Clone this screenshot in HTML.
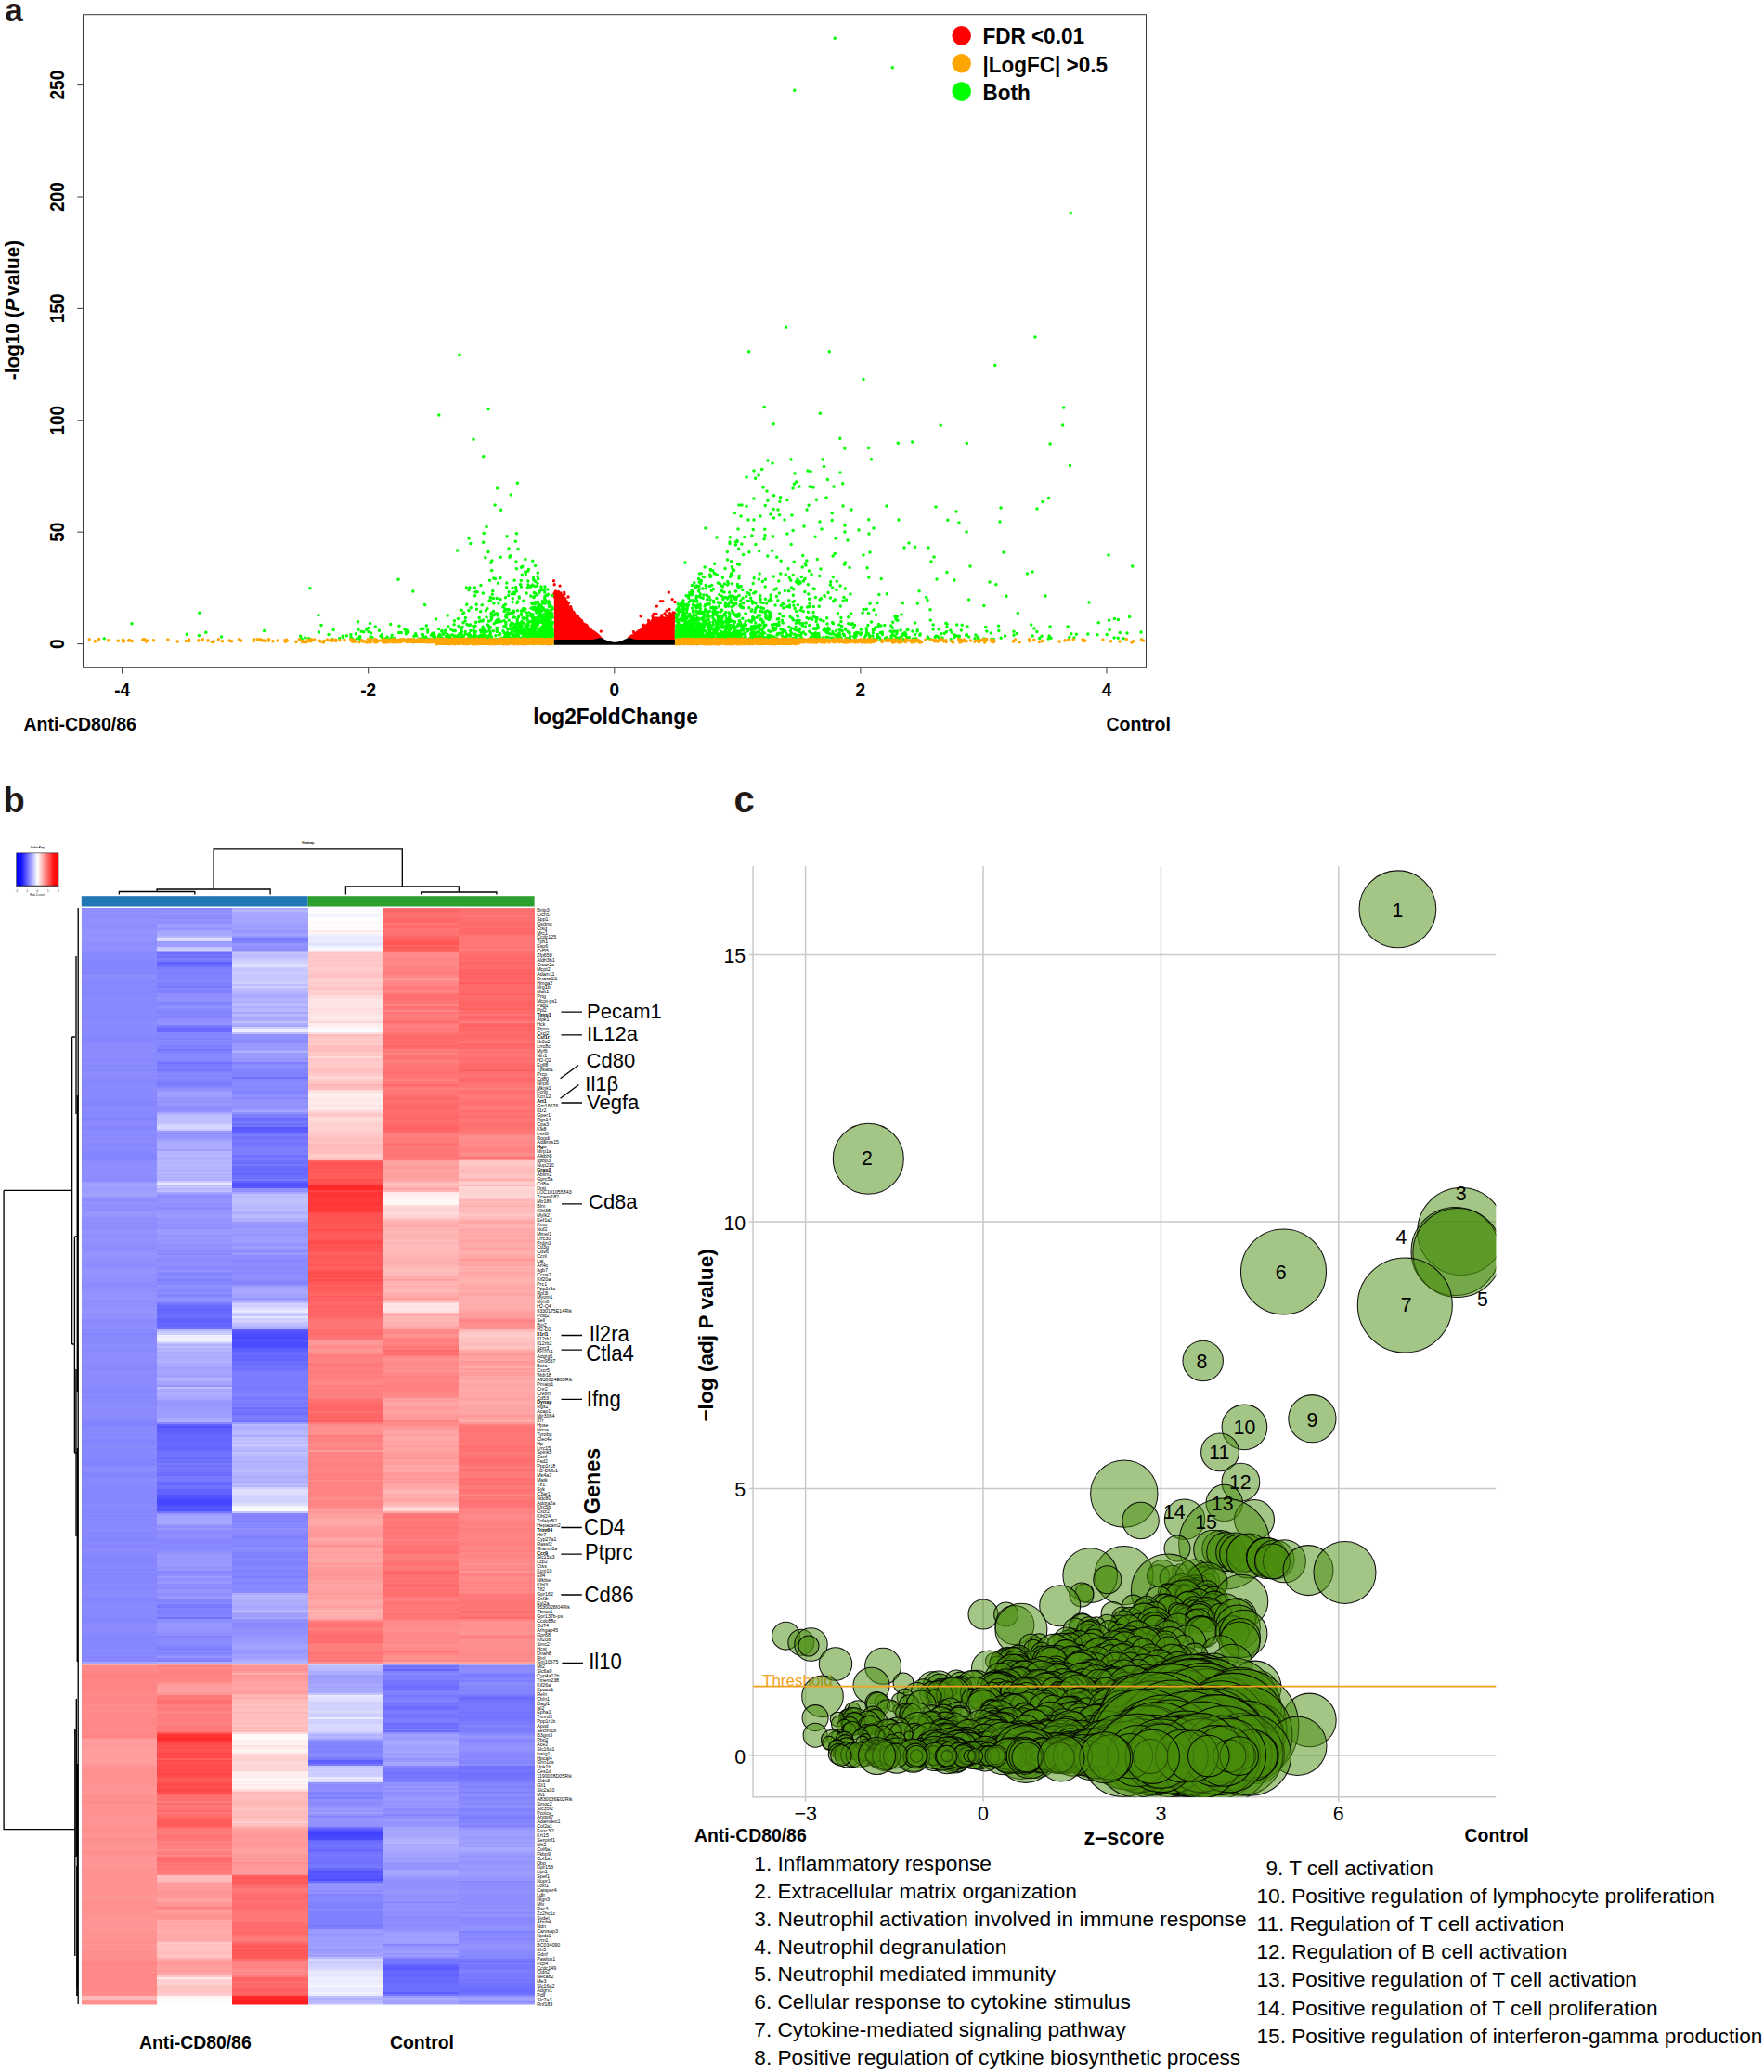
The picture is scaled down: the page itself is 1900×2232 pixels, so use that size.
<!DOCTYPE html>
<html lang="en"><head><meta charset="utf-8"><title>Figure</title>
<style>html,body{margin:0;padding:0;background:#fff}svg{display:block}text{font-family:"Liberation Sans",sans-serif;fill:#000}.b{font-weight:bold}</style></head><body>
<svg width="1900" height="2232" viewBox="0 0 1900 2232">
<rect width="1900" height="2232" fill="#fff"/>
<g id="panel-a">
<text class="b" x="5.2" y="23.2" font-size="35" style="fill:#231815">a</text>
<path d="M596.8 689 L596.8 639 L602 641 L607.2 644.5 L612.7 653.5 L619 662.5 L625.4 668.5 L634.4 678 L642.5 684.5 L646 687.6 L647.5 689 Z" fill="#f00"/>
<path d="M726.9 689 L726.9 661 L725 663 L714.2 666 L707 666.8 L701.5 669.5 L695.2 675.3 L688.8 679.6 L682.2 685 L678.8 687.6 L677.5 689 Z" fill="#f00"/>
<path d="M607.6 648.9h0M634.1 681.4h0M634.6 677.4h0M622.9 668.4h0M639.1 684.2h0M613.5 658.3h0M624.3 669.6h0M610.3 647.9h0M647.1 688h0M646.5 688h0M607.4 643.7h0M643.8 687.1h0M640.1 681.2h0M646.1 688h0M625.8 673.1h0M641.9 682.8h0M646 688h0M646 686.2h0M607.2 646.9h0M598.9 643h0M597.9 643.2h0M605 642.5h0M640 684.7h0M622 664h0M647.2 688h0M622.2 663.8h0M647.2 688h0M645.8 687.6h0M646.9 688h0M615.6 656.7h0M602.2 641.7h0M640.8 681.7h0M646.2 688h0M611 649.8h0M604.8 643.2h0M647.1 688h0M632.1 678.9h0M643.2 685.5h0M615.5 657.8h0M634.5 678.9h0M640.1 683.2h0M645.2 686.6h0M646.4 687.4h0M603.1 641.1h0M646.2 688h0M627 670.4h0M644.5 686.5h0M600.2 639.2h0M622.5 669.6h0M646.3 687.4h0M607.5 646h0M645.2 688h0M600.8 640.6h0M636.5 678.6h0M608.1 649.5h0M632 678.2h0M646.1 688h0M600.4 639.1h0M619 661.7h0M604.6 642h0M604.6 647h0M609.9 647.7h0M646.2 687.5h0M614.8 653.7h0M626.2 672.9h0M618.5 666h0M619.9 663.6h0M597.6 642.7h0M603.7 643.5h0M607.2 643.8h0M622.1 664.8h0M632.1 674h0M622.5 664.3h0M605.7 647.7h0M622.3 667.3h0M611.7 655.7h0M606.5 642.4h0M612.9 655.5h0M641.7 687.2h0M630.6 676.8h0M639.4 683.6h0M622.2 664.8h0M623.4 668.1h0M646 688h0M614.9 655.4h0M645.4 685.7h0M641.4 683.6h0M630.2 676h0M631.5 673.1h0M602.4 644.6h0M617.4 663h0M605.8 641.4h0M627.5 674.3h0M644.5 685.5h0M642.8 683.2h0M624.7 667h0M632.2 675.3h0M647.5 688h0M623.2 670h0M602.9 646.1h0M647.4 688h0M632.5 679.1h0M602.6 645.1h0M637 679.3h0M643.5 685.5h0M604.8 641.5h0M625.5 672.2h0M634.3 677.3h0M647.5 688h0M611.7 653.4h0M607.9 644.6h0M599.9 641.6h0M619.7 664h0M607 644.1h0M599.8 641.2h0M623.3 666.3h0M615.1 661.4h0M607.5 648.9h0M646.3 688h0M646.8 688h0M615.6 658.4h0M608.4 647.9h0M599.2 641.4h0M599.5 643.2h0M605.9 644.5h0M615.8 658.1h0M621.4 667.4h0M611.4 651.6h0M647.3 688h0M609.8 650.8h0M629.6 675.7h0M647.1 688h0M597.1 639.4h0M644.2 688h0M614.3 658.3h0M601.1 640.3h0M624.8 667.8h0M601.8 643.3h0M597.2 642.8h0M610.6 652.4h0M617.4 663.6h0M608.6 645.6h0M603.1 631.1h0M603.5 646.3h0M607.7 647.5h0M599.6 643.4h0M597 640.8h0M615.1 659.5h0M602.8 642.5h0M620 665.1h0M597.8 638.1h0M642.5 688h0M633.3 676h0M646.7 688h0M616.1 659.4h0M634.6 681.8h0M618.3 662.7h0M607.7 638.1h0M643.1 688h0M603.8 641.3h0M641.3 683.8h0M646.9 688h0M610.4 651.8h0M603.4 645.1h0M625 672.6h0M641.8 682.9h0M601.8 641.3h0M621.7 667.5h0M606.7 646.2h0M646.5 687.8h0M618.2 660.6h0M646.3 688h0M597.2 629.8h0M607.8 645.8h0M646.4 688h0M615.3 656.1h0M632.6 679.3h0M602.4 643h0M635.3 680.4h0M623.5 668.8h0M636.8 680.2h0M635.5 677.9h0M624.2 670.3h0M614.2 655.5h0M608.9 645h0M602.5 641.9h0M606.9 645.4h0M597.8 641.7h0M626.7 668.8h0M647 688h0M614.3 659.2h0M645.8 688h0M613.2 654.3h0M643.8 688h0M644.2 684.5h0M617.9 659.6h0M627.8 673.9h0M646.5 688h0M647.3 688h0M643.7 688h0M631.7 676.9h0M644.8 685.5h0M640.2 686.3h0M620.5 663.6h0M599.6 639.1h0M625.5 669.2h0M627.1 674.1h0M611.7 655h0M645.9 688h0M600.3 639.5h0M638.9 680.5h0M630.1 672.9h0M599.1 639.9h0M608 645.8h0M630.8 674.6h0M603.6 642.3h0M617.8 659.5h0M613.8 656.2h0M607.7 644.6h0M642.6 683.9h0M625.3 668.6h0M647.3 680.1h0M597.1 640.5h0M609.6 651.9h0M616.4 660.8h0M628.5 671.9h0M647.4 688h0M646.9 688h0M613.7 656.7h0M642.9 686.7h0M699.4 672.1h0M678.2 688h0M693 675.5h0M705.9 666.8h0M711.8 670.7h0M691 680.9h0M679.1 688h0M684.5 682.5h0M724.4 665.4h0M720.7 667.4h0M726.4 661.6h0M678.2 688h0M720.7 666h0M702.4 671.4h0M688 683.6h0M683.6 688h0M688.4 679.7h0M691.7 679.5h0M691.5 680.5h0M697.2 677.4h0M678 688h0M699 674h0M688.9 681h0M682.6 684.7h0M721.9 663.5h0M695 675.3h0M712.9 667.5h0M690.8 679.8h0M720.5 667h0M695.6 675.5h0M704.3 670.3h0M711 667.5h0M694.5 677h0M694.9 675.6h0M698.5 668.4h0M707.1 666h0M710.6 669.9h0M677.6 687.3h0M698.5 671.6h0M679.7 688h0M684.2 687.5h0M707.8 670.5h0M713.1 664.6h0M701.4 672.5h0M693.2 673.2h0M699.2 672h0M686.4 681.3h0M684.9 684.1h0M707.1 668h0M687.1 683.8h0M690.4 681.2h0M677.6 688h0M699.3 670h0M698.6 672.3h0M725.6 664.9h0M723.3 665.3h0M678.6 688h0M679.9 688h0M704.9 670.3h0M720.9 664.7h0M725.5 662.6h0M701.5 672.3h0M680.8 685.2h0M709 666.3h0M677.5 688h0M682.3 687.1h0M712.5 664.8h0M693.3 679.1h0M680.2 688h0M695.9 676.3h0M685.6 683h0M705 668.7h0M694.2 675.6h0M707.1 670h0M678.4 688h0M682.8 687.7h0M715.8 667.9h0M707.2 669.8h0M700.3 672.3h0M697.7 677.4h0M702.9 664h0M677.9 688h0M688.7 684h0M686.5 681.3h0M714.1 668.2h0M710.7 666.1h0M724.6 662.2h0M677.7 688h0M721 666.4h0M678.6 686.5h0M723.6 662.1h0M722 661.6h0M725.1 666.6h0M725.2 665.8h0M691.9 679.9h0M682.7 687.8h0M677.5 688h0M682.9 683.4h0M703.4 665.6h0M706.4 668.5h0M704.3 669.9h0M699 673h0M680.1 688h0M678.5 688h0M680.2 686.1h0M683.5 686.7h0M698.4 672.5h0M704.3 666.3h0M723.7 662.4h0M679.6 688h0M715.6 666h0M720.1 667.7h0M698.7 670.8h0M726.5 661h0M715.8 667.4h0M703.6 671.2h0M709.3 667.3h0M723.5 662.9h0M681 687.4h0M699.2 669.4h0M707 668h0M691.2 682h0M709.5 669.5h0M709.9 667.1h0M688.6 681.2h0M726.4 660.1h0M707.4 666.2h0M703.2 668.3h0M696.7 673.2h0M678.4 686.7h0M717.6 662.9h0M688 680.6h0M715 666.5h0M680 685.2h0M712.8 662.8h0M721.6 664.7h0M688.7 683.7h0M677.7 688h0M725.1 660h0M709.7 669.9h0M721.6 660.7h0M698.9 673.9h0M726.3 665.4h0M695.9 677.6h0M725.1 661.4h0M709.6 667h0M683.3 687.1h0M678.6 688h0M718.9 667.7h0M693.9 679.1h0M713.2 670.4h0M698.5 675.7h0M719.5 665.4h0M723.2 664.7h0M680.4 685.1h0M723.4 665.1h0M678.1 688h0M680.9 688h0M692.7 680.6h0M678.1 688h0M679.8 687.7h0M688.3 683.5h0M702.7 668.2h0M691.9 680.5h0M688.8 681h0M681.8 688h0M698.9 673.6h0M724.9 661.9h0M690.2 681.3h0M679.5 687h0M726.2 663.7h0M715.6 666.6h0M680.8 685.4h0M708.8 670.8h0M708.4 666.7h0M690.9 677.8h0M693.5 676.8h0M687.9 679.8h0M707 661.4h0M680.9 688h0M719.9 668.6h0M677.7 688h0M686.5 682.8h0M714.6 670.2h0M679.6 687.1h0M678.1 688h0M718.6 665.7h0M682.4 680.6h0M714.7 666.3h0M708.3 667.5h0M726.5 661.2h0M714.1 666.2h0M698.6 671.7h0M712.1 666.8h0M702.8 668.9h0M713.8 666.6h0M702.3 670h0M713.7 667.6h0M678.5 688h0M690.1 663.7h0M596.5 625.8h0M598.5 637h0M601.5 637.5h0M604 639h0M608 640h0M612 643h0M612.5 649.5h0M613 655h0M720.4 638.1h0M724.2 645.6h0M727 648.5h0M711.5 647.6h0M713.8 647.6h0M707.4 653.1h0M718 658h0M721 656.5h0M716 661h0M704 661.5h0" fill="none" stroke="#f00" stroke-width="3.4" stroke-linecap="round"/>
<path d="M760.2 630.4h0M734.3 681.6h0M733 688.4h0M774.8 683.1h0M773.5 685.9h0M748.8 631.9h0M798.8 585.9h0M732 683.6h0M740.9 672h0M867.2 607.2h0M811.8 665.7h0M733.4 679.4h0M821.8 677.4h0M800.5 679.1h0M858.1 679h0M798.3 631.8h0M738.4 664.6h0M741.6 688.3h0M818.7 663.1h0M899.3 646.1h0M802.2 671.9h0M878.7 665.8h0M817.7 593.8h0M813.7 637.7h0M755.6 666.3h0M730 686.2h0M739.5 666.5h0M896.6 633h0M793.6 643.2h0M892 638.6h0M764.6 618.9h0M741.5 676.7h0M749.9 671.6h0M753.1 660.6h0M765.9 620.5h0M824.5 659h0M820.7 505.5h0M852.5 633h0M769 686.5h0M810.7 683.7h0M747.3 668.4h0M732.5 682.3h0M736.9 688.6h0M898.5 683.2h0M752 680h0M779.6 686.8h0M736.9 683.8h0M873.1 686.8h0M975.9 683.3h0M792.5 637.1h0M1043.6 646h0M752.9 685.3h0M849.5 636.7h0M1072.8 629.8h0M838.7 626.1h0M764.2 687.4h0M755 626.2h0M985.7 589.2h0M982.9 680h0M749.2 677.5h0M808.5 635.8h0M781.7 648.9h0M735.4 649.2h0M853.4 666.2h0M744.2 681.6h0M860.7 670.8h0M770.2 659.2h0M743.4 681.2h0M921.4 683.3h0M872 650.3h0M763.5 685.9h0M729.3 673.4h0M789.5 674.1h0M896.9 680.5h0M751.9 674.8h0M800.6 649.7h0M739.6 681.4h0M778.4 631.7h0M772.9 672.6h0M790.4 688.5h0M775.7 688.8h0M860 628.9h0M834.2 676.2h0M788.1 649.2h0M737.3 684.2h0M754.7 674.5h0M795.9 623h0M776.2 672.1h0M787.1 673.5h0M790.7 614.2h0M826.8 599h0M752.8 631.4h0M878.7 676.8h0M776 671.8h0M734.3 664h0M748.5 679.2h0M783 644.1h0M742.5 675.9h0M762.1 667.3h0M833.3 620.9h0M775.8 663.9h0M808.4 687.1h0M754 660h0M927.3 678.2h0M741.4 673.9h0M827.1 684.2h0M823.8 686.7h0M887.5 502.5h0M777.8 669.4h0M942.8 676h0M789.6 681.1h0M742.5 678.4h0M758.8 658.8h0M756.2 685h0M763.1 672.6h0M729.3 677h0M745.3 638h0M737.3 679.4h0M784.2 676.4h0M786.1 585.4h0M762.6 662.2h0M811.1 676.5h0M732.7 686h0M839.1 673.6h0M735.3 655.2h0M819.3 667h0M756.6 685.5h0M1023.8 678.9h0M1005.2 673.1h0M728.2 679.7h0M785.5 642.4h0M728.5 685.4h0M770 687.7h0M757.9 640.9h0M790 660.9h0M831.5 673.1h0M760.5 685.5h0M833.9 687.6h0M876.3 653.4h0M836.9 684.1h0M789 642h0M862.3 657.3h0M911.6 646.3h0M749.5 681.8h0M795.3 662.4h0M821.9 688.9h0M859.4 663.9h0M791 687.2h0M837.8 682.4h0M753.4 684.4h0M838.7 666.4h0M767.7 662.9h0M847.8 653.6h0M734.7 676.5h0M839.8 661.1h0M729.1 676.9h0M819.7 654.6h0M756.3 676.1h0M746.3 637h0M729.5 663.3h0M1011.2 677.7h0M747.4 684.5h0M799.7 635.6h0M907.2 679.5h0M915.4 688.1h0M728.4 680.3h0M757.6 666h0M759.3 689h0M842.2 684.7h0M801.2 673.4h0M754.5 683.3h0M751.6 652h0M745.4 630.5h0M905.3 653h0M929.1 660.2h0M832.6 578.1h0M777.3 663.9h0M739.3 681.7h0M752.8 681.8h0M795 684.1h0M1192.2 683.6h0M745.6 668.6h0M735.9 676h0M797.4 651.2h0M771.8 671.7h0M766.9 687.6h0M754.8 686.3h0M785.6 638.2h0M748.1 674.8h0M770 618h0M883.3 688.2h0M730.8 654.2h0M780.8 689h0M768.9 649h0M887 678.7h0M737.6 656.2h0M822.2 649.5h0M813.7 670.9h0M794 582.6h0M749.8 668.7h0M757.8 673.2h0M811.2 685.5h0M734.1 674.8h0M768.4 634.5h0M728.9 679.9h0M828.3 688.3h0M784.8 675.2h0M752.5 637h0M749.2 668.2h0M772.9 683.8h0M859.1 663.8h0M747 681.9h0M869 665.5h0M784.3 672.4h0M772.4 619.3h0M741.1 684.8h0M1028.4 684h0M733.2 652.4h0M904.8 472.2h0M948.5 681.6h0M953.8 687.9h0M817.8 674.8h0M761.2 688.9h0M755 625.2h0M738.9 685h0M764.3 650.8h0M774.6 649.3h0M766.4 684.2h0M765.3 688.3h0M771.5 655.1h0M731.5 686.4h0M935.7 559.8h0M806.9 594.8h0M759.3 688.8h0M843.9 655h0M963.9 664h0M781.1 612.5h0M768.2 655.7h0M784 683.9h0M861.4 626.5h0M849.9 675.2h0M759.7 656.5h0M751.4 687.2h0M794.2 583.6h0M904.7 677.9h0M735.3 659.3h0M829.7 680.5h0M772.4 662.7h0M841.3 652.4h0M738.7 683h0M796.8 652.5h0M746.3 675.2h0M741.8 673.5h0M786.3 578.8h0M815.1 685.8h0M781 643.4h0M930.1 656.4h0M800 676.1h0M893.3 678.2h0M851.7 685.1h0M802.6 682.1h0M765.9 675.7h0M752.3 667.9h0M746.8 669.5h0M821.3 659.1h0M746.8 674h0M733.4 667.9h0M793.7 686.5h0M742.8 679.4h0M755.4 626h0M758.9 679.7h0M765.2 613.6h0M773.4 676.7h0M904.3 682.6h0M729.3 673.7h0M785.8 666.9h0M788.6 686h0M783.5 603h0M1033 687h0M871.1 544.3h0M748.7 652.8h0M873.3 665.9h0M770 677.9h0M915.1 611.4h0M731.3 687.1h0M803.3 661.2h0M758.1 670.6h0M773.7 675h0M775.5 628.9h0M783.3 594.5h0M852.5 682.1h0M780.8 680.2h0M774.4 652.9h0M786.7 621.3h0M735.1 664.2h0M786.9 642.1h0M767.1 685.7h0M888 641.5h0M783.7 626.4h0M742.9 640.5h0M733.6 666.2h0M742.3 683.2h0M867 623.5h0M935.5 660.4h0M786 688.1h0M821.6 683.3h0M854.3 619.6h0M811.2 628.4h0M794.6 631.3h0M737.2 672.1h0M769.3 682h0M1110.7 672.9h0M847 682.4h0M839.9 540.3h0M800.5 678.6h0M728.2 682.9h0M806.7 668.4h0M913.7 664.8h0M815.1 688.8h0M764.1 663.6h0M748.9 671.8h0M746.8 676.8h0M740 684.1h0M741.4 641.7h0M896.6 670.5h0M753.3 634.7h0M796 660.9h0M776.3 657.2h0M751.6 688.1h0M790.4 681.9h0M733 688.8h0M793.9 684.9h0M746.4 675.7h0M812.4 683.4h0M758.5 688h0M909 643.6h0M728.6 668.9h0M779.5 674.2h0M749.1 675.7h0M731.3 667.5h0M825.7 650h0M753.5 677.4h0M855.7 678.1h0M812.5 681.8h0M902.4 660.7h0M750.2 632.2h0M840.7 618h0M809.9 657.1h0M888.2 642.4h0M797.5 682.5h0M740.9 683.8h0M945.4 683.5h0M810.6 649.9h0M733.7 681.7h0M867.9 608.9h0M733.7 649.3h0M965.4 667.4h0M865.4 626.1h0M810.1 681h0M736.5 685.2h0M759.7 688.6h0M752.5 623.5h0M765.8 614.6h0M785.7 664.4h0M730.7 680.2h0M849.9 646.7h0M791.5 552.6h0M735.9 685.9h0M859 625.3h0M763.1 682.4h0M964.8 666.3h0M826.9 685.3h0M811.2 570.6h0M826.2 657.9h0M764.2 677.9h0M909.8 483.1h0M730.2 676.9h0M918.3 671.8h0M905.1 631h0M790.4 652.3h0M813.5 677.3h0M741.9 669.5h0M839.4 639h0M850.1 684.3h0M779 682.4h0M745.6 666.3h0M880.6 673.1h0M751.5 674.4h0M742.5 685.2h0M1031.7 685.1h0M997.7 643.5h0M858.3 668.6h0M746 686.9h0M747.1 688.4h0M769.9 661.8h0M785.1 673.2h0M740.6 679.8h0M839.1 670.3h0M798.2 674h0M749.4 647.7h0M850.3 622.5h0M821.6 670.4h0M758.9 686.8h0M772.8 659.6h0M809.7 647.3h0M778 676.2h0M820.5 682.8h0M815.4 674.3h0M783.4 688h0M792.5 583.7h0M960.1 685.2h0M798.3 654.3h0M787.1 643.5h0M788.7 612.1h0M747.5 679.5h0M764.2 670.6h0M770 656.5h0M772.9 678.8h0M753.4 617.9h0M959.2 680.1h0M861 680.4h0M739.5 660h0M810.7 664.8h0M749.1 680.6h0M811.8 639.1h0M780 638h0M739.1 681.4h0M884.3 644.7h0M752.1 684.9h0M728.3 684.2h0M751.2 676.1h0M774.1 663.5h0M765.1 646.1h0M732.9 651.3h0M854 525.9h0M810.5 688.1h0M977.2 678.6h0M736.9 677.3h0M851.1 683.2h0M920.7 682.4h0M910.3 634.1h0M818.8 641.8h0M878.1 578.2h0M790.3 673.9h0M904.2 677.9h0M750 654.4h0M733 686.5h0M783.6 669.4h0M891.4 516.5h0M779.9 662h0M879 669.4h0M730.5 671.4h0M782.6 688.2h0M832.2 675.7h0M890.7 665.8h0M789.3 682.8h0M775 669.7h0M872.1 523.9h0M770.6 681.7h0M786.1 661.8h0M857.1 675.4h0M757.3 668h0M854.1 571.4h0M906.2 687.2h0M757.4 677.6h0M937.1 650.3h0M856 655.4h0M806.9 654.8h0M802.6 682.3h0M818.4 645.3h0M736.9 687.4h0M850.5 651.9h0M765.9 654.4h0M795.9 663.7h0M773.1 675.7h0M812.4 687.4h0M797 680h0M864.7 598.4h0M776.7 658.3h0M801.7 578.4h0M781.1 686.3h0M813.1 676.3h0M738.7 687.4h0M895.5 687.3h0M832.5 577.8h0M830.8 647h0M735.3 668.6h0M778.8 681.8h0M1002 688.6h0M729.3 663.6h0M734.9 667.5h0M743 676.9h0M733.1 675.3h0M775.5 685.3h0M859.3 651.8h0M809.7 674.8h0M854.9 634.7h0M796.8 684.6h0M804.6 638.5h0M803.6 673.2h0M908.1 647.3h0M803.7 642.4h0M755.5 672.7h0M773.2 649.1h0M907.6 520.8h0M865.3 658.4h0M754.4 655.5h0M822.9 675.8h0M735.4 662.6h0M746.5 638.3h0M750 666.9h0M779.5 670.2h0M842.4 668.3h0M735.6 664.4h0M749.9 644.6h0M905.9 665.6h0M801.2 673.5h0M744.5 680.7h0M796.4 669.2h0M766.6 630.4h0M855.3 605.3h0M762.8 688.6h0M730.9 658h0M782.8 681.4h0M852.2 586.5h0M847.9 575.1h0M752.2 677.4h0M744.5 686.5h0M795.1 672.5h0M969.8 686.6h0M803 685.4h0M985.6 671h0M1122 685.3h0M752.4 642.4h0M921.1 687.3h0M854.9 652.2h0M1075.6 674.3h0M843.6 650.8h0M757.2 659.4h0M737.2 684h0M739 685.8h0M750.5 631.1h0M729.1 685.8h0M731.1 685.2h0M879.8 667.3h0M762.2 674.9h0M809.4 670.1h0M732.9 676.2h0M740.9 683.5h0M771.7 669.8h0M878.5 682.4h0M783.6 630.1h0M738 688h0M913.3 680.5h0M781.4 669.7h0M941 656.9h0M789.5 650.2h0M744.4 666h0M746.1 684.5h0M805.2 679.9h0M747 665.6h0M865.2 680.9h0M733.7 680.5h0M833.2 548.6h0M761.6 645.7h0M781.3 681.3h0M745 680.5h0M742.7 672.6h0M728.5 680.4h0M787.6 604.7h0M867.4 675h0M830.1 644.5h0M784.2 669.9h0M748.9 683.6h0M751.8 688.4h0M736.4 685.4h0M729.5 676.1h0M788.9 686.2h0M895.4 687.4h0M738.9 677h0M755 661.3h0M740.2 654.2h0M741.2 664.5h0M742.8 638.6h0M768.5 647.2h0M789.4 614.9h0M851.4 679.4h0M862.2 628.1h0M882.7 620.6h0M988.3 678.7h0M773.1 678.3h0M790.3 650.3h0M785.8 679h0M864.2 611h0M730.9 684.2h0M821.3 626.4h0M940.3 678.6h0M788.4 610.7h0M755.9 667.5h0M787.3 646.8h0M790.8 680h0M739.6 665.2h0M756 684.1h0M793 663.9h0M797.5 682.9h0M829.9 663.6h0M806 678.4h0M750.9 652.1h0M767.8 688.8h0M763.8 683h0M794.9 680h0M733.8 679.6h0M733.3 679.7h0M837.3 667.1h0M991.2 683h0M761.9 664.6h0M806.8 639.6h0M788 653.8h0M845.3 636.6h0M829.4 684.7h0M896.3 552.8h0M800.5 597.5h0M797.8 647.1h0M897.5 671.8h0M777.5 657.8h0M756.6 672.2h0M768 653.9h0M883.7 667.8h0M744.8 686.1h0M798.5 686.5h0M935.8 622.1h0M990.1 636.8h0M729 656.9h0M784.6 651.3h0M791.6 669.7h0M787.9 676.2h0M764.5 679.4h0M970.9 662.1h0M736.6 680.4h0M795.8 631.6h0M1002.3 668.1h0M808.6 676.8h0M790.1 684.1h0M759.5 651.8h0M824.3 544.5h0M908.1 682.9h0M756.2 674.5h0M745.2 640.8h0M804 545.3h0M811.2 648.5h0M855.4 647.4h0M728.4 662h0M800.6 682.9h0M784.7 681.2h0M813.6 515.3h0M798.3 685.5h0M742.1 687h0M736.7 656.6h0M870.4 629.7h0M760.1 679.7h0M743.3 684h0M920.5 673.5h0M777.2 687.7h0M909.9 573.1h0M775.7 682.1h0M731.8 658.8h0M759.1 653.1h0M757.8 621.4h0M784.3 682h0M768.7 683.3h0M758.5 675h0M857.4 671.3h0M756.3 686.5h0M790.8 675.4h0M763.6 676.9h0M755.5 687.1h0M817.8 683.9h0M828.6 663h0M876.2 634h0M876.8 682.8h0M763.8 678.6h0M785.8 648.9h0M739.6 683.7h0M917 672.5h0M751.3 684.3h0M897.3 621.5h0M792.4 586.9h0M768 669.9h0M758.7 687.1h0M744.1 681.9h0M817.4 624.1h0M764.9 681.2h0M733.7 684.9h0M739.2 683.2h0M770.5 654.5h0M904.2 683.9h0M754.7 628.5h0M817.6 672.9h0M816.5 680.4h0M882.2 653.2h0M836.9 687.7h0M731.4 680.1h0M757.7 688.2h0M758.7 684.8h0M878.4 643.5h0M752.2 666h0M851.2 685h0M886.3 687.3h0M747.5 662.6h0M735.5 680.7h0M841.2 678h0M735.8 679.8h0M946.9 640.6h0M809.4 687.4h0M826.5 666.4h0M827.8 679.4h0M793 661.9h0M792.6 684.8h0M764.5 684h0M758.6 621.5h0M819.3 667.1h0M787.6 618h0M740.7 681.8h0M866.9 637.4h0M743.3 672.3h0M778.9 645.4h0M738.1 669h0M747.1 672.7h0M746.1 677.8h0M737.9 678.2h0M765.1 684.7h0M729 668.4h0M796.2 641.6h0M774.9 640.4h0M728.8 673.7h0M809.3 658.3h0M751.9 681.3h0M730.4 661h0M757 633.9h0M881.7 682.4h0M854.3 641.2h0M759.8 671.9h0M766 682.9h0M731.5 673.6h0M868.9 603.9h0M966.3 664h0M742.2 648.2h0M734.9 686.1h0M776.2 686.8h0M731.4 685.7h0M833.6 533.7h0M887 669h0M755.4 674.1h0M773 675.4h0M818.2 617.9h0M742.8 661.3h0M796.2 683.1h0M735.4 678.8h0M1019.9 616.6h0M820.8 678.2h0M797.6 671.1h0M813.7 656.5h0M905.9 669.4h0M821.4 686.3h0M816.8 662.8h0M772.3 669.5h0M769.6 677.1h0M909.5 684.7h0M890.9 679.7h0M790.3 643.1h0M794.4 629.5h0M737.9 673.8h0M734.9 687.8h0M775.7 669.8h0M831.1 685.1h0M1112.1 685.1h0M873.8 682.2h0M851.1 664.5h0M766.4 636.3h0M747.8 627.8h0M773.7 666h0M897.1 598.9h0M896.2 560.5h0M762.4 664.1h0M871.6 645.2h0M837.9 646.7h0M731.7 687.4h0M793.5 685.8h0M941.3 678.4h0M745.7 654.9h0M799.6 687.5h0M737.7 685.5h0M794.5 607.7h0M791.6 645.3h0M972.3 649.7h0M741.5 652h0M860.5 670.1h0M868.2 671h0M769.2 667.4h0M734.6 685h0M912.5 687.4h0M743.4 677.5h0M798.8 677h0M728.6 683.1h0M754.2 652.3h0M753.1 673.9h0M986.6 687.8h0M795.7 633.3h0M850.4 654h0M897.5 647.7h0M757.9 660.8h0M786.5 677.9h0M793.8 687.4h0M782 682h0M750.1 686.2h0M728.7 680.1h0M776.5 680.3h0M743.3 672h0M758.4 672.1h0M734.9 651.8h0M894.7 626.8h0M916.6 661.1h0M730 676.7h0M828.2 646.9h0M746.4 651.3h0M813.9 586.6h0M999.3 686h0M864.3 674h0M740.2 653.7h0M899.3 596.5h0M747.7 662.5h0M814.1 655.2h0M761.9 658.8h0M731.9 682.6h0M784.1 681.5h0M796.3 687.5h0M806.3 677.6h0M736.1 682.3h0M847.9 538.4h0M773.3 668.1h0M794.6 664.2h0M761.1 682.6h0M830.2 641.1h0M777.7 642.2h0M960.6 688.2h0M781.1 652h0M765.1 683.3h0M844.2 686.5h0M739.9 657.2h0M765.5 677.7h0M838.1 683.2h0M730.5 684.8h0M1059.8 652.5h0M762.8 675.6h0M760.2 686.6h0M836.7 600.2h0M770.3 687.6h0M796.3 620.6h0M966.4 679.9h0M751.9 659.5h0M748.1 685.7h0M891.5 677.8h0M842.5 677.8h0M761.2 641.2h0M742.6 672.5h0M777.7 636.9h0M747.4 680.5h0M852.4 682h0M892 676.3h0M728.9 686.6h0M837.5 673.1h0M822.4 655.6h0M934.1 611.8h0M824.2 632h0M749.7 686.9h0M729.7 683.3h0M901.3 626.3h0M740.1 685.6h0M823.1 580.8h0M785.2 660.1h0M784.4 678.1h0M748 647.8h0M836.1 672.4h0M753.3 686.7h0M786.5 668.1h0M765.1 621.6h0M815.1 665.2h0M824.4 624.3h0M832 676.7h0M772.7 677.5h0M768.1 685.5h0M752.2 679.6h0M750.7 682.7h0M880.3 602.6h0M732.2 682.8h0M813.5 677.8h0M1020.8 560.2h0M750 662.4h0M767.2 677.7h0M789.5 659.4h0M760 672.3h0M748.8 683.1h0M781.3 679.1h0M943.5 662.2h0M789.7 681.9h0M743.6 677.7h0M812.2 622.8h0M894.4 643.9h0M874.7 684.3h0M741.8 684h0M764.3 672.7h0M777.6 657.2h0M1204.4 667.5h0M781.6 653.6h0M741.4 680.8h0M788.5 657.7h0M762.2 688.6h0M746.5 687.9h0M744.2 683.1h0M735.9 656.3h0M746.6 659.3h0M807.1 687.7h0M776.1 659h0M756.8 667.3h0M864.9 671.4h0M799.1 683.2h0M1020.1 672.2h0M818.1 686.8h0M844 663.7h0M784.5 653.1h0M730.2 679.6h0M779 675.9h0M780.8 674.6h0M783.6 645.1h0M819.3 673.4h0M731.5 676.4h0M848.6 684.7h0M796.4 608.2h0M830.1 687.2h0M824.6 661.6h0M867.6 683.3h0M761.5 688.9h0M1096.3 660.4h0M794.7 674.3h0M732.4 657.1h0M861.2 678.3h0M746.6 651.1h0M766.5 673.9h0M800.1 644.2h0M746.4 673.7h0M732.4 677h0M771.3 679.9h0M754.3 682h0M830 660.3h0M777.9 674.7h0M901 635.6h0M811.9 537h0M734.2 685.8h0M820.2 678.3h0M747.6 686h0M933.5 679h0M772.1 682h0M922.3 682.9h0M732.9 688.3h0M876.7 664.2h0M799.8 666.2h0M741.8 682h0M879.4 538.2h0M1050 687.8h0M767.4 683.3h0M792.9 645.7h0M835.1 651.9h0M738.1 686.8h0M756.3 660.2h0M784.5 686.5h0M782.6 666.2h0M792 678.6h0M754.1 651.1h0M749.3 688.4h0M803.1 677.1h0M965.5 687.2h0M761.4 682.9h0M839.5 554.8h0M757.2 644.5h0M736.3 663h0M802.5 688.1h0M787.3 619.2h0M739.7 681.4h0M766.7 685h0M743.4 681.7h0M879.9 665.4h0M738.3 675.8h0M738.4 685.9h0M791.1 677h0M746.2 684.7h0M785.3 688.6h0M824 576.6h0M741.8 687.6h0M769.1 681.1h0M909.8 607.9h0M750 659h0M830 665.5h0M803.2 687.8h0M807.2 640.5h0M762.5 675.5h0M771.7 686.9h0M751.2 666.5h0M741.6 686.3h0M746.2 669.3h0M784.6 628.4h0M842.5 681.5h0M808.7 644.2h0M736 681.8h0M742.6 668.8h0M840.6 535.7h0M955.4 639.7h0M861.2 668.4h0M871.4 615.1h0M757.3 673.2h0M855.4 521.2h0M749.8 657.9h0M750.3 642.2h0M823.1 673.6h0M854 648.6h0M961.7 670.2h0M735.6 658.9h0M762.2 649.6h0M857.5 626.7h0M772.7 674.6h0M761.7 664.4h0M881 676.5h0M776 649.4h0M738.6 688.3h0M870.4 659.3h0M988 679.9h0M909.4 608h0M769.3 617.4h0M786.2 683.6h0M874 618.7h0M777.9 682h0M763.8 642.9h0M891 672h0M945 649.4h0M734.6 679.4h0M988.3 649.9h0M810.2 667.4h0M820.8 667.8h0M765.2 687.7h0M876.1 659.6h0M776.9 635.4h0M835.3 687.9h0M910.5 605.9h0M798.7 653.4h0M841.1 678h0M846.2 619.1h0M772.9 664.4h0M862.4 671.7h0M999.1 646.6h0M754.8 643.5h0M871.7 673.6h0M740.5 651.9h0M742.6 685.6h0M758.8 669.6h0M767.8 614.7h0M745.1 635.4h0M746.1 678.2h0M737.5 666.8h0M768.1 682h0M746.8 677.7h0M877.2 634.6h0M759.1 610.9h0M780.3 661.6h0M842.9 649.5h0M933.1 676.7h0M809.8 577.1h0M731.5 676h0M763.9 682.2h0M751 648.1h0M843.2 671h0M863.6 654.6h0M813.1 659.2h0M824.9 673.3h0M959.8 673.9h0M769 679.2h0M745 674.9h0M788.6 628.7h0M739.9 687.8h0M771.9 644.4h0M818.6 673.3h0M798.1 556h0M855.7 683.2h0M819.6 667.8h0M915.9 639.9h0M814.1 684.8h0M828.2 658.9h0M754.5 639.9h0M871 666.5h0M748.9 632.2h0M1030.7 672.9h0M826.9 539.3h0M760.4 633.7h0M740.4 686.2h0M776.6 649.3h0M731.4 687.2h0M749 681h0M761.1 683.7h0M857.7 519.1h0M864 687.9h0M851.8 625.2h0M773.4 627.9h0M834 672.4h0M787 682.4h0M894.3 630.1h0M781.5 649.8h0M822.4 670.3h0M762.4 659.8h0M755.4 617.8h0M787.7 683.3h0M828 663.5h0M795.6 591.2h0M841.2 604.3h0M833.4 686.9h0M833.3 679.1h0M764.2 631.5h0M1119.6 687.4h0M743.9 646.8h0M862.2 685.1h0M780.4 628.9h0M858.2 627.2h0M739.4 651.4h0M786.4 669.6h0M729.8 670.3h0M966.9 668.3h0M836.4 634.1h0M879.4 687.8h0M747.9 679.9h0M728.8 666.2h0M790.9 662.2h0M808.6 669.8h0M811.9 667.7h0M922.2 685.1h0M801.6 672.8h0M778.2 664.3h0M829 686.8h0M834 635.2h0M770.1 660.1h0M750.6 665.8h0M803.2 669h0M1084 642.2h0M870.8 640.1h0M861.5 684.3h0M750.7 684.1h0M819.7 657.9h0M934.9 673.4h0M729.6 687.4h0M1025.4 681.5h0M863.3 621.6h0M737.3 651.5h0M869.6 654.1h0M802.3 686.8h0M732.7 683.6h0M769.6 607.2h0M730.1 663.6h0M778.4 622.3h0M747.1 686.8h0M1036.2 673.3h0M736.2 657.2h0M883.1 646h0M757.7 685.7h0M804.7 647.4h0M728.6 684.4h0M825 666h0M778.1 666h0M814 649.7h0M858.9 623.9h0M831.7 593.3h0M884 613h0M744.4 678.2h0M828.8 659.4h0M763.3 686.8h0M776.1 663.5h0M949.2 623.5h0M842.9 663.8h0M771.8 673.1h0M906.7 674.6h0M849 612.7h0M858.2 685.1h0M871.5 653.4h0M765.7 613.7h0M742.5 670h0M791.6 675.2h0M824.5 645.3h0M751.6 687.6h0M824.6 664.6h0M1002 656.7h0M815.8 653.4h0M757.8 685.2h0M729.3 686.7h0M823.7 570.3h0M744.2 671.7h0M771.3 675.3h0M762.5 688.3h0M873.1 507.7h0M861.5 677.3h0M742.2 673.1h0M817 676.8h0M736.5 680.9h0M814.9 681.5h0M739.5 681.1h0M833.5 558h0M751.9 674.3h0M755.7 659.2h0M748.9 676.6h0M767.9 665.7h0M780.5 687.7h0M817.6 680.9h0M729.3 681.4h0M733 680.9h0M777.5 687.7h0M733.1 680.4h0M735.7 685.6h0M751.2 687.4h0M730.9 683.1h0M753.3 652.5h0M760.3 688h0M738.1 671h0M761 662h0M858.6 663.2h0M732.7 650.9h0M757.7 685.4h0M735.5 662.5h0M737.6 687.9h0M740.3 654.9h0M752.6 671.6h0M731.2 681h0M743.3 686h0M771.3 683.1h0M754.2 686.4h0M728.5 675h0M756.8 688.7h0M753.3 671.2h0M758.7 685.5h0M755.6 676.7h0M770 686.9h0M792.8 650.5h0M781.7 663.2h0M746.3 658.2h0M736.1 685.6h0M764.3 658.3h0M731.5 685.8h0M729.5 681.4h0M734.1 686.2h0M783 677.4h0M839.6 682.2h0M773.3 688.9h0M845.9 685.5h0M753.9 679.5h0M845.9 680.1h0M919.3 676.2h0M737.8 665.2h0M752.3 685.6h0M857.3 683.9h0M748.9 683.5h0M772 688.7h0M746.7 686.7h0M798.1 689h0M765.3 685.1h0M752.1 678.1h0M777.5 687.1h0M739 687.3h0M856.3 686.9h0M733.9 679.2h0M762.7 660.2h0M730.4 685.5h0M735.4 677.4h0M752 682.1h0M815.3 674.7h0M806.3 647.4h0M740.5 651.3h0M748.9 688.3h0M826 687.6h0M728.8 684.5h0M741.6 643.9h0M809.3 681.8h0M758 664h0M793.5 675h0M756.7 687.4h0M739.2 674.8h0M763.2 667.6h0M819.2 645.6h0M736.6 688h0M818.7 677.8h0M736 673.4h0M739.8 685.5h0M746.2 679.2h0M773.1 688h0M781.8 676.1h0M753.4 674.3h0M792 688.9h0M753.7 674h0M777.2 675.2h0M736 646.9h0M789.3 685.5h0M750.5 647.1h0M737.3 682.1h0M857.7 658.5h0M738.6 671.4h0M745.8 674.6h0M786 687.2h0M738.1 685.8h0M740.4 688.5h0M733.9 682.1h0M749.8 688h0M762.8 651.2h0M762.3 683.2h0M776.5 681.4h0M735.7 680.3h0M728.8 674.1h0M735.1 682.9h0M858.6 669.7h0M799.9 675.4h0M768.1 672.9h0M862.9 686.1h0M785.9 684.3h0M739.8 666.2h0M764.6 663.9h0M810.8 677.3h0M736.9 688.8h0M758.5 671.9h0M740.7 688.1h0M728.3 686.5h0M775.4 689h0M738.5 684.9h0M777.5 631.3h0M728.9 687.4h0M836.5 642.6h0M734.5 683.6h0M757.5 683.9h0M749.6 680.4h0M740 688.3h0M731.6 686.7h0M731.9 676.1h0M775.5 685h0M790.5 671.7h0M744.7 680.1h0M736.4 654h0M760.8 688.3h0M734.7 673.4h0M747.4 672.3h0M738.4 667.9h0M792.5 687.7h0M763.2 686.2h0M777 667.4h0M790.4 685.5h0M732 674.6h0M761.2 687.1h0M736.6 677.5h0M732.6 675.7h0M739 685.1h0M750 678.9h0M779.3 688.6h0M779.3 685.7h0M741.7 675.5h0M774.8 676.4h0M820.4 686h0M742.9 674.6h0M740.1 686.8h0M738.3 669.5h0M797.8 672.3h0M854.8 668.1h0M742.8 684h0M778.9 688.3h0M765.4 687.8h0M730.1 679.5h0M734.6 653.5h0M811.5 680.8h0M736.8 687.3h0M756.2 679.3h0M746 672.3h0M758 669.2h0M732.5 688.1h0M747.5 680.3h0M739.7 674.4h0M738.1 684h0M753.8 672.5h0M786.6 682.9h0M751.6 654.3h0M836.1 676.3h0M732.5 681h0M768.3 684.7h0M823.7 687.2h0M753 676.2h0M742.3 688.1h0M783.3 669.5h0M750.9 687.8h0M748 687.7h0M859.7 688.3h0M741.6 669.7h0M733.8 687.5h0M731 686.7h0M758.3 665.3h0M735.4 686.5h0M785.7 681.7h0M744.5 687.3h0M739.1 641.8h0M733 685h0M781.7 659.6h0M821.4 680.5h0M852.6 676.8h0M741.6 680.7h0M778.1 671.5h0M733.6 686.2h0M854.4 687.5h0M794.8 683.5h0M739.4 685.1h0M753.3 627.3h0M734.5 663.5h0M743.5 686.5h0M782.4 683.5h0M736.3 681.8h0M796.6 662.7h0M762.1 688.9h0M785.4 676.7h0M819.4 648.8h0M743.8 664h0M796 684.9h0M746.2 682.8h0M745.4 682.7h0M732.7 685.6h0M823.6 682h0M768.2 660.1h0M784.1 685.3h0M828.3 667.4h0M913.8 671.8h0M784 666.8h0M739.7 674.9h0M747.1 664.8h0M733.8 678.8h0M744.4 666.3h0M744.9 664.4h0M803 661.1h0M734 652.1h0M782.3 674.1h0M770.1 688.4h0M809.3 678.5h0M752.3 683.5h0M788.8 668.8h0M809.2 685.8h0M744.6 685.2h0M732.3 683.8h0M729.1 667.9h0M738.3 688.1h0M730.9 671.1h0M736.9 680.8h0M748.5 667.5h0M850.6 684.1h0M767.9 659.2h0M753.4 658.6h0M780.7 684.1h0M810.4 677.7h0M732.5 677.3h0M798.4 679.3h0M754.4 681.9h0M812.5 674.5h0M737.3 683.1h0M746 646.8h0M775.4 687.3h0M825.8 688.6h0M763.6 681.5h0M778.3 681.6h0M731.9 679.2h0M796.4 668.4h0M745.6 685.7h0M782.4 667.6h0M737.9 660.6h0M922.3 681.5h0M747.1 672.6h0M833.7 686h0M742.4 683.7h0M780.5 686.3h0M759.6 679.8h0M772 687h0M852.9 554.9h0M760.8 668h0M736.1 657.1h0M760 670.2h0M808.7 683.1h0M830.5 685.9h0M729 679.8h0M819.1 658.5h0M851.4 679.6h0M835.3 678.2h0M734.2 675.8h0M792.8 681.7h0M764.7 685.1h0M740.9 681.8h0M756.7 680.7h0M731.9 688.9h0M744.6 672.3h0M782.9 685.4h0M739.8 679.4h0M735.7 676.8h0M821.3 686h0M763.1 672.1h0M783.1 672.5h0M777.4 684.8h0M800.5 654.7h0M730.2 650.8h0M751.3 687.8h0M730.9 667.9h0M773.1 687h0M752.6 675.5h0M785.9 685.3h0M736.9 686.7h0M749.1 676.3h0M742.4 686.7h0M737.9 687.8h0M736.6 684h0M756 686.3h0M754.1 681.3h0M871.7 680.2h0M843.3 680.6h0M736.8 677.2h0M734.3 686.6h0M731.1 673h0M863.7 682.2h0M745.5 681.7h0M745.3 673.5h0M747.9 686.8h0M807.5 677.8h0M728.3 663.9h0M779.9 683.2h0M767.6 655.5h0M748.5 681.5h0M742.2 678.3h0M771.3 671.4h0M846.7 686.9h0M746.2 663.8h0M790.3 677.2h0M773 683.5h0M843.3 678.5h0M748.6 686.4h0M590.6 659.6h0M594.4 677.8h0M568.3 633.2h0M578.4 631.2h0M555 677.4h0M576.1 654.3h0M583.5 679h0M577.6 671.9h0M582.7 653.6h0M588.6 688.6h0M587 632h0M589.2 687h0M583.3 663.1h0M499.6 660.1h0M572.9 630.9h0M517.7 685.5h0M513.5 656.2h0M445.9 685.3h0M590.3 648.2h0M556 680h0M587.6 667.6h0M572.9 682.2h0M546.9 678h0M589 663.9h0M593.1 669h0M594.2 662h0M561.4 632h0M559 675.2h0M589.4 672.8h0M548.9 600.3h0M534.2 688.8h0M531.9 649.9h0M562 675h0M580.4 682.4h0M502.4 633h0M527.1 647h0M580.3 682.6h0M558 591.6h0M568.8 626h0M592.1 663.8h0M589.1 673.1h0M501 668.9h0M572.3 682h0M543.4 685.7h0M568.4 683.1h0M553.3 675.5h0M573.4 650.5h0M539 622.7h0M575.1 674.4h0M590.5 686.2h0M564.6 685.4h0M555.2 680.8h0M528.4 646.8h0M591.9 649h0M594.1 678.1h0M545.1 675.8h0M488.2 679.5h0M528.5 675.7h0M568 684.6h0M557.8 648h0M555.9 634.3h0M530.4 640.2h0M585 654.6h0M465.5 682.7h0M549.7 673.4h0M588.2 667.3h0M568.5 677.7h0M563.4 665.7h0M588.5 680.4h0M467.7 683.6h0M560.8 675.9h0M564 688.3h0M586.4 677.3h0M556 605.1h0M549.5 598.8h0M555.6 632.5h0M551.5 661.5h0M581.3 683.1h0M452.1 688.4h0M563.5 655.7h0M590.5 668.8h0M550.4 689h0M580.6 688.8h0M574.2 668.5h0M526.4 674.3h0M587.7 687h0M580 677.9h0M548 591.1h0M589.2 668.7h0M556.7 684.1h0M544 674.9h0M503.9 683.5h0M588.7 658.9h0M531.4 644.4h0M561.6 674.8h0M564.3 686.2h0M573.7 630h0M584.5 683.5h0M591.7 680.2h0M579.3 683.6h0M551.4 671.1h0M567.7 665.9h0M587.6 686.1h0M579.5 648.5h0M573.6 672.4h0M485.8 678.1h0M581 638.3h0M546.8 683.4h0M554 637.9h0M593.1 681.9h0M591.2 666.2h0M567.1 639h0M572.9 686.8h0M502.9 672.6h0M575.3 685.3h0M549.3 676.7h0M583.2 683.9h0M575.2 676.2h0M588.8 662.5h0M409.9 685.2h0M567.8 683.6h0M551.5 640h0M581.8 653.9h0M570 660.1h0M590.1 667h0M561.2 687.8h0M545.6 685.3h0M580.1 655.4h0M544.5 651.3h0M577.4 681.8h0M443.5 688.9h0M591.7 653.1h0M555.3 583.3h0M545.4 661.9h0M551.3 686.7h0M580.3 656.2h0M554.4 665h0M586.8 676.2h0M579.2 673.6h0M560.3 673.2h0M567.7 675.5h0M552.1 648.8h0M582.7 664h0M535.1 679.2h0M575.1 650.1h0M569.3 683.2h0M571.6 680.3h0M577.8 659.9h0M586.3 635.1h0M553.3 659.6h0M548.5 687.1h0M565.9 602.6h0M530.6 662.6h0M591 664.7h0M568.9 681.3h0M569 633.5h0M520.4 668.1h0M573.8 604.3h0M587.5 677.6h0M494 674.5h0M519.6 668.9h0M587 680h0M590.5 678.4h0M575.4 682.3h0M594.7 680.9h0M595.1 664.7h0M579.4 667.9h0M587.2 650.1h0M558 682.8h0M518.6 679.4h0M560.5 678.5h0M594.1 671.2h0M558.9 685.4h0M586 678.5h0M577.6 686.3h0M584.4 679.5h0M594 660.2h0M583.1 675.7h0M556.5 637h0M563.9 647.2h0M591.1 663.7h0M572.4 686.8h0M570.9 688.9h0M591.6 674.1h0M573 681h0M588.2 676.1h0M577 683.8h0M512 674.3h0M557.6 679.7h0M592 680.8h0M590.7 675.2h0M579.7 649h0M579.1 621h0M577.7 685.1h0M552.3 671.6h0M574.8 624.8h0M571.2 677.8h0M542.9 674.7h0M570.1 680.7h0M554.3 680.4h0M554.4 639.8h0M588 681.9h0M563.7 658h0M557.4 670.5h0M550.4 660.3h0M535.3 680.4h0M572.3 669.3h0M539.9 669.4h0M453.3 677.8h0M521.2 574.6h0M572.5 661.5h0M565.3 683.2h0M504.5 688.1h0M579.2 686.1h0M556.6 680.2h0M581.8 636.3h0M572.5 681.3h0M591.7 674.6h0M557.8 684.7h0M547.7 641.6h0M582.4 652.2h0M584.2 678.9h0M577.3 673.6h0M594.5 665.6h0M512.5 680.5h0M578.6 665.6h0M574.8 685.2h0M586.8 680.6h0M529 668h0M555.4 675.5h0M561.2 661.2h0M595.4 684.1h0M524.9 655.8h0M556.4 612.7h0M581.8 656.8h0M550.4 671.8h0M551 682.8h0M591.3 676.1h0M576 680.8h0M561.3 657.9h0M564.8 671h0M586.7 638h0M562 682.5h0M535.1 644.4h0M585.2 668.3h0M577 687.5h0M554.5 684.2h0M563.7 686.2h0M522.9 687.2h0M584.2 678.5h0M591.9 683.9h0M581.3 679.3h0M533.8 684.8h0M585.5 674.8h0M591 661.5h0M377.9 686.6h0M539.3 600.2h0M575.7 687.3h0M537.3 667.2h0M587.7 646.6h0M574.7 670.2h0M570.9 682.3h0M563.1 686.8h0M595 672h0M521.9 684h0M581.3 661.7h0M586.4 668.2h0M552.9 658.3h0M579.9 680.2h0M590.1 682.8h0M533.3 661.5h0M529.9 604.1h0M592.7 688.6h0M544.3 682.7h0M575.5 676.9h0M590.3 682.5h0M457.6 651.5h0M575.7 681.6h0M590.9 669.5h0M513.2 651.3h0M538.3 683.5h0M566.4 618.4h0M505 635.5h0M574.1 664.6h0M497.2 657.2h0M590.9 666.1h0M594.7 686.7h0M570 681.9h0M585.5 685.6h0M586.9 686.2h0M527.1 678.5h0M584.6 688.1h0M574.7 643.4h0M591.3 650.5h0M560.3 680.2h0M568.2 663.4h0M582.4 681.7h0M582.7 687.2h0M531.3 679.8h0M590.7 676.2h0M545 672.3h0M506.8 585.4h0M583.7 669.8h0M586.5 668.7h0M529.6 686h0M516.4 669.5h0M557.4 657.8h0M545.8 628.1h0M591.1 670h0M549.3 677.5h0M548.2 656.9h0M575.1 672.5h0M535.8 667.6h0M522.9 600.8h0M545.6 632.8h0M511.4 633.1h0M569.9 677.9h0M531.7 623.1h0M551.5 680h0M562.1 669.4h0M591.2 647.9h0M585.5 681.1h0M520.4 677.8h0M575.6 665.7h0M576.5 609.4h0M585.2 688.5h0M591.4 673.3h0M567.6 673.8h0M594.7 660.7h0M548.2 637.7h0M588.9 683.2h0M575.3 638.6h0M561.7 662.6h0M559.2 643.1h0M562.3 619.3h0M577.1 672.8h0M546.8 656.8h0M552.3 644.8h0M572.1 655.3h0M580.3 652h0M529.7 614.5h0M506.8 679.5h0M568.5 615.3h0M588 685.4h0M592.4 688.7h0M569.5 613.6h0M574.3 654.2h0M560.4 671.3h0M568.6 663.4h0M567.5 665.7h0M591.6 671.2h0M523.4 657.7h0M595 683.9h0M557 649.5h0M576.8 677.5h0M591.2 659.9h0M559.3 643.9h0M514.1 637.7h0M593.7 670h0M582.7 653h0M505.9 633.1h0M576.6 657h0M557.4 667.1h0M543.9 657.9h0M569.7 670.4h0M547 688.6h0M580.2 687.7h0M533.4 623.4h0M531.5 658.4h0M585.3 674.1h0M558.5 664.6h0M566.7 678.3h0M530.8 636.5h0M536.4 688.4h0M583 632.5h0M588.4 679.5h0M564 687.3h0M579.6 683.5h0M581.1 670.8h0M590.4 676h0M589.4 657h0M585.8 656.3h0M526 594.5h0M536.5 628.3h0M429 624.2h0M580.6 664.6h0M520.4 677.4h0M584 686.1h0M517.5 679h0M548 685h0M535.6 676.5h0M591.4 662.4h0M570.5 684.8h0M591 650.5h0M588.5 641.5h0M591.7 687.5h0M584.3 647.4h0M574.6 688.3h0M579 628.4h0M545.7 665.3h0M547.7 662.1h0M581.7 661h0M585.9 682.5h0M516.2 665.4h0M576.5 626.3h0M571.8 641.9h0M583.7 686.8h0M567.8 684.8h0M573 673.7h0M576.4 639.1h0M576.8 648.4h0M541.9 654h0M580.9 681.9h0M572 631.4h0M501.5 665.5h0M554.9 673.7h0M527.5 625.3h0M586 676.6h0M574.5 622.4h0M585.6 678.4h0M561.4 611.3h0M555.6 685.8h0M592.7 673.6h0M572 676.4h0M578.3 684.9h0M584.1 675.3h0M572 669.4h0M586.3 682.9h0M578.7 641.1h0M584.8 677.4h0M564.9 687.9h0M592.8 668.4h0M576.5 650.6h0M581.2 658.5h0M553.3 686.7h0M569 630h0M556.5 672.4h0M585 681.8h0M528.3 643.6h0M578.5 669.3h0M553.3 665h0M587.1 667.5h0M565.3 686.3h0M579.3 617.1h0M595 654.5h0M534.8 676.6h0M585 682h0M544.5 643.7h0M576.6 688.8h0M512.1 637.8h0M576 680.5h0M586.2 673.4h0M539.5 687.8h0M536.9 650.1h0M595.5 670.6h0M538.1 669.4h0M543.1 681.6h0M565.1 655.5h0M586.8 680.9h0M591.5 665.5h0M561.3 625.5h0M590.6 686.1h0M591.5 676h0M583 631.9h0M582.3 664.4h0M562.8 610.2h0M586.7 644.7h0M594.6 682.7h0M595 683.6h0M586 672.9h0M590.5 679.5h0M561.2 679.3h0M565.8 656.2h0M578.8 655h0M562.7 678.5h0M589.8 671.7h0M591.4 649.6h0M594.2 684.3h0M565 677.9h0M568.1 683.7h0M556.4 574.8h0M587.3 688.2h0M582.8 683.1h0M565.6 616.2h0M591.5 653.5h0M590.1 641h0M570.3 679h0M575.3 679.5h0M460.7 681h0M564.1 685.8h0M520.4 639h0M591.2 665.8h0M580.3 677.8h0M576.2 674.7h0M529 660.6h0M594.5 687.6h0M517.6 669h0M547.1 660.2h0M594.9 679.2h0M559.6 680.2h0M594.3 683.6h0M542 679.8h0M504.9 657.4h0M589.9 634.9h0M595.4 688h0M522.4 687.5h0M548.3 668.3h0M589.3 658.8h0M589.9 679h0M583.2 666.4h0M554.1 625.2h0M585.9 674.9h0M580.6 668.4h0M594.1 677.6h0M511.6 641.8h0M539 645.6h0M586.3 671.4h0M536.1 663.1h0M590.5 685.3h0M544.4 655.9h0M535.4 660.7h0M568.4 668h0M590 678.9h0M573 678.5h0M575.8 678.5h0M453.5 687.9h0M544.7 670.2h0M559.9 681.6h0M594.9 641.4h0M582.1 680.9h0M593.1 657.2h0M584.6 665h0M532.2 671.7h0M584.9 649.3h0M517.9 630.5h0M593 687.8h0M529.7 665.9h0M507.2 654.4h0M591.3 679.2h0M584.1 662.6h0M590.4 675.2h0M561.7 673.6h0M528.8 606.2h0M579.6 623.8h0M579.8 686.5h0M574.5 665.7h0M578.8 683.8h0M562.8 671.7h0M557.2 668.8h0M583.8 682.5h0M534.9 670.2h0M572.6 684.8h0M587 680.7h0M579.5 658.3h0M575 677.5h0M536.3 670.1h0M565.9 676.8h0M577.8 675.4h0M565.8 680.1h0M579.2 672.1h0M595.4 679.4h0M592.7 684.8h0M526.7 674.7h0M584.2 682.4h0M578.6 655.2h0M547.9 656.5h0M590.7 683.1h0M583.7 654h0M560.5 681.5h0M489.4 668.8h0M584.5 688.3h0M489.2 684.8h0M545.6 687.2h0M567.5 682.7h0M537.3 683.9h0M592.7 685.8h0M552.1 633.5h0M568.2 672.5h0M586.7 684.4h0M594.3 675.3h0M584.1 686h0M580.3 650.4h0M588 686.4h0M569.2 673.6h0M576.6 686.2h0M540.6 687.3h0M590.5 685h0M576.4 679.7h0M574.1 670.3h0M536 679.9h0M594.4 663.4h0M595 683.5h0M591.4 675.7h0M555.2 687h0M586.3 661.5h0M564.6 687.4h0M564.8 666.2h0M581.6 686.6h0M567 683.5h0M591.7 686.4h0M581.9 687.1h0M582.6 677.4h0M574.2 681.6h0M552.8 687.7h0M584.9 649.9h0M542.6 652.4h0M557.1 677.9h0M554.5 676.7h0M592.2 684.8h0M592.8 659h0M585.2 681.5h0M575 687.5h0M563.1 666.1h0M553.4 658.3h0M585.4 686.8h0M557.5 672h0M583.2 682.9h0M591.1 663.3h0M579.2 664.9h0M584.5 683.4h0M576.4 669.2h0M538.7 682.7h0M564.2 681.6h0M543.1 668.4h0M574 682.5h0M587 657.8h0M552.7 683.8h0M593.2 685.9h0M507.2 688.4h0M551.5 678.1h0M574.1 677.8h0M581.5 677.3h0M593 652.6h0M592.6 686.9h0M565.9 674.2h0M552 672h0M524.8 688.3h0M595.2 685.1h0M555.5 686.6h0M575.4 667.8h0M591 678.2h0M534.3 669.1h0M582.1 679.6h0M586.9 642.3h0M555.1 672.5h0M585.9 670h0M577.8 665.9h0M583.5 658.2h0M564.9 680.4h0M573.6 665.4h0M575.6 642.4h0M595.3 656.1h0M562.3 679.3h0M545.3 686.7h0M584.6 670.9h0M549.6 682.3h0M459.3 673.9h0M594.3 687.1h0M593.4 676.8h0M585.2 684.7h0M579.8 687.8h0M532 662.7h0M573.8 680.5h0M585.7 675.7h0M584.2 635.4h0M512.6 670.3h0M549.2 687.9h0M592 682.9h0M591.9 681.1h0M482.2 663h0M511 685.4h0M588.9 688.7h0M587 688.2h0M575.6 683.9h0M565.8 677.1h0M571.4 683.9h0M560.3 672.1h0M562.3 679.8h0M579 684.2h0M594.4 680h0M570.1 686h0M543.4 658.5h0M544.6 664.6h0M577.8 686.2h0M587.1 669.7h0M484.9 687.3h0M595.4 682.7h0M584.1 675.9h0M592.4 662.2h0M584.6 654.5h0M584.9 683.8h0M590.4 640.3h0M571.9 663.8h0M593.8 677.7h0M560.5 629.4h0M522.4 687.4h0M575.2 643.6h0M587.8 688.7h0M518.1 684.6h0M573.7 682.6h0M572.7 649.8h0M517.7 658.7h0M587.7 664.2h0M595 681.2h0M519 684.8h0M583.4 676.4h0M588.4 671.2h0M567.5 687.6h0M528.5 688h0M563.9 682.8h0M591.4 687.9h0M579.2 666.2h0M502.7 651.3h0M575.4 684.4h0M576.1 631.5h0M560.8 673h0M546.5 681.4h0M573.8 661.7h0M589.6 660.7h0M594.9 677.9h0M572.8 686.7h0M527.9 680.7h0M590.1 681.4h0M571.8 680.9h0M595.4 687.6h0M562.4 687h0M587.7 665.2h0M543.1 658.2h0M590.4 688.9h0M558.3 675.8h0M583.5 688.8h0M580.6 685.1h0M572 632h0M589.3 687.9h0M564.1 687.4h0M588.8 680.7h0M482.2 683.4h0M585.5 679.7h0M590.8 681.6h0M563.6 683.4h0M553.3 686.1h0M592.7 674.8h0M579.5 652.9h0M592.6 669.2h0M566.1 682.3h0M591.9 675.4h0M557.9 679.8h0M578.6 672.3h0M570.6 681.1h0M590.1 680h0M574.4 656.3h0M456 677.3h0M585 685.4h0M569.1 669.6h0M588 672.1h0M521.5 680.7h0M567.5 659.9h0M589.5 682.9h0M485.7 688h0M585.8 679.7h0M559.3 674.6h0M525.1 673h0M595.5 688h0M594.5 680.9h0M594.8 678.2h0M456.3 687.6h0M387.9 685.7h0M497 683h0M472.3 687.1h0M418.9 689h0M508.3 686.6h0M373.4 684.7h0M526.5 686.8h0M460.7 678.7h0M520.8 679.6h0M493.1 684.4h0M489.4 685.4h0M346 673.4h0M432.2 681.5h0M518.1 688.8h0M399.7 682h0M456.6 686.7h0M506.6 673.1h0M473.9 688.9h0M498.9 686.3h0M524.1 665.1h0M359.2 678.5h0M528.9 685.6h0M520.6 680.9h0M408.4 679.3h0M414.9 688.2h0M528.3 688.4h0M394.6 678h0M476.3 687.4h0M387.5 688.2h0M500.6 689h0M490.2 679.8h0M411.4 683.6h0M420.7 672.6h0M523 680.3h0M510.5 686.6h0M498.8 661.1h0M524.7 685.5h0M519.3 651.7h0M479.3 681.4h0M475.7 679.9h0M499.3 685.7h0M429.8 681.4h0M369.8 686.7h0M391.8 680.7h0M467.2 685.7h0M468.2 688.5h0M521.8 686.7h0M519.7 688.7h0M437.3 680.8h0M459.5 687.6h0M435.9 678.1h0M458.9 687.4h0M468.6 685.9h0M506.4 688h0M383.4 682.8h0M332.6 687.8h0M506.9 684.6h0M524.8 686.8h0M472.6 684.9h0M354 683.6h0M455.3 683.5h0M417.1 686.2h0M529.2 664.4h0M414.6 688.2h0M520.6 687.5h0M451 688.1h0M527.8 684.8h0M528.8 687.1h0M494.1 687.6h0M529.1 687.1h0M508.9 686.6h0M490.2 686.2h0M500.7 688.9h0M396.9 680.6h0M479.7 689h0M509.9 674.6h0M484.7 687.6h0M404.3 675.1h0M519.7 684.7h0M469.2 688.2h0M501.2 683h0M447.6 682.8h0M458.7 686.1h0M524.1 688.9h0M396.8 676.5h0M357.6 688.5h0M422.3 687.8h0M498.3 687.6h0M385.9 678.3h0M398.9 686h0M328.8 687.1h0M467 682h0M509.8 686h0M521.6 679.1h0M514.4 688.1h0M505.5 682.6h0M455.3 684.4h0M389.2 680.3h0M512.1 684.2h0M515.7 687.3h0M517.7 688.5h0M497.8 675.4h0M451.4 688.5h0M511.2 683.4h0M474.2 688.9h0M522.1 683.8h0M462.2 688.5h0M421.2 687.3h0M464.4 684.3h0M499 670.7h0M492.5 685.6h0M472.6 677.6h0M422.2 684.2h0M437.3 682.7h0M425.2 687.5h0M468 685.4h0M510.1 679.5h0M511 681.3h0M480.3 685.5h0M439.8 680.9h0M411.9 687.1h0M448.6 684.7h0M323.6 685.3h0M497 688.9h0M482.9 684.3h0M502.4 688.3h0M481 688.6h0M515.5 685.4h0M498.1 684.7h0M474.2 685.9h0M518.8 688.9h0M469.5 667h0M505.2 686.3h0M501.2 680.5h0M479.7 679.1h0M528.9 688.1h0M512.4 686.1h0M492.1 686h0M487.1 683.7h0M454.4 683.4h0M400.8 686.5h0M526.6 669.2h0M473.5 683.6h0M524.2 680.5h0M495.1 682.6h0M504.9 673.4h0M495.7 687h0M365.7 687.4h0M506.2 684.8h0M520.3 687.5h0M413.4 688.5h0M490.2 679.5h0M438.3 679.2h0M520.2 675.2h0M497.1 678.5h0M482.7 675.1h0M481.9 687.2h0M517.3 684.7h0M525.5 687.9h0M377.9 683.7h0M384.3 688h0M481.5 685.1h0M520.9 687.1h0M343.4 681h0M477.4 683.1h0M385.5 669.8h0M463.4 688.7h0M379.5 687.9h0M509.2 688.1h0M476.9 683.6h0M484.3 685h0M518.2 681.1h0M473 686.7h0M398.5 671.5h0M342.9 662.8h0M524 685.9h0M485.7 687.2h0M430 674.3h0M518.4 684.6h0M369.2 685.3h0M521.2 685.2h0M476.1 679.4h0M514.2 687h0M528.4 683.1h0M522 680.3h0M489.1 672.8h0M510.8 675.9h0M510.4 688.7h0M522.7 688.5h0M493.4 666.6h0M497.3 681.1h0M526.7 684.5h0M472.7 688.4h0M466 685.3h0M910.7 678.3h0M983 688.3h0M884.3 688.7h0M902.2 682.9h0M1194.6 668.2h0M1059.3 688.2h0M1019.5 680.4h0M933.3 656.2h0M958.7 688.3h0M896.4 688.2h0M961.4 683.1h0M1054.8 689h0M874.8 667.3h0M902.1 687.2h0M1060.9 688.3h0M1020 675.4h0M950.5 683.4h0M874.4 683.4h0M962.1 680.2h0M941.4 688.3h0M897.2 682.7h0M881.6 688.3h0M900.7 679.4h0M947.2 686.4h0M1181.9 683.8h0M899.2 684h0M1053.3 686.3h0M926.8 683.8h0M968.3 687.8h0M954.8 686.7h0M933.4 681.5h0M875.8 684.8h0M908.9 683.5h0M1033.3 685.2h0M966.1 687h0M901.3 684.7h0M944.4 687.5h0M1008.3 684.9h0M914.6 687.3h0M1042.1 675h0M1132.1 687.3h0M880.7 683h0M876.2 677.3h0M979.3 686.6h0M927.9 682.1h0M890.1 686.3h0M1017.3 682.2h0M955.6 688.4h0M896.6 687.2h0M876.8 682.9h0M952.8 673.5h0M948.9 673.9h0M932.6 684.6h0M904.5 685.3h0M1130.1 685h0M874.1 686.4h0M894.3 683.1h0M939.9 685.1h0M1116.9 680.4h0M882.4 688.8h0M985.8 683.6h0M971.9 684.8h0M877.3 685.4h0M1041.3 683.5h0M878.1 688.2h0M1092 684.3h0M890.6 681.6h0M1113.9 677h0M970.1 679.1h0M882.4 685.3h0M1028.1 686.5h0M888.3 676.9h0M987 689h0M880 684.1h0M1159.4 683.2h0M1067.7 688.4h0M953.5 687.8h0M911.3 688.1h0M931.7 688.7h0M973.1 682.8h0M1092 680.2h0M881.2 676.8h0M946.5 672.5h0M936.7 688.5h0M986.9 687.9h0M945.8 675h0M936.8 686.6h0M974.6 681.6h0M931.1 687.1h0M924.5 681.5h0M897.9 688h0M935.3 682.6h0M880.3 687.1h0M1204.2 687.2h0M1011 686.8h0M882.2 685h0M1062.8 680h0M878.5 681.7h0M963.9 685.1h0M975.3 684.6h0M892.6 681.9h0M886.7 686.8h0M1050.9 684h0M940.3 681.6h0M936.8 686.1h0M948.4 688.9h0M914.1 688.8h0M1095.2 682.6h0M889.9 677.4h0M904.7 679.2h0M971.6 683.4h0M999.4 687.2h0M1040.6 684.3h0M1005.2 678h0M901.1 685.8h0M915.5 688.5h0M1067.3 682.1h0M936.3 684.3h0M1070.4 688.6h0M915 682h0M944.9 684.9h0M901.7 687.5h0M976.8 686.5h0M1131.1 675h0M1200.1 687.1h0M940.9 688.4h0M915.2 688.6h0M938.5 670.1h0M1007.2 686.3h0M903.9 672.9h0M878.9 677.8h0M1053.7 688.6h0M1153.8 682.8h0M919.6 685.7h0M960.9 684.5h0M1061.7 675.4h0M910.6 689h0M1013.8 682.7h0M972.6 688.6h0M881.2 675.2h0M915.9 685.2h0M1210.1 687.7h0M967.4 688.6h0M950.3 680.9h0M889.8 680.4h0M1195.1 678.5h0M1018.9 671.3h0M990.9 684.3h0M1035.3 679.1h0M965.9 682.4h0M892.1 686.5h0M910.4 677.2h0M1015 687h0M879.5 688.6h0M910.7 688.5h0M1151.8 686.4h0M1029 684.7h0M214.3 684.5h0M1171.8 682.9h0M1129.2 687.9h0M1075.9 679.6h0M1043.6 686.1h0M1200.5 666.5h0M1082.6 685.1h0M387.2 685.8h0M284.6 679.5h0M1183.2 670.8h0M963.5 680.1h0M1206.2 681.6h0M913.5 688.1h0M112.3 687.8h0M1078.2 687.3h0M201.3 683.2h0M1009.8 685.6h0M238.6 686h0M325.2 688.3h0M961.3 676.2h0M1150.2 674.9h0M977.9 678.4h0M1053.9 688.7h0M398.9 685.9h0M221.8 681.2h0M142 671.7h0M1024.1 688.7h0M1156.9 687h0M1229.4 689.1h0M899.2 41.2h0M961.3 72.8h0M855.7 97.3h0M1153.3 229.5h0M846.6 352.2h0M1114.9 362.9h0M806.6 378.7h0M893.3 378.7h0M1071.7 393.4h0M930 408.4h0M823.2 438.5h0M1145.7 438.9h0M883.4 445.2h0M833.1 456.7h0M1013.2 458.3h0M1144.6 457.9h0M967.3 477.2h0M982.7 476h0M1041.3 477.6h0M1131.1 478h0M935.6 482.4h0M938.4 494.7h0M1152.5 501.4h0M494.9 382.3h0M526.1 440.5h0M472.8 447h0M510 473.3h0M520.7 491.7h0M557.4 520.2h0M535.8 526.1h0M550.3 533.1h0M533.1 543.9h0M539.6 549.3h0M524 567.6h0M546 577.8h0M505 580h0M520.7 584.3h0M492.7 592.9h0M333.9 633.8h0M214.9 660.2h0M444.8 637h0M1129.5 536.5h0M1123 540.5h0M1117 548h0M1008 546h0M1030 551h0M1078 547h0M1077 562h0M1033 563h0M1041 573h0M1081 595h0M1194 598h0M1219.7 610h0M1173 649h0M1216.6 664.5h0M1126 642h0M1112 616h0M1106.5 618h0M1066 627h0M1045 610h0M1028 625h0M1229 681h0M1214 682h0M827 496h0M832 499h0M812 507h0M817 512h0M822 525h0M826 529h0M804 514h0M796 544h0M799 544h0M838 549h0M830 554h0M905 509h0M886 495h0M870 507h0M852 495h0M856 510h0M861 524h0M873 524h0M876 525h0M898 524h0M890 536h0M908 545h0M917 549h0M955 545h0M968 560h0M974 590h0M979 585h0M1000 590h0M1003 605h0M1006 600h0M1009 624h0M941 569h0M937 595h0M930 598h0M925 571h0M738 606h0M760 569h0M772 579h0M786 584h0M795 570h0M806 560h0M812 560h0M819 556h0M845 560h0M866 567h0M869 549h0M883 562h0M885 570h0M900 580h0M910 566h0M913 582h0M936 575h0" fill="none" stroke="#0f0" stroke-width="3.5" stroke-linecap="round"/>
<rect x="469.6" y="688.2" width="127.2" height="6.4" fill="#ffa500"/>
<rect x="726.9" y="688.2" width="133.7" height="6.4" fill="#ffa500"/>
<path d="M815.2 693.1h0M771 689.3h0M749.4 693.4h0M824.5 693.3h0M788.2 693.2h0M737.4 692.9h0M763.7 693.5h0M849.1 693.4h0M773.5 688.6h0M823.2 693.2h0M841.9 688.3h0M781.7 693.7h0M835 688.6h0M803.3 692.8h0M843.5 688.4h0M845.7 693.5h0M840.4 692.9h0M816.5 688.3h0M784.2 688.3h0M728.6 693.7h0M773.7 688.9h0M810.8 693.3h0M737 693.7h0M831 693h0M755.8 689.2h0M785.6 693.5h0M741.7 689.1h0M743 693.4h0M771.2 688.9h0M773.9 693.1h0M773.7 693.1h0M789.9 693.3h0M824.8 688.8h0M787.1 693.3h0M749.9 693.1h0M801.1 689.2h0M803.2 688.5h0M838.3 688.6h0M829.2 693.1h0M795 689.2h0M820.3 693.1h0M730.1 693.4h0M785.7 692.8h0M845.9 693.4h0M789.8 688.3h0M781.1 693.2h0M809.9 693.4h0M847 692.7h0M745 693.6h0M790.2 693h0M851.1 688.8h0M828.5 693.1h0M790.8 689.1h0M767.6 689.4h0M740.5 693.5h0M785.8 688.5h0M732.1 693h0M826.8 689.2h0M731.4 689.2h0M811.9 692.8h0M739 688.7h0M793.8 693.4h0M848 689.2h0M814.7 688.5h0M782.7 692.8h0M795.1 693.1h0M730.3 688.5h0M807.8 693.5h0M742.9 689.1h0M843.7 689.2h0M800.1 689.1h0M820.6 693.6h0M833.4 688.8h0M822.9 689.1h0M776 688.5h0M744.5 693h0M786.4 689.1h0M820.2 688.4h0M734.3 688.5h0M763.5 693.7h0M836.5 688.6h0M736.2 688.8h0M849.9 692.7h0M832 693.8h0M785.9 689h0M751.1 693.7h0M766.1 693.8h0M756.2 693.2h0M811.1 693.5h0M764.4 693.1h0M856.8 693.6h0M852.8 692.9h0M731.5 693.3h0M852.9 689.1h0M762.7 693h0M850.8 693.5h0M770 689.4h0M790.1 689h0M763.4 689.2h0M783.5 693.5h0M745.4 693.8h0M742.2 689h0M772.5 693.2h0M838.2 693.5h0M804 692.9h0M769.9 693.1h0M730 693.3h0M791.7 688.4h0M744.7 689.1h0M787.4 693.8h0M841.9 693.2h0M798.3 693.5h0M789.3 689.1h0M796.1 693.7h0M758.7 693.7h0M858.9 689.1h0M817.7 689.1h0M759.1 693h0M798.2 688.3h0M760.3 688.6h0M837.2 689.1h0M751.7 688.5h0M839.4 693.1h0M829.2 693.5h0M752.5 693.4h0M813.9 689.1h0M759.8 689.4h0M800.7 692.9h0M825.1 692.8h0M843.4 689.1h0M832.5 693.2h0M850.9 693.2h0M798.5 688.8h0M747.2 688.3h0M820.9 693.4h0M782.1 693h0M791.5 688.5h0M741.6 693.1h0M767.2 693.1h0M799.8 688.4h0M834.5 693.6h0M849.3 688.5h0M758 693.4h0M800.4 692.9h0M731.7 693.2h0M746.6 688.5h0M834.1 693.7h0M735.8 688.7h0M788.7 688.9h0M776.9 693.2h0M744 693.2h0M748.3 688.7h0M760.7 693.6h0M732.2 693.2h0M786 688.5h0M812.7 688.6h0M847.5 689.3h0M751.8 693h0M794.4 688.5h0M762.4 692.9h0M832.3 693.2h0M745.3 693.5h0M739.1 693h0M760.8 693.7h0M774.7 689.4h0M854.6 688.6h0M808.3 689.4h0M778.4 689.1h0M793.8 693.7h0M808.7 692.8h0M843.8 693.6h0M801 693.6h0M808 689.1h0M833.4 693.1h0M730.6 693.4h0M783 688.9h0M785.3 689.1h0M752.4 692.8h0M797.1 689.3h0M782.8 692.9h0M806.9 693.4h0M850.5 689.1h0M773.8 693.4h0M806.3 693h0M819.8 693h0M849 693.2h0M732.1 693.5h0M820 693.4h0M740.4 693.5h0M735.2 688.4h0M772.6 693.7h0M739.7 689h0M791 688.6h0M854.9 689.3h0M728.9 693.5h0M849.2 693h0M806.8 688.6h0M830.4 689.4h0M789 693.7h0M785.5 693h0M777.3 693h0M846.9 688.9h0M768.1 688.9h0M807.4 693.8h0M855.6 693.3h0M844.6 693.4h0M766.8 693h0M742.3 688.4h0M821.5 693h0M756.6 693.3h0M834.7 688.5h0M783.7 688.8h0M810.1 692.9h0M839.2 689.2h0M851.6 693.1h0M800.1 693.5h0M739.2 688.7h0M850.6 689.4h0M772.6 689.4h0M833.2 689.2h0M756.2 693.1h0M808.6 689.4h0M803 693.6h0M770.3 693.4h0M817.6 692.8h0M784 693h0M741.3 688.5h0M765.5 692.8h0M798.6 693.3h0M800.9 692.7h0M791.9 692.8h0M820.3 688.4h0M765.8 688.9h0M739.6 688.6h0M794.7 693.4h0M785.1 693.4h0M744.1 692.9h0M779.4 688.7h0M816.1 692.8h0M761.4 692.8h0M782.5 693h0M820.3 689.4h0M770.3 688.5h0M771.5 693.4h0M747.3 688.4h0M763.6 693.1h0M737.6 689.1h0M835.8 689.2h0M806.5 688.6h0M731.3 693.5h0M818 692.9h0M740.1 693.2h0M851.2 688.9h0M816.3 693.8h0M841.1 689.4h0M768.5 693.4h0M837 688.9h0M768.4 689h0M851 688.8h0M762 693.3h0M739.7 689.1h0M735.7 688.8h0M817.6 692.7h0M737.5 688.5h0M834.9 693.5h0M787.2 693.1h0M797.8 693.1h0M772.1 689.1h0M830.3 693h0M762.9 688.3h0M755.2 688.4h0M766 693.7h0M773.6 689.3h0M798.5 692.9h0M757.7 688.5h0M759.2 693.4h0M775 689.3h0M816.5 693h0M819.8 688.3h0M744.2 689.3h0M778.8 688.7h0M774.6 693.8h0M859.9 693.3h0M794.5 692.8h0M764.8 693.3h0M851.5 688.5h0M831 688.4h0M848.5 693.3h0M827 693.2h0M796 693h0M773.6 693.7h0M769.3 688.6h0M844 689.3h0M831.3 688.5h0M841.8 689.2h0M758.3 693.5h0M846.5 688.7h0M811.6 693h0M752.6 692.9h0M733.1 693.5h0M540.8 689.2h0M508.4 689.4h0M590.5 693.7h0M523.5 689.2h0M481.2 693.1h0M548.1 693.5h0M509.7 693h0M502.2 689.2h0M528.4 689.1h0M517.9 693.5h0M537.1 692.9h0M501.7 689.4h0M509.1 693.1h0M506.7 689.3h0M501.4 693.4h0M482.6 693.2h0M545.9 688.9h0M477.8 688.6h0M501.9 693.4h0M564.1 693.1h0M481.4 688.7h0M513.7 688.4h0M490.2 693.4h0M469.7 693.7h0M499.4 693.4h0M546 693.3h0M537 693.5h0M556.2 689h0M509.3 693.8h0M547 693.4h0M540.7 693.2h0M545.4 689h0M537.3 689h0M582.2 692.8h0M526.1 693h0M584.6 693.1h0M518.3 692.9h0M517.2 689h0M544.2 693.1h0M527.6 693.4h0M475.1 693.2h0M540.5 692.8h0M536.3 693.3h0M585.6 693.2h0M518 688.5h0M504.9 693.1h0M536.9 688.6h0M495.8 688.6h0M524.4 692.7h0M527.9 693.8h0M481 693.1h0M554.5 688.4h0M509 688.7h0M558.1 688.4h0M557.3 688.8h0M473.1 688.5h0M580.3 688.8h0M556.1 688.7h0M551.4 688.6h0M558.4 689.2h0M510.1 689.4h0M529.9 693.1h0M491 688.3h0M515.1 688.9h0M476.2 689.2h0M472.1 693.1h0M521.2 688.4h0M532.6 693.4h0M470.9 693.6h0M567.4 688.9h0M473.8 692.7h0M556.9 692.9h0M558.6 693.1h0M511.6 689h0M487.4 692.9h0M590.1 688.6h0M574.2 688.4h0M559.5 693.4h0M559.5 693.1h0M522.5 689.3h0M477.9 688.7h0M562.7 692.7h0M479.3 689.2h0M489.2 688.8h0M526.3 693.3h0M484.2 693.8h0M588.5 693.1h0M520.3 693.5h0M585.5 693h0M513.3 688.4h0M565.8 693.7h0M588.7 688.7h0M493.8 693.4h0M584.3 693.6h0M503 688.5h0M566.3 688.4h0M584.7 688.6h0M575 689h0M503.3 693.7h0M587.6 692.8h0M544.5 693.4h0M515.1 692.9h0M523.3 693.5h0M589 688.8h0M567.1 693.6h0M586.2 689.2h0M592.5 688.7h0M513.1 693h0M494.7 688.6h0M508.9 693h0M541.7 688.5h0M573.7 693.1h0M563.1 688.4h0M563.8 692.9h0M504.5 688.4h0M590.3 688.9h0M522.9 689.4h0M549.3 689.4h0M585.5 689.4h0M481.5 688.6h0M527.5 693.3h0M481.7 688.5h0M536.9 688.7h0M537.2 693.6h0M527.4 688.8h0M593.6 693.2h0M545.8 688.5h0M489.7 693.8h0M510.6 689.1h0M563.6 689.4h0M517.5 692.9h0M560.9 692.8h0M486.3 693.2h0M531.9 688.7h0M532.4 688.7h0M522.9 688.4h0M532.4 693.3h0M579.3 692.8h0M577.6 688.6h0M543.7 693h0M580.3 688.5h0M510.6 693h0M587.3 689.2h0M509.2 688.4h0M512 693.1h0M501.3 692.8h0M588.1 693.3h0M517.5 689h0M476 689.1h0M493.9 688.5h0M511.1 693.7h0M595.5 688.9h0M531.8 693.5h0M472 689h0M587.9 689.1h0M481.3 689.1h0M515.6 689.3h0M584.1 692.7h0M474.4 689.2h0M500.4 688.4h0M514.4 693.5h0M563.9 688.8h0M571.2 693.2h0M543.5 688.9h0M581 692.7h0M567.6 693.2h0M485.6 689.2h0M504.1 689h0M473 689.1h0M569.8 692.9h0M499.7 693.1h0M522.9 688.5h0M547.1 688.6h0M512 693.7h0M507.6 689.1h0M554.1 693.7h0M590.2 692.8h0M505.7 688.8h0M545.2 693.5h0M553.2 693h0M541.4 689h0M563.1 693.3h0M498.1 689.3h0M515.7 688.9h0M539.6 688.3h0M480.5 688.7h0M586.5 692.8h0M565.4 689.4h0M578.6 692.9h0M563.8 693.6h0M502.8 693.4h0M577.9 688.6h0M566.8 688.6h0M560.2 689.1h0M505 693h0M591.8 693.6h0M499.3 688.8h0M583 688.4h0M476.1 688.7h0M471.8 688.3h0M568.6 692.7h0M571.1 688.4h0M488.2 692.8h0M470.9 688.5h0M549.6 688.7h0M477.4 693.5h0M573.1 689.1h0M559.8 693.4h0M582.3 689.1h0M481 688.6h0M533 689.1h0M524.2 693.4h0M553.6 693.2h0M509.4 689h0M522.4 689.2h0M577.8 689.2h0M509.9 689h0M497.5 688.7h0M519.6 688.9h0M524 693.6h0M561.7 692.9h0M521.3 688.8h0M560.8 689h0M532.9 693.7h0M486.8 688.4h0M590.7 688.7h0M552.1 688.9h0M554.1 688.6h0M471 689.3h0M590.7 689h0M554.2 688.8h0M532.3 693.4h0M508 689.2h0M578.1 692.7h0M559.8 693h0M534.6 693.3h0M555.8 689.3h0M551 688.8h0M477.3 689.1h0M546.3 693.6h0M538.3 688.5h0M483.3 693.3h0M576.9 688.8h0M542.1 693.6h0M557.6 688.6h0M563.1 692.9h0M503.1 688.4h0M497.2 689.1h0M518.7 688.6h0M593.7 693.6h0M521.1 688.8h0M576.3 688.6h0M575 693.7h0M478.4 693.1h0M517.6 693.1h0M582.6 688.8h0M588.3 693h0M498.6 689.1h0M561.2 693.3h0M559.7 693.5h0M567.1 688.5h0M480.9 693.7h0M484.3 689.3h0M591.8 688.5h0M480.4 693.2h0M574.6 693.2h0M595.2 688.6h0M566 692.7h0M499.9 693.1h0M487.1 688.3h0M516.1 693.5h0M578.6 689.1h0M475.1 688.7h0M558 693.6h0M483.6 693h0M499.7 688.5h0M564.1 693h0M542.9 693.6h0M476.3 693.1h0M580.6 693.2h0M1016.7 690.9h0M1054.1 691.6h0M905.8 688.8h0M864.7 690.7h0M983.2 689.8h0M870 691.3h0M911.9 690.3h0M869.7 690.6h0M917.1 691.1h0M1014.7 689h0M978.5 689.8h0M896.2 689.9h0M969.8 690.2h0M865.5 690.3h0M871.3 688.8h0M864.1 690h0M900.3 688.7h0M870.4 691.8h0M912.6 692h0M912.4 691.9h0M938.5 690h0M864 689.2h0M964.8 691h0M884 689.3h0M928.3 691.9h0M879.5 692.1h0M911.2 689.4h0M874 691.1h0M1035 689.4h0M878.6 689.2h0M876.1 689.5h0M896.4 689.5h0M932.7 689.5h0M881.1 690.1h0M872.9 688.9h0M866.9 688.7h0M934.9 688.9h0M903.9 691.7h0M923.8 689.7h0M894.7 690.2h0M886.3 688.9h0M871.9 689.2h0M876.1 689.8h0M867.8 690.8h0M875.4 690.4h0M938.9 690.4h0M950.2 691.4h0M900 689.4h0M863.5 691.1h0M891 689.7h0M866.4 689.3h0M1007.9 690.3h0M985.1 691.6h0M879.5 689.5h0M1005 689.5h0M921.1 691.9h0M902.2 690.1h0M1069.9 691.6h0M1034.1 691.1h0M877.4 688.9h0M862.1 691.8h0M912.5 691.7h0M1070.1 689.5h0M1093.4 689.6h0M873.7 689.6h0M1219 691.9h0M889.4 690.3h0M975.7 691.4h0M1011.6 689.9h0M878.1 690.4h0M1040.8 690.8h0M996.9 689.4h0M907.5 691.8h0M916.7 691.4h0M969.9 690.2h0M938.1 691.1h0M899 690.5h0M970.7 691.7h0M1146.9 689.9h0M935.3 690.6h0M987.2 689.5h0M902.3 689.6h0M968.4 691.1h0M861 689.1h0M870.7 690.7h0M959.5 689.9h0M866.1 690.7h0M923.8 690.2h0M881.6 689.9h0M878.2 691.5h0M892.5 691.1h0M913.4 689.5h0M882.4 691h0M992.4 691.8h0M871.7 689.6h0M867.5 689.3h0M893 691.1h0M1024.8 690.7h0M871 690h0M870.9 689.7h0M917.3 690.4h0M873.1 689.6h0M1010.7 690.8h0M921.6 689.8h0M884.2 691.3h0M861.6 690.9h0M1068 690.9h0M863.9 688.8h0M962.5 689.3h0M897 690.9h0M935.1 689.7h0M936.6 691.8h0M902.5 690h0M937.3 691.7h0M937.6 691.9h0M961.4 692h0M879.7 691h0M876.2 689.1h0M888.3 691.9h0M883.7 689.8h0M1033.9 692h0M954.5 689.9h0M975.5 688.9h0M861.3 688.9h0M887.6 689.5h0M990.5 690.2h0M986.9 690.4h0M891.5 689.9h0M863.8 690.2h0M1060.7 692h0M1038.5 689h0M899.3 691.5h0M871.7 688.9h0M875.9 689h0M949.9 691.1h0M1156.2 688.9h0M941 691.4h0M873.7 689h0M1119.5 691.4h0M865.4 689.3h0M931.9 689.3h0M898.6 689.2h0M867 690.3h0M912.5 691.6h0M860.9 689.9h0M865.6 690.6h0M872.6 689.8h0M1091.4 690.9h0M933.8 690.8h0M875.5 691h0M1093.6 689h0M981.6 689.9h0M875.5 690.9h0M986.8 689.3h0M875.2 690.4h0M875.8 690.4h0M1166.2 688.8h0M897.6 689.4h0M872.7 690.7h0M1055.9 690.3h0M914.8 691.1h0M990.5 692h0M887.5 689.3h0M1025.2 690.8h0M1002.7 689.2h0M963.8 689.1h0M870 689.1h0M890.4 690.1h0M931.7 691.9h0M897.8 690.7h0M895.7 690h0M881 688.7h0M880.2 691.2h0M966.9 691h0M899.2 690.1h0M874.5 689.5h0M919.3 690.1h0M911.4 690.4h0M883.7 690.1h0M897.9 691.8h0M1007.5 689.7h0M900.9 689.5h0M1062.9 689.2h0M904.2 688.7h0M901.6 690.3h0M861.6 689.2h0M906.5 690.3h0M884.6 688.9h0M886.6 689.9h0M867.9 690.7h0M877.1 690.5h0M942.6 688.7h0M906.3 690.9h0M1009.4 691h0M981.1 691h0M877.5 691.5h0M954.1 690.4h0M1032.6 688.9h0M1018.7 689.9h0M912.4 691.4h0M872.7 690.4h0M861.6 688.8h0M1067.7 689.4h0M897.5 689.1h0M1038.9 690.4h0M988.7 689.6h0M901.9 689.5h0M919.7 691.1h0M917.1 690.7h0M885.2 691.9h0M861.9 689.3h0M933.6 692h0M985.2 689.5h0M1050.9 690.3h0M916.7 690.9h0M924.3 691.7h0M1012.4 689.8h0M1008.2 689.8h0M936.9 689.2h0M927.9 689.7h0M1206 691h0M893.1 692h0M868.8 691.2h0M929.9 688.8h0M901.4 689.1h0M867.6 690.9h0M912.6 689.1h0M1041.1 690.7h0M924.4 689.6h0M871.7 689.8h0M863 689.4h0M906 690h0M955.3 689.2h0M875.9 690.5h0M937.6 689.8h0M876 689.1h0M890.6 690h0M966.3 689.5h0M888.2 691.2h0M876 688.8h0M1098.2 691.8h0M885.8 689.7h0M901.5 689.4h0M963 691.7h0M943.2 690.1h0M982.1 691.9h0M874.1 691h0M873.2 692.1h0M965.9 690.1h0M950.2 689.7h0M865 690.4h0M865.8 690.3h0M987.7 690.7h0M881.1 689.4h0M914.8 690.4h0M1015.6 689.3h0M902.2 690.2h0M892 689.3h0M892.7 690.5h0M874.9 689.8h0M910.2 691.9h0M904.3 689.9h0M862.9 690.5h0M888.6 689.1h0M903.2 690.8h0M889.3 691.2h0M926.9 688.9h0M864 690.5h0M922.2 690.6h0M877.9 689.9h0M944.5 690h0M910.5 689.5h0M926.3 690.3h0M860.8 691.3h0M968.3 692.1h0M1049.7 691.1h0M902.3 689.6h0M941.2 690.1h0M886.5 689.1h0M922.3 691.1h0M957.8 689.2h0M875.8 690.9h0M869.8 691.7h0M1034.5 690.8h0M880.7 690.6h0M956.9 689.9h0M930.1 690.7h0M1019.3 691.3h0M933.9 690.6h0M1006.8 690.7h0M938.1 689.8h0M868.2 690.6h0M877.3 692h0M877.2 691.7h0M887.5 689.4h0M917.7 689.8h0M1196.6 690.8h0M867.7 689.8h0M868.5 690.4h0M910.4 689.8h0M934.7 690.2h0M974.2 691h0M880.5 691.5h0M862.6 689.5h0M862.5 691.9h0M911.4 691.6h0M1166.2 689h0M1013.2 688.8h0M940.6 691.4h0M892.8 691.7h0M957.1 690.4h0M882.5 689.2h0M865.9 690.5h0M909.9 689.3h0M910.7 689h0M884.4 691h0M871.5 690.5h0M870.1 691.7h0M876.4 691.9h0M1026.6 692h0M882.6 691h0M865.4 692h0M938.7 688.8h0M870.5 689.1h0M889 691.9h0M963.8 689.8h0M970.5 688.7h0M912.8 690h0M465.4 691.6h0M412.8 691.9h0M415.4 690.7h0M462.4 690.2h0M349.2 690.5h0M415.7 690.2h0M446.1 688.7h0M456.5 689.3h0M464.5 688.9h0M394.9 691.9h0M406.2 691.4h0M457.1 691.4h0M444.2 691.4h0M455.2 689.7h0M429.9 689.4h0M453.7 691h0M387 691.8h0M413.2 689.8h0M436 690.6h0M422 691.6h0M425.2 691.8h0M435.2 690.1h0M468 689.7h0M434.6 688.7h0M438.9 689.1h0M453.1 691.5h0M338.6 689.1h0M422.6 690.3h0M466.7 689.7h0M429.1 690.1h0M424.9 688.9h0M419.3 690.7h0M458.5 690.5h0M325.4 691.6h0M418.8 690.4h0M396.2 690.2h0M404.6 689.9h0M426.7 691h0M422.9 690.6h0M443.9 689.8h0M413.1 690.1h0M438.8 689.9h0M451.4 690.7h0M358.1 689.3h0M414 690.4h0M415.9 690.8h0M442.5 688.7h0M445.7 690.4h0M417 691.7h0M412.8 690.8h0M446.7 691.2h0M462.2 691.5h0M433.9 690.2h0M407.1 690.4h0M180.9 689.1h0M466.1 690.6h0M456 689.4h0M133.2 690.4h0M451.2 689.9h0M456.1 689.5h0M461.9 691.8h0M399.2 689.9h0M463.5 691.8h0M352.6 689h0M361.8 690.5h0M247.1 690.1h0M439.3 688.7h0M424.1 689.5h0M356.7 689.4h0M355.9 689.8h0M382.5 691h0M326 690.5h0M445.9 689.5h0M455.4 689h0M450.8 689.7h0M377.8 688.7h0M432.6 690.3h0M460.5 690.9h0M457.3 691.1h0M459.8 691.5h0M449.8 689h0M461 689.4h0M462.1 689.7h0M282.5 689.9h0M443.1 691.1h0M465.5 689h0M361.4 689.7h0M459.4 689.3h0M397.5 691.8h0M442.6 691h0M436.8 689.4h0M449.6 689.8h0M454.3 691.2h0M464.6 689.9h0M399.2 688.8h0M294 690.7h0M413.6 689.3h0M457.6 691.4h0M273.6 688.7h0M379.5 689.3h0M465.4 690.6h0M464.3 691.4h0M371 689.6h0M461.3 690.3h0M396.2 688.8h0M405 689.1h0M444.4 689.2h0M465.1 690.4h0M450.7 691.6h0M345.4 691h0M431.6 690.8h0M448.2 690.2h0M427.5 690h0M438.4 691.4h0M230.4 691.1h0M365.9 689.7h0M465.5 689.4h0M432.9 691.1h0M399.4 691.6h0M389.6 689.7h0M466.6 690.2h0M448.4 691.5h0M344.4 690.4h0M390.8 691h0M430.7 690.1h0M307.4 691.3h0M424.7 691.9h0M461.1 691.2h0M427.3 689.7h0M462.4 690.6h0M361.8 689.3h0M348.3 691.9h0M458.2 690.5h0M434.4 689.8h0M462.9 689.6h0M319 691.4h0M309.3 690.3h0M432.9 688.9h0M440.1 690.6h0M203.6 688.9h0M412.9 688.8h0M280.2 689.3h0M406.8 690.7h0M457.4 690.2h0M440.4 689.3h0M442.9 688.9h0M404.4 691.8h0M428.2 690h0M431.3 689.2h0M398.4 690.9h0M463.8 689.9h0M462.7 690.9h0M468.8 691.5h0M466.1 691.4h0M458.3 690.4h0M403.7 691.7h0M359.4 689.2h0M402.9 690.1h0M459.9 690.2h0M322.4 688.8h0M406 690.4h0M356.1 690.2h0M454.4 691.4h0M463.5 690.9h0M451.2 688.9h0M459.9 691.4h0M460.5 691.6h0M461.1 691.7h0M466.7 690.8h0M429.1 690.6h0M332.1 689.4h0M203.6 690.5h0M381.8 689.5h0M157.5 691h0M435.8 689.4h0M357.7 690.5h0M228.3 691.5h0M396.4 691h0M459.9 691.4h0M403.1 689h0M465.8 689h0M456.5 691.1h0M392.3 690.9h0M445.2 691.7h0M460.9 689.4h0M438.8 689.5h0M399 691.4h0M397.4 689.7h0M423.6 689.7h0M427.4 690.4h0M460.8 691.4h0M380.8 691.2h0M464.5 689.4h0M396.2 691.3h0M418.6 691.7h0M440.2 689.4h0M435.5 689.7h0M444.2 691.2h0M448.9 691h0M421.9 688.8h0M431.7 691.5h0M414.3 691.4h0M415.6 691.9h0M467.5 690.1h0M457.9 691.1h0M451.1 690.8h0M413.1 688.8h0M419.1 689.8h0M454.1 690.8h0M416.6 689.4h0M403.8 688.9h0M466.6 691.5h0M329.8 691.7h0M191.2 691.1h0M425 690.4h0M429 691.7h0M289.2 690.1h0M457.7 690.4h0M440.4 691.3h0M334.3 690.7h0M465.1 690.4h0M462.3 690.4h0M379.1 690.9h0M436.2 689.2h0M327.7 691.5h0M434.1 688.9h0M409.8 690h0M442.8 689.9h0M452.6 689.1h0M413.9 690.4h0M200.4 690.5h0M218.4 688.9h0M159.3 690h0M259.6 690.1h0M279.7 689.4h0M285 690h0M155.9 688.8h0M249.5 690.7h0M331.3 690.6h0M299.1 690h0M153.7 689.3h0M308.8 689.2h0M213.8 689.9h0M96.3 688.8h0M142.2 690.6h0M289.6 688.7h0M132.7 691.1h0M133.6 690.6h0M239.5 690.8h0M277.4 688.8h0M285.6 690.4h0M102.3 690.9h0M165.5 689.7h0M224 689.9h0M235.4 688.7h0M306.8 689.9h0M116.6 689.8h0M139.5 689.6h0M273 690.5h0M132.5 689.2h0M335.7 690.1h0M138.6 690.1h0M154.3 688.7h0M257.6 688.8h0M127.2 690.3h0M335.3 688.7h0M280.5 688.9h0M106.6 688.5h0M1036.9 690.5h0M1213.3 688.5h0M1062.8 688.6h0M1113.9 689.4h0M1071.1 690.8h0M1053.7 690.3h0M1061.5 690.3h0M1058.7 689.1h0M1229.6 689.2h0M1122.6 690.4h0M1231.6 690h0M1056.1 690.4h0M1168.8 690.1h0M1109.5 690.8h0M1045.5 690h0M1141.1 691.1h0M1187.9 689.2h0M1109.1 690.2h0M1108.5 688.7h0M1230.3 689.8h0M1060.8 688.9h0M1035.9 691.1h0M1060.7 690.1h0M1220.8 690.7h0M1150.5 689.3h0M1166.9 690.8h0" fill="none" stroke="#ffa500" stroke-width="3.6" stroke-linecap="round"/>
<path d="M596.8 694.8 L596.8 688.9 L638 688.9 C642 688.6 644.5 687.6 646.7 687.1 C651 688.2 655.5 691.8 661.7 691.8 C668 691.8 673 688.2 677.5 686.9 C680 687.5 682 688.7 686 688.9 L726.9 688.9 L726.9 694.8 Z" fill="#000"/>
<rect x="89.5" y="15.7" width="1145" height="703.6" fill="none" stroke="#3c3c3c" stroke-width="1"/>
<path d="M89.5 693.6h-6.2M89.5 573.2h-6.2M89.5 452.8h-6.2M89.5 332.4h-6.2M89.5 212h-6.2M89.5 91.6h-6.2M131.6 719.3v6.2M396.7 719.3v6.2M661.8 719.3v6.2M926.9 719.3v6.2M1192 719.3v6.2" stroke="#3c3c3c" stroke-width="1" fill="none"/>
<text class="b" font-size="21.2" text-anchor="middle" transform="translate(69.4 693.6) rotate(-90) scale(0.9 1)">0</text>
<text class="b" font-size="21.2" text-anchor="middle" transform="translate(69.4 573.2) rotate(-90) scale(0.9 1)">50</text>
<text class="b" font-size="21.2" text-anchor="middle" transform="translate(69.4 452.8) rotate(-90) scale(0.9 1)">100</text>
<text class="b" font-size="21.2" text-anchor="middle" transform="translate(69.4 332.4) rotate(-90) scale(0.9 1)">150</text>
<text class="b" font-size="21.2" text-anchor="middle" transform="translate(69.4 212) rotate(-90) scale(0.9 1)">200</text>
<text class="b" font-size="21.2" text-anchor="middle" transform="translate(69.4 91.6) rotate(-90) scale(0.9 1)">250</text>
<text class="b" font-size="20.2" text-anchor="middle" transform="translate(131.6 750) scale(.94 1)">-4</text>
<text class="b" font-size="20.2" text-anchor="middle" transform="translate(396.7 750) scale(.94 1)">-2</text>
<text class="b" font-size="20.2" text-anchor="middle" transform="translate(661.8 750) scale(.94 1)">0</text>
<text class="b" font-size="20.2" text-anchor="middle" transform="translate(926.9 750) scale(.94 1)">2</text>
<text class="b" font-size="20.2" text-anchor="middle" transform="translate(1192 750) scale(.94 1)">4</text>
<text class="b" font-size="22.2" text-anchor="middle" transform="translate(21.2 334) rotate(-90) scale(.935 1)">-log10 (<tspan font-style="italic">P</tspan><tspan dx="3">value)</tspan></text>
<text class="b" font-size="24.4" text-anchor="middle" transform="translate(663 780.4) scale(.93 1)">log2FoldChange</text>
<text class="b" font-size="19.5" x="25.5" y="786.6">Anti-CD80/86</text>
<text class="b" font-size="19.5" x="1191.5" y="787.2">Control</text>
<circle cx="1035.7" cy="38.4" r="10.3" fill="#f00"/>
<text class="b" font-size="24.6" transform="translate(1058.5 46.6) scale(.915 1)">FDR &lt;0.01</text>
<circle cx="1035.7" cy="68.2" r="10.3" fill="#ffa500"/>
<text class="b" font-size="24.6" transform="translate(1058.5 77.8) scale(.915 1)">|LogFC| &gt;0.5</text>
<circle cx="1035.7" cy="98.6" r="10.3" fill="#0f0"/>
<text class="b" font-size="24.6" transform="translate(1058.5 108.1) scale(.915 1)">Both</text>
</g>
<g id="panel-b">
<text class="b" x="3.6" y="874.5" font-size="38" style="fill:#231815">b</text>
<defs><linearGradient id="ck" x1="0" x2="1" y1="0" y2="0"><stop offset="0" stop-color="#00f"/><stop offset=".12" stop-color="#1414ff"/><stop offset=".5" stop-color="#fff"/><stop offset=".88" stop-color="#ff1414"/><stop offset="1" stop-color="#f00"/></linearGradient></defs>
<rect x="17.8" y="918.9" width="45.2" height="35.3" fill="url(#ck)" stroke="#000" stroke-width=".5"/>
<path d="M17.8 954.2h45.2M17.8 954.2v1.6M29.1 954.2v1.6M40.4 954.2v1.6M51.7 954.2v1.6M63 954.2v1.6" stroke="#000" stroke-width=".5" fill="none"/>
<text class="b" x="40.2" y="913.6" font-size="3.2" text-anchor="middle">Color Key</text>
<text x="17.8" y="960.6" font-size="2.8" text-anchor="middle" fill="#444">-2</text>
<text x="29.1" y="960.6" font-size="2.8" text-anchor="middle" fill="#444">-1</text>
<text x="40.4" y="960.6" font-size="2.8" text-anchor="middle" fill="#444">0</text>
<text x="51.7" y="960.6" font-size="2.8" text-anchor="middle" fill="#444">1</text>
<text x="63" y="960.6" font-size="2.8" text-anchor="middle" fill="#444">2</text>
<text x="40.2" y="965.4" font-size="2.8" text-anchor="middle" fill="#444">Row Z-score</text>
<text class="b" x="331.7" y="908.6" font-size="3" text-anchor="middle">Heatmap</text>
<path d="M128.4 963.6V960.5H209.8V963.6M169.1 960.5V958H291.1V963.6M453.6 963.6V961H534.9V963.6M372.4 963.6V955H494.3V961M230.1 958V914.9H433.3V955" fill="none" stroke="#000" stroke-width="1.3"/>
<rect x="87.8" y="965.2" width="243.9" height="11.3" fill="#1f77b4"/>
<rect x="331.7" y="965.2" width="243.9" height="11.3" fill="#2ca02c"/>
<g fill="none" stroke-width="2.2">
<path stroke="#8d8dff" d="M88 979h81"/><path stroke="#8f8fff" d="M88 981h81"/><path stroke="#9191ff" d="M88 983h81"/><path stroke="#8f8fff" d="M88 985h81"/><path stroke="#8d8dff" d="M88 987h81"/><path stroke="#8e8eff" d="M88 989h81"/><path stroke="#9090ff" d="M88 991h81"/><path stroke="#9292ff" d="M88 993h81"/><path stroke="#8e8eff" d="M88 995h81"/><path stroke="#8c8cff" d="M88 997h81"/><path stroke="#8f8fff" d="M88 999h81"/><path stroke="#9090ff" d="M88 1001h81"/><path stroke="#9393ff" d="M88 1003h81"/><path stroke="#9494ff" d="M88 1005h81"/><path stroke="#9191ff" d="M88 1007h81"/><path stroke="#9090ff" d="M88 1009h81"/><path stroke="#9595ff" d="M88 1011h81"/><path stroke="#9292ff" d="M88 1013h81"/><path stroke="#8f8fff" d="M88 1015h81"/><path stroke="#8d8dff" d="M88 1017h81"/><path stroke="#8e8eff" d="M88 1019h81"/><path stroke="#8f8fff" d="M88 1021h81"/><path stroke="#8f8fff" d="M88 1023h81"/><path stroke="#8b8bff" d="M88 1025h81"/><path stroke="#8787ff" d="M88 1027h81"/><path stroke="#8989ff" d="M88 1029h81"/><path stroke="#8a8aff" d="M88 1031h81"/><path stroke="#8989ff" d="M88 1033h81"/><path stroke="#8484ff" d="M88 1035h81"/><path stroke="#8787ff" d="M88 1037h81"/><path stroke="#8484ff" d="M88 1039h81"/><path stroke="#8585ff" d="M88 1041h81"/><path stroke="#8383ff" d="M88 1043h81"/><path stroke="#8585ff" d="M88 1045h81"/><path stroke="#8484ff" d="M88 1047h81"/><path stroke="#8686ff" d="M88 1049h81"/><path stroke="#8e8eff" d="M88 1051h81"/><path stroke="#8a8aff" d="M88 1053h81"/><path stroke="#8b8bff" d="M88 1055h81"/><path stroke="#8686ff" d="M88 1057h81"/><path stroke="#8686ff" d="M88 1059h81"/><path stroke="#8888ff" d="M88 1061h81"/><path stroke="#8787ff" d="M88 1063h81"/><path stroke="#8888ff" d="M88 1065h81"/><path stroke="#8888ff" d="M88 1067h81"/><path stroke="#8585ff" d="M88 1069h81"/><path stroke="#8787ff" d="M88 1071h81"/><path stroke="#8686ff" d="M88 1073h81"/><path stroke="#8a8aff" d="M88 1075h81"/><path stroke="#8888ff" d="M88 1077h81"/><path stroke="#8989ff" d="M88 1079h81"/><path stroke="#8888ff" d="M88 1081h81"/><path stroke="#8a8aff" d="M88 1083h81"/><path stroke="#8787ff" d="M88 1085h81"/><path stroke="#8989ff" d="M88 1087h81"/><path stroke="#8888ff" d="M88 1089h81"/><path stroke="#8a8aff" d="M88 1091h81"/><path stroke="#8a8aff" d="M88 1093h81"/><path stroke="#8989ff" d="M88 1095h81"/><path stroke="#8686ff" d="M88 1097h81"/><path stroke="#8888ff" d="M88 1099h81"/><path stroke="#8989ff" d="M88 1101h81"/><path stroke="#8c8cff" d="M88 1103h81"/><path stroke="#8989ff" d="M88 1105h81"/><path stroke="#8989ff" d="M88 1107h81"/><path stroke="#8989ff" d="M88 1109h81"/><path stroke="#8989ff" d="M88 1111h81"/><path stroke="#8888ff" d="M88 1113h81"/><path stroke="#8888ff" d="M88 1115h81"/><path stroke="#8686ff" d="M88 1117h81"/><path stroke="#8585ff" d="M88 1119h81"/><path stroke="#8585ff" d="M88 1121h81"/><path stroke="#8787ff" d="M88 1123h81"/><path stroke="#8b8bff" d="M88 1125h81"/><path stroke="#8b8bff" d="M88 1127h81"/><path stroke="#8b8bff" d="M88 1129h81"/><path stroke="#8b8bff" d="M88 1131h81"/><path stroke="#8b8bff" d="M88 1133h81"/><path stroke="#8989ff" d="M88 1135h81"/><path stroke="#8a8aff" d="M88 1137h81"/><path stroke="#8c8cff" d="M88 1139h81"/><path stroke="#8989ff" d="M88 1141h81"/><path stroke="#8787ff" d="M88 1143h81"/><path stroke="#8b8bff" d="M88 1145h81"/><path stroke="#8a8aff" d="M88 1147h81"/><path stroke="#8a8aff" d="M88 1149h81"/><path stroke="#8b8bff" d="M88 1151h81"/><path stroke="#8686ff" d="M88 1153h81"/><path stroke="#8c8cff" d="M88 1155h81"/><path stroke="#8d8dff" d="M88 1157h81"/><path stroke="#8b8bff" d="M88 1159h81"/><path stroke="#8b8bff" d="M88 1161h81"/><path stroke="#8989ff" d="M88 1163h81"/><path stroke="#8686ff" d="M88 1165h81"/><path stroke="#8686ff" d="M88 1167h81"/><path stroke="#8888ff" d="M88 1169h81"/><path stroke="#8a8aff" d="M88 1171h81"/><path stroke="#8a8aff" d="M88 1173h81"/><path stroke="#8989ff" d="M88 1175h81"/><path stroke="#8b8bff" d="M88 1177h81"/><path stroke="#8787ff" d="M88 1179h81"/><path stroke="#8989ff" d="M88 1181h81"/><path stroke="#8a8aff" d="M88 1183h81"/><path stroke="#8888ff" d="M88 1185h81"/><path stroke="#8484ff" d="M88 1187h81"/><path stroke="#8484ff" d="M88 1189h81"/><path stroke="#8686ff" d="M88 1191h81"/><path stroke="#8888ff" d="M88 1193h81"/><path stroke="#8b8bff" d="M88 1195h81"/><path stroke="#8787ff" d="M88 1197h81"/><path stroke="#8787ff" d="M88 1199h81"/><path stroke="#8888ff" d="M88 1201h81"/><path stroke="#8787ff" d="M88 1203h81"/><path stroke="#8282ff" d="M88 1205h81"/><path stroke="#8686ff" d="M88 1207h81"/><path stroke="#8c8cff" d="M88 1209h81"/><path stroke="#8c8cff" d="M88 1211h81"/><path stroke="#8787ff" d="M88 1213h81"/><path stroke="#8686ff" d="M88 1215h81"/><path stroke="#8787ff" d="M88 1217h81"/><path stroke="#8d8dff" d="M88 1219h81"/><path stroke="#8b8bff" d="M88 1221h81"/><path stroke="#8989ff" d="M88 1223h81"/><path stroke="#8c8cff" d="M88 1225h81"/><path stroke="#8989ff" d="M88 1227h81"/><path stroke="#8c8cff" d="M88 1229h81"/><path stroke="#8888ff" d="M88 1231h81"/><path stroke="#8787ff" d="M88 1233h81"/><path stroke="#8888ff" d="M88 1235h81"/><path stroke="#8b8bff" d="M88 1237h81"/><path stroke="#8a8aff" d="M88 1239h81"/><path stroke="#8989ff" d="M88 1241h81"/><path stroke="#8484ff" d="M88 1243h81"/><path stroke="#8484ff" d="M88 1245h81"/><path stroke="#8484ff" d="M88 1247h81"/><path stroke="#8585ff" d="M88 1249h81"/><path stroke="#8c8cff" d="M88 1251h81"/><path stroke="#8c8cff" d="M88 1253h81"/><path stroke="#8e8eff" d="M88 1255h81"/><path stroke="#8e8eff" d="M88 1257h81"/><path stroke="#8d8dff" d="M88 1259h81"/><path stroke="#8d8dff" d="M88 1261h81"/><path stroke="#8e8eff" d="M88 1263h81"/><path stroke="#8f8fff" d="M88 1265h81"/><path stroke="#8d8dff" d="M88 1267h81"/><path stroke="#8d8dff" d="M88 1269h81"/><path stroke="#8a8aff" d="M88 1271h81"/><path stroke="#9191ff" d="M88 1273h81"/><path stroke="#a1a1ff" d="M88 1275h81"/><path stroke="#a1a1ff" d="M88 1277h81"/><path stroke="#9f9fff" d="M88 1279h81"/><path stroke="#9c9cff" d="M88 1281h81"/><path stroke="#9e9eff" d="M88 1283h81"/><path stroke="#9f9fff" d="M88 1285h81"/><path stroke="#a4a4ff" d="M88 1287h81"/><path stroke="#9b9bff" d="M88 1289h81"/><path stroke="#9090ff" d="M88 1291h81"/><path stroke="#8b8bff" d="M88 1293h81"/><path stroke="#9191ff" d="M88 1295h81"/><path stroke="#9191ff" d="M88 1297h81"/><path stroke="#8e8eff" d="M88 1299h81"/><path stroke="#9090ff" d="M88 1301h81"/><path stroke="#8d8dff" d="M88 1303h81"/><path stroke="#9696ff" d="M88 1305h81"/><path stroke="#9696ff" d="M88 1307h81"/><path stroke="#9595ff" d="M88 1309h81"/><path stroke="#9292ff" d="M88 1311h81"/><path stroke="#8d8dff" d="M88 1313h81"/><path stroke="#8f8fff" d="M88 1315h81"/><path stroke="#8c8cff" d="M88 1317h81"/><path stroke="#9090ff" d="M88 1319h81"/><path stroke="#8c8cff" d="M88 1321h81"/><path stroke="#8c8cff" d="M88 1323h81"/><path stroke="#9191ff" d="M88 1325h81"/><path stroke="#9494ff" d="M88 1327h81"/><path stroke="#9090ff" d="M88 1329h81"/><path stroke="#8d8dff" d="M88 1331h81"/><path stroke="#9191ff" d="M88 1333h81"/><path stroke="#9393ff" d="M88 1335h81"/><path stroke="#9090ff" d="M88 1337h81"/><path stroke="#8f8fff" d="M88 1339h81"/><path stroke="#8e8eff" d="M88 1341h81"/><path stroke="#8d8dff" d="M88 1343h81"/><path stroke="#8d8dff" d="M88 1345h81"/><path stroke="#9292ff" d="M88 1347h81"/><path stroke="#9393ff" d="M88 1349h81"/><path stroke="#9696ff" d="M88 1351h81"/><path stroke="#9393ff" d="M88 1353h81"/><path stroke="#9292ff" d="M88 1355h81"/><path stroke="#8f8fff" d="M88 1357h81"/><path stroke="#9090ff" d="M88 1359h81"/><path stroke="#8d8dff" d="M88 1361h81"/><path stroke="#8b8bff" d="M88 1363h81"/><path stroke="#8f8fff" d="M88 1365h81"/><path stroke="#9393ff" d="M88 1367h81"/><path stroke="#9494ff" d="M88 1369h81"/><path stroke="#9595ff" d="M88 1371h81"/><path stroke="#9393ff" d="M88 1373h81"/><path stroke="#9191ff" d="M88 1375h81"/><path stroke="#9191ff" d="M88 1377h81"/><path stroke="#9090ff" d="M88 1379h81"/><path stroke="#8e8eff" d="M88 1381h81"/><path stroke="#8c8cff" d="M88 1383h81"/><path stroke="#8b8bff" d="M88 1385h81"/><path stroke="#8e8eff" d="M88 1387h81"/><path stroke="#9090ff" d="M88 1389h81"/><path stroke="#8f8fff" d="M88 1391h81"/><path stroke="#9393ff" d="M88 1393h81"/><path stroke="#9292ff" d="M88 1395h81"/><path stroke="#9393ff" d="M88 1397h81"/><path stroke="#9494ff" d="M88 1399h81"/><path stroke="#9191ff" d="M88 1401h81"/><path stroke="#8d8dff" d="M88 1403h81"/><path stroke="#9090ff" d="M88 1405h81"/><path stroke="#8f8fff" d="M88 1407h81"/><path stroke="#9393ff" d="M88 1409h81"/><path stroke="#9292ff" d="M88 1411h81"/><path stroke="#9494ff" d="M88 1413h81"/><path stroke="#9494ff" d="M88 1415h81"/><path stroke="#8e8eff" d="M88 1417h81"/><path stroke="#9191ff" d="M88 1419h81"/><path stroke="#8c8cff" d="M88 1421h81"/><path stroke="#8888ff" d="M88 1423h81"/><path stroke="#8989ff" d="M88 1425h81"/><path stroke="#8b8bff" d="M88 1427h81"/><path stroke="#8d8dff" d="M88 1429h81"/><path stroke="#8e8eff" d="M88 1431h81"/><path stroke="#8989ff" d="M88 1433h81"/><path stroke="#8989ff" d="M88 1435h81"/><path stroke="#8484ff" d="M88 1437h81"/><path stroke="#8787ff" d="M88 1439h81"/><path stroke="#8a8aff" d="M88 1441h81"/><path stroke="#8989ff" d="M88 1443h81"/><path stroke="#8a8aff" d="M88 1445h81"/><path stroke="#8b8bff" d="M88 1447h81"/><path stroke="#8d8dff" d="M88 1449h81"/><path stroke="#8a8aff" d="M88 1451h81"/><path stroke="#8989ff" d="M88 1453h81"/><path stroke="#8888ff" d="M88 1455h81"/><path stroke="#8d8dff" d="M88 1457h81"/><path stroke="#8e8eff" d="M88 1459h81"/><path stroke="#8c8cff" d="M88 1461h81"/><path stroke="#8c8cff" d="M88 1463h81"/><path stroke="#8c8cff" d="M88 1465h81"/><path stroke="#8c8cff" d="M88 1467h81"/><path stroke="#8b8bff" d="M88 1469h81"/><path stroke="#8a8aff" d="M88 1471h81"/><path stroke="#8888ff" d="M88 1473h81"/><path stroke="#8888ff" d="M88 1475h81"/><path stroke="#8d8dff" d="M88 1477h81"/><path stroke="#8d8dff" d="M88 1479h81"/><path stroke="#8c8cff" d="M88 1481h81"/><path stroke="#8b8bff" d="M88 1483h81"/><path stroke="#8b8bff" d="M88 1485h81"/><path stroke="#8c8cff" d="M88 1487h81"/><path stroke="#8a8aff" d="M88 1489h81"/><path stroke="#8b8bff" d="M88 1491h81"/><path stroke="#8b8bff" d="M88 1493h81"/><path stroke="#8989ff" d="M88 1495h81"/><path stroke="#8888ff" d="M88 1497h81"/><path stroke="#8787ff" d="M88 1499h81"/><path stroke="#8787ff" d="M88 1501h81"/><path stroke="#8b8bff" d="M88 1503h81"/><path stroke="#8686ff" d="M88 1505h81"/><path stroke="#8888ff" d="M88 1507h81"/><path stroke="#8888ff" d="M88 1509h81"/><path stroke="#8888ff" d="M88 1511h81"/><path stroke="#8a8aff" d="M88 1513h81"/><path stroke="#8d8dff" d="M88 1515h81"/><path stroke="#8c8cff" d="M88 1517h81"/><path stroke="#8b8bff" d="M88 1519h81"/><path stroke="#8a8aff" d="M88 1521h81"/><path stroke="#8a8aff" d="M88 1523h81"/><path stroke="#8c8cff" d="M88 1525h81"/><path stroke="#8b8bff" d="M88 1527h81"/><path stroke="#8888ff" d="M88 1529h81"/><path stroke="#8484ff" d="M88 1531h81"/><path stroke="#8383ff" d="M88 1533h81"/><path stroke="#8282ff" d="M88 1535h81"/><path stroke="#8787ff" d="M88 1537h81"/><path stroke="#8888ff" d="M88 1539h81"/><path stroke="#8787ff" d="M88 1541h81"/><path stroke="#8a8aff" d="M88 1543h81"/><path stroke="#8787ff" d="M88 1545h81"/><path stroke="#8989ff" d="M88 1547h81"/><path stroke="#8a8aff" d="M88 1549h81"/><path stroke="#8585ff" d="M88 1551h81"/><path stroke="#8383ff" d="M88 1553h81"/><path stroke="#8383ff" d="M88 1555h81"/><path stroke="#8787ff" d="M88 1557h81"/><path stroke="#8a8aff" d="M88 1559h81"/><path stroke="#8686ff" d="M88 1561h81"/><path stroke="#8989ff" d="M88 1563h81"/><path stroke="#8787ff" d="M88 1565h81"/><path stroke="#8686ff" d="M88 1567h81"/><path stroke="#8686ff" d="M88 1569h81"/><path stroke="#8686ff" d="M88 1571h81"/><path stroke="#8282ff" d="M88 1573h81"/><path stroke="#8383ff" d="M88 1575h81"/><path stroke="#8282ff" d="M88 1577h81"/><path stroke="#8686ff" d="M88 1579h81"/><path stroke="#8b8bff" d="M88 1581h81"/><path stroke="#8f8fff" d="M88 1583h81"/><path stroke="#8a8aff" d="M88 1585h81"/><path stroke="#8585ff" d="M88 1587h81"/><path stroke="#8585ff" d="M88 1589h81"/><path stroke="#8484ff" d="M88 1591h81"/><path stroke="#8a8aff" d="M88 1593h81"/><path stroke="#8a8aff" d="M88 1595h81"/><path stroke="#8787ff" d="M88 1597h81"/><path stroke="#8989ff" d="M88 1599h81"/><path stroke="#8989ff" d="M88 1601h81"/><path stroke="#8585ff" d="M88 1603h81"/><path stroke="#8585ff" d="M88 1605h81"/><path stroke="#8585ff" d="M88 1607h81"/><path stroke="#8686ff" d="M88 1609h81"/><path stroke="#8787ff" d="M88 1611h81"/><path stroke="#8686ff" d="M88 1613h81"/><path stroke="#8787ff" d="M88 1615h81"/><path stroke="#8686ff" d="M88 1617h81"/><path stroke="#8585ff" d="M88 1619h81"/><path stroke="#8989ff" d="M88 1621h81"/><path stroke="#8989ff" d="M88 1623h81"/><path stroke="#8989ff" d="M88 1625h81"/><path stroke="#8585ff" d="M88 1627h81"/><path stroke="#8686ff" d="M88 1629h81"/><path stroke="#8888ff" d="M88 1631h81"/><path stroke="#8585ff" d="M88 1633h81"/><path stroke="#8888ff" d="M88 1635h81"/><path stroke="#8787ff" d="M88 1637h81"/><path stroke="#8888ff" d="M88 1639h81"/><path stroke="#8787ff" d="M88 1641h81"/><path stroke="#8888ff" d="M88 1643h81"/><path stroke="#8a8aff" d="M88 1645h81"/><path stroke="#8888ff" d="M88 1647h81"/><path stroke="#8b8bff" d="M88 1649h81"/><path stroke="#8787ff" d="M88 1651h81"/><path stroke="#8585ff" d="M88 1653h81"/><path stroke="#8888ff" d="M88 1655h81"/><path stroke="#8585ff" d="M88 1657h81"/><path stroke="#8585ff" d="M88 1659h81"/><path stroke="#8888ff" d="M88 1661h81"/><path stroke="#8a8aff" d="M88 1663h81"/><path stroke="#8585ff" d="M88 1665h81"/><path stroke="#8787ff" d="M88 1667h81"/><path stroke="#8b8bff" d="M88 1669h81"/><path stroke="#8c8cff" d="M88 1671h81"/><path stroke="#8989ff" d="M88 1673h81"/><path stroke="#8787ff" d="M88 1675h81"/><path stroke="#8686ff" d="M88 1677h81"/><path stroke="#8484ff" d="M88 1679h81"/><path stroke="#8585ff" d="M88 1681h81"/><path stroke="#8686ff" d="M88 1683h81"/><path stroke="#8686ff" d="M88 1685h81"/><path stroke="#8989ff" d="M88 1687h81"/><path stroke="#8888ff" d="M88 1689h81"/><path stroke="#8484ff" d="M88 1691h81"/><path stroke="#8888ff" d="M88 1693h81"/><path stroke="#8585ff" d="M88 1695h81"/><path stroke="#8585ff" d="M88 1697h81"/><path stroke="#8686ff" d="M88 1699h81"/><path stroke="#8686ff" d="M88 1701h81"/><path stroke="#8484ff" d="M88 1703h81"/><path stroke="#8585ff" d="M88 1705h81"/><path stroke="#8b8bff" d="M88 1707h81"/><path stroke="#8888ff" d="M88 1709h81"/><path stroke="#8787ff" d="M88 1711h81"/><path stroke="#8a8aff" d="M88 1713h81"/><path stroke="#8a8aff" d="M88 1715h81"/><path stroke="#8a8aff" d="M88 1717h81"/><path stroke="#8b8bff" d="M88 1719h81"/><path stroke="#8585ff" d="M88 1721h81"/><path stroke="#8484ff" d="M88 1723h81"/><path stroke="#8686ff" d="M88 1725h81"/><path stroke="#8888ff" d="M88 1727h81"/><path stroke="#8a8aff" d="M88 1729h81"/><path stroke="#8a8aff" d="M88 1731h81"/><path stroke="#8888ff" d="M88 1733h81"/><path stroke="#8888ff" d="M88 1735h81"/><path stroke="#8787ff" d="M88 1737h81"/><path stroke="#8888ff" d="M88 1739h81"/><path stroke="#8989ff" d="M88 1741h81"/><path stroke="#8787ff" d="M88 1743h81"/><path stroke="#8585ff" d="M88 1745h81"/><path stroke="#8484ff" d="M88 1747h81"/><path stroke="#8888ff" d="M88 1749h81"/><path stroke="#8a8aff" d="M88 1751h81"/><path stroke="#8b8bff" d="M88 1753h81"/><path stroke="#8b8bff" d="M88 1755h81"/><path stroke="#8b8bff" d="M88 1757h81"/><path stroke="#8989ff" d="M88 1759h81"/><path stroke="#8989ff" d="M88 1761h81"/><path stroke="#8686ff" d="M88 1763h81"/><path stroke="#8686ff" d="M88 1765h81"/><path stroke="#8585ff" d="M88 1767h81"/><path stroke="#8888ff" d="M88 1769h81"/><path stroke="#8686ff" d="M88 1771h81"/><path stroke="#8686ff" d="M88 1773h81"/><path stroke="#8888ff" d="M88 1775h81"/><path stroke="#8a8aff" d="M88 1777h81"/><path stroke="#8787ff" d="M88 1779h81"/><path stroke="#8585ff" d="M88 1781h81"/><path stroke="#8888ff" d="M88 1783h81"/><path stroke="#8585ff" d="M88 1785h81"/><path stroke="#8787ff" d="M88 1787h81"/><path stroke="#8686ff" d="M88 1789h81"/><path stroke="#a4a4ff" d="M88 1791h81"/><path stroke="#ffa9a9" d="M88 1793h81"/><path stroke="#ff8888" d="M88 1795h81"/><path stroke="#ff8989" d="M88 1797h81"/><path stroke="#ff8a8a" d="M88 1799h81"/><path stroke="#ff8484" d="M88 1801h81"/><path stroke="#ff8484" d="M88 1803h81"/><path stroke="#ff7e7e" d="M88 1805h81"/><path stroke="#ff8282" d="M88 1807h81"/><path stroke="#ff8585" d="M88 1809h81"/><path stroke="#ff8686" d="M88 1811h81"/><path stroke="#ff8383" d="M88 1813h81"/><path stroke="#ff8585" d="M88 1815h81"/><path stroke="#ff8585" d="M88 1817h81"/><path stroke="#ff8585" d="M88 1819h81"/><path stroke="#ff8888" d="M88 1821h81"/><path stroke="#ff8787" d="M88 1823h81"/><path stroke="#ff8888" d="M88 1825h81"/><path stroke="#ff8a8a" d="M88 1827h81"/><path stroke="#ff8787" d="M88 1829h81"/><path stroke="#ff8686" d="M88 1831h81"/><path stroke="#ff8686" d="M88 1833h81"/><path stroke="#ff8989" d="M88 1835h81"/><path stroke="#ff8c8c" d="M88 1837h81"/><path stroke="#ff8989" d="M88 1839h81"/><path stroke="#ff8888" d="M88 1841h81"/><path stroke="#ff8b8b" d="M88 1843h81"/><path stroke="#ff8989" d="M88 1845h81"/><path stroke="#ff8c8c" d="M88 1847h81"/><path stroke="#ff8989" d="M88 1849h81"/><path stroke="#ff8888" d="M88 1851h81"/><path stroke="#ff8787" d="M88 1853h81"/><path stroke="#ff8787" d="M88 1855h81"/><path stroke="#ff8686" d="M88 1857h81"/><path stroke="#ff8989" d="M88 1859h81"/><path stroke="#ff8989" d="M88 1861h81"/><path stroke="#ff8989" d="M88 1863h81"/><path stroke="#ff8989" d="M88 1865h81"/><path stroke="#ff8787" d="M88 1867h81"/><path stroke="#ff8686" d="M88 1869h81"/><path stroke="#ff8383" d="M88 1871h81"/><path stroke="#ff9595" d="M88 1873h81"/><path stroke="#ff9e9e" d="M88 1875h81"/><path stroke="#ff9e9e" d="M88 1877h81"/><path stroke="#ff9898" d="M88 1879h81"/><path stroke="#ff9898" d="M88 1881h81"/><path stroke="#ff9e9e" d="M88 1883h81"/><path stroke="#ff9d9d" d="M88 1885h81"/><path stroke="#ff9e9e" d="M88 1887h81"/><path stroke="#ff9b9b" d="M88 1889h81"/><path stroke="#ff9e9e" d="M88 1891h81"/><path stroke="#ff9e9e" d="M88 1893h81"/><path stroke="#ff9d9d" d="M88 1895h81"/><path stroke="#ff9d9d" d="M88 1897h81"/><path stroke="#ff9d9d" d="M88 1899h81"/><path stroke="#ff9797" d="M88 1901h81"/><path stroke="#ff9292" d="M88 1903h81"/><path stroke="#ff8f8f" d="M88 1905h81"/><path stroke="#ff9090" d="M88 1907h81"/><path stroke="#ff9393" d="M88 1909h81"/><path stroke="#ff9191" d="M88 1911h81"/><path stroke="#ff9090" d="M88 1913h81"/><path stroke="#ff9191" d="M88 1915h81"/><path stroke="#ff9191" d="M88 1917h81"/><path stroke="#ff8e8e" d="M88 1919h81"/><path stroke="#ff9292" d="M88 1921h81"/><path stroke="#ff9292" d="M88 1923h81"/><path stroke="#ff9696" d="M88 1925h81"/><path stroke="#ff9595" d="M88 1927h81"/><path stroke="#ff9494" d="M88 1929h81"/><path stroke="#ff9595" d="M88 1931h81"/><path stroke="#ff9494" d="M88 1933h81"/><path stroke="#ff8f8f" d="M88 1935h81"/><path stroke="#ff9090" d="M88 1937h81"/><path stroke="#ff9191" d="M88 1939h81"/><path stroke="#ff8c8c" d="M88 1941h81"/><path stroke="#ff8e8e" d="M88 1943h81"/><path stroke="#ff9393" d="M88 1945h81"/><path stroke="#ff9191" d="M88 1947h81"/><path stroke="#ff9393" d="M88 1949h81"/><path stroke="#ff8e8e" d="M88 1951h81"/><path stroke="#ff9292" d="M88 1953h81"/><path stroke="#ff9393" d="M88 1955h81"/><path stroke="#ff9595" d="M88 1957h81"/><path stroke="#ff9393" d="M88 1959h81"/><path stroke="#ff9494" d="M88 1961h81"/><path stroke="#ff9292" d="M88 1963h81"/><path stroke="#ff9292" d="M88 1965h81"/><path stroke="#ff9393" d="M88 1967h81"/><path stroke="#ff9090" d="M88 1969h81"/><path stroke="#ff8e8e" d="M88 1971h81"/><path stroke="#ff8f8f" d="M88 1973h81"/><path stroke="#ff9292" d="M88 1975h81"/><path stroke="#ff9494" d="M88 1977h81"/><path stroke="#ff9292" d="M88 1979h81"/><path stroke="#ff8c8c" d="M88 1981h81"/><path stroke="#ff8f8f" d="M88 1983h81"/><path stroke="#ff9292" d="M88 1985h81"/><path stroke="#ff9393" d="M88 1987h81"/><path stroke="#ff9494" d="M88 1989h81"/><path stroke="#ff9595" d="M88 1991h81"/><path stroke="#ff9393" d="M88 1993h81"/><path stroke="#ff8f8f" d="M88 1995h81"/><path stroke="#ff9090" d="M88 1997h81"/><path stroke="#ff9393" d="M88 1999h81"/><path stroke="#ff9797" d="M88 2001h81"/><path stroke="#ff9595" d="M88 2003h81"/><path stroke="#ff9494" d="M88 2005h81"/><path stroke="#ff9696" d="M88 2007h81"/><path stroke="#ff9797" d="M88 2009h81"/><path stroke="#ff9595" d="M88 2011h81"/><path stroke="#ff9292" d="M88 2013h81"/><path stroke="#ff9191" d="M88 2015h81"/><path stroke="#ff9292" d="M88 2017h81"/><path stroke="#ff9393" d="M88 2019h81"/><path stroke="#ff9292" d="M88 2021h81"/><path stroke="#ff9393" d="M88 2023h81"/><path stroke="#ff8e8e" d="M88 2025h81"/><path stroke="#ff9393" d="M88 2027h81"/><path stroke="#ff9494" d="M88 2029h81"/><path stroke="#ff9191" d="M88 2031h81"/><path stroke="#ff9393" d="M88 2033h81"/><path stroke="#ff9090" d="M88 2035h81"/><path stroke="#ff9292" d="M88 2037h81"/><path stroke="#ff9292" d="M88 2039h81"/><path stroke="#ff9393" d="M88 2041h81"/><path stroke="#ff9696" d="M88 2043h81"/><path stroke="#ff9797" d="M88 2045h81"/><path stroke="#ff9090" d="M88 2047h81"/><path stroke="#ff9090" d="M88 2049h81"/><path stroke="#ff9090" d="M88 2051h81"/><path stroke="#ff9090" d="M88 2053h81"/><path stroke="#ff9090" d="M88 2055h81"/><path stroke="#ff8f8f" d="M88 2057h81"/><path stroke="#ff9292" d="M88 2059h81"/><path stroke="#ff9393" d="M88 2061h81"/><path stroke="#ff9191" d="M88 2063h81"/><path stroke="#ff9393" d="M88 2065h81"/><path stroke="#ff9696" d="M88 2067h81"/><path stroke="#ff9595" d="M88 2069h81"/><path stroke="#ff9595" d="M88 2071h81"/><path stroke="#ff9393" d="M88 2073h81"/><path stroke="#ff9595" d="M88 2075h81"/><path stroke="#ff9696" d="M88 2077h81"/><path stroke="#ff9595" d="M88 2079h81"/><path stroke="#ff9191" d="M88 2081h81"/><path stroke="#ff9292" d="M88 2083h81"/><path stroke="#ff9292" d="M88 2085h81"/><path stroke="#ff9393" d="M88 2087h81"/><path stroke="#ff9292" d="M88 2089h81"/><path stroke="#ff9191" d="M88 2091h81"/><path stroke="#ff8f8f" d="M88 2093h81"/><path stroke="#ff9595" d="M88 2095h81"/><path stroke="#ff9191" d="M88 2097h81"/><path stroke="#ff9292" d="M88 2099h81"/><path stroke="#ff9393" d="M88 2101h81"/><path stroke="#ff8e8e" d="M88 2103h81"/><path stroke="#ff9191" d="M88 2105h81"/><path stroke="#ff8e8e" d="M88 2107h81"/><path stroke="#ff8e8e" d="M88 2109h81"/><path stroke="#ff8d8d" d="M88 2111h81"/><path stroke="#ff8686" d="M88 2113h81"/><path stroke="#ff8585" d="M88 2115h81"/><path stroke="#ff8686" d="M88 2117h81"/><path stroke="#ff8c8c" d="M88 2119h81"/><path stroke="#ff8a8a" d="M88 2121h81"/><path stroke="#ff8989" d="M88 2123h81"/><path stroke="#ff8b8b" d="M88 2125h81"/><path stroke="#ff8585" d="M88 2127h81"/><path stroke="#ff8787" d="M88 2129h81"/><path stroke="#ff8888" d="M88 2131h81"/><path stroke="#ff8888" d="M88 2133h81"/><path stroke="#ff8989" d="M88 2135h81"/><path stroke="#ff8a8a" d="M88 2137h81"/><path stroke="#ff8888" d="M88 2139h81"/><path stroke="#ff8787" d="M88 2141h81"/><path stroke="#ff8888" d="M88 2143h81"/><path stroke="#ff8888" d="M88 2145h81"/><path stroke="#ff8b8b" d="M88 2147h81"/><path stroke="#ff8e8e" d="M88 2149h81"/><path stroke="#ffb8b8" d="M88 2151h81"/><path stroke="#ffb8b8" d="M88 2153h81"/><path stroke="#ff9595" d="M88 2155h81"/><path stroke="#ff8f8f" d="M88 2157h81"/><path stroke="#ff8e8e" d="M88 2158.5h81"/><path stroke="#8787ff" d="M169 979h81"/><path stroke="#9292ff" d="M169 981h81"/><path stroke="#8d8dff" d="M169 983h81"/><path stroke="#9494ff" d="M169 985h81"/><path stroke="#8b8bff" d="M169 987h81"/><path stroke="#8b8bff" d="M169 989h81"/><path stroke="#9494ff" d="M169 991h81"/><path stroke="#8d8dff" d="M169 993h81"/><path stroke="#9595ff" d="M169 995h81"/><path stroke="#a7a7ff" d="M169 997h81"/><path stroke="#9a9aff" d="M169 999h81"/><path stroke="#9393ff" d="M169 1001h81"/><path stroke="#a1a1ff" d="M169 1003h81"/><path stroke="#a6a6ff" d="M169 1005h81"/><path stroke="#a7a7ff" d="M169 1007h81"/><path stroke="#b4b4ff" d="M169 1009h81"/><path stroke="#e2e2ff" d="M169 1011h81"/><path stroke="#d8d8ff" d="M169 1013h81"/><path stroke="#9b9bff" d="M169 1015h81"/><path stroke="#9d9dff" d="M169 1017h81"/><path stroke="#9e9eff" d="M169 1019h81"/><path stroke="#c2c2ff" d="M169 1021h81"/><path stroke="#cdcdff" d="M169 1023h81"/><path stroke="#9d9dff" d="M169 1025h81"/><path stroke="#6e6eff" d="M169 1027h81"/><path stroke="#7676ff" d="M169 1029h81"/><path stroke="#6f6fff" d="M169 1031h81"/><path stroke="#7f7fff" d="M169 1033h81"/><path stroke="#7777ff" d="M169 1035h81"/><path stroke="#6161ff" d="M169 1037h81"/><path stroke="#6060ff" d="M169 1039h81"/><path stroke="#7070ff" d="M169 1041h81"/><path stroke="#7c7cff" d="M169 1043h81"/><path stroke="#8181ff" d="M169 1045h81"/><path stroke="#8282ff" d="M169 1047h81"/><path stroke="#8080ff" d="M169 1049h81"/><path stroke="#8282ff" d="M169 1051h81"/><path stroke="#7f7fff" d="M169 1053h81"/><path stroke="#8181ff" d="M169 1055h81"/><path stroke="#8a8aff" d="M169 1057h81"/><path stroke="#7f7fff" d="M169 1059h81"/><path stroke="#8080ff" d="M169 1061h81"/><path stroke="#7b7bff" d="M169 1063h81"/><path stroke="#8787ff" d="M169 1065h81"/><path stroke="#7f7fff" d="M169 1067h81"/><path stroke="#8181ff" d="M169 1069h81"/><path stroke="#8d8dff" d="M169 1071h81"/><path stroke="#8e8eff" d="M169 1073h81"/><path stroke="#9292ff" d="M169 1075h81"/><path stroke="#9292ff" d="M169 1077h81"/><path stroke="#8989ff" d="M169 1079h81"/><path stroke="#7f7fff" d="M169 1081h81"/><path stroke="#8989ff" d="M169 1083h81"/><path stroke="#9191ff" d="M169 1085h81"/><path stroke="#8c8cff" d="M169 1087h81"/><path stroke="#8383ff" d="M169 1089h81"/><path stroke="#8484ff" d="M169 1091h81"/><path stroke="#8787ff" d="M169 1093h81"/><path stroke="#7e7eff" d="M169 1095h81"/><path stroke="#8a8aff" d="M169 1097h81"/><path stroke="#9191ff" d="M169 1099h81"/><path stroke="#8f8fff" d="M169 1101h81"/><path stroke="#9595ff" d="M169 1103h81"/><path stroke="#7c7cff" d="M169 1105h81"/><path stroke="#6d6dff" d="M169 1107h81"/><path stroke="#6565ff" d="M169 1109h81"/><path stroke="#6b6bff" d="M169 1111h81"/><path stroke="#8585ff" d="M169 1113h81"/><path stroke="#8484ff" d="M169 1115h81"/><path stroke="#8a8aff" d="M169 1117h81"/><path stroke="#8080ff" d="M169 1119h81"/><path stroke="#8989ff" d="M169 1121h81"/><path stroke="#8585ff" d="M169 1123h81"/><path stroke="#8787ff" d="M169 1125h81"/><path stroke="#8181ff" d="M169 1127h81"/><path stroke="#8282ff" d="M169 1129h81"/><path stroke="#7474ff" d="M169 1131h81"/><path stroke="#7e7eff" d="M169 1133h81"/><path stroke="#8686ff" d="M169 1135h81"/><path stroke="#8a8aff" d="M169 1137h81"/><path stroke="#8989ff" d="M169 1139h81"/><path stroke="#8787ff" d="M169 1141h81"/><path stroke="#8383ff" d="M169 1143h81"/><path stroke="#7171ff" d="M169 1145h81"/><path stroke="#7a7aff" d="M169 1147h81"/><path stroke="#7a7aff" d="M169 1149h81"/><path stroke="#7c7cff" d="M169 1151h81"/><path stroke="#7676ff" d="M169 1153h81"/><path stroke="#8181ff" d="M169 1155h81"/><path stroke="#8a8aff" d="M169 1157h81"/><path stroke="#8484ff" d="M169 1159h81"/><path stroke="#8888ff" d="M169 1161h81"/><path stroke="#8282ff" d="M169 1163h81"/><path stroke="#7f7fff" d="M169 1165h81"/><path stroke="#7a7aff" d="M169 1167h81"/><path stroke="#7d7dff" d="M169 1169h81"/><path stroke="#8383ff" d="M169 1171h81"/><path stroke="#8e8eff" d="M169 1173h81"/><path stroke="#9494ff" d="M169 1175h81"/><path stroke="#9f9fff" d="M169 1177h81"/><path stroke="#9d9dff" d="M169 1179h81"/><path stroke="#9d9dff" d="M169 1181h81"/><path stroke="#9595ff" d="M169 1183h81"/><path stroke="#9898ff" d="M169 1185h81"/><path stroke="#9292ff" d="M169 1187h81"/><path stroke="#9a9aff" d="M169 1189h81"/><path stroke="#9292ff" d="M169 1191h81"/><path stroke="#8e8eff" d="M169 1193h81"/><path stroke="#8c8cff" d="M169 1195h81"/><path stroke="#9191ff" d="M169 1197h81"/><path stroke="#a7a7ff" d="M169 1199h81"/><path stroke="#bbbbff" d="M169 1201h81"/><path stroke="#bdbdff" d="M169 1203h81"/><path stroke="#c0c0ff" d="M169 1205h81"/><path stroke="#c2c2ff" d="M169 1207h81"/><path stroke="#bdbdff" d="M169 1209h81"/><path stroke="#cacaff" d="M169 1211h81"/><path stroke="#d5d5ff" d="M169 1213h81"/><path stroke="#d7d7ff" d="M169 1215h81"/><path stroke="#c9c9ff" d="M169 1217h81"/><path stroke="#9b9bff" d="M169 1219h81"/><path stroke="#9292ff" d="M169 1221h81"/><path stroke="#9595ff" d="M169 1223h81"/><path stroke="#9393ff" d="M169 1225h81"/><path stroke="#9a9aff" d="M169 1227h81"/><path stroke="#a4a4ff" d="M169 1229h81"/><path stroke="#ababff" d="M169 1231h81"/><path stroke="#ababff" d="M169 1233h81"/><path stroke="#aaaaff" d="M169 1235h81"/><path stroke="#ababff" d="M169 1237h81"/><path stroke="#a0a0ff" d="M169 1239h81"/><path stroke="#b2b2ff" d="M169 1241h81"/><path stroke="#b5b5ff" d="M169 1243h81"/><path stroke="#b8b8ff" d="M169 1245h81"/><path stroke="#afafff" d="M169 1247h81"/><path stroke="#b0b0ff" d="M169 1249h81"/><path stroke="#b7b7ff" d="M169 1251h81"/><path stroke="#b3b3ff" d="M169 1253h81"/><path stroke="#b8b8ff" d="M169 1255h81"/><path stroke="#b3b3ff" d="M169 1257h81"/><path stroke="#b4b4ff" d="M169 1259h81"/><path stroke="#b0b0ff" d="M169 1261h81"/><path stroke="#bdbdff" d="M169 1263h81"/><path stroke="#b3b3ff" d="M169 1265h81"/><path stroke="#b4b4ff" d="M169 1267h81"/><path stroke="#b1b1ff" d="M169 1269h81"/><path stroke="#b2b2ff" d="M169 1271h81"/><path stroke="#cbcbff" d="M169 1273h81"/><path stroke="#e8e8ff" d="M169 1275h81"/><path stroke="#b9b9ff" d="M169 1277h81"/><path stroke="#c6c6ff" d="M169 1279h81"/><path stroke="#b4b4ff" d="M169 1281h81"/><path stroke="#bdbdff" d="M169 1283h81"/><path stroke="#a4a4ff" d="M169 1285h81"/><path stroke="#9292ff" d="M169 1287h81"/><path stroke="#8d8dff" d="M169 1289h81"/><path stroke="#9292ff" d="M169 1291h81"/><path stroke="#9292ff" d="M169 1293h81"/><path stroke="#9595ff" d="M169 1295h81"/><path stroke="#9090ff" d="M169 1297h81"/><path stroke="#9090ff" d="M169 1299h81"/><path stroke="#8b8bff" d="M169 1301h81"/><path stroke="#8f8fff" d="M169 1303h81"/><path stroke="#9999ff" d="M169 1305h81"/><path stroke="#9696ff" d="M169 1307h81"/><path stroke="#9c9cff" d="M169 1309h81"/><path stroke="#9999ff" d="M169 1311h81"/><path stroke="#9191ff" d="M169 1313h81"/><path stroke="#9393ff" d="M169 1315h81"/><path stroke="#9696ff" d="M169 1317h81"/><path stroke="#9292ff" d="M169 1319h81"/><path stroke="#9292ff" d="M169 1321h81"/><path stroke="#8f8fff" d="M169 1323h81"/><path stroke="#9b9bff" d="M169 1325h81"/><path stroke="#9c9cff" d="M169 1327h81"/><path stroke="#9b9bff" d="M169 1329h81"/><path stroke="#9494ff" d="M169 1331h81"/><path stroke="#9b9bff" d="M169 1333h81"/><path stroke="#9797ff" d="M169 1335h81"/><path stroke="#9393ff" d="M169 1337h81"/><path stroke="#9696ff" d="M169 1339h81"/><path stroke="#8f8fff" d="M169 1341h81"/><path stroke="#9393ff" d="M169 1343h81"/><path stroke="#9090ff" d="M169 1345h81"/><path stroke="#8888ff" d="M169 1347h81"/><path stroke="#8e8eff" d="M169 1349h81"/><path stroke="#8686ff" d="M169 1351h81"/><path stroke="#9292ff" d="M169 1353h81"/><path stroke="#8d8dff" d="M169 1355h81"/><path stroke="#8989ff" d="M169 1357h81"/><path stroke="#8a8aff" d="M169 1359h81"/><path stroke="#9191ff" d="M169 1361h81"/><path stroke="#8f8fff" d="M169 1363h81"/><path stroke="#8686ff" d="M169 1365h81"/><path stroke="#8a8aff" d="M169 1367h81"/><path stroke="#9191ff" d="M169 1369h81"/><path stroke="#8686ff" d="M169 1371h81"/><path stroke="#8484ff" d="M169 1373h81"/><path stroke="#9090ff" d="M169 1375h81"/><path stroke="#8888ff" d="M169 1377h81"/><path stroke="#7f7fff" d="M169 1379h81"/><path stroke="#8787ff" d="M169 1381h81"/><path stroke="#8585ff" d="M169 1383h81"/><path stroke="#9191ff" d="M169 1385h81"/><path stroke="#8e8eff" d="M169 1387h81"/><path stroke="#8686ff" d="M169 1389h81"/><path stroke="#8989ff" d="M169 1391h81"/><path stroke="#8f8fff" d="M169 1393h81"/><path stroke="#8484ff" d="M169 1395h81"/><path stroke="#8686ff" d="M169 1397h81"/><path stroke="#9191ff" d="M169 1399h81"/><path stroke="#9595ff" d="M169 1401h81"/><path stroke="#8383ff" d="M169 1403h81"/><path stroke="#7474ff" d="M169 1405h81"/><path stroke="#6868ff" d="M169 1407h81"/><path stroke="#6969ff" d="M169 1409h81"/><path stroke="#6262ff" d="M169 1411h81"/><path stroke="#6767ff" d="M169 1413h81"/><path stroke="#6b6bff" d="M169 1415h81"/><path stroke="#6d6dff" d="M169 1417h81"/><path stroke="#6b6bff" d="M169 1419h81"/><path stroke="#6262ff" d="M169 1421h81"/><path stroke="#6060ff" d="M169 1423h81"/><path stroke="#6565ff" d="M169 1425h81"/><path stroke="#6464ff" d="M169 1427h81"/><path stroke="#6161ff" d="M169 1429h81"/><path stroke="#6e6eff" d="M169 1431h81"/><path stroke="#b4b4ff" d="M169 1433h81"/><path stroke="#c7c7ff" d="M169 1435h81"/><path stroke="#cfcfff" d="M169 1437h81"/><path stroke="#ededff" d="M169 1439h81"/><path stroke="#efefff" d="M169 1441h81"/><path stroke="#f5f5ff" d="M169 1443h81"/><path stroke="#eaeaff" d="M169 1445h81"/><path stroke="#c6c6ff" d="M169 1447h81"/><path stroke="#b1b1ff" d="M169 1449h81"/><path stroke="#bbbbff" d="M169 1451h81"/><path stroke="#b0b0ff" d="M169 1453h81"/><path stroke="#b6b6ff" d="M169 1455h81"/><path stroke="#a8a8ff" d="M169 1457h81"/><path stroke="#aeaeff" d="M169 1459h81"/><path stroke="#aeaeff" d="M169 1461h81"/><path stroke="#a7a7ff" d="M169 1463h81"/><path stroke="#afafff" d="M169 1465h81"/><path stroke="#b2b2ff" d="M169 1467h81"/><path stroke="#aaaaff" d="M169 1469h81"/><path stroke="#aaaaff" d="M169 1471h81"/><path stroke="#a3a3ff" d="M169 1473h81"/><path stroke="#a3a3ff" d="M169 1475h81"/><path stroke="#a7a7ff" d="M169 1477h81"/><path stroke="#a4a4ff" d="M169 1479h81"/><path stroke="#a2a2ff" d="M169 1481h81"/><path stroke="#9f9fff" d="M169 1483h81"/><path stroke="#b9b9ff" d="M169 1485h81"/><path stroke="#adadff" d="M169 1487h81"/><path stroke="#a6a6ff" d="M169 1489h81"/><path stroke="#a5a5ff" d="M169 1491h81"/><path stroke="#9595ff" d="M169 1493h81"/><path stroke="#c0c0ff" d="M169 1495h81"/><path stroke="#a9a9ff" d="M169 1497h81"/><path stroke="#a7a7ff" d="M169 1499h81"/><path stroke="#aeaeff" d="M169 1501h81"/><path stroke="#adadff" d="M169 1503h81"/><path stroke="#a8a8ff" d="M169 1505h81"/><path stroke="#a7a7ff" d="M169 1507h81"/><path stroke="#9c9cff" d="M169 1509h81"/><path stroke="#9696ff" d="M169 1511h81"/><path stroke="#9696ff" d="M169 1513h81"/><path stroke="#9999ff" d="M169 1515h81"/><path stroke="#9c9cff" d="M169 1517h81"/><path stroke="#9b9bff" d="M169 1519h81"/><path stroke="#9f9fff" d="M169 1521h81"/><path stroke="#9e9eff" d="M169 1523h81"/><path stroke="#9f9fff" d="M169 1525h81"/><path stroke="#a0a0ff" d="M169 1527h81"/><path stroke="#a8a8ff" d="M169 1529h81"/><path stroke="#adadff" d="M169 1531h81"/><path stroke="#8686ff" d="M169 1533h81"/><path stroke="#6363ff" d="M169 1535h81"/><path stroke="#5252ff" d="M169 1537h81"/><path stroke="#5d5dff" d="M169 1539h81"/><path stroke="#5b5bff" d="M169 1541h81"/><path stroke="#5f5fff" d="M169 1543h81"/><path stroke="#6464ff" d="M169 1545h81"/><path stroke="#6868ff" d="M169 1547h81"/><path stroke="#6565ff" d="M169 1549h81"/><path stroke="#6666ff" d="M169 1551h81"/><path stroke="#6969ff" d="M169 1553h81"/><path stroke="#6767ff" d="M169 1555h81"/><path stroke="#6a6aff" d="M169 1557h81"/><path stroke="#6464ff" d="M169 1559h81"/><path stroke="#6565ff" d="M169 1561h81"/><path stroke="#6d6dff" d="M169 1563h81"/><path stroke="#7474ff" d="M169 1565h81"/><path stroke="#7373ff" d="M169 1567h81"/><path stroke="#7474ff" d="M169 1569h81"/><path stroke="#6a6aff" d="M169 1571h81"/><path stroke="#7171ff" d="M169 1573h81"/><path stroke="#6f6fff" d="M169 1575h81"/><path stroke="#7c7cff" d="M169 1577h81"/><path stroke="#7070ff" d="M169 1579h81"/><path stroke="#7777ff" d="M169 1581h81"/><path stroke="#7272ff" d="M169 1583h81"/><path stroke="#7474ff" d="M169 1585h81"/><path stroke="#6d6dff" d="M169 1587h81"/><path stroke="#6a6aff" d="M169 1589h81"/><path stroke="#7878ff" d="M169 1591h81"/><path stroke="#7777ff" d="M169 1593h81"/><path stroke="#7979ff" d="M169 1595h81"/><path stroke="#6a6aff" d="M169 1597h81"/><path stroke="#6868ff" d="M169 1599h81"/><path stroke="#7070ff" d="M169 1601h81"/><path stroke="#7070ff" d="M169 1603h81"/><path stroke="#6161ff" d="M169 1605h81"/><path stroke="#6060ff" d="M169 1607h81"/><path stroke="#6161ff" d="M169 1609h81"/><path stroke="#5656ff" d="M169 1611h81"/><path stroke="#5353ff" d="M169 1613h81"/><path stroke="#4a4aff" d="M169 1615h81"/><path stroke="#4444ff" d="M169 1617h81"/><path stroke="#4545ff" d="M169 1619h81"/><path stroke="#4949ff" d="M169 1621h81"/><path stroke="#5656ff" d="M169 1623h81"/><path stroke="#5454ff" d="M169 1625h81"/><path stroke="#5353ff" d="M169 1627h81"/><path stroke="#7272ff" d="M169 1629h81"/><path stroke="#9797ff" d="M169 1631h81"/><path stroke="#a3a3ff" d="M169 1633h81"/><path stroke="#a4a4ff" d="M169 1635h81"/><path stroke="#a2a2ff" d="M169 1637h81"/><path stroke="#aaaaff" d="M169 1639h81"/><path stroke="#a8a8ff" d="M169 1641h81"/><path stroke="#9696ff" d="M169 1643h81"/><path stroke="#8d8dff" d="M169 1645h81"/><path stroke="#9797ff" d="M169 1647h81"/><path stroke="#8e8eff" d="M169 1649h81"/><path stroke="#8a8aff" d="M169 1651h81"/><path stroke="#8e8eff" d="M169 1653h81"/><path stroke="#9090ff" d="M169 1655h81"/><path stroke="#8c8cff" d="M169 1657h81"/><path stroke="#8787ff" d="M169 1659h81"/><path stroke="#8585ff" d="M169 1661h81"/><path stroke="#8b8bff" d="M169 1663h81"/><path stroke="#8787ff" d="M169 1665h81"/><path stroke="#8989ff" d="M169 1667h81"/><path stroke="#8989ff" d="M169 1669h81"/><path stroke="#8d8dff" d="M169 1671h81"/><path stroke="#9393ff" d="M169 1673h81"/><path stroke="#9898ff" d="M169 1675h81"/><path stroke="#9b9bff" d="M169 1677h81"/><path stroke="#9595ff" d="M169 1679h81"/><path stroke="#9a9aff" d="M169 1681h81"/><path stroke="#9898ff" d="M169 1683h81"/><path stroke="#9999ff" d="M169 1685h81"/><path stroke="#9999ff" d="M169 1687h81"/><path stroke="#9292ff" d="M169 1689h81"/><path stroke="#9999ff" d="M169 1691h81"/><path stroke="#8787ff" d="M169 1693h81"/><path stroke="#8b8bff" d="M169 1695h81"/><path stroke="#8e8eff" d="M169 1697h81"/><path stroke="#9999ff" d="M169 1699h81"/><path stroke="#8e8eff" d="M169 1701h81"/><path stroke="#9494ff" d="M169 1703h81"/><path stroke="#9898ff" d="M169 1705h81"/><path stroke="#8e8eff" d="M169 1707h81"/><path stroke="#9090ff" d="M169 1709h81"/><path stroke="#8b8bff" d="M169 1711h81"/><path stroke="#9494ff" d="M169 1713h81"/><path stroke="#9898ff" d="M169 1715h81"/><path stroke="#8c8cff" d="M169 1717h81"/><path stroke="#9292ff" d="M169 1719h81"/><path stroke="#9999ff" d="M169 1721h81"/><path stroke="#8282ff" d="M169 1723h81"/><path stroke="#8181ff" d="M169 1725h81"/><path stroke="#8989ff" d="M169 1727h81"/><path stroke="#7b7bff" d="M169 1729h81"/><path stroke="#7676ff" d="M169 1731h81"/><path stroke="#8484ff" d="M169 1733h81"/><path stroke="#7f7fff" d="M169 1735h81"/><path stroke="#7c7cff" d="M169 1737h81"/><path stroke="#8181ff" d="M169 1739h81"/><path stroke="#8585ff" d="M169 1741h81"/><path stroke="#7272ff" d="M169 1743h81"/><path stroke="#8f8fff" d="M169 1745h81"/><path stroke="#8e8eff" d="M169 1747h81"/><path stroke="#9595ff" d="M169 1749h81"/><path stroke="#9898ff" d="M169 1751h81"/><path stroke="#9696ff" d="M169 1753h81"/><path stroke="#9494ff" d="M169 1755h81"/><path stroke="#9494ff" d="M169 1757h81"/><path stroke="#9292ff" d="M169 1759h81"/><path stroke="#8f8fff" d="M169 1761h81"/><path stroke="#8383ff" d="M169 1763h81"/><path stroke="#8b8bff" d="M169 1765h81"/><path stroke="#8a8aff" d="M169 1767h81"/><path stroke="#8a8aff" d="M169 1769h81"/><path stroke="#8c8cff" d="M169 1771h81"/><path stroke="#8686ff" d="M169 1773h81"/><path stroke="#7e7eff" d="M169 1775h81"/><path stroke="#7e7eff" d="M169 1777h81"/><path stroke="#8888ff" d="M169 1779h81"/><path stroke="#8282ff" d="M169 1781h81"/><path stroke="#8b8bff" d="M169 1783h81"/><path stroke="#9494ff" d="M169 1785h81"/><path stroke="#8383ff" d="M169 1787h81"/><path stroke="#8181ff" d="M169 1789h81"/><path stroke="#ababff" d="M169 1791h81"/><path stroke="#ff9b9b" d="M169 1793h81"/><path stroke="#ff8080" d="M169 1795h81"/><path stroke="#ff8787" d="M169 1797h81"/><path stroke="#ff8383" d="M169 1799h81"/><path stroke="#ff8585" d="M169 1801h81"/><path stroke="#ff8282" d="M169 1803h81"/><path stroke="#ff8585" d="M169 1805h81"/><path stroke="#ff8282" d="M169 1807h81"/><path stroke="#ff8787" d="M169 1809h81"/><path stroke="#ff8686" d="M169 1811h81"/><path stroke="#ff9090" d="M169 1813h81"/><path stroke="#ff9999" d="M169 1815h81"/><path stroke="#ff9c9c" d="M169 1817h81"/><path stroke="#ff9d9d" d="M169 1819h81"/><path stroke="#ffa3a3" d="M169 1821h81"/><path stroke="#ff9d9d" d="M169 1823h81"/><path stroke="#ff9797" d="M169 1825h81"/><path stroke="#ff7a7a" d="M169 1827h81"/><path stroke="#ff7d7d" d="M169 1829h81"/><path stroke="#ff7676" d="M169 1831h81"/><path stroke="#ff6d6d" d="M169 1833h81"/><path stroke="#ff7373" d="M169 1835h81"/><path stroke="#ff7f7f" d="M169 1837h81"/><path stroke="#ff7e7e" d="M169 1839h81"/><path stroke="#ff7676" d="M169 1841h81"/><path stroke="#ff8080" d="M169 1843h81"/><path stroke="#ff8686" d="M169 1845h81"/><path stroke="#ff7c7c" d="M169 1847h81"/><path stroke="#ff7b7b" d="M169 1849h81"/><path stroke="#ff7f7f" d="M169 1851h81"/><path stroke="#ff7d7d" d="M169 1853h81"/><path stroke="#ff7e7e" d="M169 1855h81"/><path stroke="#ff8484" d="M169 1857h81"/><path stroke="#ff7b7b" d="M169 1859h81"/><path stroke="#ff7676" d="M169 1861h81"/><path stroke="#ff7b7b" d="M169 1863h81"/><path stroke="#ff7b7b" d="M169 1865h81"/><path stroke="#ff5252" d="M169 1867h81"/><path stroke="#ff3434" d="M169 1869h81"/><path stroke="#ff3333" d="M169 1871h81"/><path stroke="#ff2828" d="M169 1873h81"/><path stroke="#ff3535" d="M169 1875h81"/><path stroke="#ff4949" d="M169 1877h81"/><path stroke="#ff4a4a" d="M169 1879h81"/><path stroke="#ff5252" d="M169 1881h81"/><path stroke="#ff4a4a" d="M169 1883h81"/><path stroke="#ff5252" d="M169 1885h81"/><path stroke="#ff5151" d="M169 1887h81"/><path stroke="#ff4545" d="M169 1889h81"/><path stroke="#ff4c4c" d="M169 1891h81"/><path stroke="#ff4747" d="M169 1893h81"/><path stroke="#ff5e5e" d="M169 1895h81"/><path stroke="#ff4848" d="M169 1897h81"/><path stroke="#ff5151" d="M169 1899h81"/><path stroke="#ff4d4d" d="M169 1901h81"/><path stroke="#ff4d4d" d="M169 1903h81"/><path stroke="#ff4d4d" d="M169 1905h81"/><path stroke="#ff4848" d="M169 1907h81"/><path stroke="#ff4c4c" d="M169 1909h81"/><path stroke="#ff4646" d="M169 1911h81"/><path stroke="#ff4747" d="M169 1913h81"/><path stroke="#ff5555" d="M169 1915h81"/><path stroke="#ff5959" d="M169 1917h81"/><path stroke="#ff5656" d="M169 1919h81"/><path stroke="#ff4f4f" d="M169 1921h81"/><path stroke="#ff4a4a" d="M169 1923h81"/><path stroke="#ff4f4f" d="M169 1925h81"/><path stroke="#ff4848" d="M169 1927h81"/><path stroke="#ff4646" d="M169 1929h81"/><path stroke="#ff4f4f" d="M169 1931h81"/><path stroke="#ff6969" d="M169 1933h81"/><path stroke="#ff7070" d="M169 1935h81"/><path stroke="#ff7070" d="M169 1937h81"/><path stroke="#ff7171" d="M169 1939h81"/><path stroke="#ff7e7e" d="M169 1941h81"/><path stroke="#ff6b6b" d="M169 1943h81"/><path stroke="#ff7878" d="M169 1945h81"/><path stroke="#ff7575" d="M169 1947h81"/><path stroke="#ff7575" d="M169 1949h81"/><path stroke="#ff6969" d="M169 1951h81"/><path stroke="#ff7777" d="M169 1953h81"/><path stroke="#ff6c6c" d="M169 1955h81"/><path stroke="#ff6b6b" d="M169 1957h81"/><path stroke="#ff6262" d="M169 1959h81"/><path stroke="#ff5b5b" d="M169 1961h81"/><path stroke="#ff5d5d" d="M169 1963h81"/><path stroke="#ff5a5a" d="M169 1965h81"/><path stroke="#ff5c5c" d="M169 1967h81"/><path stroke="#ff6d6d" d="M169 1969h81"/><path stroke="#ff7c7c" d="M169 1971h81"/><path stroke="#ff7676" d="M169 1973h81"/><path stroke="#ff7d7d" d="M169 1975h81"/><path stroke="#ff7474" d="M169 1977h81"/><path stroke="#ff7070" d="M169 1979h81"/><path stroke="#ff7777" d="M169 1981h81"/><path stroke="#ff7c7c" d="M169 1983h81"/><path stroke="#ff8080" d="M169 1985h81"/><path stroke="#ff7474" d="M169 1987h81"/><path stroke="#ff8282" d="M169 1989h81"/><path stroke="#ff8181" d="M169 1991h81"/><path stroke="#ff8d8d" d="M169 1993h81"/><path stroke="#ff8080" d="M169 1995h81"/><path stroke="#ff7d7d" d="M169 1997h81"/><path stroke="#ff8787" d="M169 1999h81"/><path stroke="#ff7373" d="M169 2001h81"/><path stroke="#ff6969" d="M169 2003h81"/><path stroke="#ff6b6b" d="M169 2005h81"/><path stroke="#ff7676" d="M169 2007h81"/><path stroke="#ff7474" d="M169 2009h81"/><path stroke="#ff7a7a" d="M169 2011h81"/><path stroke="#ff7272" d="M169 2013h81"/><path stroke="#ff7a7a" d="M169 2015h81"/><path stroke="#ff7d7d" d="M169 2017h81"/><path stroke="#ff8181" d="M169 2019h81"/><path stroke="#ffbcbc" d="M169 2021h81"/><path stroke="#ffbdbd" d="M169 2023h81"/><path stroke="#ffbfbf" d="M169 2025h81"/><path stroke="#ffb2b2" d="M169 2027h81"/><path stroke="#ff9696" d="M169 2029h81"/><path stroke="#ff9e9e" d="M169 2031h81"/><path stroke="#ff9b9b" d="M169 2033h81"/><path stroke="#ff9d9d" d="M169 2035h81"/><path stroke="#ff9696" d="M169 2037h81"/><path stroke="#ff9797" d="M169 2039h81"/><path stroke="#ff9696" d="M169 2041h81"/><path stroke="#ff9595" d="M169 2043h81"/><path stroke="#ff9f9f" d="M169 2045h81"/><path stroke="#ffa3a3" d="M169 2047h81"/><path stroke="#ff9c9c" d="M169 2049h81"/><path stroke="#ff9494" d="M169 2051h81"/><path stroke="#ff9494" d="M169 2053h81"/><path stroke="#ff8080" d="M169 2055h81"/><path stroke="#ff8e8e" d="M169 2057h81"/><path stroke="#ff9d9d" d="M169 2059h81"/><path stroke="#ff9999" d="M169 2061h81"/><path stroke="#ff9191" d="M169 2063h81"/><path stroke="#ff9191" d="M169 2065h81"/><path stroke="#ff9494" d="M169 2067h81"/><path stroke="#ffa9a9" d="M169 2069h81"/><path stroke="#ffa2a2" d="M169 2071h81"/><path stroke="#ffaaaa" d="M169 2073h81"/><path stroke="#ffa4a4" d="M169 2075h81"/><path stroke="#ffa8a8" d="M169 2077h81"/><path stroke="#ffabab" d="M169 2079h81"/><path stroke="#ffaeae" d="M169 2081h81"/><path stroke="#ffa8a8" d="M169 2083h81"/><path stroke="#ffa7a7" d="M169 2085h81"/><path stroke="#ffaaaa" d="M169 2087h81"/><path stroke="#ffa5a5" d="M169 2089h81"/><path stroke="#ffabab" d="M169 2091h81"/><path stroke="#ffc7c7" d="M169 2093h81"/><path stroke="#ffc0c0" d="M169 2095h81"/><path stroke="#ffc3c3" d="M169 2097h81"/><path stroke="#ffc3c3" d="M169 2099h81"/><path stroke="#ffc1c1" d="M169 2101h81"/><path stroke="#ffbaba" d="M169 2103h81"/><path stroke="#ffbebe" d="M169 2105h81"/><path stroke="#ffc5c5" d="M169 2107h81"/><path stroke="#ffbaba" d="M169 2109h81"/><path stroke="#ffa4a4" d="M169 2111h81"/><path stroke="#ff9f9f" d="M169 2113h81"/><path stroke="#ff9797" d="M169 2115h81"/><path stroke="#ff9d9d" d="M169 2117h81"/><path stroke="#ff9f9f" d="M169 2119h81"/><path stroke="#ffa2a2" d="M169 2121h81"/><path stroke="#ff9d9d" d="M169 2123h81"/><path stroke="#ffa4a4" d="M169 2125h81"/><path stroke="#ffa5a5" d="M169 2127h81"/><path stroke="#ffc9c9" d="M169 2129h81"/><path stroke="#ffe9e9" d="M169 2131h81"/><path stroke="#ffd2d2" d="M169 2133h81"/><path stroke="#ffd0d0" d="M169 2135h81"/><path stroke="#ffd1d1" d="M169 2137h81"/><path stroke="#ffc4c4" d="M169 2139h81"/><path stroke="#ffc2c2" d="M169 2141h81"/><path stroke="#ffc2c2" d="M169 2143h81"/><path stroke="#ffc5c5" d="M169 2145h81"/><path stroke="#ffc7c7" d="M169 2147h81"/><path stroke="#ffcece" d="M169 2149h81"/><path stroke="#fff5f5" d="M169 2151h81"/><path stroke="#fffafa" d="M169 2153h81"/><path stroke="#fffafa" d="M169 2155h81"/><path stroke="#fffbfb" d="M169 2157h81"/><path stroke="#fefeff" d="M169 2158.5h81"/><path stroke="#a9a9ff" d="M250 979h82"/><path stroke="#b9b9ff" d="M250 981h82"/><path stroke="#a8a8ff" d="M250 983h82"/><path stroke="#a8a8ff" d="M250 985h82"/><path stroke="#a6a6ff" d="M250 987h82"/><path stroke="#a7a7ff" d="M250 989h82"/><path stroke="#a5a5ff" d="M250 991h82"/><path stroke="#a5a5ff" d="M250 993h82"/><path stroke="#9f9fff" d="M250 995h82"/><path stroke="#9e9eff" d="M250 997h82"/><path stroke="#9c9cff" d="M250 999h82"/><path stroke="#a0a0ff" d="M250 1001h82"/><path stroke="#9696ff" d="M250 1003h82"/><path stroke="#9a9aff" d="M250 1005h82"/><path stroke="#a1a1ff" d="M250 1007h82"/><path stroke="#9494ff" d="M250 1009h82"/><path stroke="#7b7bff" d="M250 1011h82"/><path stroke="#7d7dff" d="M250 1013h82"/><path stroke="#8484ff" d="M250 1015h82"/><path stroke="#9494ff" d="M250 1017h82"/><path stroke="#9393ff" d="M250 1019h82"/><path stroke="#8e8eff" d="M250 1021h82"/><path stroke="#8c8cff" d="M250 1023h82"/><path stroke="#ababff" d="M250 1025h82"/><path stroke="#c4c4ff" d="M250 1027h82"/><path stroke="#bbbbff" d="M250 1029h82"/><path stroke="#c0c0ff" d="M250 1031h82"/><path stroke="#c8c8ff" d="M250 1033h82"/><path stroke="#cfcfff" d="M250 1035h82"/><path stroke="#d2d2ff" d="M250 1037h82"/><path stroke="#dbdbff" d="M250 1039h82"/><path stroke="#dfdfff" d="M250 1041h82"/><path stroke="#cacaff" d="M250 1043h82"/><path stroke="#c3c3ff" d="M250 1045h82"/><path stroke="#cbcbff" d="M250 1047h82"/><path stroke="#cbcbff" d="M250 1049h82"/><path stroke="#c6c6ff" d="M250 1051h82"/><path stroke="#c7c7ff" d="M250 1053h82"/><path stroke="#c7c7ff" d="M250 1055h82"/><path stroke="#c9c9ff" d="M250 1057h82"/><path stroke="#d0d0ff" d="M250 1059h82"/><path stroke="#bcbcff" d="M250 1061h82"/><path stroke="#ceceff" d="M250 1063h82"/><path stroke="#bbbbff" d="M250 1065h82"/><path stroke="#bdbdff" d="M250 1067h82"/><path stroke="#b5b5ff" d="M250 1069h82"/><path stroke="#aeaeff" d="M250 1071h82"/><path stroke="#a8a8ff" d="M250 1073h82"/><path stroke="#b1b1ff" d="M250 1075h82"/><path stroke="#b4b4ff" d="M250 1077h82"/><path stroke="#afafff" d="M250 1079h82"/><path stroke="#babaff" d="M250 1081h82"/><path stroke="#bcbcff" d="M250 1083h82"/><path stroke="#adadff" d="M250 1085h82"/><path stroke="#b6b6ff" d="M250 1087h82"/><path stroke="#b9b9ff" d="M250 1089h82"/><path stroke="#a6a6ff" d="M250 1091h82"/><path stroke="#babaff" d="M250 1093h82"/><path stroke="#b6b6ff" d="M250 1095h82"/><path stroke="#a6a6ff" d="M250 1097h82"/><path stroke="#adadff" d="M250 1099h82"/><path stroke="#c1c1ff" d="M250 1101h82"/><path stroke="#aeaeff" d="M250 1103h82"/><path stroke="#a5a5ff" d="M250 1105h82"/><path stroke="#ceceff" d="M250 1107h82"/><path stroke="#ededff" d="M250 1109h82"/><path stroke="#ececff" d="M250 1111h82"/><path stroke="#c1c1ff" d="M250 1113h82"/><path stroke="#9191ff" d="M250 1115h82"/><path stroke="#9090ff" d="M250 1117h82"/><path stroke="#8f8fff" d="M250 1119h82"/><path stroke="#8b8bff" d="M250 1121h82"/><path stroke="#8b8bff" d="M250 1123h82"/><path stroke="#9a9aff" d="M250 1125h82"/><path stroke="#9898ff" d="M250 1127h82"/><path stroke="#9b9bff" d="M250 1129h82"/><path stroke="#9e9eff" d="M250 1131h82"/><path stroke="#b2b2ff" d="M250 1133h82"/><path stroke="#9c9cff" d="M250 1135h82"/><path stroke="#9f9fff" d="M250 1137h82"/><path stroke="#9b9bff" d="M250 1139h82"/><path stroke="#9191ff" d="M250 1141h82"/><path stroke="#9898ff" d="M250 1143h82"/><path stroke="#7f7fff" d="M250 1145h82"/><path stroke="#8a8aff" d="M250 1147h82"/><path stroke="#8f8fff" d="M250 1149h82"/><path stroke="#8383ff" d="M250 1151h82"/><path stroke="#8282ff" d="M250 1153h82"/><path stroke="#8383ff" d="M250 1155h82"/><path stroke="#8080ff" d="M250 1157h82"/><path stroke="#8181ff" d="M250 1159h82"/><path stroke="#7070ff" d="M250 1161h82"/><path stroke="#8484ff" d="M250 1163h82"/><path stroke="#8989ff" d="M250 1165h82"/><path stroke="#8b8bff" d="M250 1167h82"/><path stroke="#8a8aff" d="M250 1169h82"/><path stroke="#8787ff" d="M250 1171h82"/><path stroke="#8989ff" d="M250 1173h82"/><path stroke="#8585ff" d="M250 1175h82"/><path stroke="#8282ff" d="M250 1177h82"/><path stroke="#8d8dff" d="M250 1179h82"/><path stroke="#9393ff" d="M250 1181h82"/><path stroke="#8686ff" d="M250 1183h82"/><path stroke="#9191ff" d="M250 1185h82"/><path stroke="#9292ff" d="M250 1187h82"/><path stroke="#9696ff" d="M250 1189h82"/><path stroke="#9494ff" d="M250 1191h82"/><path stroke="#8f8fff" d="M250 1193h82"/><path stroke="#9999ff" d="M250 1195h82"/><path stroke="#a5a5ff" d="M250 1197h82"/><path stroke="#9191ff" d="M250 1199h82"/><path stroke="#7d7dff" d="M250 1201h82"/><path stroke="#7d7dff" d="M250 1203h82"/><path stroke="#6a6aff" d="M250 1205h82"/><path stroke="#7171ff" d="M250 1207h82"/><path stroke="#7a7aff" d="M250 1209h82"/><path stroke="#7171ff" d="M250 1211h82"/><path stroke="#7474ff" d="M250 1213h82"/><path stroke="#5757ff" d="M250 1215h82"/><path stroke="#5a5aff" d="M250 1217h82"/><path stroke="#5d5dff" d="M250 1219h82"/><path stroke="#7878ff" d="M250 1221h82"/><path stroke="#7b7bff" d="M250 1223h82"/><path stroke="#7272ff" d="M250 1225h82"/><path stroke="#7373ff" d="M250 1227h82"/><path stroke="#7b7bff" d="M250 1229h82"/><path stroke="#7474ff" d="M250 1231h82"/><path stroke="#7575ff" d="M250 1233h82"/><path stroke="#7878ff" d="M250 1235h82"/><path stroke="#8080ff" d="M250 1237h82"/><path stroke="#7e7eff" d="M250 1239h82"/><path stroke="#7a7aff" d="M250 1241h82"/><path stroke="#8181ff" d="M250 1243h82"/><path stroke="#7070ff" d="M250 1245h82"/><path stroke="#7676ff" d="M250 1247h82"/><path stroke="#7a7aff" d="M250 1249h82"/><path stroke="#7070ff" d="M250 1251h82"/><path stroke="#6d6dff" d="M250 1253h82"/><path stroke="#7979ff" d="M250 1255h82"/><path stroke="#6c6cff" d="M250 1257h82"/><path stroke="#6868ff" d="M250 1259h82"/><path stroke="#6a6aff" d="M250 1261h82"/><path stroke="#6a6aff" d="M250 1263h82"/><path stroke="#6666ff" d="M250 1265h82"/><path stroke="#6d6dff" d="M250 1267h82"/><path stroke="#7070ff" d="M250 1269h82"/><path stroke="#7b7bff" d="M250 1271h82"/><path stroke="#6565ff" d="M250 1273h82"/><path stroke="#5252ff" d="M250 1275h82"/><path stroke="#4d4dff" d="M250 1277h82"/><path stroke="#5959ff" d="M250 1279h82"/><path stroke="#9191ff" d="M250 1281h82"/><path stroke="#8f8fff" d="M250 1283h82"/><path stroke="#a7a7ff" d="M250 1285h82"/><path stroke="#bfbfff" d="M250 1287h82"/><path stroke="#bbbbff" d="M250 1289h82"/><path stroke="#bdbdff" d="M250 1291h82"/><path stroke="#c2c2ff" d="M250 1293h82"/><path stroke="#c0c0ff" d="M250 1295h82"/><path stroke="#bebeff" d="M250 1297h82"/><path stroke="#b8b8ff" d="M250 1299h82"/><path stroke="#b9b9ff" d="M250 1301h82"/><path stroke="#bdbdff" d="M250 1303h82"/><path stroke="#b3b3ff" d="M250 1305h82"/><path stroke="#acacff" d="M250 1307h82"/><path stroke="#bbbbff" d="M250 1309h82"/><path stroke="#babaff" d="M250 1311h82"/><path stroke="#aeaeff" d="M250 1313h82"/><path stroke="#adadff" d="M250 1315h82"/><path stroke="#9a9aff" d="M250 1317h82"/><path stroke="#9797ff" d="M250 1319h82"/><path stroke="#9393ff" d="M250 1321h82"/><path stroke="#9797ff" d="M250 1323h82"/><path stroke="#9b9bff" d="M250 1325h82"/><path stroke="#9b9bff" d="M250 1327h82"/><path stroke="#9696ff" d="M250 1329h82"/><path stroke="#9797ff" d="M250 1331h82"/><path stroke="#9e9eff" d="M250 1333h82"/><path stroke="#9d9dff" d="M250 1335h82"/><path stroke="#9e9eff" d="M250 1337h82"/><path stroke="#9b9bff" d="M250 1339h82"/><path stroke="#9292ff" d="M250 1341h82"/><path stroke="#9d9dff" d="M250 1343h82"/><path stroke="#9999ff" d="M250 1345h82"/><path stroke="#8383ff" d="M250 1347h82"/><path stroke="#9090ff" d="M250 1349h82"/><path stroke="#9c9cff" d="M250 1351h82"/><path stroke="#8c8cff" d="M250 1353h82"/><path stroke="#8f8fff" d="M250 1355h82"/><path stroke="#8585ff" d="M250 1357h82"/><path stroke="#8686ff" d="M250 1359h82"/><path stroke="#8d8dff" d="M250 1361h82"/><path stroke="#8b8bff" d="M250 1363h82"/><path stroke="#8a8aff" d="M250 1365h82"/><path stroke="#8989ff" d="M250 1367h82"/><path stroke="#8c8cff" d="M250 1369h82"/><path stroke="#8989ff" d="M250 1371h82"/><path stroke="#8b8bff" d="M250 1373h82"/><path stroke="#9292ff" d="M250 1375h82"/><path stroke="#8e8eff" d="M250 1377h82"/><path stroke="#8d8dff" d="M250 1379h82"/><path stroke="#8484ff" d="M250 1381h82"/><path stroke="#8484ff" d="M250 1383h82"/><path stroke="#9696ff" d="M250 1385h82"/><path stroke="#a5a5ff" d="M250 1387h82"/><path stroke="#a4a4ff" d="M250 1389h82"/><path stroke="#a9a9ff" d="M250 1391h82"/><path stroke="#a8a8ff" d="M250 1393h82"/><path stroke="#a1a1ff" d="M250 1395h82"/><path stroke="#a2a2ff" d="M250 1397h82"/><path stroke="#9797ff" d="M250 1399h82"/><path stroke="#9c9cff" d="M250 1401h82"/><path stroke="#b9b9ff" d="M250 1403h82"/><path stroke="#d1d1ff" d="M250 1405h82"/><path stroke="#cdcdff" d="M250 1407h82"/><path stroke="#dadaff" d="M250 1409h82"/><path stroke="#e4e4ff" d="M250 1411h82"/><path stroke="#ebebff" d="M250 1413h82"/><path stroke="#ceceff" d="M250 1415h82"/><path stroke="#c7c7ff" d="M250 1417h82"/><path stroke="#e6e6ff" d="M250 1419h82"/><path stroke="#cfcfff" d="M250 1421h82"/><path stroke="#d4d4ff" d="M250 1423h82"/><path stroke="#c7c7ff" d="M250 1425h82"/><path stroke="#bebeff" d="M250 1427h82"/><path stroke="#bbbbff" d="M250 1429h82"/><path stroke="#adadff" d="M250 1431h82"/><path stroke="#5b5bff" d="M250 1433h82"/><path stroke="#5151ff" d="M250 1435h82"/><path stroke="#4d4dff" d="M250 1437h82"/><path stroke="#4b4bff" d="M250 1439h82"/><path stroke="#4747ff" d="M250 1441h82"/><path stroke="#4d4dff" d="M250 1443h82"/><path stroke="#5252ff" d="M250 1445h82"/><path stroke="#4b4bff" d="M250 1447h82"/><path stroke="#4949ff" d="M250 1449h82"/><path stroke="#4b4bff" d="M250 1451h82"/><path stroke="#5d5dff" d="M250 1453h82"/><path stroke="#5f5fff" d="M250 1455h82"/><path stroke="#6565ff" d="M250 1457h82"/><path stroke="#6b6bff" d="M250 1459h82"/><path stroke="#6868ff" d="M250 1461h82"/><path stroke="#6767ff" d="M250 1463h82"/><path stroke="#6464ff" d="M250 1465h82"/><path stroke="#6c6cff" d="M250 1467h82"/><path stroke="#6b6bff" d="M250 1469h82"/><path stroke="#6e6eff" d="M250 1471h82"/><path stroke="#7171ff" d="M250 1473h82"/><path stroke="#7171ff" d="M250 1475h82"/><path stroke="#7878ff" d="M250 1477h82"/><path stroke="#7d7dff" d="M250 1479h82"/><path stroke="#7c7cff" d="M250 1481h82"/><path stroke="#7b7bff" d="M250 1483h82"/><path stroke="#7b7bff" d="M250 1485h82"/><path stroke="#7a7aff" d="M250 1487h82"/><path stroke="#7b7bff" d="M250 1489h82"/><path stroke="#7d7dff" d="M250 1491h82"/><path stroke="#7c7cff" d="M250 1493h82"/><path stroke="#7979ff" d="M250 1495h82"/><path stroke="#7a7aff" d="M250 1497h82"/><path stroke="#7c7cff" d="M250 1499h82"/><path stroke="#7e7eff" d="M250 1501h82"/><path stroke="#8282ff" d="M250 1503h82"/><path stroke="#7a7aff" d="M250 1505h82"/><path stroke="#7777ff" d="M250 1507h82"/><path stroke="#7f7fff" d="M250 1509h82"/><path stroke="#7b7bff" d="M250 1511h82"/><path stroke="#7676ff" d="M250 1513h82"/><path stroke="#7c7cff" d="M250 1515h82"/><path stroke="#6b6bff" d="M250 1517h82"/><path stroke="#7878ff" d="M250 1519h82"/><path stroke="#7474ff" d="M250 1521h82"/><path stroke="#6d6dff" d="M250 1523h82"/><path stroke="#7a7aff" d="M250 1525h82"/><path stroke="#7b7bff" d="M250 1527h82"/><path stroke="#7c7cff" d="M250 1529h82"/><path stroke="#7272ff" d="M250 1531h82"/><path stroke="#9b9bff" d="M250 1533h82"/><path stroke="#b9b9ff" d="M250 1535h82"/><path stroke="#b1b1ff" d="M250 1537h82"/><path stroke="#afafff" d="M250 1539h82"/><path stroke="#b5b5ff" d="M250 1541h82"/><path stroke="#babaff" d="M250 1543h82"/><path stroke="#b9b9ff" d="M250 1545h82"/><path stroke="#acacff" d="M250 1547h82"/><path stroke="#c0c0ff" d="M250 1549h82"/><path stroke="#bcbcff" d="M250 1551h82"/><path stroke="#c1c1ff" d="M250 1553h82"/><path stroke="#b7b7ff" d="M250 1555h82"/><path stroke="#c9c9ff" d="M250 1557h82"/><path stroke="#bcbcff" d="M250 1559h82"/><path stroke="#b8b8ff" d="M250 1561h82"/><path stroke="#b4b4ff" d="M250 1563h82"/><path stroke="#c2c2ff" d="M250 1565h82"/><path stroke="#bdbdff" d="M250 1567h82"/><path stroke="#b6b6ff" d="M250 1569h82"/><path stroke="#b5b5ff" d="M250 1571h82"/><path stroke="#b6b6ff" d="M250 1573h82"/><path stroke="#aeaeff" d="M250 1575h82"/><path stroke="#b4b4ff" d="M250 1577h82"/><path stroke="#b2b2ff" d="M250 1579h82"/><path stroke="#b3b3ff" d="M250 1581h82"/><path stroke="#b9b9ff" d="M250 1583h82"/><path stroke="#babaff" d="M250 1585h82"/><path stroke="#b5b5ff" d="M250 1587h82"/><path stroke="#b2b2ff" d="M250 1589h82"/><path stroke="#a8a8ff" d="M250 1591h82"/><path stroke="#b2b2ff" d="M250 1593h82"/><path stroke="#b1b1ff" d="M250 1595h82"/><path stroke="#acacff" d="M250 1597h82"/><path stroke="#bcbcff" d="M250 1599h82"/><path stroke="#b5b5ff" d="M250 1601h82"/><path stroke="#ceceff" d="M250 1603h82"/><path stroke="#dedeff" d="M250 1605h82"/><path stroke="#dfdfff" d="M250 1607h82"/><path stroke="#dedeff" d="M250 1609h82"/><path stroke="#dbdbff" d="M250 1611h82"/><path stroke="#d3d3ff" d="M250 1613h82"/><path stroke="#d2d2ff" d="M250 1615h82"/><path stroke="#d0d0ff" d="M250 1617h82"/><path stroke="#dadaff" d="M250 1619h82"/><path stroke="#dedeff" d="M250 1621h82"/><path stroke="#f0f0ff" d="M250 1623h82"/><path stroke="#fffdfd" d="M250 1625h82"/><path stroke="#fefeff" d="M250 1627h82"/><path stroke="#c3c3ff" d="M250 1629h82"/><path stroke="#8787ff" d="M250 1631h82"/><path stroke="#8282ff" d="M250 1633h82"/><path stroke="#8383ff" d="M250 1635h82"/><path stroke="#8484ff" d="M250 1637h82"/><path stroke="#7b7bff" d="M250 1639h82"/><path stroke="#8b8bff" d="M250 1641h82"/><path stroke="#8787ff" d="M250 1643h82"/><path stroke="#8585ff" d="M250 1645h82"/><path stroke="#9090ff" d="M250 1647h82"/><path stroke="#8b8bff" d="M250 1649h82"/><path stroke="#8888ff" d="M250 1651h82"/><path stroke="#8989ff" d="M250 1653h82"/><path stroke="#8181ff" d="M250 1655h82"/><path stroke="#8080ff" d="M250 1657h82"/><path stroke="#8686ff" d="M250 1659h82"/><path stroke="#8787ff" d="M250 1661h82"/><path stroke="#8585ff" d="M250 1663h82"/><path stroke="#8383ff" d="M250 1665h82"/><path stroke="#8f8fff" d="M250 1667h82"/><path stroke="#8d8dff" d="M250 1669h82"/><path stroke="#8989ff" d="M250 1671h82"/><path stroke="#8181ff" d="M250 1673h82"/><path stroke="#8282ff" d="M250 1675h82"/><path stroke="#7f7fff" d="M250 1677h82"/><path stroke="#8585ff" d="M250 1679h82"/><path stroke="#8585ff" d="M250 1681h82"/><path stroke="#8080ff" d="M250 1683h82"/><path stroke="#8080ff" d="M250 1685h82"/><path stroke="#8484ff" d="M250 1687h82"/><path stroke="#8a8aff" d="M250 1689h82"/><path stroke="#8282ff" d="M250 1691h82"/><path stroke="#8080ff" d="M250 1693h82"/><path stroke="#8686ff" d="M250 1695h82"/><path stroke="#8383ff" d="M250 1697h82"/><path stroke="#7e7eff" d="M250 1699h82"/><path stroke="#8989ff" d="M250 1701h82"/><path stroke="#8888ff" d="M250 1703h82"/><path stroke="#8282ff" d="M250 1705h82"/><path stroke="#8686ff" d="M250 1707h82"/><path stroke="#8e8eff" d="M250 1709h82"/><path stroke="#8989ff" d="M250 1711h82"/><path stroke="#8484ff" d="M250 1713h82"/><path stroke="#8a8aff" d="M250 1715h82"/><path stroke="#adadff" d="M250 1717h82"/><path stroke="#b7b7ff" d="M250 1719h82"/><path stroke="#b2b2ff" d="M250 1721h82"/><path stroke="#aeaeff" d="M250 1723h82"/><path stroke="#acacff" d="M250 1725h82"/><path stroke="#b0b0ff" d="M250 1727h82"/><path stroke="#acacff" d="M250 1729h82"/><path stroke="#a6a6ff" d="M250 1731h82"/><path stroke="#a9a9ff" d="M250 1733h82"/><path stroke="#b6b6ff" d="M250 1735h82"/><path stroke="#a8a8ff" d="M250 1737h82"/><path stroke="#9e9eff" d="M250 1739h82"/><path stroke="#9f9fff" d="M250 1741h82"/><path stroke="#a5a5ff" d="M250 1743h82"/><path stroke="#9292ff" d="M250 1745h82"/><path stroke="#9090ff" d="M250 1747h82"/><path stroke="#8a8aff" d="M250 1749h82"/><path stroke="#8b8bff" d="M250 1751h82"/><path stroke="#8c8cff" d="M250 1753h82"/><path stroke="#8f8fff" d="M250 1755h82"/><path stroke="#9292ff" d="M250 1757h82"/><path stroke="#8f8fff" d="M250 1759h82"/><path stroke="#9191ff" d="M250 1761h82"/><path stroke="#9999ff" d="M250 1763h82"/><path stroke="#9797ff" d="M250 1765h82"/><path stroke="#9999ff" d="M250 1767h82"/><path stroke="#9a9aff" d="M250 1769h82"/><path stroke="#9d9dff" d="M250 1771h82"/><path stroke="#a5a5ff" d="M250 1773h82"/><path stroke="#a3a3ff" d="M250 1775h82"/><path stroke="#9e9eff" d="M250 1777h82"/><path stroke="#9595ff" d="M250 1779h82"/><path stroke="#9c9cff" d="M250 1781h82"/><path stroke="#a0a0ff" d="M250 1783h82"/><path stroke="#9e9eff" d="M250 1785h82"/><path stroke="#a5a5ff" d="M250 1787h82"/><path stroke="#ababff" d="M250 1789h82"/><path stroke="#b4b4ff" d="M250 1791h82"/><path stroke="#ffafaf" d="M250 1793h82"/><path stroke="#ff9595" d="M250 1795h82"/><path stroke="#ff9393" d="M250 1797h82"/><path stroke="#ff8f8f" d="M250 1799h82"/><path stroke="#ff9b9b" d="M250 1801h82"/><path stroke="#ffacac" d="M250 1803h82"/><path stroke="#ff9797" d="M250 1805h82"/><path stroke="#ff9a9a" d="M250 1807h82"/><path stroke="#ff9d9d" d="M250 1809h82"/><path stroke="#ff9e9e" d="M250 1811h82"/><path stroke="#ffa4a4" d="M250 1813h82"/><path stroke="#ffa0a0" d="M250 1815h82"/><path stroke="#ffa5a5" d="M250 1817h82"/><path stroke="#ffa3a3" d="M250 1819h82"/><path stroke="#ffa2a2" d="M250 1821h82"/><path stroke="#ff9898" d="M250 1823h82"/><path stroke="#ffa8a8" d="M250 1825h82"/><path stroke="#ffb6b6" d="M250 1827h82"/><path stroke="#ffabab" d="M250 1829h82"/><path stroke="#ffb9b9" d="M250 1831h82"/><path stroke="#ffb8b8" d="M250 1833h82"/><path stroke="#ffbcbc" d="M250 1835h82"/><path stroke="#ffc0c0" d="M250 1837h82"/><path stroke="#ffb8b8" d="M250 1839h82"/><path stroke="#ffc1c1" d="M250 1841h82"/><path stroke="#ffbfbf" d="M250 1843h82"/><path stroke="#ffb5b5" d="M250 1845h82"/><path stroke="#ffbfbf" d="M250 1847h82"/><path stroke="#ffbcbc" d="M250 1849h82"/><path stroke="#ffbaba" d="M250 1851h82"/><path stroke="#ffbfbf" d="M250 1853h82"/><path stroke="#ffbfbf" d="M250 1855h82"/><path stroke="#ffbfbf" d="M250 1857h82"/><path stroke="#ffc6c6" d="M250 1859h82"/><path stroke="#ffb9b9" d="M250 1861h82"/><path stroke="#ffc3c3" d="M250 1863h82"/><path stroke="#ffb7b7" d="M250 1865h82"/><path stroke="#ffdada" d="M250 1867h82"/><path stroke="#fff7f7" d="M250 1869h82"/><path stroke="#fffafa" d="M250 1871h82"/><path stroke="#fffafa" d="M250 1873h82"/><path stroke="#ffeeee" d="M250 1875h82"/><path stroke="#ffefef" d="M250 1877h82"/><path stroke="#fff3f3" d="M250 1879h82"/><path stroke="#ffe2e2" d="M250 1881h82"/><path stroke="#ffe9e9" d="M250 1883h82"/><path stroke="#fff2f2" d="M250 1885h82"/><path stroke="#fff3f3" d="M250 1887h82"/><path stroke="#ffdfdf" d="M250 1889h82"/><path stroke="#ffd1d1" d="M250 1891h82"/><path stroke="#ffcfcf" d="M250 1893h82"/><path stroke="#ffcccc" d="M250 1895h82"/><path stroke="#ffd3d3" d="M250 1897h82"/><path stroke="#ffdcdc" d="M250 1899h82"/><path stroke="#ffd5d5" d="M250 1901h82"/><path stroke="#ffd6d6" d="M250 1903h82"/><path stroke="#ffd3d3" d="M250 1905h82"/><path stroke="#ffd4d4" d="M250 1907h82"/><path stroke="#ffebeb" d="M250 1909h82"/><path stroke="#ffefef" d="M250 1911h82"/><path stroke="#ffeded" d="M250 1913h82"/><path stroke="#fff1f1" d="M250 1915h82"/><path stroke="#fff9f9" d="M250 1917h82"/><path stroke="#fff0f0" d="M250 1919h82"/><path stroke="#fff5f5" d="M250 1921h82"/><path stroke="#ffecec" d="M250 1923h82"/><path stroke="#fff3f3" d="M250 1925h82"/><path stroke="#ffeaea" d="M250 1927h82"/><path stroke="#ffd3d3" d="M250 1929h82"/><path stroke="#ffb6b6" d="M250 1931h82"/><path stroke="#ffbfbf" d="M250 1933h82"/><path stroke="#ffbaba" d="M250 1935h82"/><path stroke="#ffbdbd" d="M250 1937h82"/><path stroke="#ffbaba" d="M250 1939h82"/><path stroke="#ffb9b9" d="M250 1941h82"/><path stroke="#ffb4b4" d="M250 1943h82"/><path stroke="#ffbcbc" d="M250 1945h82"/><path stroke="#ffc1c1" d="M250 1947h82"/><path stroke="#ffc5c5" d="M250 1949h82"/><path stroke="#ffbcbc" d="M250 1951h82"/><path stroke="#ffbcbc" d="M250 1953h82"/><path stroke="#ffbdbd" d="M250 1955h82"/><path stroke="#ffbaba" d="M250 1957h82"/><path stroke="#ffc0c0" d="M250 1959h82"/><path stroke="#ffc1c1" d="M250 1961h82"/><path stroke="#ffcece" d="M250 1963h82"/><path stroke="#ffc1c1" d="M250 1965h82"/><path stroke="#ffb9b9" d="M250 1967h82"/><path stroke="#ffaaaa" d="M250 1969h82"/><path stroke="#ffa0a0" d="M250 1971h82"/><path stroke="#ff9d9d" d="M250 1973h82"/><path stroke="#ff9c9c" d="M250 1975h82"/><path stroke="#ff9999" d="M250 1977h82"/><path stroke="#ff9999" d="M250 1979h82"/><path stroke="#ff9a9a" d="M250 1981h82"/><path stroke="#ff9c9c" d="M250 1983h82"/><path stroke="#ff9696" d="M250 1985h82"/><path stroke="#ff9898" d="M250 1987h82"/><path stroke="#ff9898" d="M250 1989h82"/><path stroke="#ff9f9f" d="M250 1991h82"/><path stroke="#ffa1a1" d="M250 1993h82"/><path stroke="#ffa2a2" d="M250 1995h82"/><path stroke="#ff9f9f" d="M250 1997h82"/><path stroke="#ff9696" d="M250 1999h82"/><path stroke="#ff9f9f" d="M250 2001h82"/><path stroke="#ff9494" d="M250 2003h82"/><path stroke="#ff9d9d" d="M250 2005h82"/><path stroke="#ff8f8f" d="M250 2007h82"/><path stroke="#ff9595" d="M250 2009h82"/><path stroke="#ff9999" d="M250 2011h82"/><path stroke="#ff9b9b" d="M250 2013h82"/><path stroke="#ff9898" d="M250 2015h82"/><path stroke="#ff9a9a" d="M250 2017h82"/><path stroke="#ff9292" d="M250 2019h82"/><path stroke="#ff5d5d" d="M250 2021h82"/><path stroke="#ff5757" d="M250 2023h82"/><path stroke="#ff5e5e" d="M250 2025h82"/><path stroke="#ff5d5d" d="M250 2027h82"/><path stroke="#ff5757" d="M250 2029h82"/><path stroke="#ff6a6a" d="M250 2031h82"/><path stroke="#ff6e6e" d="M250 2033h82"/><path stroke="#ff7878" d="M250 2035h82"/><path stroke="#ff7878" d="M250 2037h82"/><path stroke="#ff7373" d="M250 2039h82"/><path stroke="#ff6b6b" d="M250 2041h82"/><path stroke="#ff6e6e" d="M250 2043h82"/><path stroke="#ff6969" d="M250 2045h82"/><path stroke="#ff6f6f" d="M250 2047h82"/><path stroke="#ff7373" d="M250 2049h82"/><path stroke="#ff6d6d" d="M250 2051h82"/><path stroke="#ff6f6f" d="M250 2053h82"/><path stroke="#ff6e6e" d="M250 2055h82"/><path stroke="#ff7070" d="M250 2057h82"/><path stroke="#ff7474" d="M250 2059h82"/><path stroke="#ff7676" d="M250 2061h82"/><path stroke="#ff7979" d="M250 2063h82"/><path stroke="#ff7979" d="M250 2065h82"/><path stroke="#ff7979" d="M250 2067h82"/><path stroke="#ff7979" d="M250 2069h82"/><path stroke="#ff6f6f" d="M250 2071h82"/><path stroke="#ff6e6e" d="M250 2073h82"/><path stroke="#ff6c6c" d="M250 2075h82"/><path stroke="#ff6969" d="M250 2077h82"/><path stroke="#ff6d6d" d="M250 2079h82"/><path stroke="#ff6767" d="M250 2081h82"/><path stroke="#ff6a6a" d="M250 2083h82"/><path stroke="#ff7373" d="M250 2085h82"/><path stroke="#ff7878" d="M250 2087h82"/><path stroke="#ff7e7e" d="M250 2089h82"/><path stroke="#ff7777" d="M250 2091h82"/><path stroke="#ff6969" d="M250 2093h82"/><path stroke="#ff5f5f" d="M250 2095h82"/><path stroke="#ff5757" d="M250 2097h82"/><path stroke="#ff6262" d="M250 2099h82"/><path stroke="#ff5757" d="M250 2101h82"/><path stroke="#ff5a5a" d="M250 2103h82"/><path stroke="#ff5858" d="M250 2105h82"/><path stroke="#ff5959" d="M250 2107h82"/><path stroke="#ff5c5c" d="M250 2109h82"/><path stroke="#ff6c6c" d="M250 2111h82"/><path stroke="#ff8080" d="M250 2113h82"/><path stroke="#ff8585" d="M250 2115h82"/><path stroke="#ff8484" d="M250 2117h82"/><path stroke="#ff8181" d="M250 2119h82"/><path stroke="#ff8787" d="M250 2121h82"/><path stroke="#ff8d8d" d="M250 2123h82"/><path stroke="#ff8787" d="M250 2125h82"/><path stroke="#ff8b8b" d="M250 2127h82"/><path stroke="#ff7878" d="M250 2129h82"/><path stroke="#ff6868" d="M250 2131h82"/><path stroke="#ff6464" d="M250 2133h82"/><path stroke="#ff6f6f" d="M250 2135h82"/><path stroke="#ff6868" d="M250 2137h82"/><path stroke="#ff6a6a" d="M250 2139h82"/><path stroke="#ff6868" d="M250 2141h82"/><path stroke="#ff5e5e" d="M250 2143h82"/><path stroke="#ff6262" d="M250 2145h82"/><path stroke="#ff6666" d="M250 2147h82"/><path stroke="#ff5b5b" d="M250 2149h82"/><path stroke="#ff2828" d="M250 2151h82"/><path stroke="#ff2727" d="M250 2153h82"/><path stroke="#ff2121" d="M250 2155h82"/><path stroke="#ff1f1f" d="M250 2157h82"/><path stroke="#ff1e1e" d="M250 2158.5h82"/><path stroke="#fbfbff" d="M332 979h81"/><path stroke="#fcfcff" d="M332 981h81"/><path stroke="#ffffff" d="M332 983h81"/><path stroke="#f6f6ff" d="M332 985h81"/><path stroke="#f4f4ff" d="M332 987h81"/><path stroke="#fffefe" d="M332 989h81"/><path stroke="#fffdfd" d="M332 991h81"/><path stroke="#fff9f9" d="M332 993h81"/><path stroke="#fffafa" d="M332 995h81"/><path stroke="#ffffff" d="M332 997h81"/><path stroke="#fdfdff" d="M332 999h81"/><path stroke="#fffcfc" d="M332 1001h81"/><path stroke="#ffebeb" d="M332 1003h81"/><path stroke="#fff5f5" d="M332 1005h81"/><path stroke="#f1f1ff" d="M332 1007h81"/><path stroke="#eaeaff" d="M332 1009h81"/><path stroke="#e7e7ff" d="M332 1011h81"/><path stroke="#ececff" d="M332 1013h81"/><path stroke="#eaeaff" d="M332 1015h81"/><path stroke="#e0e0ff" d="M332 1017h81"/><path stroke="#e9e9ff" d="M332 1019h81"/><path stroke="#f8f8ff" d="M332 1021h81"/><path stroke="#f7f7ff" d="M332 1023h81"/><path stroke="#ffdede" d="M332 1025h81"/><path stroke="#ffc6c6" d="M332 1027h81"/><path stroke="#ffc9c9" d="M332 1029h81"/><path stroke="#ffc6c6" d="M332 1031h81"/><path stroke="#ffcaca" d="M332 1033h81"/><path stroke="#ffc5c5" d="M332 1035h81"/><path stroke="#ffcaca" d="M332 1037h81"/><path stroke="#ffc9c9" d="M332 1039h81"/><path stroke="#ffc6c6" d="M332 1041h81"/><path stroke="#ffcdcd" d="M332 1043h81"/><path stroke="#ffcdcd" d="M332 1045h81"/><path stroke="#ffc9c9" d="M332 1047h81"/><path stroke="#ffc4c4" d="M332 1049h81"/><path stroke="#ffc1c1" d="M332 1051h81"/><path stroke="#ffc4c4" d="M332 1053h81"/><path stroke="#ffcdcd" d="M332 1055h81"/><path stroke="#ffd1d1" d="M332 1057h81"/><path stroke="#ffc9c9" d="M332 1059h81"/><path stroke="#ffcece" d="M332 1061h81"/><path stroke="#ffc6c6" d="M332 1063h81"/><path stroke="#ffc2c2" d="M332 1065h81"/><path stroke="#ffcdcd" d="M332 1067h81"/><path stroke="#ffd1d1" d="M332 1069h81"/><path stroke="#ffcccc" d="M332 1071h81"/><path stroke="#ffdcdc" d="M332 1073h81"/><path stroke="#ffdede" d="M332 1075h81"/><path stroke="#ffe4e4" d="M332 1077h81"/><path stroke="#ffe4e4" d="M332 1079h81"/><path stroke="#ffe4e4" d="M332 1081h81"/><path stroke="#ffe7e7" d="M332 1083h81"/><path stroke="#ffe5e5" d="M332 1085h81"/><path stroke="#ffdcdc" d="M332 1087h81"/><path stroke="#ffe0e0" d="M332 1089h81"/><path stroke="#ffe0e0" d="M332 1091h81"/><path stroke="#ffe4e4" d="M332 1093h81"/><path stroke="#ffe7e7" d="M332 1095h81"/><path stroke="#ffe8e8" d="M332 1097h81"/><path stroke="#ffe5e5" d="M332 1099h81"/><path stroke="#ffd7d7" d="M332 1101h81"/><path stroke="#ffecec" d="M332 1103h81"/><path stroke="#ffecec" d="M332 1105h81"/><path stroke="#fff6f6" d="M332 1107h81"/><path stroke="#f9f9ff" d="M332 1109h81"/><path stroke="#fbfbff" d="M332 1111h81"/><path stroke="#ffe0e0" d="M332 1113h81"/><path stroke="#ffbcbc" d="M332 1115h81"/><path stroke="#ffc3c3" d="M332 1117h81"/><path stroke="#ffc8c8" d="M332 1119h81"/><path stroke="#ffc7c7" d="M332 1121h81"/><path stroke="#ffc1c1" d="M332 1123h81"/><path stroke="#ffcece" d="M332 1125h81"/><path stroke="#ffbdbd" d="M332 1127h81"/><path stroke="#ffbdbd" d="M332 1129h81"/><path stroke="#ffbbbb" d="M332 1131h81"/><path stroke="#ffc1c1" d="M332 1133h81"/><path stroke="#ffc9c9" d="M332 1135h81"/><path stroke="#ffc5c5" d="M332 1137h81"/><path stroke="#ffd9d9" d="M332 1139h81"/><path stroke="#ffc4c4" d="M332 1141h81"/><path stroke="#ffc6c6" d="M332 1143h81"/><path stroke="#ffcbcb" d="M332 1145h81"/><path stroke="#ffcaca" d="M332 1147h81"/><path stroke="#ffc9c9" d="M332 1149h81"/><path stroke="#ffc2c2" d="M332 1151h81"/><path stroke="#ffbfbf" d="M332 1153h81"/><path stroke="#ffc3c3" d="M332 1155h81"/><path stroke="#ffc7c7" d="M332 1157h81"/><path stroke="#ffcdcd" d="M332 1159h81"/><path stroke="#ffdada" d="M332 1161h81"/><path stroke="#ffcbcb" d="M332 1163h81"/><path stroke="#ffc5c5" d="M332 1165h81"/><path stroke="#ffc2c2" d="M332 1167h81"/><path stroke="#ffb3b3" d="M332 1169h81"/><path stroke="#ffbbbb" d="M332 1171h81"/><path stroke="#ffbfbf" d="M332 1173h81"/><path stroke="#ffdbdb" d="M332 1175h81"/><path stroke="#ffe6e6" d="M332 1177h81"/><path stroke="#fff3f3" d="M332 1179h81"/><path stroke="#ffeeee" d="M332 1181h81"/><path stroke="#ffebeb" d="M332 1183h81"/><path stroke="#ffe7e7" d="M332 1185h81"/><path stroke="#ffeded" d="M332 1187h81"/><path stroke="#ffeded" d="M332 1189h81"/><path stroke="#ffe6e6" d="M332 1191h81"/><path stroke="#ffeeee" d="M332 1193h81"/><path stroke="#ffe8e8" d="M332 1195h81"/><path stroke="#ffd9d9" d="M332 1197h81"/><path stroke="#ffd0d0" d="M332 1199h81"/><path stroke="#ffc4c4" d="M332 1201h81"/><path stroke="#ffd2d2" d="M332 1203h81"/><path stroke="#ffdbdb" d="M332 1205h81"/><path stroke="#ffd8d8" d="M332 1207h81"/><path stroke="#ffd5d5" d="M332 1209h81"/><path stroke="#ffd0d0" d="M332 1211h81"/><path stroke="#ffcfcf" d="M332 1213h81"/><path stroke="#ffd1d1" d="M332 1215h81"/><path stroke="#ffd2d2" d="M332 1217h81"/><path stroke="#ffcece" d="M332 1219h81"/><path stroke="#ffc8c8" d="M332 1221h81"/><path stroke="#ffc6c6" d="M332 1223h81"/><path stroke="#ffc3c3" d="M332 1225h81"/><path stroke="#ffbebe" d="M332 1227h81"/><path stroke="#ffc0c0" d="M332 1229h81"/><path stroke="#ffc3c3" d="M332 1231h81"/><path stroke="#ffb8b8" d="M332 1233h81"/><path stroke="#ffb6b6" d="M332 1235h81"/><path stroke="#ffbebe" d="M332 1237h81"/><path stroke="#ffbcbc" d="M332 1239h81"/><path stroke="#ffbdbd" d="M332 1241h81"/><path stroke="#ffc4c4" d="M332 1243h81"/><path stroke="#ffcece" d="M332 1245h81"/><path stroke="#ffc6c6" d="M332 1247h81"/><path stroke="#ffb8b8" d="M332 1249h81"/><path stroke="#ff6464" d="M332 1251h81"/><path stroke="#ff5353" d="M332 1253h81"/><path stroke="#ff5454" d="M332 1255h81"/><path stroke="#ff5757" d="M332 1257h81"/><path stroke="#ff5656" d="M332 1259h81"/><path stroke="#ff5b5b" d="M332 1261h81"/><path stroke="#ff5656" d="M332 1263h81"/><path stroke="#ff5f5f" d="M332 1265h81"/><path stroke="#ff5b5b" d="M332 1267h81"/><path stroke="#ff5c5c" d="M332 1269h81"/><path stroke="#ff4f4f" d="M332 1271h81"/><path stroke="#ff5454" d="M332 1273h81"/><path stroke="#ff5151" d="M332 1275h81"/><path stroke="#ff2626" d="M332 1277h81"/><path stroke="#ff2a2a" d="M332 1279h81"/><path stroke="#ff2b2b" d="M332 1281h81"/><path stroke="#ff4141" d="M332 1283h81"/><path stroke="#ff3434" d="M332 1285h81"/><path stroke="#ff3232" d="M332 1287h81"/><path stroke="#ff3737" d="M332 1289h81"/><path stroke="#ff3636" d="M332 1291h81"/><path stroke="#ff3c3c" d="M332 1293h81"/><path stroke="#ff3737" d="M332 1295h81"/><path stroke="#ff3535" d="M332 1297h81"/><path stroke="#ff3a3a" d="M332 1299h81"/><path stroke="#ff3b3b" d="M332 1301h81"/><path stroke="#ff3939" d="M332 1303h81"/><path stroke="#ff3f3f" d="M332 1305h81"/><path stroke="#ff5050" d="M332 1307h81"/><path stroke="#ff5151" d="M332 1309h81"/><path stroke="#ff5454" d="M332 1311h81"/><path stroke="#ff5151" d="M332 1313h81"/><path stroke="#ff5454" d="M332 1315h81"/><path stroke="#ff5454" d="M332 1317h81"/><path stroke="#ff5a5a" d="M332 1319h81"/><path stroke="#ff5757" d="M332 1321h81"/><path stroke="#ff5656" d="M332 1323h81"/><path stroke="#ff4f4f" d="M332 1325h81"/><path stroke="#ff5858" d="M332 1327h81"/><path stroke="#ff5959" d="M332 1329h81"/><path stroke="#ff5f5f" d="M332 1331h81"/><path stroke="#ff5b5b" d="M332 1333h81"/><path stroke="#ff5858" d="M332 1335h81"/><path stroke="#ff4e4e" d="M332 1337h81"/><path stroke="#ff4b4b" d="M332 1339h81"/><path stroke="#ff5454" d="M332 1341h81"/><path stroke="#ff5353" d="M332 1343h81"/><path stroke="#ff5656" d="M332 1345h81"/><path stroke="#ff5151" d="M332 1347h81"/><path stroke="#ff5d5d" d="M332 1349h81"/><path stroke="#ff6060" d="M332 1351h81"/><path stroke="#ff5858" d="M332 1353h81"/><path stroke="#ff5a5a" d="M332 1355h81"/><path stroke="#ff5c5c" d="M332 1357h81"/><path stroke="#ff5e5e" d="M332 1359h81"/><path stroke="#ff5a5a" d="M332 1361h81"/><path stroke="#ff5656" d="M332 1363h81"/><path stroke="#ff5f5f" d="M332 1365h81"/><path stroke="#ff5f5f" d="M332 1367h81"/><path stroke="#ff5151" d="M332 1369h81"/><path stroke="#ff4e4e" d="M332 1371h81"/><path stroke="#ff5353" d="M332 1373h81"/><path stroke="#ff4949" d="M332 1375h81"/><path stroke="#ff5656" d="M332 1377h81"/><path stroke="#ff4c4c" d="M332 1379h81"/><path stroke="#ff5757" d="M332 1381h81"/><path stroke="#ff5b5b" d="M332 1383h81"/><path stroke="#ff5f5f" d="M332 1385h81"/><path stroke="#ff5959" d="M332 1387h81"/><path stroke="#ff5d5d" d="M332 1389h81"/><path stroke="#ff5f5f" d="M332 1391h81"/><path stroke="#ff6464" d="M332 1393h81"/><path stroke="#ff6767" d="M332 1395h81"/><path stroke="#ff5e5e" d="M332 1397h81"/><path stroke="#ff6464" d="M332 1399h81"/><path stroke="#ff5a5a" d="M332 1401h81"/><path stroke="#ff6868" d="M332 1403h81"/><path stroke="#ff6868" d="M332 1405h81"/><path stroke="#ff6161" d="M332 1407h81"/><path stroke="#ff6262" d="M332 1409h81"/><path stroke="#ff6767" d="M332 1411h81"/><path stroke="#ff6363" d="M332 1413h81"/><path stroke="#ff6464" d="M332 1415h81"/><path stroke="#ff6464" d="M332 1417h81"/><path stroke="#ff6868" d="M332 1419h81"/><path stroke="#ff7070" d="M332 1421h81"/><path stroke="#ff7474" d="M332 1423h81"/><path stroke="#ff7575" d="M332 1425h81"/><path stroke="#ff7575" d="M332 1427h81"/><path stroke="#ff7474" d="M332 1429h81"/><path stroke="#ff7676" d="M332 1431h81"/><path stroke="#ff6d6d" d="M332 1433h81"/><path stroke="#ff6c6c" d="M332 1435h81"/><path stroke="#ff6b6b" d="M332 1437h81"/><path stroke="#ff7373" d="M332 1439h81"/><path stroke="#ff7474" d="M332 1441h81"/><path stroke="#ff7777" d="M332 1443h81"/><path stroke="#ff9a9a" d="M332 1445h81"/><path stroke="#ff9898" d="M332 1447h81"/><path stroke="#ff9292" d="M332 1449h81"/><path stroke="#ff8b8b" d="M332 1451h81"/><path stroke="#ff9393" d="M332 1453h81"/><path stroke="#ff9898" d="M332 1455h81"/><path stroke="#ff9494" d="M332 1457h81"/><path stroke="#ff8383" d="M332 1459h81"/><path stroke="#ff7b7b" d="M332 1461h81"/><path stroke="#ff8282" d="M332 1463h81"/><path stroke="#ff8080" d="M332 1465h81"/><path stroke="#ff8282" d="M332 1467h81"/><path stroke="#ff7878" d="M332 1469h81"/><path stroke="#ff7878" d="M332 1471h81"/><path stroke="#ff7d7d" d="M332 1473h81"/><path stroke="#ff8181" d="M332 1475h81"/><path stroke="#ff7a7a" d="M332 1477h81"/><path stroke="#ff7c7c" d="M332 1479h81"/><path stroke="#ff8080" d="M332 1481h81"/><path stroke="#ff7c7c" d="M332 1483h81"/><path stroke="#ff8080" d="M332 1485h81"/><path stroke="#ff8585" d="M332 1487h81"/><path stroke="#ff8585" d="M332 1489h81"/><path stroke="#ff8787" d="M332 1491h81"/><path stroke="#ff7c7c" d="M332 1493h81"/><path stroke="#ff8181" d="M332 1495h81"/><path stroke="#ff7e7e" d="M332 1497h81"/><path stroke="#ff7c7c" d="M332 1499h81"/><path stroke="#ff7f7f" d="M332 1501h81"/><path stroke="#ff7e7e" d="M332 1503h81"/><path stroke="#ff8383" d="M332 1505h81"/><path stroke="#ff7575" d="M332 1507h81"/><path stroke="#ff7272" d="M332 1509h81"/><path stroke="#ff6d6d" d="M332 1511h81"/><path stroke="#ff6666" d="M332 1513h81"/><path stroke="#ff6666" d="M332 1515h81"/><path stroke="#ff6565" d="M332 1517h81"/><path stroke="#ff6767" d="M332 1519h81"/><path stroke="#ff7171" d="M332 1521h81"/><path stroke="#ff6969" d="M332 1523h81"/><path stroke="#ff6767" d="M332 1525h81"/><path stroke="#ff6060" d="M332 1527h81"/><path stroke="#ff6868" d="M332 1529h81"/><path stroke="#ff5e5e" d="M332 1531h81"/><path stroke="#ff7a7a" d="M332 1533h81"/><path stroke="#ff8a8a" d="M332 1535h81"/><path stroke="#ff9191" d="M332 1537h81"/><path stroke="#ff9191" d="M332 1539h81"/><path stroke="#ff8b8b" d="M332 1541h81"/><path stroke="#ff9191" d="M332 1543h81"/><path stroke="#ff9090" d="M332 1545h81"/><path stroke="#ff7b7b" d="M332 1547h81"/><path stroke="#ff8383" d="M332 1549h81"/><path stroke="#ff8080" d="M332 1551h81"/><path stroke="#ff8282" d="M332 1553h81"/><path stroke="#ff8b8b" d="M332 1555h81"/><path stroke="#ff8a8a" d="M332 1557h81"/><path stroke="#ff8484" d="M332 1559h81"/><path stroke="#ff8585" d="M332 1561h81"/><path stroke="#ff9b9b" d="M332 1563h81"/><path stroke="#ff8282" d="M332 1565h81"/><path stroke="#ff8686" d="M332 1567h81"/><path stroke="#ff8080" d="M332 1569h81"/><path stroke="#ff8181" d="M332 1571h81"/><path stroke="#ff8585" d="M332 1573h81"/><path stroke="#ff8383" d="M332 1575h81"/><path stroke="#ff7f7f" d="M332 1577h81"/><path stroke="#ff8282" d="M332 1579h81"/><path stroke="#ff8080" d="M332 1581h81"/><path stroke="#ff8585" d="M332 1583h81"/><path stroke="#ff8585" d="M332 1585h81"/><path stroke="#ff8585" d="M332 1587h81"/><path stroke="#ff7f7f" d="M332 1589h81"/><path stroke="#ff8181" d="M332 1591h81"/><path stroke="#ff8080" d="M332 1593h81"/><path stroke="#ff8b8b" d="M332 1595h81"/><path stroke="#ff7e7e" d="M332 1597h81"/><path stroke="#ff8585" d="M332 1599h81"/><path stroke="#ff8181" d="M332 1601h81"/><path stroke="#ff8383" d="M332 1603h81"/><path stroke="#ff8585" d="M332 1605h81"/><path stroke="#ff8585" d="M332 1607h81"/><path stroke="#ff8282" d="M332 1609h81"/><path stroke="#ff8282" d="M332 1611h81"/><path stroke="#ff8a8a" d="M332 1613h81"/><path stroke="#ff8e8e" d="M332 1615h81"/><path stroke="#ff8585" d="M332 1617h81"/><path stroke="#ff8484" d="M332 1619h81"/><path stroke="#ff8484" d="M332 1621h81"/><path stroke="#ff8989" d="M332 1623h81"/><path stroke="#ff8e8e" d="M332 1625h81"/><path stroke="#ff9c9c" d="M332 1627h81"/><path stroke="#ff9696" d="M332 1629h81"/><path stroke="#ff9d9d" d="M332 1631h81"/><path stroke="#ffa2a2" d="M332 1633h81"/><path stroke="#ffa0a0" d="M332 1635h81"/><path stroke="#ffa9a9" d="M332 1637h81"/><path stroke="#ffa5a5" d="M332 1639h81"/><path stroke="#ffaaaa" d="M332 1641h81"/><path stroke="#ffa3a3" d="M332 1643h81"/><path stroke="#ff9c9c" d="M332 1645h81"/><path stroke="#ff9b9b" d="M332 1647h81"/><path stroke="#ff9d9d" d="M332 1649h81"/><path stroke="#ff9898" d="M332 1651h81"/><path stroke="#ff9999" d="M332 1653h81"/><path stroke="#ff9898" d="M332 1655h81"/><path stroke="#ffa6a6" d="M332 1657h81"/><path stroke="#ffa7a7" d="M332 1659h81"/><path stroke="#ffa0a0" d="M332 1661h81"/><path stroke="#ff9c9c" d="M332 1663h81"/><path stroke="#ff9494" d="M332 1665h81"/><path stroke="#ff9898" d="M332 1667h81"/><path stroke="#ffa6a6" d="M332 1669h81"/><path stroke="#ffa2a2" d="M332 1671h81"/><path stroke="#ff9f9f" d="M332 1673h81"/><path stroke="#ffa3a3" d="M332 1675h81"/><path stroke="#ffa0a0" d="M332 1677h81"/><path stroke="#ffa5a5" d="M332 1679h81"/><path stroke="#ffabab" d="M332 1681h81"/><path stroke="#ffa1a1" d="M332 1683h81"/><path stroke="#ff9898" d="M332 1685h81"/><path stroke="#ffa3a3" d="M332 1687h81"/><path stroke="#ff9a9a" d="M332 1689h81"/><path stroke="#ff9a9a" d="M332 1691h81"/><path stroke="#ff9898" d="M332 1693h81"/><path stroke="#ff9797" d="M332 1695h81"/><path stroke="#ff9696" d="M332 1697h81"/><path stroke="#ff9898" d="M332 1699h81"/><path stroke="#ff9898" d="M332 1701h81"/><path stroke="#ffa0a0" d="M332 1703h81"/><path stroke="#ff9e9e" d="M332 1705h81"/><path stroke="#ffa5a5" d="M332 1707h81"/><path stroke="#ffa4a4" d="M332 1709h81"/><path stroke="#ffa1a1" d="M332 1711h81"/><path stroke="#ffa2a2" d="M332 1713h81"/><path stroke="#ffa0a0" d="M332 1715h81"/><path stroke="#ff9b9b" d="M332 1717h81"/><path stroke="#ffa2a2" d="M332 1719h81"/><path stroke="#ff9d9d" d="M332 1721h81"/><path stroke="#ffaaaa" d="M332 1723h81"/><path stroke="#ffaaaa" d="M332 1725h81"/><path stroke="#ffaaaa" d="M332 1727h81"/><path stroke="#ffa4a4" d="M332 1729h81"/><path stroke="#ff9e9e" d="M332 1731h81"/><path stroke="#ffa7a7" d="M332 1733h81"/><path stroke="#ffb3b3" d="M332 1735h81"/><path stroke="#ffa9a9" d="M332 1737h81"/><path stroke="#ffaeae" d="M332 1739h81"/><path stroke="#ffaeae" d="M332 1741h81"/><path stroke="#ffaaaa" d="M332 1743h81"/><path stroke="#ff9898" d="M332 1745h81"/><path stroke="#ff7a7a" d="M332 1747h81"/><path stroke="#ff7575" d="M332 1749h81"/><path stroke="#ff6d6d" d="M332 1751h81"/><path stroke="#ff7474" d="M332 1753h81"/><path stroke="#ff8181" d="M332 1755h81"/><path stroke="#ff7474" d="M332 1757h81"/><path stroke="#ff7474" d="M332 1759h81"/><path stroke="#ff6d6d" d="M332 1761h81"/><path stroke="#ff6c6c" d="M332 1763h81"/><path stroke="#ff7171" d="M332 1765h81"/><path stroke="#ff6f6f" d="M332 1767h81"/><path stroke="#ff6b6b" d="M332 1769h81"/><path stroke="#ff7c7c" d="M332 1771h81"/><path stroke="#ff7d7d" d="M332 1773h81"/><path stroke="#ff7e7e" d="M332 1775h81"/><path stroke="#ff7d7d" d="M332 1777h81"/><path stroke="#ff7b7b" d="M332 1779h81"/><path stroke="#ff7070" d="M332 1781h81"/><path stroke="#ff7a7a" d="M332 1783h81"/><path stroke="#ff7676" d="M332 1785h81"/><path stroke="#ff7a7a" d="M332 1787h81"/><path stroke="#ff7474" d="M332 1789h81"/><path stroke="#ff8e8e" d="M332 1791h81"/><path stroke="#d0d0ff" d="M332 1793h81"/><path stroke="#bdbdff" d="M332 1795h81"/><path stroke="#bbbbff" d="M332 1797h81"/><path stroke="#b9b9ff" d="M332 1799h81"/><path stroke="#ababff" d="M332 1801h81"/><path stroke="#aeaeff" d="M332 1803h81"/><path stroke="#9c9cff" d="M332 1805h81"/><path stroke="#a0a0ff" d="M332 1807h81"/><path stroke="#9f9fff" d="M332 1809h81"/><path stroke="#a1a1ff" d="M332 1811h81"/><path stroke="#a3a3ff" d="M332 1813h81"/><path stroke="#a8a8ff" d="M332 1815h81"/><path stroke="#a5a5ff" d="M332 1817h81"/><path stroke="#a8a8ff" d="M332 1819h81"/><path stroke="#a8a8ff" d="M332 1821h81"/><path stroke="#adadff" d="M332 1823h81"/><path stroke="#c4c4ff" d="M332 1825h81"/><path stroke="#e8e8ff" d="M332 1827h81"/><path stroke="#e0e0ff" d="M332 1829h81"/><path stroke="#dfdfff" d="M332 1831h81"/><path stroke="#d9d9ff" d="M332 1833h81"/><path stroke="#ceceff" d="M332 1835h81"/><path stroke="#d1d1ff" d="M332 1837h81"/><path stroke="#d3d3ff" d="M332 1839h81"/><path stroke="#d2d2ff" d="M332 1841h81"/><path stroke="#d9d9ff" d="M332 1843h81"/><path stroke="#d8d8ff" d="M332 1845h81"/><path stroke="#cdcdff" d="M332 1847h81"/><path stroke="#cdcdff" d="M332 1849h81"/><path stroke="#ebebff" d="M332 1851h81"/><path stroke="#d0d0ff" d="M332 1853h81"/><path stroke="#d0d0ff" d="M332 1855h81"/><path stroke="#d5d5ff" d="M332 1857h81"/><path stroke="#dbdbff" d="M332 1859h81"/><path stroke="#d8d8ff" d="M332 1861h81"/><path stroke="#d9d9ff" d="M332 1863h81"/><path stroke="#d4d4ff" d="M332 1865h81"/><path stroke="#c5c5ff" d="M332 1867h81"/><path stroke="#b1b1ff" d="M332 1869h81"/><path stroke="#b7b7ff" d="M332 1871h81"/><path stroke="#adadff" d="M332 1873h81"/><path stroke="#9090ff" d="M332 1875h81"/><path stroke="#8383ff" d="M332 1877h81"/><path stroke="#8484ff" d="M332 1879h81"/><path stroke="#8282ff" d="M332 1881h81"/><path stroke="#8282ff" d="M332 1883h81"/><path stroke="#8484ff" d="M332 1885h81"/><path stroke="#7f7fff" d="M332 1887h81"/><path stroke="#8989ff" d="M332 1889h81"/><path stroke="#8b8bff" d="M332 1891h81"/><path stroke="#8383ff" d="M332 1893h81"/><path stroke="#7777ff" d="M332 1895h81"/><path stroke="#5d5dff" d="M332 1897h81"/><path stroke="#6363ff" d="M332 1899h81"/><path stroke="#7878ff" d="M332 1901h81"/><path stroke="#c3c3ff" d="M332 1903h81"/><path stroke="#cfcfff" d="M332 1905h81"/><path stroke="#cacaff" d="M332 1907h81"/><path stroke="#cfcfff" d="M332 1909h81"/><path stroke="#ccccff" d="M332 1911h81"/><path stroke="#ccccff" d="M332 1913h81"/><path stroke="#eaeaff" d="M332 1915h81"/><path stroke="#e2e2ff" d="M332 1917h81"/><path stroke="#d7d7ff" d="M332 1919h81"/><path stroke="#9595ff" d="M332 1921h81"/><path stroke="#8b8bff" d="M332 1923h81"/><path stroke="#8c8cff" d="M332 1925h81"/><path stroke="#8e8eff" d="M332 1927h81"/><path stroke="#8e8eff" d="M332 1929h81"/><path stroke="#8181ff" d="M332 1931h81"/><path stroke="#8484ff" d="M332 1933h81"/><path stroke="#8a8aff" d="M332 1935h81"/><path stroke="#7f7fff" d="M332 1937h81"/><path stroke="#8f8fff" d="M332 1939h81"/><path stroke="#8d8dff" d="M332 1941h81"/><path stroke="#8888ff" d="M332 1943h81"/><path stroke="#8f8fff" d="M332 1945h81"/><path stroke="#9595ff" d="M332 1947h81"/><path stroke="#9898ff" d="M332 1949h81"/><path stroke="#9595ff" d="M332 1951h81"/><path stroke="#9f9fff" d="M332 1953h81"/><path stroke="#9090ff" d="M332 1955h81"/><path stroke="#8686ff" d="M332 1957h81"/><path stroke="#9898ff" d="M332 1959h81"/><path stroke="#9494ff" d="M332 1961h81"/><path stroke="#9292ff" d="M332 1963h81"/><path stroke="#9292ff" d="M332 1965h81"/><path stroke="#9090ff" d="M332 1967h81"/><path stroke="#7070ff" d="M332 1969h81"/><path stroke="#5a5aff" d="M332 1971h81"/><path stroke="#4f4fff" d="M332 1973h81"/><path stroke="#4141ff" d="M332 1975h81"/><path stroke="#4242ff" d="M332 1977h81"/><path stroke="#4848ff" d="M332 1979h81"/><path stroke="#4c4cff" d="M332 1981h81"/><path stroke="#6767ff" d="M332 1983h81"/><path stroke="#6f6fff" d="M332 1985h81"/><path stroke="#6f6fff" d="M332 1987h81"/><path stroke="#7474ff" d="M332 1989h81"/><path stroke="#7070ff" d="M332 1991h81"/><path stroke="#6767ff" d="M332 1993h81"/><path stroke="#6e6eff" d="M332 1995h81"/><path stroke="#7474ff" d="M332 1997h81"/><path stroke="#7777ff" d="M332 1999h81"/><path stroke="#7070ff" d="M332 2001h81"/><path stroke="#7575ff" d="M332 2003h81"/><path stroke="#7272ff" d="M332 2005h81"/><path stroke="#7070ff" d="M332 2007h81"/><path stroke="#7575ff" d="M332 2009h81"/><path stroke="#7878ff" d="M332 2011h81"/><path stroke="#6868ff" d="M332 2013h81"/><path stroke="#6060ff" d="M332 2015h81"/><path stroke="#5454ff" d="M332 2017h81"/><path stroke="#5a5aff" d="M332 2019h81"/><path stroke="#5555ff" d="M332 2021h81"/><path stroke="#5656ff" d="M332 2023h81"/><path stroke="#4e4eff" d="M332 2025h81"/><path stroke="#6c6cff" d="M332 2027h81"/><path stroke="#8888ff" d="M332 2029h81"/><path stroke="#9696ff" d="M332 2031h81"/><path stroke="#9191ff" d="M332 2033h81"/><path stroke="#9595ff" d="M332 2035h81"/><path stroke="#8b8bff" d="M332 2037h81"/><path stroke="#9292ff" d="M332 2039h81"/><path stroke="#8383ff" d="M332 2041h81"/><path stroke="#8585ff" d="M332 2043h81"/><path stroke="#8787ff" d="M332 2045h81"/><path stroke="#8989ff" d="M332 2047h81"/><path stroke="#8383ff" d="M332 2049h81"/><path stroke="#8282ff" d="M332 2051h81"/><path stroke="#8181ff" d="M332 2053h81"/><path stroke="#8080ff" d="M332 2055h81"/><path stroke="#8e8eff" d="M332 2057h81"/><path stroke="#8181ff" d="M332 2059h81"/><path stroke="#8282ff" d="M332 2061h81"/><path stroke="#7e7eff" d="M332 2063h81"/><path stroke="#8181ff" d="M332 2065h81"/><path stroke="#8181ff" d="M332 2067h81"/><path stroke="#8080ff" d="M332 2069h81"/><path stroke="#8080ff" d="M332 2071h81"/><path stroke="#8080ff" d="M332 2073h81"/><path stroke="#7a7aff" d="M332 2075h81"/><path stroke="#7e7eff" d="M332 2077h81"/><path stroke="#9898ff" d="M332 2079h81"/><path stroke="#9e9eff" d="M332 2081h81"/><path stroke="#9595ff" d="M332 2083h81"/><path stroke="#9595ff" d="M332 2085h81"/><path stroke="#9c9cff" d="M332 2087h81"/><path stroke="#a0a0ff" d="M332 2089h81"/><path stroke="#9b9bff" d="M332 2091h81"/><path stroke="#9d9dff" d="M332 2093h81"/><path stroke="#9e9eff" d="M332 2095h81"/><path stroke="#a1a1ff" d="M332 2097h81"/><path stroke="#9f9fff" d="M332 2099h81"/><path stroke="#9898ff" d="M332 2101h81"/><path stroke="#9c9cff" d="M332 2103h81"/><path stroke="#a4a4ff" d="M332 2105h81"/><path stroke="#9f9fff" d="M332 2107h81"/><path stroke="#babaff" d="M332 2109h81"/><path stroke="#d6d6ff" d="M332 2111h81"/><path stroke="#c9c9ff" d="M332 2113h81"/><path stroke="#ccccff" d="M332 2115h81"/><path stroke="#d0d0ff" d="M332 2117h81"/><path stroke="#d3d3ff" d="M332 2119h81"/><path stroke="#d9d9ff" d="M332 2121h81"/><path stroke="#e6e6ff" d="M332 2123h81"/><path stroke="#e9e9ff" d="M332 2125h81"/><path stroke="#e4e4ff" d="M332 2127h81"/><path stroke="#e7e7ff" d="M332 2129h81"/><path stroke="#f0f0ff" d="M332 2131h81"/><path stroke="#eeeeff" d="M332 2133h81"/><path stroke="#ececff" d="M332 2135h81"/><path stroke="#efefff" d="M332 2137h81"/><path stroke="#f6f6ff" d="M332 2139h81"/><path stroke="#eeeeff" d="M332 2141h81"/><path stroke="#ececff" d="M332 2143h81"/><path stroke="#e9e9ff" d="M332 2145h81"/><path stroke="#f0f0ff" d="M332 2147h81"/><path stroke="#e9e9ff" d="M332 2149h81"/><path stroke="#c0c0ff" d="M332 2151h81"/><path stroke="#afafff" d="M332 2153h81"/><path stroke="#b9b9ff" d="M332 2155h81"/><path stroke="#b6b6ff" d="M332 2157h81"/><path stroke="#c1c1ff" d="M332 2158.5h81"/><path stroke="#ff6f6f" d="M413 979h81"/><path stroke="#ff6363" d="M413 981h81"/><path stroke="#ff6969" d="M413 983h81"/><path stroke="#ff6f6f" d="M413 985h81"/><path stroke="#ff7272" d="M413 987h81"/><path stroke="#ff6c6c" d="M413 989h81"/><path stroke="#ff6666" d="M413 991h81"/><path stroke="#ff6666" d="M413 993h81"/><path stroke="#ff7777" d="M413 995h81"/><path stroke="#ff6d6d" d="M413 997h81"/><path stroke="#ff6868" d="M413 999h81"/><path stroke="#ff7575" d="M413 1001h81"/><path stroke="#ff7474" d="M413 1003h81"/><path stroke="#ff7272" d="M413 1005h81"/><path stroke="#ff7171" d="M413 1007h81"/><path stroke="#ff6868" d="M413 1009h81"/><path stroke="#ff6363" d="M413 1011h81"/><path stroke="#ff5d5d" d="M413 1013h81"/><path stroke="#ff5959" d="M413 1015h81"/><path stroke="#ff5555" d="M413 1017h81"/><path stroke="#ff6464" d="M413 1019h81"/><path stroke="#ff5a5a" d="M413 1021h81"/><path stroke="#ff6060" d="M413 1023h81"/><path stroke="#ff6868" d="M413 1025h81"/><path stroke="#ff8989" d="M413 1027h81"/><path stroke="#ff8a8a" d="M413 1029h81"/><path stroke="#ff8c8c" d="M413 1031h81"/><path stroke="#ff8383" d="M413 1033h81"/><path stroke="#ff8686" d="M413 1035h81"/><path stroke="#ff8989" d="M413 1037h81"/><path stroke="#ff8989" d="M413 1039h81"/><path stroke="#ff8585" d="M413 1041h81"/><path stroke="#ff8080" d="M413 1043h81"/><path stroke="#ff8383" d="M413 1045h81"/><path stroke="#ff7e7e" d="M413 1047h81"/><path stroke="#ff7e7e" d="M413 1049h81"/><path stroke="#ff8787" d="M413 1051h81"/><path stroke="#ff8787" d="M413 1053h81"/><path stroke="#ff9898" d="M413 1055h81"/><path stroke="#ff8a8a" d="M413 1057h81"/><path stroke="#ff8484" d="M413 1059h81"/><path stroke="#ff8282" d="M413 1061h81"/><path stroke="#ff7a7a" d="M413 1063h81"/><path stroke="#ff7b7b" d="M413 1065h81"/><path stroke="#ff8989" d="M413 1067h81"/><path stroke="#ff8181" d="M413 1069h81"/><path stroke="#ff7373" d="M413 1071h81"/><path stroke="#ff6e6e" d="M413 1073h81"/><path stroke="#ff6d6d" d="M413 1075h81"/><path stroke="#ff7070" d="M413 1077h81"/><path stroke="#ff7777" d="M413 1079h81"/><path stroke="#ff7575" d="M413 1081h81"/><path stroke="#ff8686" d="M413 1083h81"/><path stroke="#ff7171" d="M413 1085h81"/><path stroke="#ff7272" d="M413 1087h81"/><path stroke="#ff8686" d="M413 1089h81"/><path stroke="#ff7575" d="M413 1091h81"/><path stroke="#ff7c7c" d="M413 1093h81"/><path stroke="#ff8080" d="M413 1095h81"/><path stroke="#ff7878" d="M413 1097h81"/><path stroke="#ff7676" d="M413 1099h81"/><path stroke="#ff6c6c" d="M413 1101h81"/><path stroke="#ff7a7a" d="M413 1103h81"/><path stroke="#ff8181" d="M413 1105h81"/><path stroke="#ff7e7e" d="M413 1107h81"/><path stroke="#ff7474" d="M413 1109h81"/><path stroke="#ff7b7b" d="M413 1111h81"/><path stroke="#ff7272" d="M413 1113h81"/><path stroke="#ff6e6e" d="M413 1115h81"/><path stroke="#ff6868" d="M413 1117h81"/><path stroke="#ff6969" d="M413 1119h81"/><path stroke="#ff6c6c" d="M413 1121h81"/><path stroke="#ff6868" d="M413 1123h81"/><path stroke="#ff6c6c" d="M413 1125h81"/><path stroke="#ff6666" d="M413 1127h81"/><path stroke="#ff6a6a" d="M413 1129h81"/><path stroke="#ff7c7c" d="M413 1131h81"/><path stroke="#ff7979" d="M413 1133h81"/><path stroke="#ff8080" d="M413 1135h81"/><path stroke="#ff7373" d="M413 1137h81"/><path stroke="#ff7272" d="M413 1139h81"/><path stroke="#ff7676" d="M413 1141h81"/><path stroke="#ff8080" d="M413 1143h81"/><path stroke="#ff7a7a" d="M413 1145h81"/><path stroke="#ff7474" d="M413 1147h81"/><path stroke="#ff7474" d="M413 1149h81"/><path stroke="#ff7272" d="M413 1151h81"/><path stroke="#ff7575" d="M413 1153h81"/><path stroke="#ff6d6d" d="M413 1155h81"/><path stroke="#ff7373" d="M413 1157h81"/><path stroke="#ff7575" d="M413 1159h81"/><path stroke="#ff7373" d="M413 1161h81"/><path stroke="#ff8181" d="M413 1163h81"/><path stroke="#ff7070" d="M413 1165h81"/><path stroke="#ff7878" d="M413 1167h81"/><path stroke="#ff6868" d="M413 1169h81"/><path stroke="#ff7676" d="M413 1171h81"/><path stroke="#ff7d7d" d="M413 1173h81"/><path stroke="#ff7676" d="M413 1175h81"/><path stroke="#ff7878" d="M413 1177h81"/><path stroke="#ff7676" d="M413 1179h81"/><path stroke="#ff6e6e" d="M413 1181h81"/><path stroke="#ff6767" d="M413 1183h81"/><path stroke="#ff6f6f" d="M413 1185h81"/><path stroke="#ff6f6f" d="M413 1187h81"/><path stroke="#ff6b6b" d="M413 1189h81"/><path stroke="#ff6a6a" d="M413 1191h81"/><path stroke="#ff6767" d="M413 1193h81"/><path stroke="#ff6868" d="M413 1195h81"/><path stroke="#ff6f6f" d="M413 1197h81"/><path stroke="#ff6d6d" d="M413 1199h81"/><path stroke="#ff6b6b" d="M413 1201h81"/><path stroke="#ff6666" d="M413 1203h81"/><path stroke="#ff6868" d="M413 1205h81"/><path stroke="#ff6e6e" d="M413 1207h81"/><path stroke="#ff6969" d="M413 1209h81"/><path stroke="#ff6b6b" d="M413 1211h81"/><path stroke="#ff6565" d="M413 1213h81"/><path stroke="#ff6161" d="M413 1215h81"/><path stroke="#ff6767" d="M413 1217h81"/><path stroke="#ff6b6b" d="M413 1219h81"/><path stroke="#ff8080" d="M413 1221h81"/><path stroke="#ff7e7e" d="M413 1223h81"/><path stroke="#ff7f7f" d="M413 1225h81"/><path stroke="#ff7676" d="M413 1227h81"/><path stroke="#ff7c7c" d="M413 1229h81"/><path stroke="#ff7878" d="M413 1231h81"/><path stroke="#ff6e6e" d="M413 1233h81"/><path stroke="#ff7d7d" d="M413 1235h81"/><path stroke="#ff7b7b" d="M413 1237h81"/><path stroke="#ff7474" d="M413 1239h81"/><path stroke="#ff7777" d="M413 1241h81"/><path stroke="#ff7373" d="M413 1243h81"/><path stroke="#ff7474" d="M413 1245h81"/><path stroke="#ff7777" d="M413 1247h81"/><path stroke="#ff7b7b" d="M413 1249h81"/><path stroke="#ff9f9f" d="M413 1251h81"/><path stroke="#ffa5a5" d="M413 1253h81"/><path stroke="#ffa2a2" d="M413 1255h81"/><path stroke="#ff9898" d="M413 1257h81"/><path stroke="#ff9d9d" d="M413 1259h81"/><path stroke="#ffa7a7" d="M413 1261h81"/><path stroke="#ff9a9a" d="M413 1263h81"/><path stroke="#ff9d9d" d="M413 1265h81"/><path stroke="#ffa0a0" d="M413 1267h81"/><path stroke="#ffa1a1" d="M413 1269h81"/><path stroke="#ffa3a3" d="M413 1271h81"/><path stroke="#ffb1b1" d="M413 1273h81"/><path stroke="#ffbfbf" d="M413 1275h81"/><path stroke="#ffbcbc" d="M413 1277h81"/><path stroke="#ffb2b2" d="M413 1279h81"/><path stroke="#ffa2a2" d="M413 1281h81"/><path stroke="#ffb8b8" d="M413 1283h81"/><path stroke="#ffe9e9" d="M413 1285h81"/><path stroke="#ffeded" d="M413 1287h81"/><path stroke="#fff0f0" d="M413 1289h81"/><path stroke="#fff4f4" d="M413 1291h81"/><path stroke="#fff7f7" d="M413 1293h81"/><path stroke="#fff8f8" d="M413 1295h81"/><path stroke="#fff6f6" d="M413 1297h81"/><path stroke="#ffdcdc" d="M413 1299h81"/><path stroke="#ffd6d6" d="M413 1301h81"/><path stroke="#ffd1d1" d="M413 1303h81"/><path stroke="#ffd8d8" d="M413 1305h81"/><path stroke="#ffdddd" d="M413 1307h81"/><path stroke="#ffd4d4" d="M413 1309h81"/><path stroke="#ffd3d3" d="M413 1311h81"/><path stroke="#ffc4c4" d="M413 1313h81"/><path stroke="#ffb5b5" d="M413 1315h81"/><path stroke="#ffb0b0" d="M413 1317h81"/><path stroke="#ffb2b2" d="M413 1319h81"/><path stroke="#ffaaaa" d="M413 1321h81"/><path stroke="#ffb4b4" d="M413 1323h81"/><path stroke="#ffb3b3" d="M413 1325h81"/><path stroke="#ffb8b8" d="M413 1327h81"/><path stroke="#ffb2b2" d="M413 1329h81"/><path stroke="#ffb4b4" d="M413 1331h81"/><path stroke="#ffb1b1" d="M413 1333h81"/><path stroke="#ffb8b8" d="M413 1335h81"/><path stroke="#ffbaba" d="M413 1337h81"/><path stroke="#ffb5b5" d="M413 1339h81"/><path stroke="#ffbbbb" d="M413 1341h81"/><path stroke="#ffbbbb" d="M413 1343h81"/><path stroke="#ffbaba" d="M413 1345h81"/><path stroke="#ffbaba" d="M413 1347h81"/><path stroke="#ffb8b8" d="M413 1349h81"/><path stroke="#ffb6b6" d="M413 1351h81"/><path stroke="#ffb4b4" d="M413 1353h81"/><path stroke="#ffb3b3" d="M413 1355h81"/><path stroke="#ffb2b2" d="M413 1357h81"/><path stroke="#ffadad" d="M413 1359h81"/><path stroke="#ffb1b1" d="M413 1361h81"/><path stroke="#ffb2b2" d="M413 1363h81"/><path stroke="#ffb7b7" d="M413 1365h81"/><path stroke="#ffbcbc" d="M413 1367h81"/><path stroke="#ffbebe" d="M413 1369h81"/><path stroke="#ffbbbb" d="M413 1371h81"/><path stroke="#ffb7b7" d="M413 1373h81"/><path stroke="#ffaeae" d="M413 1375h81"/><path stroke="#ffadad" d="M413 1377h81"/><path stroke="#ff9f9f" d="M413 1379h81"/><path stroke="#ffb3b3" d="M413 1381h81"/><path stroke="#ffb4b4" d="M413 1383h81"/><path stroke="#ffaeae" d="M413 1385h81"/><path stroke="#ffb0b0" d="M413 1387h81"/><path stroke="#ffb3b3" d="M413 1389h81"/><path stroke="#ffbaba" d="M413 1391h81"/><path stroke="#ffafaf" d="M413 1393h81"/><path stroke="#ffacac" d="M413 1395h81"/><path stroke="#ffa9a9" d="M413 1397h81"/><path stroke="#ffa1a1" d="M413 1399h81"/><path stroke="#ffabab" d="M413 1401h81"/><path stroke="#ffcccc" d="M413 1403h81"/><path stroke="#ffe6e6" d="M413 1405h81"/><path stroke="#ffe1e1" d="M413 1407h81"/><path stroke="#ffe6e6" d="M413 1409h81"/><path stroke="#ffe4e4" d="M413 1411h81"/><path stroke="#ffdfdf" d="M413 1413h81"/><path stroke="#ffb7b7" d="M413 1415h81"/><path stroke="#ffabab" d="M413 1417h81"/><path stroke="#ffb6b6" d="M413 1419h81"/><path stroke="#ffb3b3" d="M413 1421h81"/><path stroke="#ffb7b7" d="M413 1423h81"/><path stroke="#ffb1b1" d="M413 1425h81"/><path stroke="#ffb2b2" d="M413 1427h81"/><path stroke="#ffabab" d="M413 1429h81"/><path stroke="#ffa5a5" d="M413 1431h81"/><path stroke="#ff8888" d="M413 1433h81"/><path stroke="#ff8686" d="M413 1435h81"/><path stroke="#ff8e8e" d="M413 1437h81"/><path stroke="#ff9494" d="M413 1439h81"/><path stroke="#ff8888" d="M413 1441h81"/><path stroke="#ff8080" d="M413 1443h81"/><path stroke="#ff7f7f" d="M413 1445h81"/><path stroke="#ff8383" d="M413 1447h81"/><path stroke="#ff7f7f" d="M413 1449h81"/><path stroke="#ff7575" d="M413 1451h81"/><path stroke="#ff7a7a" d="M413 1453h81"/><path stroke="#ff6b6b" d="M413 1455h81"/><path stroke="#ff7474" d="M413 1457h81"/><path stroke="#ff6d6d" d="M413 1459h81"/><path stroke="#ff7f7f" d="M413 1461h81"/><path stroke="#ff8d8d" d="M413 1463h81"/><path stroke="#ff9090" d="M413 1465h81"/><path stroke="#ff8c8c" d="M413 1467h81"/><path stroke="#ff8787" d="M413 1469h81"/><path stroke="#ff8b8b" d="M413 1471h81"/><path stroke="#ff8b8b" d="M413 1473h81"/><path stroke="#ff8d8d" d="M413 1475h81"/><path stroke="#ff9292" d="M413 1477h81"/><path stroke="#ff8888" d="M413 1479h81"/><path stroke="#ff8888" d="M413 1481h81"/><path stroke="#ff7e7e" d="M413 1483h81"/><path stroke="#ff8181" d="M413 1485h81"/><path stroke="#ff8787" d="M413 1487h81"/><path stroke="#ff8282" d="M413 1489h81"/><path stroke="#ff7e7e" d="M413 1491h81"/><path stroke="#ff7f7f" d="M413 1493h81"/><path stroke="#ff8181" d="M413 1495h81"/><path stroke="#ff7f7f" d="M413 1497h81"/><path stroke="#ff8484" d="M413 1499h81"/><path stroke="#ff8787" d="M413 1501h81"/><path stroke="#ff8787" d="M413 1503h81"/><path stroke="#ff8c8c" d="M413 1505h81"/><path stroke="#ff9f9f" d="M413 1507h81"/><path stroke="#ff9d9d" d="M413 1509h81"/><path stroke="#ffa4a4" d="M413 1511h81"/><path stroke="#ffaaaa" d="M413 1513h81"/><path stroke="#ff9f9f" d="M413 1515h81"/><path stroke="#ff9999" d="M413 1517h81"/><path stroke="#ffa0a0" d="M413 1519h81"/><path stroke="#ffa3a3" d="M413 1521h81"/><path stroke="#ff9c9c" d="M413 1523h81"/><path stroke="#ff9898" d="M413 1525h81"/><path stroke="#ff9999" d="M413 1527h81"/><path stroke="#ff9999" d="M413 1529h81"/><path stroke="#ff8484" d="M413 1531h81"/><path stroke="#ff8b8b" d="M413 1533h81"/><path stroke="#ff8b8b" d="M413 1535h81"/><path stroke="#ff9696" d="M413 1537h81"/><path stroke="#ff9c9c" d="M413 1539h81"/><path stroke="#ff9e9e" d="M413 1541h81"/><path stroke="#ffa8a8" d="M413 1543h81"/><path stroke="#ffa0a0" d="M413 1545h81"/><path stroke="#ffa3a3" d="M413 1547h81"/><path stroke="#ffabab" d="M413 1549h81"/><path stroke="#ffa9a9" d="M413 1551h81"/><path stroke="#ff9f9f" d="M413 1553h81"/><path stroke="#ffa6a6" d="M413 1555h81"/><path stroke="#ffa1a1" d="M413 1557h81"/><path stroke="#ffa1a1" d="M413 1559h81"/><path stroke="#ffa2a2" d="M413 1561h81"/><path stroke="#ffa2a2" d="M413 1563h81"/><path stroke="#ff9c9c" d="M413 1565h81"/><path stroke="#ff9a9a" d="M413 1567h81"/><path stroke="#ff9c9c" d="M413 1569h81"/><path stroke="#ff9999" d="M413 1571h81"/><path stroke="#ffa3a3" d="M413 1573h81"/><path stroke="#ff9f9f" d="M413 1575h81"/><path stroke="#ff9b9b" d="M413 1577h81"/><path stroke="#ffabab" d="M413 1579h81"/><path stroke="#ffa4a4" d="M413 1581h81"/><path stroke="#ffa4a4" d="M413 1583h81"/><path stroke="#ffaaaa" d="M413 1585h81"/><path stroke="#ff9898" d="M413 1587h81"/><path stroke="#ff9999" d="M413 1589h81"/><path stroke="#ff9f9f" d="M413 1591h81"/><path stroke="#ff9898" d="M413 1593h81"/><path stroke="#ff9f9f" d="M413 1595h81"/><path stroke="#ff9797" d="M413 1597h81"/><path stroke="#ffa3a3" d="M413 1599h81"/><path stroke="#ffa5a5" d="M413 1601h81"/><path stroke="#ffa8a8" d="M413 1603h81"/><path stroke="#ffaeae" d="M413 1605h81"/><path stroke="#ffb9b9" d="M413 1607h81"/><path stroke="#ffb1b1" d="M413 1609h81"/><path stroke="#ffa9a9" d="M413 1611h81"/><path stroke="#ffafaf" d="M413 1613h81"/><path stroke="#ffa4a4" d="M413 1615h81"/><path stroke="#ffa9a9" d="M413 1617h81"/><path stroke="#ffb3b3" d="M413 1619h81"/><path stroke="#ffb3b3" d="M413 1621h81"/><path stroke="#ffc5c5" d="M413 1623h81"/><path stroke="#ffdfdf" d="M413 1625h81"/><path stroke="#ffd1d1" d="M413 1627h81"/><path stroke="#ffa7a7" d="M413 1629h81"/><path stroke="#ff7d7d" d="M413 1631h81"/><path stroke="#ff7575" d="M413 1633h81"/><path stroke="#ff7474" d="M413 1635h81"/><path stroke="#ff7f7f" d="M413 1637h81"/><path stroke="#ff7373" d="M413 1639h81"/><path stroke="#ff7676" d="M413 1641h81"/><path stroke="#ff7a7a" d="M413 1643h81"/><path stroke="#ff7070" d="M413 1645h81"/><path stroke="#ff7575" d="M413 1647h81"/><path stroke="#ff7b7b" d="M413 1649h81"/><path stroke="#ff7373" d="M413 1651h81"/><path stroke="#ff7474" d="M413 1653h81"/><path stroke="#ff7c7c" d="M413 1655h81"/><path stroke="#ff7878" d="M413 1657h81"/><path stroke="#ff8282" d="M413 1659h81"/><path stroke="#ff7777" d="M413 1661h81"/><path stroke="#ff7a7a" d="M413 1663h81"/><path stroke="#ff7474" d="M413 1665h81"/><path stroke="#ff7272" d="M413 1667h81"/><path stroke="#ff7474" d="M413 1669h81"/><path stroke="#ff7171" d="M413 1671h81"/><path stroke="#ff7171" d="M413 1673h81"/><path stroke="#ff7e7e" d="M413 1675h81"/><path stroke="#ff7f7f" d="M413 1677h81"/><path stroke="#ff7f7f" d="M413 1679h81"/><path stroke="#ff7878" d="M413 1681h81"/><path stroke="#ff7272" d="M413 1683h81"/><path stroke="#ff7070" d="M413 1685h81"/><path stroke="#ff7878" d="M413 1687h81"/><path stroke="#ff7c7c" d="M413 1689h81"/><path stroke="#ff7676" d="M413 1691h81"/><path stroke="#ff6969" d="M413 1693h81"/><path stroke="#ff6767" d="M413 1695h81"/><path stroke="#ff7070" d="M413 1697h81"/><path stroke="#ff7070" d="M413 1699h81"/><path stroke="#ff7474" d="M413 1701h81"/><path stroke="#ff7171" d="M413 1703h81"/><path stroke="#ff7272" d="M413 1705h81"/><path stroke="#ff6c6c" d="M413 1707h81"/><path stroke="#ff6969" d="M413 1709h81"/><path stroke="#ff7474" d="M413 1711h81"/><path stroke="#ff6d6d" d="M413 1713h81"/><path stroke="#ff7171" d="M413 1715h81"/><path stroke="#ff6d6d" d="M413 1717h81"/><path stroke="#ff6e6e" d="M413 1719h81"/><path stroke="#ff7b7b" d="M413 1721h81"/><path stroke="#ff8282" d="M413 1723h81"/><path stroke="#ff7c7c" d="M413 1725h81"/><path stroke="#ff7272" d="M413 1727h81"/><path stroke="#ff7878" d="M413 1729h81"/><path stroke="#ff7a7a" d="M413 1731h81"/><path stroke="#ff7878" d="M413 1733h81"/><path stroke="#ff7777" d="M413 1735h81"/><path stroke="#ff7d7d" d="M413 1737h81"/><path stroke="#ff7171" d="M413 1739h81"/><path stroke="#ff7878" d="M413 1741h81"/><path stroke="#ff7474" d="M413 1743h81"/><path stroke="#ff7e7e" d="M413 1745h81"/><path stroke="#ff8b8b" d="M413 1747h81"/><path stroke="#ff8888" d="M413 1749h81"/><path stroke="#ff8a8a" d="M413 1751h81"/><path stroke="#ff8f8f" d="M413 1753h81"/><path stroke="#ff8f8f" d="M413 1755h81"/><path stroke="#ff8e8e" d="M413 1757h81"/><path stroke="#ff8989" d="M413 1759h81"/><path stroke="#ff8888" d="M413 1761h81"/><path stroke="#ff8a8a" d="M413 1763h81"/><path stroke="#ff8686" d="M413 1765h81"/><path stroke="#ff8989" d="M413 1767h81"/><path stroke="#ff8989" d="M413 1769h81"/><path stroke="#ff8c8c" d="M413 1771h81"/><path stroke="#ff9090" d="M413 1773h81"/><path stroke="#ff8989" d="M413 1775h81"/><path stroke="#ff8b8b" d="M413 1777h81"/><path stroke="#ff6f6f" d="M413 1779h81"/><path stroke="#ff8383" d="M413 1781h81"/><path stroke="#ff8787" d="M413 1783h81"/><path stroke="#ff9090" d="M413 1785h81"/><path stroke="#ff8e8e" d="M413 1787h81"/><path stroke="#ff8888" d="M413 1789h81"/><path stroke="#ffa4a4" d="M413 1791h81"/><path stroke="#9d9dff" d="M413 1793h81"/><path stroke="#7171ff" d="M413 1795h81"/><path stroke="#7979ff" d="M413 1797h81"/><path stroke="#6565ff" d="M413 1799h81"/><path stroke="#8080ff" d="M413 1801h81"/><path stroke="#8686ff" d="M413 1803h81"/><path stroke="#8181ff" d="M413 1805h81"/><path stroke="#7f7fff" d="M413 1807h81"/><path stroke="#7d7dff" d="M413 1809h81"/><path stroke="#7575ff" d="M413 1811h81"/><path stroke="#7575ff" d="M413 1813h81"/><path stroke="#7171ff" d="M413 1815h81"/><path stroke="#6b6bff" d="M413 1817h81"/><path stroke="#7070ff" d="M413 1819h81"/><path stroke="#7d7dff" d="M413 1821h81"/><path stroke="#8484ff" d="M413 1823h81"/><path stroke="#7e7eff" d="M413 1825h81"/><path stroke="#7777ff" d="M413 1827h81"/><path stroke="#7c7cff" d="M413 1829h81"/><path stroke="#8181ff" d="M413 1831h81"/><path stroke="#7f7fff" d="M413 1833h81"/><path stroke="#7171ff" d="M413 1835h81"/><path stroke="#7878ff" d="M413 1837h81"/><path stroke="#6a6aff" d="M413 1839h81"/><path stroke="#6f6fff" d="M413 1841h81"/><path stroke="#7a7aff" d="M413 1843h81"/><path stroke="#7b7bff" d="M413 1845h81"/><path stroke="#7676ff" d="M413 1847h81"/><path stroke="#7171ff" d="M413 1849h81"/><path stroke="#7979ff" d="M413 1851h81"/><path stroke="#7d7dff" d="M413 1853h81"/><path stroke="#7b7bff" d="M413 1855h81"/><path stroke="#6c6cff" d="M413 1857h81"/><path stroke="#7373ff" d="M413 1859h81"/><path stroke="#6e6eff" d="M413 1861h81"/><path stroke="#7a7aff" d="M413 1863h81"/><path stroke="#6a6aff" d="M413 1865h81"/><path stroke="#9191ff" d="M413 1867h81"/><path stroke="#9f9fff" d="M413 1869h81"/><path stroke="#9e9eff" d="M413 1871h81"/><path stroke="#9c9cff" d="M413 1873h81"/><path stroke="#a2a2ff" d="M413 1875h81"/><path stroke="#adadff" d="M413 1877h81"/><path stroke="#a7a7ff" d="M413 1879h81"/><path stroke="#a0a0ff" d="M413 1881h81"/><path stroke="#9f9fff" d="M413 1883h81"/><path stroke="#a4a4ff" d="M413 1885h81"/><path stroke="#a6a6ff" d="M413 1887h81"/><path stroke="#9a9aff" d="M413 1889h81"/><path stroke="#a1a1ff" d="M413 1891h81"/><path stroke="#a0a0ff" d="M413 1893h81"/><path stroke="#9292ff" d="M413 1895h81"/><path stroke="#9898ff" d="M413 1897h81"/><path stroke="#a7a7ff" d="M413 1899h81"/><path stroke="#a2a2ff" d="M413 1901h81"/><path stroke="#8484ff" d="M413 1903h81"/><path stroke="#7a7aff" d="M413 1905h81"/><path stroke="#7b7bff" d="M413 1907h81"/><path stroke="#7474ff" d="M413 1909h81"/><path stroke="#7373ff" d="M413 1911h81"/><path stroke="#7979ff" d="M413 1913h81"/><path stroke="#7575ff" d="M413 1915h81"/><path stroke="#7c7cff" d="M413 1917h81"/><path stroke="#7f7fff" d="M413 1919h81"/><path stroke="#9393ff" d="M413 1921h81"/><path stroke="#8d8dff" d="M413 1923h81"/><path stroke="#9797ff" d="M413 1925h81"/><path stroke="#8f8fff" d="M413 1927h81"/><path stroke="#9797ff" d="M413 1929h81"/><path stroke="#8e8eff" d="M413 1931h81"/><path stroke="#9191ff" d="M413 1933h81"/><path stroke="#9595ff" d="M413 1935h81"/><path stroke="#9a9aff" d="M413 1937h81"/><path stroke="#9797ff" d="M413 1939h81"/><path stroke="#9292ff" d="M413 1941h81"/><path stroke="#9898ff" d="M413 1943h81"/><path stroke="#9494ff" d="M413 1945h81"/><path stroke="#9696ff" d="M413 1947h81"/><path stroke="#8b8bff" d="M413 1949h81"/><path stroke="#8d8dff" d="M413 1951h81"/><path stroke="#9292ff" d="M413 1953h81"/><path stroke="#8585ff" d="M413 1955h81"/><path stroke="#8e8eff" d="M413 1957h81"/><path stroke="#9494ff" d="M413 1959h81"/><path stroke="#9a9aff" d="M413 1961h81"/><path stroke="#9292ff" d="M413 1963h81"/><path stroke="#9393ff" d="M413 1965h81"/><path stroke="#9898ff" d="M413 1967h81"/><path stroke="#a4a4ff" d="M413 1969h81"/><path stroke="#a5a5ff" d="M413 1971h81"/><path stroke="#aaaaff" d="M413 1973h81"/><path stroke="#a6a6ff" d="M413 1975h81"/><path stroke="#a5a5ff" d="M413 1977h81"/><path stroke="#a9a9ff" d="M413 1979h81"/><path stroke="#afafff" d="M413 1981h81"/><path stroke="#b1b1ff" d="M413 1983h81"/><path stroke="#b6b6ff" d="M413 1985h81"/><path stroke="#a8a8ff" d="M413 1987h81"/><path stroke="#a9a9ff" d="M413 1989h81"/><path stroke="#aaaaff" d="M413 1991h81"/><path stroke="#aaaaff" d="M413 1993h81"/><path stroke="#a6a6ff" d="M413 1995h81"/><path stroke="#a1a1ff" d="M413 1997h81"/><path stroke="#a4a4ff" d="M413 1999h81"/><path stroke="#9d9dff" d="M413 2001h81"/><path stroke="#9d9dff" d="M413 2003h81"/><path stroke="#a1a1ff" d="M413 2005h81"/><path stroke="#9393ff" d="M413 2007h81"/><path stroke="#9494ff" d="M413 2009h81"/><path stroke="#9595ff" d="M413 2011h81"/><path stroke="#9797ff" d="M413 2013h81"/><path stroke="#a0a0ff" d="M413 2015h81"/><path stroke="#a9a9ff" d="M413 2017h81"/><path stroke="#a4a4ff" d="M413 2019h81"/><path stroke="#9c9cff" d="M413 2021h81"/><path stroke="#9696ff" d="M413 2023h81"/><path stroke="#9292ff" d="M413 2025h81"/><path stroke="#8d8dff" d="M413 2027h81"/><path stroke="#9292ff" d="M413 2029h81"/><path stroke="#8f8fff" d="M413 2031h81"/><path stroke="#9191ff" d="M413 2033h81"/><path stroke="#9191ff" d="M413 2035h81"/><path stroke="#9696ff" d="M413 2037h81"/><path stroke="#9999ff" d="M413 2039h81"/><path stroke="#9191ff" d="M413 2041h81"/><path stroke="#8e8eff" d="M413 2043h81"/><path stroke="#9494ff" d="M413 2045h81"/><path stroke="#9494ff" d="M413 2047h81"/><path stroke="#8888ff" d="M413 2049h81"/><path stroke="#9191ff" d="M413 2051h81"/><path stroke="#9090ff" d="M413 2053h81"/><path stroke="#9090ff" d="M413 2055h81"/><path stroke="#9494ff" d="M413 2057h81"/><path stroke="#8e8eff" d="M413 2059h81"/><path stroke="#8f8fff" d="M413 2061h81"/><path stroke="#9090ff" d="M413 2063h81"/><path stroke="#8a8aff" d="M413 2065h81"/><path stroke="#8d8dff" d="M413 2067h81"/><path stroke="#8e8eff" d="M413 2069h81"/><path stroke="#8f8fff" d="M413 2071h81"/><path stroke="#8e8eff" d="M413 2073h81"/><path stroke="#8b8bff" d="M413 2075h81"/><path stroke="#8f8fff" d="M413 2077h81"/><path stroke="#9191ff" d="M413 2079h81"/><path stroke="#9999ff" d="M413 2081h81"/><path stroke="#9e9eff" d="M413 2083h81"/><path stroke="#a1a1ff" d="M413 2085h81"/><path stroke="#9a9aff" d="M413 2087h81"/><path stroke="#a3a3ff" d="M413 2089h81"/><path stroke="#a0a0ff" d="M413 2091h81"/><path stroke="#9c9cff" d="M413 2093h81"/><path stroke="#8282ff" d="M413 2095h81"/><path stroke="#9595ff" d="M413 2097h81"/><path stroke="#9595ff" d="M413 2099h81"/><path stroke="#9999ff" d="M413 2101h81"/><path stroke="#a0a0ff" d="M413 2103h81"/><path stroke="#9393ff" d="M413 2105h81"/><path stroke="#9b9bff" d="M413 2107h81"/><path stroke="#8a8aff" d="M413 2109h81"/><path stroke="#7575ff" d="M413 2111h81"/><path stroke="#7373ff" d="M413 2113h81"/><path stroke="#7474ff" d="M413 2115h81"/><path stroke="#6565ff" d="M413 2117h81"/><path stroke="#5b5bff" d="M413 2119h81"/><path stroke="#5b5bff" d="M413 2121h81"/><path stroke="#6565ff" d="M413 2123h81"/><path stroke="#6969ff" d="M413 2125h81"/><path stroke="#5e5eff" d="M413 2127h81"/><path stroke="#6565ff" d="M413 2129h81"/><path stroke="#6b6bff" d="M413 2131h81"/><path stroke="#6b6bff" d="M413 2133h81"/><path stroke="#6868ff" d="M413 2135h81"/><path stroke="#6d6dff" d="M413 2137h81"/><path stroke="#6c6cff" d="M413 2139h81"/><path stroke="#6c6cff" d="M413 2141h81"/><path stroke="#6c6cff" d="M413 2143h81"/><path stroke="#6d6dff" d="M413 2145h81"/><path stroke="#5d5dff" d="M413 2147h81"/><path stroke="#7373ff" d="M413 2149h81"/><path stroke="#9999ff" d="M413 2151h81"/><path stroke="#ababff" d="M413 2153h81"/><path stroke="#a3a3ff" d="M413 2155h81"/><path stroke="#a2a2ff" d="M413 2157h81"/><path stroke="#a0a0ff" d="M413 2158.5h81"/><path stroke="#ff7474" d="M494 979h82"/><path stroke="#ff6e6e" d="M494 981h82"/><path stroke="#ff7171" d="M494 983h82"/><path stroke="#ff7070" d="M494 985h82"/><path stroke="#ff7474" d="M494 987h82"/><path stroke="#ff6c6c" d="M494 989h82"/><path stroke="#ff7070" d="M494 991h82"/><path stroke="#ff6c6c" d="M494 993h82"/><path stroke="#ff6969" d="M494 995h82"/><path stroke="#ff6e6e" d="M494 997h82"/><path stroke="#ff6f6f" d="M494 999h82"/><path stroke="#ff6969" d="M494 1001h82"/><path stroke="#ff6969" d="M494 1003h82"/><path stroke="#ff6767" d="M494 1005h82"/><path stroke="#ff7171" d="M494 1007h82"/><path stroke="#ff7777" d="M494 1009h82"/><path stroke="#ff7676" d="M494 1011h82"/><path stroke="#ff7575" d="M494 1013h82"/><path stroke="#ff7777" d="M494 1015h82"/><path stroke="#ff7676" d="M494 1017h82"/><path stroke="#ff7676" d="M494 1019h82"/><path stroke="#ff7474" d="M494 1021h82"/><path stroke="#ff7d7d" d="M494 1023h82"/><path stroke="#ff6d6d" d="M494 1025h82"/><path stroke="#ff7070" d="M494 1027h82"/><path stroke="#ff6a6a" d="M494 1029h82"/><path stroke="#ff6b6b" d="M494 1031h82"/><path stroke="#ff6868" d="M494 1033h82"/><path stroke="#ff6e6e" d="M494 1035h82"/><path stroke="#ff6464" d="M494 1037h82"/><path stroke="#ff6868" d="M494 1039h82"/><path stroke="#ff6a6a" d="M494 1041h82"/><path stroke="#ff6d6d" d="M494 1043h82"/><path stroke="#ff6363" d="M494 1045h82"/><path stroke="#ff6363" d="M494 1047h82"/><path stroke="#ff6161" d="M494 1049h82"/><path stroke="#ff6565" d="M494 1051h82"/><path stroke="#ff6161" d="M494 1053h82"/><path stroke="#ff6565" d="M494 1055h82"/><path stroke="#ff6868" d="M494 1057h82"/><path stroke="#ff5c5c" d="M494 1059h82"/><path stroke="#ff6868" d="M494 1061h82"/><path stroke="#ff6a6a" d="M494 1063h82"/><path stroke="#ff6b6b" d="M494 1065h82"/><path stroke="#ff6363" d="M494 1067h82"/><path stroke="#ff6b6b" d="M494 1069h82"/><path stroke="#ff6060" d="M494 1071h82"/><path stroke="#ff6c6c" d="M494 1073h82"/><path stroke="#ff6a6a" d="M494 1075h82"/><path stroke="#ff6a6a" d="M494 1077h82"/><path stroke="#ff6363" d="M494 1079h82"/><path stroke="#ff6767" d="M494 1081h82"/><path stroke="#ff6262" d="M494 1083h82"/><path stroke="#ff6666" d="M494 1085h82"/><path stroke="#ff6161" d="M494 1087h82"/><path stroke="#ff6f6f" d="M494 1089h82"/><path stroke="#ff6b6b" d="M494 1091h82"/><path stroke="#ff7575" d="M494 1093h82"/><path stroke="#ff6868" d="M494 1095h82"/><path stroke="#ff6767" d="M494 1097h82"/><path stroke="#ff6f6f" d="M494 1099h82"/><path stroke="#ff7e7e" d="M494 1101h82"/><path stroke="#ff6666" d="M494 1103h82"/><path stroke="#ff5f5f" d="M494 1105h82"/><path stroke="#ff6666" d="M494 1107h82"/><path stroke="#ff6565" d="M494 1109h82"/><path stroke="#ff6969" d="M494 1111h82"/><path stroke="#ff6c6c" d="M494 1113h82"/><path stroke="#ff6b6b" d="M494 1115h82"/><path stroke="#ff6767" d="M494 1117h82"/><path stroke="#ff6a6a" d="M494 1119h82"/><path stroke="#ff6d6d" d="M494 1121h82"/><path stroke="#ff7e7e" d="M494 1123h82"/><path stroke="#ff6363" d="M494 1125h82"/><path stroke="#ff6969" d="M494 1127h82"/><path stroke="#ff6b6b" d="M494 1129h82"/><path stroke="#ff7474" d="M494 1131h82"/><path stroke="#ff7272" d="M494 1133h82"/><path stroke="#ff7373" d="M494 1135h82"/><path stroke="#ff7474" d="M494 1137h82"/><path stroke="#ff7070" d="M494 1139h82"/><path stroke="#ff6e6e" d="M494 1141h82"/><path stroke="#ff7373" d="M494 1143h82"/><path stroke="#ff6f6f" d="M494 1145h82"/><path stroke="#ff6969" d="M494 1147h82"/><path stroke="#ff6868" d="M494 1149h82"/><path stroke="#ff6e6e" d="M494 1151h82"/><path stroke="#ff6161" d="M494 1153h82"/><path stroke="#ff6c6c" d="M494 1155h82"/><path stroke="#ff7171" d="M494 1157h82"/><path stroke="#ff7575" d="M494 1159h82"/><path stroke="#ff6c6c" d="M494 1161h82"/><path stroke="#ff6666" d="M494 1163h82"/><path stroke="#ff6b6b" d="M494 1165h82"/><path stroke="#ff7272" d="M494 1167h82"/><path stroke="#ff7474" d="M494 1169h82"/><path stroke="#ff7676" d="M494 1171h82"/><path stroke="#ff8080" d="M494 1173h82"/><path stroke="#ff7070" d="M494 1175h82"/><path stroke="#ff6f6f" d="M494 1177h82"/><path stroke="#ff7474" d="M494 1179h82"/><path stroke="#ff7c7c" d="M494 1181h82"/><path stroke="#ff7676" d="M494 1183h82"/><path stroke="#ff7373" d="M494 1185h82"/><path stroke="#ff7070" d="M494 1187h82"/><path stroke="#ff6f6f" d="M494 1189h82"/><path stroke="#ff7676" d="M494 1191h82"/><path stroke="#ff7b7b" d="M494 1193h82"/><path stroke="#ff7777" d="M494 1195h82"/><path stroke="#ff6e6e" d="M494 1197h82"/><path stroke="#ff7373" d="M494 1199h82"/><path stroke="#ff7575" d="M494 1201h82"/><path stroke="#ff6d6d" d="M494 1203h82"/><path stroke="#ff7676" d="M494 1205h82"/><path stroke="#ff7676" d="M494 1207h82"/><path stroke="#ff7373" d="M494 1209h82"/><path stroke="#ff6f6f" d="M494 1211h82"/><path stroke="#ff6e6e" d="M494 1213h82"/><path stroke="#ff7272" d="M494 1215h82"/><path stroke="#ff7373" d="M494 1217h82"/><path stroke="#ff7777" d="M494 1219h82"/><path stroke="#ff7575" d="M494 1221h82"/><path stroke="#ff8989" d="M494 1223h82"/><path stroke="#ff9191" d="M494 1225h82"/><path stroke="#ff8d8d" d="M494 1227h82"/><path stroke="#ff8a8a" d="M494 1229h82"/><path stroke="#ff8989" d="M494 1231h82"/><path stroke="#ff8d8d" d="M494 1233h82"/><path stroke="#ff8484" d="M494 1235h82"/><path stroke="#ff8383" d="M494 1237h82"/><path stroke="#ff8181" d="M494 1239h82"/><path stroke="#ff8585" d="M494 1241h82"/><path stroke="#ff8e8e" d="M494 1243h82"/><path stroke="#ff8989" d="M494 1245h82"/><path stroke="#ff7373" d="M494 1247h82"/><path stroke="#ff9696" d="M494 1249h82"/><path stroke="#ffc5c5" d="M494 1251h82"/><path stroke="#ffc9c9" d="M494 1253h82"/><path stroke="#ffc9c9" d="M494 1255h82"/><path stroke="#ffbebe" d="M494 1257h82"/><path stroke="#ffbdbd" d="M494 1259h82"/><path stroke="#ffb8b8" d="M494 1261h82"/><path stroke="#ffb9b9" d="M494 1263h82"/><path stroke="#ffc1c1" d="M494 1265h82"/><path stroke="#ffc4c4" d="M494 1267h82"/><path stroke="#ffbdbd" d="M494 1269h82"/><path stroke="#ffadad" d="M494 1271h82"/><path stroke="#ffc6c6" d="M494 1273h82"/><path stroke="#ffcdcd" d="M494 1275h82"/><path stroke="#ffb8b8" d="M494 1277h82"/><path stroke="#ffd5d5" d="M494 1279h82"/><path stroke="#ffd4d4" d="M494 1281h82"/><path stroke="#ffd0d0" d="M494 1283h82"/><path stroke="#ffd2d2" d="M494 1285h82"/><path stroke="#ffd4d4" d="M494 1287h82"/><path stroke="#ffd6d6" d="M494 1289h82"/><path stroke="#ffc3c3" d="M494 1291h82"/><path stroke="#ffb6b6" d="M494 1293h82"/><path stroke="#ffbcbc" d="M494 1295h82"/><path stroke="#ffb7b7" d="M494 1297h82"/><path stroke="#ffb0b0" d="M494 1299h82"/><path stroke="#ffbcbc" d="M494 1301h82"/><path stroke="#ffbaba" d="M494 1303h82"/><path stroke="#ffb9b9" d="M494 1305h82"/><path stroke="#ffc1c1" d="M494 1307h82"/><path stroke="#ffc8c8" d="M494 1309h82"/><path stroke="#ffbdbd" d="M494 1311h82"/><path stroke="#ffb7b7" d="M494 1313h82"/><path stroke="#ffa8a8" d="M494 1315h82"/><path stroke="#ffa4a4" d="M494 1317h82"/><path stroke="#ffb0b0" d="M494 1319h82"/><path stroke="#ffb3b3" d="M494 1321h82"/><path stroke="#ffb0b0" d="M494 1323h82"/><path stroke="#ffa5a5" d="M494 1325h82"/><path stroke="#ffa9a9" d="M494 1327h82"/><path stroke="#ffacac" d="M494 1329h82"/><path stroke="#ffa7a7" d="M494 1331h82"/><path stroke="#ffadad" d="M494 1333h82"/><path stroke="#ffa8a8" d="M494 1335h82"/><path stroke="#ffa3a3" d="M494 1337h82"/><path stroke="#ffa9a9" d="M494 1339h82"/><path stroke="#ffaeae" d="M494 1341h82"/><path stroke="#ffa8a8" d="M494 1343h82"/><path stroke="#ffa3a3" d="M494 1345h82"/><path stroke="#ffaaaa" d="M494 1347h82"/><path stroke="#ffb1b1" d="M494 1349h82"/><path stroke="#ffafaf" d="M494 1351h82"/><path stroke="#ffa8a8" d="M494 1353h82"/><path stroke="#ffa7a7" d="M494 1355h82"/><path stroke="#ff9797" d="M494 1357h82"/><path stroke="#ffa3a3" d="M494 1359h82"/><path stroke="#ffa6a6" d="M494 1361h82"/><path stroke="#ffa2a2" d="M494 1363h82"/><path stroke="#ffb1b1" d="M494 1365h82"/><path stroke="#ffaaaa" d="M494 1367h82"/><path stroke="#ffadad" d="M494 1369h82"/><path stroke="#ffa5a5" d="M494 1371h82"/><path stroke="#ffa8a8" d="M494 1373h82"/><path stroke="#ffa8a8" d="M494 1375h82"/><path stroke="#ffb0b0" d="M494 1377h82"/><path stroke="#ffb2b2" d="M494 1379h82"/><path stroke="#ffb3b3" d="M494 1381h82"/><path stroke="#ffabab" d="M494 1383h82"/><path stroke="#ffa6a6" d="M494 1385h82"/><path stroke="#ffa6a6" d="M494 1387h82"/><path stroke="#ffabab" d="M494 1389h82"/><path stroke="#ffadad" d="M494 1391h82"/><path stroke="#ffa8a8" d="M494 1393h82"/><path stroke="#ffa4a4" d="M494 1395h82"/><path stroke="#ffaeae" d="M494 1397h82"/><path stroke="#ffacac" d="M494 1399h82"/><path stroke="#ffaeae" d="M494 1401h82"/><path stroke="#ffafaf" d="M494 1403h82"/><path stroke="#ffaeae" d="M494 1405h82"/><path stroke="#ffacac" d="M494 1407h82"/><path stroke="#ffaeae" d="M494 1409h82"/><path stroke="#ffa9a9" d="M494 1411h82"/><path stroke="#ffa2a2" d="M494 1413h82"/><path stroke="#ff9e9e" d="M494 1415h82"/><path stroke="#ff9d9d" d="M494 1417h82"/><path stroke="#ffa0a0" d="M494 1419h82"/><path stroke="#ff8d8d" d="M494 1421h82"/><path stroke="#ff8484" d="M494 1423h82"/><path stroke="#ff8d8d" d="M494 1425h82"/><path stroke="#ff9090" d="M494 1427h82"/><path stroke="#ff8d8d" d="M494 1429h82"/><path stroke="#ff9393" d="M494 1431h82"/><path stroke="#ffb6b6" d="M494 1433h82"/><path stroke="#ffc3c3" d="M494 1435h82"/><path stroke="#ffcbcb" d="M494 1437h82"/><path stroke="#ffcdcd" d="M494 1439h82"/><path stroke="#ffc8c8" d="M494 1441h82"/><path stroke="#ffc0c0" d="M494 1443h82"/><path stroke="#ffc2c2" d="M494 1445h82"/><path stroke="#ffbcbc" d="M494 1447h82"/><path stroke="#ffbebe" d="M494 1449h82"/><path stroke="#ffc3c3" d="M494 1451h82"/><path stroke="#ffbfbf" d="M494 1453h82"/><path stroke="#ffa9a9" d="M494 1455h82"/><path stroke="#ffa6a6" d="M494 1457h82"/><path stroke="#ff9696" d="M494 1459h82"/><path stroke="#ffa1a1" d="M494 1461h82"/><path stroke="#ffa1a1" d="M494 1463h82"/><path stroke="#ffa3a3" d="M494 1465h82"/><path stroke="#ff9797" d="M494 1467h82"/><path stroke="#ff9b9b" d="M494 1469h82"/><path stroke="#ff9f9f" d="M494 1471h82"/><path stroke="#ffa9a9" d="M494 1473h82"/><path stroke="#ff9a9a" d="M494 1475h82"/><path stroke="#ffa5a5" d="M494 1477h82"/><path stroke="#ff9a9a" d="M494 1479h82"/><path stroke="#ff9d9d" d="M494 1481h82"/><path stroke="#ffa6a6" d="M494 1483h82"/><path stroke="#ffa2a2" d="M494 1485h82"/><path stroke="#ffa8a8" d="M494 1487h82"/><path stroke="#ffadad" d="M494 1489h82"/><path stroke="#ffa5a5" d="M494 1491h82"/><path stroke="#ffa6a6" d="M494 1493h82"/><path stroke="#ffa7a7" d="M494 1495h82"/><path stroke="#ffa9a9" d="M494 1497h82"/><path stroke="#ffacac" d="M494 1499h82"/><path stroke="#ffa3a3" d="M494 1501h82"/><path stroke="#ffa7a7" d="M494 1503h82"/><path stroke="#ffa4a4" d="M494 1505h82"/><path stroke="#ffa1a1" d="M494 1507h82"/><path stroke="#ffa8a8" d="M494 1509h82"/><path stroke="#ffacac" d="M494 1511h82"/><path stroke="#ffa9a9" d="M494 1513h82"/><path stroke="#ffa4a4" d="M494 1515h82"/><path stroke="#ffa4a4" d="M494 1517h82"/><path stroke="#ffa5a5" d="M494 1519h82"/><path stroke="#ffa6a6" d="M494 1521h82"/><path stroke="#ffa4a4" d="M494 1523h82"/><path stroke="#ff9797" d="M494 1525h82"/><path stroke="#ff9f9f" d="M494 1527h82"/><path stroke="#ffa5a5" d="M494 1529h82"/><path stroke="#ffacac" d="M494 1531h82"/><path stroke="#ff9595" d="M494 1533h82"/><path stroke="#ff8080" d="M494 1535h82"/><path stroke="#ff7676" d="M494 1537h82"/><path stroke="#ff7777" d="M494 1539h82"/><path stroke="#ff7070" d="M494 1541h82"/><path stroke="#ff7676" d="M494 1543h82"/><path stroke="#ff7878" d="M494 1545h82"/><path stroke="#ff7777" d="M494 1547h82"/><path stroke="#ff7575" d="M494 1549h82"/><path stroke="#ff7474" d="M494 1551h82"/><path stroke="#ff7373" d="M494 1553h82"/><path stroke="#ff7d7d" d="M494 1555h82"/><path stroke="#ff7373" d="M494 1557h82"/><path stroke="#ff6d6d" d="M494 1559h82"/><path stroke="#ff7373" d="M494 1561h82"/><path stroke="#ff7272" d="M494 1563h82"/><path stroke="#ff7a7a" d="M494 1565h82"/><path stroke="#ff7777" d="M494 1567h82"/><path stroke="#ff7676" d="M494 1569h82"/><path stroke="#ff7171" d="M494 1571h82"/><path stroke="#ff6d6d" d="M494 1573h82"/><path stroke="#ff6e6e" d="M494 1575h82"/><path stroke="#ff7373" d="M494 1577h82"/><path stroke="#ff7676" d="M494 1579h82"/><path stroke="#ff7c7c" d="M494 1581h82"/><path stroke="#ff6e6e" d="M494 1583h82"/><path stroke="#ff7575" d="M494 1585h82"/><path stroke="#ff7b7b" d="M494 1587h82"/><path stroke="#ff7a7a" d="M494 1589h82"/><path stroke="#ff7d7d" d="M494 1591h82"/><path stroke="#ff6f6f" d="M494 1593h82"/><path stroke="#ff7272" d="M494 1595h82"/><path stroke="#ff7777" d="M494 1597h82"/><path stroke="#ff6e6e" d="M494 1599h82"/><path stroke="#ff7a7a" d="M494 1601h82"/><path stroke="#ff7b7b" d="M494 1603h82"/><path stroke="#ff7272" d="M494 1605h82"/><path stroke="#ff7575" d="M494 1607h82"/><path stroke="#ff7979" d="M494 1609h82"/><path stroke="#ff8787" d="M494 1611h82"/><path stroke="#ff7878" d="M494 1613h82"/><path stroke="#ff7777" d="M494 1615h82"/><path stroke="#ff7171" d="M494 1617h82"/><path stroke="#ff7272" d="M494 1619h82"/><path stroke="#ff7575" d="M494 1621h82"/><path stroke="#ff7575" d="M494 1623h82"/><path stroke="#ff8080" d="M494 1625h82"/><path stroke="#ff8484" d="M494 1627h82"/><path stroke="#ff8383" d="M494 1629h82"/><path stroke="#ff8585" d="M494 1631h82"/><path stroke="#ff8c8c" d="M494 1633h82"/><path stroke="#ff8888" d="M494 1635h82"/><path stroke="#ff8686" d="M494 1637h82"/><path stroke="#ff7e7e" d="M494 1639h82"/><path stroke="#ff8080" d="M494 1641h82"/><path stroke="#ff8282" d="M494 1643h82"/><path stroke="#ff8484" d="M494 1645h82"/><path stroke="#ff7e7e" d="M494 1647h82"/><path stroke="#ff8080" d="M494 1649h82"/><path stroke="#ff8181" d="M494 1651h82"/><path stroke="#ff8989" d="M494 1653h82"/><path stroke="#ff8282" d="M494 1655h82"/><path stroke="#ff8585" d="M494 1657h82"/><path stroke="#ff8181" d="M494 1659h82"/><path stroke="#ff8181" d="M494 1661h82"/><path stroke="#ff7c7c" d="M494 1663h82"/><path stroke="#ff8282" d="M494 1665h82"/><path stroke="#ff8787" d="M494 1667h82"/><path stroke="#ff8585" d="M494 1669h82"/><path stroke="#ff7f7f" d="M494 1671h82"/><path stroke="#ff8888" d="M494 1673h82"/><path stroke="#ff8787" d="M494 1675h82"/><path stroke="#ff8383" d="M494 1677h82"/><path stroke="#ff8888" d="M494 1679h82"/><path stroke="#ff8787" d="M494 1681h82"/><path stroke="#ff8a8a" d="M494 1683h82"/><path stroke="#ff8e8e" d="M494 1685h82"/><path stroke="#ff8787" d="M494 1687h82"/><path stroke="#ff8b8b" d="M494 1689h82"/><path stroke="#ff8686" d="M494 1691h82"/><path stroke="#ff9696" d="M494 1693h82"/><path stroke="#ff8181" d="M494 1695h82"/><path stroke="#ff8383" d="M494 1697h82"/><path stroke="#ff8a8a" d="M494 1699h82"/><path stroke="#ff8989" d="M494 1701h82"/><path stroke="#ff8888" d="M494 1703h82"/><path stroke="#ff8181" d="M494 1705h82"/><path stroke="#ff8787" d="M494 1707h82"/><path stroke="#ff8585" d="M494 1709h82"/><path stroke="#ff8888" d="M494 1711h82"/><path stroke="#ff8484" d="M494 1713h82"/><path stroke="#ff8d8d" d="M494 1715h82"/><path stroke="#ff7d7d" d="M494 1717h82"/><path stroke="#ff7878" d="M494 1719h82"/><path stroke="#ff7979" d="M494 1721h82"/><path stroke="#ff7878" d="M494 1723h82"/><path stroke="#ff7575" d="M494 1725h82"/><path stroke="#ff7373" d="M494 1727h82"/><path stroke="#ff7777" d="M494 1729h82"/><path stroke="#ff7474" d="M494 1731h82"/><path stroke="#ff7676" d="M494 1733h82"/><path stroke="#ff7373" d="M494 1735h82"/><path stroke="#ff6969" d="M494 1737h82"/><path stroke="#ff7a7a" d="M494 1739h82"/><path stroke="#ff7474" d="M494 1741h82"/><path stroke="#ff6b6b" d="M494 1743h82"/><path stroke="#ff8383" d="M494 1745h82"/><path stroke="#ff9090" d="M494 1747h82"/><path stroke="#ff9393" d="M494 1749h82"/><path stroke="#ff8a8a" d="M494 1751h82"/><path stroke="#ff9191" d="M494 1753h82"/><path stroke="#ff8f8f" d="M494 1755h82"/><path stroke="#ff9292" d="M494 1757h82"/><path stroke="#ff9696" d="M494 1759h82"/><path stroke="#ff8e8e" d="M494 1761h82"/><path stroke="#ff7f7f" d="M494 1763h82"/><path stroke="#ff8787" d="M494 1765h82"/><path stroke="#ff9090" d="M494 1767h82"/><path stroke="#ff9090" d="M494 1769h82"/><path stroke="#ff8d8d" d="M494 1771h82"/><path stroke="#ff8b8b" d="M494 1773h82"/><path stroke="#ff9090" d="M494 1775h82"/><path stroke="#ff8c8c" d="M494 1777h82"/><path stroke="#ff8a8a" d="M494 1779h82"/><path stroke="#ff8a8a" d="M494 1781h82"/><path stroke="#ff8a8a" d="M494 1783h82"/><path stroke="#ff8c8c" d="M494 1785h82"/><path stroke="#ff8f8f" d="M494 1787h82"/><path stroke="#ff8888" d="M494 1789h82"/><path stroke="#ffa2a2" d="M494 1791h82"/><path stroke="#ababff" d="M494 1793h82"/><path stroke="#8888ff" d="M494 1795h82"/><path stroke="#8c8cff" d="M494 1797h82"/><path stroke="#8d8dff" d="M494 1799h82"/><path stroke="#8c8cff" d="M494 1801h82"/><path stroke="#7f7fff" d="M494 1803h82"/><path stroke="#7979ff" d="M494 1805h82"/><path stroke="#8383ff" d="M494 1807h82"/><path stroke="#8484ff" d="M494 1809h82"/><path stroke="#7d7dff" d="M494 1811h82"/><path stroke="#8b8bff" d="M494 1813h82"/><path stroke="#8a8aff" d="M494 1815h82"/><path stroke="#8484ff" d="M494 1817h82"/><path stroke="#8686ff" d="M494 1819h82"/><path stroke="#8181ff" d="M494 1821h82"/><path stroke="#8787ff" d="M494 1823h82"/><path stroke="#8282ff" d="M494 1825h82"/><path stroke="#7575ff" d="M494 1827h82"/><path stroke="#6a6aff" d="M494 1829h82"/><path stroke="#6d6dff" d="M494 1831h82"/><path stroke="#7474ff" d="M494 1833h82"/><path stroke="#7777ff" d="M494 1835h82"/><path stroke="#7979ff" d="M494 1837h82"/><path stroke="#7979ff" d="M494 1839h82"/><path stroke="#7575ff" d="M494 1841h82"/><path stroke="#7878ff" d="M494 1843h82"/><path stroke="#7272ff" d="M494 1845h82"/><path stroke="#7777ff" d="M494 1847h82"/><path stroke="#7272ff" d="M494 1849h82"/><path stroke="#7171ff" d="M494 1851h82"/><path stroke="#7777ff" d="M494 1853h82"/><path stroke="#7a7aff" d="M494 1855h82"/><path stroke="#7c7cff" d="M494 1857h82"/><path stroke="#8383ff" d="M494 1859h82"/><path stroke="#7e7eff" d="M494 1861h82"/><path stroke="#7b7bff" d="M494 1863h82"/><path stroke="#7c7cff" d="M494 1865h82"/><path stroke="#8585ff" d="M494 1867h82"/><path stroke="#8d8dff" d="M494 1869h82"/><path stroke="#9595ff" d="M494 1871h82"/><path stroke="#8e8eff" d="M494 1873h82"/><path stroke="#8585ff" d="M494 1875h82"/><path stroke="#8e8eff" d="M494 1877h82"/><path stroke="#8e8eff" d="M494 1879h82"/><path stroke="#9090ff" d="M494 1881h82"/><path stroke="#9393ff" d="M494 1883h82"/><path stroke="#9393ff" d="M494 1885h82"/><path stroke="#8c8cff" d="M494 1887h82"/><path stroke="#8b8bff" d="M494 1889h82"/><path stroke="#8888ff" d="M494 1891h82"/><path stroke="#8686ff" d="M494 1893h82"/><path stroke="#8b8bff" d="M494 1895h82"/><path stroke="#8484ff" d="M494 1897h82"/><path stroke="#8484ff" d="M494 1899h82"/><path stroke="#8d8dff" d="M494 1901h82"/><path stroke="#7171ff" d="M494 1903h82"/><path stroke="#6f6fff" d="M494 1905h82"/><path stroke="#7777ff" d="M494 1907h82"/><path stroke="#7373ff" d="M494 1909h82"/><path stroke="#6e6eff" d="M494 1911h82"/><path stroke="#7171ff" d="M494 1913h82"/><path stroke="#7474ff" d="M494 1915h82"/><path stroke="#7676ff" d="M494 1917h82"/><path stroke="#7d7dff" d="M494 1919h82"/><path stroke="#8484ff" d="M494 1921h82"/><path stroke="#8686ff" d="M494 1923h82"/><path stroke="#8080ff" d="M494 1925h82"/><path stroke="#8989ff" d="M494 1927h82"/><path stroke="#8989ff" d="M494 1929h82"/><path stroke="#8080ff" d="M494 1931h82"/><path stroke="#9797ff" d="M494 1933h82"/><path stroke="#8989ff" d="M494 1935h82"/><path stroke="#8484ff" d="M494 1937h82"/><path stroke="#8888ff" d="M494 1939h82"/><path stroke="#8a8aff" d="M494 1941h82"/><path stroke="#8686ff" d="M494 1943h82"/><path stroke="#8e8eff" d="M494 1945h82"/><path stroke="#8c8cff" d="M494 1947h82"/><path stroke="#8282ff" d="M494 1949h82"/><path stroke="#8282ff" d="M494 1951h82"/><path stroke="#8b8bff" d="M494 1953h82"/><path stroke="#8484ff" d="M494 1955h82"/><path stroke="#8181ff" d="M494 1957h82"/><path stroke="#7a7aff" d="M494 1959h82"/><path stroke="#8484ff" d="M494 1961h82"/><path stroke="#8484ff" d="M494 1963h82"/><path stroke="#8a8aff" d="M494 1965h82"/><path stroke="#8181ff" d="M494 1967h82"/><path stroke="#9090ff" d="M494 1969h82"/><path stroke="#9999ff" d="M494 1971h82"/><path stroke="#9e9eff" d="M494 1973h82"/><path stroke="#9e9eff" d="M494 1975h82"/><path stroke="#9f9fff" d="M494 1977h82"/><path stroke="#9999ff" d="M494 1979h82"/><path stroke="#9d9dff" d="M494 1981h82"/><path stroke="#a0a0ff" d="M494 1983h82"/><path stroke="#9b9bff" d="M494 1985h82"/><path stroke="#a2a2ff" d="M494 1987h82"/><path stroke="#9e9eff" d="M494 1989h82"/><path stroke="#a9a9ff" d="M494 1991h82"/><path stroke="#a8a8ff" d="M494 1993h82"/><path stroke="#a1a1ff" d="M494 1995h82"/><path stroke="#9c9cff" d="M494 1997h82"/><path stroke="#9696ff" d="M494 1999h82"/><path stroke="#9595ff" d="M494 2001h82"/><path stroke="#9a9aff" d="M494 2003h82"/><path stroke="#9595ff" d="M494 2005h82"/><path stroke="#9595ff" d="M494 2007h82"/><path stroke="#9898ff" d="M494 2009h82"/><path stroke="#9c9cff" d="M494 2011h82"/><path stroke="#9595ff" d="M494 2013h82"/><path stroke="#9595ff" d="M494 2015h82"/><path stroke="#9e9eff" d="M494 2017h82"/><path stroke="#9c9cff" d="M494 2019h82"/><path stroke="#9898ff" d="M494 2021h82"/><path stroke="#9393ff" d="M494 2023h82"/><path stroke="#9797ff" d="M494 2025h82"/><path stroke="#8787ff" d="M494 2027h82"/><path stroke="#8f8fff" d="M494 2029h82"/><path stroke="#8d8dff" d="M494 2031h82"/><path stroke="#9090ff" d="M494 2033h82"/><path stroke="#8e8eff" d="M494 2035h82"/><path stroke="#9191ff" d="M494 2037h82"/><path stroke="#9090ff" d="M494 2039h82"/><path stroke="#8e8eff" d="M494 2041h82"/><path stroke="#8e8eff" d="M494 2043h82"/><path stroke="#8d8dff" d="M494 2045h82"/><path stroke="#8f8fff" d="M494 2047h82"/><path stroke="#8d8dff" d="M494 2049h82"/><path stroke="#8d8dff" d="M494 2051h82"/><path stroke="#9090ff" d="M494 2053h82"/><path stroke="#8d8dff" d="M494 2055h82"/><path stroke="#9292ff" d="M494 2057h82"/><path stroke="#9292ff" d="M494 2059h82"/><path stroke="#8a8aff" d="M494 2061h82"/><path stroke="#9595ff" d="M494 2063h82"/><path stroke="#8d8dff" d="M494 2065h82"/><path stroke="#8787ff" d="M494 2067h82"/><path stroke="#8a8aff" d="M494 2069h82"/><path stroke="#8787ff" d="M494 2071h82"/><path stroke="#8b8bff" d="M494 2073h82"/><path stroke="#8f8fff" d="M494 2075h82"/><path stroke="#9191ff" d="M494 2077h82"/><path stroke="#9292ff" d="M494 2079h82"/><path stroke="#7f7fff" d="M494 2081h82"/><path stroke="#8888ff" d="M494 2083h82"/><path stroke="#8686ff" d="M494 2085h82"/><path stroke="#8b8bff" d="M494 2087h82"/><path stroke="#8585ff" d="M494 2089h82"/><path stroke="#8b8bff" d="M494 2091h82"/><path stroke="#8d8dff" d="M494 2093h82"/><path stroke="#9191ff" d="M494 2095h82"/><path stroke="#9393ff" d="M494 2097h82"/><path stroke="#9090ff" d="M494 2099h82"/><path stroke="#8d8dff" d="M494 2101h82"/><path stroke="#8989ff" d="M494 2103h82"/><path stroke="#8b8bff" d="M494 2105h82"/><path stroke="#8585ff" d="M494 2107h82"/><path stroke="#8686ff" d="M494 2109h82"/><path stroke="#7979ff" d="M494 2111h82"/><path stroke="#6c6cff" d="M494 2113h82"/><path stroke="#7b7bff" d="M494 2115h82"/><path stroke="#7979ff" d="M494 2117h82"/><path stroke="#7575ff" d="M494 2119h82"/><path stroke="#7878ff" d="M494 2121h82"/><path stroke="#8181ff" d="M494 2123h82"/><path stroke="#7d7dff" d="M494 2125h82"/><path stroke="#7878ff" d="M494 2127h82"/><path stroke="#7979ff" d="M494 2129h82"/><path stroke="#7b7bff" d="M494 2131h82"/><path stroke="#7474ff" d="M494 2133h82"/><path stroke="#7878ff" d="M494 2135h82"/><path stroke="#7373ff" d="M494 2137h82"/><path stroke="#7171ff" d="M494 2139h82"/><path stroke="#6d6dff" d="M494 2141h82"/><path stroke="#6c6cff" d="M494 2143h82"/><path stroke="#6b6bff" d="M494 2145h82"/><path stroke="#6c6cff" d="M494 2147h82"/><path stroke="#7b7bff" d="M494 2149h82"/><path stroke="#9696ff" d="M494 2151h82"/><path stroke="#a1a1ff" d="M494 2153h82"/><path stroke="#9c9cff" d="M494 2155h82"/><path stroke="#8f8fff" d="M494 2157h82"/><path stroke="#9b9bff" d="M494 2158.5h82"/>
</g>
<path d="M84.2 978V2159M4.1 1282.4H77.6M4.1 1282.4V1970.6H80.4M77.6 1117V1448M77.6 1117H81M77.6 1448H81M80.4 1332V1565M80.4 1332H83M80.4 1565H83M82 1475V1655M82 1030V1200M80.8 1863V2107M82.3 1830V2000M82.8 2010V2150" fill="none" stroke="#000" stroke-width="1.35"/>
<path d="M83.4 1180V1500M83.4 1560V1790M83.4 1900V2140" fill="none" stroke="#000" stroke-width="1.6"/>
<g font-size="5.3">
<text x="578.2" y="981.9">Bnip3</text>
<text x="578.2" y="986.8">Clcn5</text>
<text x="578.2" y="991.7">Spp1</text>
<text x="578.2" y="996.6">Gsdmc</text>
<text x="578.2" y="1001.5">Ctsg</text>
<text x="578.2" y="1006.5">Mrc1</text>
<text x="578.2" y="1011.4">Ccdc125</text>
<text x="578.2" y="1016.3">Tph1</text>
<text x="578.2" y="1021.2">Esp6</text>
<text x="578.2" y="1026.1">Cd55</text>
<text x="578.2" y="1031">Zfp658</text>
<text x="578.2" y="1035.9">Aldh3b1</text>
<text x="578.2" y="1040.8">Cracr2a</text>
<text x="578.2" y="1045.8">Mcpt2</text>
<text x="578.2" y="1050.7">Adam11</text>
<text x="578.2" y="1055.6">Dnase1l1</text>
<text x="578.2" y="1060.5">Hmga2</text>
<text x="578.2" y="1065.4">Nrg1b</text>
<text x="578.2" y="1070.3">Malt1</text>
<text x="578.2" y="1075.2">Prtg</text>
<text x="578.2" y="1080.1">Mcpt-ps1</text>
<text x="578.2" y="1085.1">Pag1</text>
<text x="578.2" y="1090">Ppl2</text>
<text class="b" x="578.2" y="1094.9">Timp1</text>
<text x="578.2" y="1099.8">Alpk1</text>
<text x="578.2" y="1104.7">Hck</text>
<text x="578.2" y="1109.6">Ptpro</text>
<text x="578.2" y="1114.5">Cxcl2</text>
<text class="b" x="578.2" y="1119.4">Csf1r</text>
<text x="578.2" y="1124.3">Nr2c2</text>
<text x="578.2" y="1129.3">Lrrc8c</text>
<text x="578.2" y="1134.2">Myf6</text>
<text x="578.2" y="1139.1">Nln1</text>
<text x="578.2" y="1144">H2-Q2</text>
<text x="578.2" y="1148.9">Egfl8</text>
<text x="578.2" y="1153.8">Tpsab1</text>
<text x="578.2" y="1158.7">Prcp</text>
<text x="578.2" y="1163.6">Cd80</text>
<text x="578.2" y="1168.6">Nlrp6</text>
<text x="578.2" y="1173.5">Mknk1</text>
<text x="578.2" y="1178.4">Fcrlb</text>
<text x="578.2" y="1183.3">Kcn12</text>
<text class="b" x="578.2" y="1188.2">Art1</text>
<text x="578.2" y="1193.1">Gm16576</text>
<text x="578.2" y="1198">Il1r2</text>
<text x="578.2" y="1202.9">Gper1</text>
<text x="578.2" y="1207.9">Rgs14</text>
<text x="578.2" y="1212.8">Cpa3</text>
<text x="578.2" y="1217.7">Klk8</text>
<text x="578.2" y="1222.6">Ints6l</text>
<text x="578.2" y="1227.5">Rogdi</text>
<text x="578.2" y="1232.4">Adamts15</text>
<text class="b" x="578.2" y="1237.3">Hgn</text>
<text x="578.2" y="1242.2">Nlrp1a</text>
<text x="578.2" y="1247.1">Alkbh8</text>
<text x="578.2" y="1252.1">Igfbp3</text>
<text x="578.2" y="1257">Nup210</text>
<text class="b" x="578.2" y="1261.9">Grap2</text>
<text x="578.2" y="1266.8">Ablim2</text>
<text x="578.2" y="1271.7">Gprc5a</text>
<text x="578.2" y="1276.6">Cd8a</text>
<text x="578.2" y="1281.5">Dntt</text>
<text x="578.2" y="1286.4">LOC101055843</text>
<text x="578.2" y="1291.4">Tmem182</text>
<text x="578.2" y="1296.3">Mir186</text>
<text x="578.2" y="1301.2">Blm</text>
<text x="578.2" y="1306.1">Klhl38</text>
<text x="578.2" y="1311">Mylk2</text>
<text x="578.2" y="1315.9">Eef1a2</text>
<text x="578.2" y="1320.8">Kmo</text>
<text x="578.2" y="1325.7">Nuf2</text>
<text x="578.2" y="1330.7">Mmel1</text>
<text x="578.2" y="1335.6">Lrrc30</text>
<text x="578.2" y="1340.5">Prdm1</text>
<text x="578.2" y="1345.4">Cd3g</text>
<text x="578.2" y="1350.3">Cd96</text>
<text x="578.2" y="1355.2">Ccnl</text>
<text x="578.2" y="1360.1">Lat</text>
<text x="578.2" y="1365">Arl4c</text>
<text x="578.2" y="1369.9">Itgb7</text>
<text x="578.2" y="1374.9">Ccna2</text>
<text x="578.2" y="1379.8">Kif20a</text>
<text x="578.2" y="1384.7">Prc1</text>
<text x="578.2" y="1389.6">Ppp1r3a</text>
<text x="578.2" y="1394.5">Rpl3l</text>
<text x="578.2" y="1399.4">Myom1</text>
<text x="578.2" y="1404.3">Myh8</text>
<text x="578.2" y="1409.2">H2-Q4</text>
<text x="578.2" y="1414.2">9330175E14Rik</text>
<text x="578.2" y="1419.1">Polq2</text>
<text x="578.2" y="1424">Sell</text>
<text x="578.2" y="1428.9">Bin2</text>
<text x="578.2" y="1433.8">H2-D1</text>
<text class="b" x="578.2" y="1438.7">Il1rl1</text>
<text x="578.2" y="1443.6">Il12rb1</text>
<text x="578.2" y="1448.5">Il12rb2</text>
<text x="578.2" y="1453.5">Sprr3</text>
<text x="578.2" y="1458.4">Bcl2l14</text>
<text x="578.2" y="1463.3">Adgrg5</text>
<text x="578.2" y="1468.2">Gm9537</text>
<text x="578.2" y="1473.1">Bora</text>
<text x="578.2" y="1478">Cxcr5</text>
<text x="578.2" y="1482.9">Wdr18</text>
<text x="578.2" y="1487.8">A930024E05Rik</text>
<text x="578.2" y="1492.7">Pmaip1</text>
<text x="578.2" y="1497.7">Cnr2</text>
<text x="578.2" y="1502.6">Crebrf</text>
<text x="578.2" y="1507.5">Cd53</text>
<text class="b" x="578.2" y="1512.4">Dynap</text>
<text x="578.2" y="1517.3">Rgs2</text>
<text x="578.2" y="1522.2">Acap1</text>
<text x="578.2" y="1527.1">Mir3064</text>
<text x="578.2" y="1532">Il7r</text>
<text x="578.2" y="1537">Hpse</text>
<text x="578.2" y="1541.9">Nrros</text>
<text x="578.2" y="1546.8">Tyrobp</text>
<text x="578.2" y="1551.7">Clec4e</text>
<text x="578.2" y="1556.6">Hp</text>
<text x="578.2" y="1561.5">Lrrc15</text>
<text x="578.2" y="1566.4">Spink5</text>
<text x="578.2" y="1571.3">Ccnf</text>
<text x="578.2" y="1576.3">Fsd2</text>
<text x="578.2" y="1581.2">Ppp1r18</text>
<text x="578.2" y="1586.1">H2-DMb1</text>
<text x="578.2" y="1591">Ms4a7</text>
<text x="578.2" y="1595.9">Matk</text>
<text x="578.2" y="1600.8">Tlr1</text>
<text x="578.2" y="1605.7">Syk</text>
<text x="578.2" y="1610.6">C3ar1</text>
<text x="578.2" y="1615.5">Ndc80</text>
<text x="578.2" y="1620.5">Adora2a</text>
<text x="578.2" y="1625.4">Klrc5b</text>
<text x="578.2" y="1630.3">Cxcr2</text>
<text x="578.2" y="1635.2">Klhl24</text>
<text x="578.2" y="1640.1">Tnfaip8l2</text>
<text x="578.2" y="1645">Hepacam2</text>
<text class="b" x="578.2" y="1649.9">Trim64</text>
<text x="578.2" y="1654.8">Htr7</text>
<text x="578.2" y="1659.8">Cyp27a1</text>
<text x="578.2" y="1664.7">Rassf2</text>
<text x="578.2" y="1669.6">Gramd1a</text>
<text class="b" x="578.2" y="1674.5">Ccr9</text>
<text x="578.2" y="1679.4">Slc15a3</text>
<text x="578.2" y="1684.3">Lcp2</text>
<text x="578.2" y="1689.2">Ctss</text>
<text x="578.2" y="1694.1">Kcnj10</text>
<text x="578.2" y="1699.1">Elf4</text>
<text x="578.2" y="1704">Nfkbie</text>
<text x="578.2" y="1708.9">Klhl3</text>
<text x="578.2" y="1713.8">Tlf2</text>
<text x="578.2" y="1718.7">Gpr162</text>
<text x="578.2" y="1723.6">Csf3r</text>
<text x="578.2" y="1728.5">Evi2a</text>
<text x="578.2" y="1733.4">9530028I04Rik</text>
<text x="578.2" y="1738.3">Tbxas1</text>
<text x="578.2" y="1743.3">Gpr137b-ps</text>
<text x="578.2" y="1748.2">Ccdc88c</text>
<text x="578.2" y="1753.1">Cd74</text>
<text x="578.2" y="1758">Arhgap45</text>
<text x="578.2" y="1762.9">Gpr68</text>
<text x="578.2" y="1767.8">Kif20b</text>
<text x="578.2" y="1772.7">Smc2</text>
<text x="578.2" y="1777.6">Hcst</text>
<text x="578.2" y="1782.6">Dnah8</text>
<text x="578.2" y="1787.5">Rinl</text>
<text x="578.2" y="1792.4">Gm10575</text>
<text x="578.2" y="1797.3">Mt2</text>
<text x="578.2" y="1802.2">Slc6a9</text>
<text x="578.2" y="1807.1">Cyp4a12b</text>
<text x="578.2" y="1812">Tmem238</text>
<text x="578.2" y="1816.9">Kif26a</text>
<text x="578.2" y="1821.9">Spaca1</text>
<text x="578.2" y="1826.8">Reln</text>
<text x="578.2" y="1831.7">Cbln1</text>
<text x="578.2" y="1836.6">Dagl1</text>
<text x="578.2" y="1841.5">Isl2</text>
<text x="578.2" y="1846.4">Epha1</text>
<text x="578.2" y="1851.3">Txnrd3</text>
<text x="578.2" y="1856.2">Ppp1r1b</text>
<text x="578.2" y="1861.1">Apod</text>
<text x="578.2" y="1866.1">Sectm1b</text>
<text x="578.2" y="1871">B3gnt3</text>
<text x="578.2" y="1875.9">Pbp2</text>
<text x="578.2" y="1880.8">Ace2</text>
<text x="578.2" y="1885.7">Slc16a1</text>
<text x="578.2" y="1890.6">Insig1</text>
<text x="578.2" y="1895.5">Hpcal4</text>
<text x="578.2" y="1900.4">Grin1os</text>
<text x="578.2" y="1905.4">Upk1b</text>
<text x="578.2" y="1910.3">Ces1d</text>
<text x="578.2" y="1915.2">1190028D05Rik</text>
<text x="578.2" y="1920.1">Cldn3</text>
<text x="578.2" y="1925">Gli1</text>
<text x="578.2" y="1929.9">Slc2a10</text>
<text x="578.2" y="1934.8">Mt1</text>
<text x="578.2" y="1939.7">A830036E02Rik</text>
<text x="578.2" y="1944.7">Smoc2</text>
<text x="578.2" y="1949.6">Slc35f2</text>
<text x="578.2" y="1954.5">Pcolce</text>
<text x="578.2" y="1959.4">Angptl7</text>
<text x="578.2" y="1964.3">Adamdec1</text>
<text x="578.2" y="1969.2">Col2a1</text>
<text x="578.2" y="1974.1">Exoc3l2</text>
<text x="578.2" y="1979">Krt15</text>
<text x="578.2" y="1983.9">Serpinf1</text>
<text x="578.2" y="1988.9">Itih2</text>
<text x="578.2" y="1993.8">Col6a1</text>
<text x="578.2" y="1998.7">Fkbp9</text>
<text x="578.2" y="2003.6">Col1a1</text>
<text x="578.2" y="2008.5">Dbp</text>
<text x="578.2" y="2013.4">Gpr153</text>
<text x="578.2" y="2018.3">Lipt1</text>
<text x="578.2" y="2023.2">Spef1</text>
<text x="578.2" y="2028.2">Nupr1</text>
<text x="578.2" y="2033.1">Loxl1</text>
<text x="578.2" y="2038">Catsper4</text>
<text x="578.2" y="2042.9">Ldlr</text>
<text x="578.2" y="2047.8">Nlgn3</text>
<text x="578.2" y="2052.7">Mlx</text>
<text x="578.2" y="2057.6">Rac3</text>
<text x="578.2" y="2062.5">Zc2hc1c</text>
<text x="578.2" y="2067.5">Sydet</text>
<text x="578.2" y="2072.4">Armh4</text>
<text x="578.2" y="2077.3">Ndn</text>
<text x="578.2" y="2082.2">Camsap3</text>
<text x="578.2" y="2087.1">Npdc1</text>
<text x="578.2" y="2092">Lrrn1</text>
<text x="578.2" y="2096.9">BC034090</text>
<text x="578.2" y="2101.8">Itih5</text>
<text x="578.2" y="2106.7">Gdnf</text>
<text x="578.2" y="2111.7">Pawlos1</text>
<text x="578.2" y="2116.6">Pcp4</text>
<text x="578.2" y="2121.5">Ccdc149</text>
<text x="578.2" y="2126.4">Cldn2</text>
<text x="578.2" y="2131.3">Necab2</text>
<text x="578.2" y="2136.2">Me3</text>
<text x="578.2" y="2141.1">Slc16a2</text>
<text x="578.2" y="2146">Adgrv1</text>
<text x="578.2" y="2151">Pdlf</text>
<text x="578.2" y="2155.9">Slc7a3</text>
<text x="578.2" y="2160.8">Rnf183</text>
</g>
<text x="632" y="1096.5" font-size="22">Pecam1</text>
<text x="632" y="1121" font-size="22">IL12a</text>
<text x="631.6" y="1150.3" font-size="22">Cd80</text>
<text x="630.3" y="1175" font-size="22">Il1β</text>
<text x="632" y="1195" font-size="22">Vegfa</text>
<text x="634" y="1302.3" font-size="22">Cd8a</text>
<text font-size="24.6" transform="translate(634.8 1444.6) scale(.9 1)">Il2ra</text>
<text font-size="24.6" transform="translate(631.2 1466.3) scale(.9 1)">Ctla4</text>
<text font-size="24.6" transform="translate(631.8 1515) scale(.9 1)">Ifng</text>
<text font-size="24.6" transform="translate(628.9 1652.9) scale(.9 1)">CD4</text>
<text font-size="24.6" transform="translate(630 1680.3) scale(.9 1)">Ptprc</text>
<text font-size="24.6" transform="translate(629.6 1725.5) scale(.9 1)">Cd86</text>
<text font-size="24.6" transform="translate(634.2 1798.1) scale(.9 1)">Il10</text>
<path d="M604.5 1090.2L627 1090.2M604.5 1114.8L627 1114.8M603.6 1161.8L623 1147.5M603.6 1183.3L623.4 1168.6M604.5 1188L627 1188M605 1296.8L627 1296.8M604.5 1438.5L627 1438.5M604.5 1454.2L627 1454.2M604.5 1507.4L627 1507.4M604.3 1645.5L626.8 1645.5M604.3 1674.2L626.8 1674.2M604.3 1718L626.8 1718M605.4 1791.4L627.9 1791.4" stroke="#000" stroke-width="1.3" fill="none"/>
<text class="b" font-size="23.4" text-anchor="middle" transform="translate(646.3 1595.5) rotate(-90)">Genes</text>
<text class="b" font-size="19.4" x="150" y="2206.8">Anti-CD80/86</text>
<text class="b" font-size="19.4" x="420" y="2206.8">Control</text>
</g>
<g id="panel-c">
<text class="b" x="790.5" y="874.8" font-size="40" style="fill:#231815">c</text>
<path d="M867.6 933V1935.8M1059 933V1935.8M1250.4 933V1935.8M1441.8 933V1935.8M811.1 1891H1611.3M811.1 1603.5H1611.3M811.1 1316H1611.3M811.1 1028.5H1611.3M811.1 933V1935.8H1611.3M867.6 1935.8v5M1059 1935.8v5M1250.4 1935.8v5M1441.8 1935.8v5M811.1 1891h-4.5M811.1 1603.5h-4.5M811.1 1316h-4.5M811.1 1028.5h-4.5" fill="none" stroke="#c9c9c9" stroke-width="1.5"/>
<text x="821" y="1816" font-size="17" style="fill:#f3a01e">Threshold</text>
<defs><clipPath id="cpc"><rect x="811.1" y="928" width="800.2" height="1007.8"/></clipPath></defs>
<g clip-path="url(#cpc)" fill="#478b0b" fill-opacity=".5" stroke="#000" stroke-opacity=".92" stroke-width="1.05"><circle cx="1505.4" cy="979.3" r="41.4"/><circle cx="935.3" cy="1248.2" r="38"/><circle cx="1573.8" cy="1326.5" r="47"/><circle cx="1567.5" cy="1348" r="47.5"/><circle cx="1569.9" cy="1349.5" r="48"/><circle cx="1382.5" cy="1369.9" r="46"/><circle cx="1513.3" cy="1406" r="51"/><circle cx="1295.7" cy="1466" r="21.7"/><circle cx="1413.4" cy="1528.2" r="25.6"/><circle cx="1340.4" cy="1537.4" r="24.3"/><circle cx="1314" cy="1564.4" r="20.4"/><circle cx="1336.4" cy="1596.6" r="20.4"/><circle cx="1210.8" cy="1609.1" r="36.2"/><circle cx="1318.7" cy="1619" r="19.7"/><circle cx="1276" cy="1636.7" r="21.7"/><circle cx="1351" cy="1637" r="21.5"/><circle cx="1228.6" cy="1638" r="19.7"/><circle cx="1318.7" cy="1663" r="49"/><circle cx="1268" cy="1668" r="14"/><circle cx="1314.8" cy="1668.6" r="20"/><circle cx="1306.7" cy="1669.3" r="21"/><circle cx="1320.7" cy="1671.6" r="21"/><circle cx="1330.7" cy="1672" r="21"/><circle cx="1342" cy="1673" r="20"/><circle cx="1334.6" cy="1673.9" r="21"/><circle cx="1345" cy="1676" r="24"/><circle cx="1363.6" cy="1677.6" r="21"/><circle cx="1363.6" cy="1677.6" r="21"/><circle cx="1364.8" cy="1678.5" r="22"/><circle cx="1373" cy="1680" r="21"/><circle cx="1383.4" cy="1681.8" r="23"/><circle cx="1370.4" cy="1682" r="19"/><circle cx="1409" cy="1691.6" r="27"/><circle cx="1448.5" cy="1693.9" r="33.5"/><circle cx="1300" cy="1694" r="8.4"/><circle cx="1271.3" cy="1694" r="9.2"/><circle cx="1251.7" cy="1695.4" r="14.9"/><circle cx="1291.6" cy="1697" r="10.4"/><circle cx="1210.5" cy="1697.1" r="31.6"/><circle cx="1174.2" cy="1697.1" r="29.3"/><circle cx="1290.3" cy="1697.6" r="11.3"/><circle cx="1247.5" cy="1697.7" r="12"/><circle cx="1262.6" cy="1700" r="13.5"/><circle cx="1286" cy="1700" r="20"/><circle cx="1192.8" cy="1701.8" r="15"/><circle cx="1297.8" cy="1703.2" r="15.5"/><circle cx="1301.7" cy="1703.6" r="8.2"/><circle cx="1306.7" cy="1704.4" r="15.3"/><circle cx="1291.5" cy="1705" r="8.9"/><circle cx="1300" cy="1705" r="22"/><circle cx="1286.8" cy="1706.8" r="10"/><circle cx="1269.2" cy="1707.3" r="10.6"/><circle cx="1288.1" cy="1707.6" r="8.3"/><circle cx="1275.6" cy="1709" r="8.5"/><circle cx="1280.8" cy="1710" r="7.8"/><circle cx="1284.7" cy="1710.2" r="10.2"/><circle cx="1272.7" cy="1711.3" r="15.8"/><circle cx="1278.4" cy="1711.4" r="13.2"/><circle cx="1286.1" cy="1712.2" r="10.5"/><circle cx="1268.5" cy="1712.9" r="10.1"/><circle cx="1276.4" cy="1713.3" r="8.3"/><circle cx="1279.4" cy="1713.4" r="12.3"/><circle cx="1257.9" cy="1713.4" r="39.5"/><circle cx="1257.8" cy="1714.5" r="8.2"/><circle cx="1274.8" cy="1714.8" r="8"/><circle cx="1256.6" cy="1714.9" r="9.2"/><circle cx="1168" cy="1716" r="10"/><circle cx="1301.6" cy="1716.2" r="10.1"/><circle cx="1299.9" cy="1716.9" r="14.1"/><circle cx="1299.1" cy="1717.1" r="9.1"/><circle cx="1164.9" cy="1718" r="13"/><circle cx="1261.3" cy="1718.8" r="12.7"/><circle cx="1299.3" cy="1718.9" r="11.2"/><circle cx="1278.2" cy="1720" r="12.3"/><circle cx="1296.3" cy="1720" r="11.7"/><circle cx="1275" cy="1722" r="20"/><circle cx="1248.1" cy="1722.4" r="13.7"/><circle cx="1307.8" cy="1724.3" r="15"/><circle cx="1290.5" cy="1725" r="13.4"/><circle cx="1337" cy="1725" r="28.8"/><circle cx="1306.1" cy="1726.1" r="9.6"/><circle cx="1278.4" cy="1728.3" r="13.4"/><circle cx="1251" cy="1728.7" r="11.7"/><circle cx="1307.8" cy="1728.8" r="14.7"/><circle cx="1141.7" cy="1729.7" r="22"/><circle cx="1280.6" cy="1729.8" r="15.7"/><circle cx="1220.5" cy="1730" r="11.9"/><circle cx="1254.9" cy="1730.4" r="13.3"/><circle cx="1299.6" cy="1730.9" r="9.3"/><circle cx="1234.7" cy="1732.1" r="7.4"/><circle cx="1281.2" cy="1732.2" r="9"/><circle cx="1306.6" cy="1732.4" r="9.8"/><circle cx="1234.8" cy="1732.7" r="13.2"/><circle cx="1286" cy="1732.8" r="13"/><circle cx="1320.6" cy="1732.9" r="16"/><circle cx="1286.5" cy="1733.4" r="9.7"/><circle cx="1260.5" cy="1733.7" r="14.8"/><circle cx="1232.8" cy="1734.4" r="12.5"/><circle cx="1266.9" cy="1734.9" r="8.4"/><circle cx="1298.9" cy="1735.8" r="11.4"/><circle cx="1198.8" cy="1738.1" r="12.7"/><circle cx="1244.1" cy="1738.5" r="12.8"/><circle cx="1304.2" cy="1739" r="15.3"/><circle cx="1299.8" cy="1739" r="18.6"/><circle cx="1059" cy="1739" r="16"/><circle cx="1083.6" cy="1739" r="13"/><circle cx="1274.8" cy="1739.1" r="10"/><circle cx="1292.4" cy="1740.8" r="15.3"/><circle cx="1276.4" cy="1741" r="9.2"/><circle cx="1296.3" cy="1741.3" r="9"/><circle cx="1333.3" cy="1741.5" r="20"/><circle cx="1314.2" cy="1741.5" r="14"/><circle cx="1272.2" cy="1741.7" r="14.1"/><circle cx="1209.1" cy="1742.4" r="11.4"/><circle cx="1291.6" cy="1742.6" r="15"/><circle cx="1286.7" cy="1743.9" r="10.4"/><circle cx="1330.2" cy="1744.4" r="22"/><circle cx="1217.3" cy="1745.3" r="13.9"/><circle cx="1290.3" cy="1746.4" r="13.5"/><circle cx="1232" cy="1747" r="19.9"/><circle cx="1210" cy="1747.4" r="12.4"/><circle cx="1092.9" cy="1750.6" r="21"/><circle cx="1226.9" cy="1750.6" r="12.5"/><circle cx="1243.7" cy="1751" r="19.7"/><circle cx="1205.9" cy="1751.1" r="11.1"/><circle cx="1165.2" cy="1751.2" r="13.3"/><circle cx="1192.3" cy="1751.3" r="12"/><circle cx="1180.9" cy="1751.4" r="9.6"/><circle cx="1246.1" cy="1751.4" r="15.1"/><circle cx="1242.7" cy="1752.1" r="15.4"/><circle cx="1165.8" cy="1752.7" r="13.9"/><circle cx="1333.3" cy="1753" r="24"/><circle cx="1200.7" cy="1753.8" r="7.4"/><circle cx="1254.4" cy="1753.8" r="10.2"/><circle cx="1244.1" cy="1754.1" r="14"/><circle cx="1268.9" cy="1754.1" r="16.2"/><circle cx="1173" cy="1754.7" r="13"/><circle cx="1099.9" cy="1755.3" r="28"/><circle cx="1215.7" cy="1755.5" r="15.8"/><circle cx="1157.8" cy="1755.6" r="12.6"/><circle cx="1175" cy="1756" r="11.2"/><circle cx="1194.3" cy="1756.4" r="11"/><circle cx="1293" cy="1757.6" r="17.2"/><circle cx="1297.3" cy="1758.1" r="16.5"/><circle cx="1293.4" cy="1758.1" r="16.9"/><circle cx="1327" cy="1758.8" r="18"/><circle cx="1174.2" cy="1759.6" r="10.3"/><circle cx="1172.4" cy="1759.7" r="13.6"/><circle cx="1339.3" cy="1759.9" r="25.6"/><circle cx="1206.3" cy="1761.5" r="12"/><circle cx="846.5" cy="1762.2" r="14.9"/><circle cx="1224.8" cy="1762.6" r="16.7"/><circle cx="1258.8" cy="1763.1" r="17.3"/><circle cx="1182.2" cy="1763.5" r="13.3"/><circle cx="1154.3" cy="1764.5" r="10.2"/><circle cx="1336.5" cy="1764.5" r="21"/><circle cx="1243.4" cy="1764.9" r="10.3"/><circle cx="1149.5" cy="1765.5" r="9.4"/><circle cx="1241.3" cy="1766.2" r="15.4"/><circle cx="1148.8" cy="1767" r="14"/><circle cx="1217" cy="1767.2" r="15.4"/><circle cx="1246.3" cy="1767.7" r="12.9"/><circle cx="1215.4" cy="1768.7" r="12.9"/><circle cx="1178.1" cy="1768.8" r="13.7"/><circle cx="1151.5" cy="1768.9" r="9.9"/><circle cx="1335" cy="1769" r="22"/><circle cx="1163" cy="1769" r="12.4"/><circle cx="862.8" cy="1769.2" r="14"/><circle cx="1138.1" cy="1769.2" r="9.3"/><circle cx="1201.6" cy="1769.5" r="12.2"/><circle cx="1239.2" cy="1769.9" r="8.8"/><circle cx="1245" cy="1770" r="8.4"/><circle cx="1119.2" cy="1770.1" r="10.3"/><circle cx="1236.2" cy="1770.7" r="11.2"/><circle cx="1209.1" cy="1770.7" r="12.9"/><circle cx="1279.1" cy="1770.8" r="20"/><circle cx="1222.9" cy="1770.8" r="15.7"/><circle cx="1209.2" cy="1771.1" r="17"/><circle cx="1260.6" cy="1771.1" r="18.5"/><circle cx="873.5" cy="1771.5" r="17.7"/><circle cx="1153" cy="1771.5" r="12.6"/><circle cx="1255.5" cy="1771.7" r="11.7"/><circle cx="1235.5" cy="1771.9" r="19.1"/><circle cx="1255.2" cy="1772.1" r="15.1"/><circle cx="1110" cy="1772.2" r="11.9"/><circle cx="1231.9" cy="1772.5" r="19.1"/><circle cx="1115.7" cy="1772.6" r="8.6"/><circle cx="1275.1" cy="1772.8" r="11.5"/><circle cx="1199.8" cy="1772.9" r="16.1"/><circle cx="871" cy="1773" r="11"/><circle cx="1211.4" cy="1773.9" r="16.1"/><circle cx="1185.9" cy="1774.3" r="11.4"/><circle cx="1224.2" cy="1775.6" r="13.3"/><circle cx="1113" cy="1776.4" r="10.2"/><circle cx="1143.5" cy="1776.7" r="17.2"/><circle cx="1212.7" cy="1777.1" r="8.9"/><circle cx="1258.5" cy="1777.5" r="14.5"/><circle cx="1194.2" cy="1777.9" r="14.6"/><circle cx="1231.7" cy="1777.9" r="13"/><circle cx="1172.5" cy="1777.9" r="9.9"/><circle cx="1173.6" cy="1778.6" r="19.4"/><circle cx="1135.2" cy="1780.1" r="19.8"/><circle cx="1121.8" cy="1780.7" r="11.4"/><circle cx="1162.6" cy="1780.9" r="9.6"/><circle cx="1147.6" cy="1781.6" r="14.8"/><circle cx="1314.2" cy="1781.8" r="20"/><circle cx="1081.6" cy="1782" r="7.1"/><circle cx="1164.6" cy="1782.1" r="9.8"/><circle cx="1188.2" cy="1782.1" r="11.7"/><circle cx="1244.9" cy="1782.3" r="8.3"/><circle cx="1085.6" cy="1783.5" r="9.2"/><circle cx="1148.3" cy="1783.6" r="17.2"/><circle cx="1184" cy="1783.7" r="19.1"/><circle cx="1189.6" cy="1783.8" r="13.5"/><circle cx="1121.3" cy="1784.2" r="8.4"/><circle cx="1280.6" cy="1784.2" r="9.6"/><circle cx="1132.4" cy="1784.3" r="11.7"/><circle cx="1122.1" cy="1784.3" r="11.2"/><circle cx="1286.8" cy="1784.6" r="14.5"/><circle cx="1097.3" cy="1784.6" r="10.5"/><circle cx="1097.1" cy="1785.2" r="13.1"/><circle cx="1198.9" cy="1785.3" r="19"/><circle cx="1196.2" cy="1785.3" r="13.5"/><circle cx="1270.2" cy="1785.3" r="13.4"/><circle cx="1237.5" cy="1785.6" r="11.4"/><circle cx="1239.5" cy="1785.9" r="15"/><circle cx="1250.8" cy="1786" r="9.5"/><circle cx="1244.1" cy="1786.3" r="8"/><circle cx="1208.8" cy="1786.9" r="16.3"/><circle cx="1156.3" cy="1787" r="13.3"/><circle cx="1138.5" cy="1787.1" r="12.4"/><circle cx="1197.9" cy="1787.9" r="10.1"/><circle cx="1079.4" cy="1787.9" r="9.4"/><circle cx="1262.6" cy="1789" r="17.7"/><circle cx="1112.6" cy="1789.3" r="10"/><circle cx="1070.3" cy="1789.4" r="8.9"/><circle cx="1137" cy="1789.8" r="17.6"/><circle cx="1152.2" cy="1790.1" r="11.7"/><circle cx="1104.9" cy="1790.5" r="9.2"/><circle cx="1154.2" cy="1790.8" r="17.7"/><circle cx="1110.9" cy="1790.8" r="12.3"/><circle cx="1080.1" cy="1790.8" r="13.8"/><circle cx="1130.1" cy="1791.3" r="18.6"/><circle cx="1091.6" cy="1791.4" r="16.8"/><circle cx="1255.8" cy="1792.2" r="12.1"/><circle cx="1073.8" cy="1792.3" r="8.3"/><circle cx="1175.2" cy="1792.4" r="13.3"/><circle cx="900" cy="1792.5" r="17.7"/><circle cx="1181" cy="1792.7" r="18.9"/><circle cx="1181.7" cy="1792.8" r="12.1"/><circle cx="1223.3" cy="1792.9" r="19.5"/><circle cx="1244.9" cy="1793.3" r="9.8"/><circle cx="1327" cy="1793.3" r="22"/><circle cx="1132.3" cy="1793.4" r="19"/><circle cx="1247.9" cy="1793.6" r="16.9"/><circle cx="1217.4" cy="1794" r="14"/><circle cx="1093.5" cy="1794.1" r="15.7"/><circle cx="1277.1" cy="1794.4" r="12.1"/><circle cx="1296.1" cy="1794.6" r="9.4"/><circle cx="1166" cy="1794.6" r="17.6"/><circle cx="951.1" cy="1794.8" r="19.5"/><circle cx="1214.1" cy="1795.1" r="9.4"/><circle cx="1098.7" cy="1795.5" r="11.8"/><circle cx="1295.5" cy="1796.4" r="15.9"/><circle cx="1089.4" cy="1796.4" r="10.8"/><circle cx="1097.4" cy="1796.8" r="10.4"/><circle cx="1065.7" cy="1797.1" r="19.2"/><circle cx="1264.3" cy="1797.5" r="12.7"/><circle cx="1161.9" cy="1798" r="18.3"/><circle cx="1201.2" cy="1798" r="10"/><circle cx="1173.4" cy="1798.1" r="11"/><circle cx="1268.9" cy="1798.3" r="18.9"/><circle cx="1200.2" cy="1798.9" r="10.5"/><circle cx="1307.8" cy="1799" r="18"/><circle cx="1232" cy="1799.2" r="17.1"/><circle cx="1290.2" cy="1799.3" r="10.8"/><circle cx="1202.8" cy="1799.6" r="19.7"/><circle cx="1137.5" cy="1799.7" r="15.7"/><circle cx="1251.7" cy="1800.1" r="10.7"/><circle cx="1163.5" cy="1800.2" r="20"/><circle cx="1096" cy="1800.6" r="18.4"/><circle cx="1177.3" cy="1801.3" r="13"/><circle cx="1129" cy="1801.6" r="11.6"/><circle cx="1124.9" cy="1801.8" r="9.7"/><circle cx="1135.1" cy="1801.9" r="15.7"/><circle cx="1090.8" cy="1802" r="19.9"/><circle cx="1193.3" cy="1802.4" r="9.9"/><circle cx="1260.5" cy="1802.4" r="14.5"/><circle cx="1185.1" cy="1803" r="10.4"/><circle cx="1148.7" cy="1803.1" r="9.1"/><circle cx="1243.1" cy="1803.2" r="20"/><circle cx="1178.7" cy="1803.2" r="15.9"/><circle cx="1092.2" cy="1803.5" r="13.9"/><circle cx="1225.5" cy="1803.5" r="16"/><circle cx="1122.9" cy="1803.5" r="19"/><circle cx="1096.8" cy="1804" r="15.2"/><circle cx="1087.4" cy="1804.2" r="16"/><circle cx="1210.5" cy="1804.5" r="16.6"/><circle cx="1253.9" cy="1804.6" r="13.2"/><circle cx="1160.9" cy="1804.9" r="10"/><circle cx="1195.6" cy="1805.2" r="10.6"/><circle cx="1113.4" cy="1805.9" r="19"/><circle cx="1108.7" cy="1806.5" r="10.1"/><circle cx="1268.5" cy="1806.5" r="17.8"/><circle cx="1103.7" cy="1806.7" r="17.7"/><circle cx="1276.5" cy="1806.7" r="10.5"/><circle cx="1107.9" cy="1807" r="15.1"/><circle cx="1091" cy="1807.1" r="11.8"/><circle cx="1103.2" cy="1807.2" r="18.1"/><circle cx="1147" cy="1807.2" r="16.4"/><circle cx="1149.5" cy="1808" r="8.6"/><circle cx="1249" cy="1808.1" r="14.9"/><circle cx="1125.8" cy="1808.2" r="12.9"/><circle cx="1077.4" cy="1808.2" r="17"/><circle cx="1190.7" cy="1808.3" r="9"/><circle cx="1137.4" cy="1808.3" r="19"/><circle cx="1263.5" cy="1808.3" r="8.4"/><circle cx="1149" cy="1808.4" r="16.4"/><circle cx="1169.5" cy="1808.7" r="18.5"/><circle cx="1138" cy="1808.7" r="17.4"/><circle cx="1153.1" cy="1808.8" r="9.9"/><circle cx="1121.6" cy="1808.9" r="19.9"/><circle cx="1231.2" cy="1809" r="8.8"/><circle cx="1099.3" cy="1809.4" r="14.1"/><circle cx="1173.5" cy="1809.5" r="8.6"/><circle cx="1090.7" cy="1809.5" r="10.2"/><circle cx="1278" cy="1809.6" r="15.1"/><circle cx="1139.5" cy="1810.2" r="17.4"/><circle cx="1114.1" cy="1810.9" r="11.2"/><circle cx="1201" cy="1811" r="15.6"/><circle cx="1164.7" cy="1811" r="19.7"/><circle cx="1094.1" cy="1811.3" r="14.4"/><circle cx="1239.9" cy="1811.3" r="16.3"/><circle cx="1249.9" cy="1811.4" r="17.6"/><circle cx="1261.7" cy="1811.4" r="13.9"/><circle cx="1067.6" cy="1811.4" r="10.4"/><circle cx="1234.7" cy="1811.8" r="18.8"/><circle cx="1072.7" cy="1811.9" r="12.9"/><circle cx="1256.9" cy="1812" r="12.3"/><circle cx="1030" cy="1812" r="13"/><circle cx="1113.7" cy="1812.1" r="13.4"/><circle cx="1108.2" cy="1812.2" r="9"/><circle cx="1265.1" cy="1812.4" r="17.1"/><circle cx="1166.5" cy="1812.8" r="15.2"/><circle cx="973" cy="1813" r="11"/><circle cx="1294.9" cy="1813" r="9.2"/><circle cx="1088.6" cy="1813" r="11.7"/><circle cx="1097.9" cy="1813.2" r="17"/><circle cx="1121.3" cy="1813.2" r="14.2"/><circle cx="1180" cy="1813.2" r="19.4"/><circle cx="1213.6" cy="1813.3" r="8.3"/><circle cx="1167.1" cy="1813.5" r="9.2"/><circle cx="1205.2" cy="1814.2" r="8"/><circle cx="1188.4" cy="1814.2" r="15.4"/><circle cx="1077.6" cy="1814.2" r="14.6"/><circle cx="1235.3" cy="1814.3" r="11.3"/><circle cx="1119.1" cy="1814.7" r="9.1"/><circle cx="1197.3" cy="1815" r="17.7"/><circle cx="1082.6" cy="1815.6" r="9.2"/><circle cx="938.5" cy="1815.7" r="19.5"/><circle cx="1003.6" cy="1815.7" r="14.9"/><circle cx="1200.5" cy="1815.8" r="18.8"/><circle cx="1075.4" cy="1816.1" r="12.8"/><circle cx="1184" cy="1816.1" r="17.8"/><circle cx="1251.9" cy="1816.2" r="10.9"/><circle cx="1258.7" cy="1816.4" r="18.2"/><circle cx="1145.5" cy="1816.4" r="18.8"/><circle cx="1232.9" cy="1816.6" r="19.2"/><circle cx="1275.9" cy="1816.6" r="8.1"/><circle cx="1035.3" cy="1816.8" r="15.7"/><circle cx="1051.4" cy="1817" r="17.7"/><circle cx="1105.8" cy="1817.1" r="11"/><circle cx="1047.2" cy="1817.2" r="17.6"/><circle cx="1084" cy="1817.2" r="19.2"/><circle cx="1290.7" cy="1817.3" r="11.2"/><circle cx="1357.6" cy="1817.4" r="17.5"/><circle cx="1011.4" cy="1817.4" r="17.5"/><circle cx="1351.5" cy="1817.5" r="28.4"/><circle cx="1163.6" cy="1817.6" r="12.3"/><circle cx="1012.1" cy="1817.6" r="14.4"/><circle cx="1273.2" cy="1817.6" r="19.1"/><circle cx="1074.7" cy="1817.7" r="9.1"/><circle cx="1177.5" cy="1817.7" r="9.9"/><circle cx="1012.6" cy="1817.7" r="9.4"/><circle cx="1220" cy="1817.7" r="14.2"/><circle cx="1120.3" cy="1817.8" r="19.3"/><circle cx="1231.2" cy="1818" r="16.1"/><circle cx="1034.3" cy="1818.1" r="12.9"/><circle cx="1288.1" cy="1818.1" r="11.2"/><circle cx="1084.7" cy="1818.2" r="15.2"/><circle cx="1131.4" cy="1818.3" r="9.2"/><circle cx="1211.7" cy="1818.3" r="17.1"/><circle cx="1345.3" cy="1818.6" r="15.8"/><circle cx="1076.6" cy="1818.6" r="17.9"/><circle cx="1285.1" cy="1818.6" r="9.4"/><circle cx="1121.1" cy="1818.6" r="11.1"/><circle cx="1291.2" cy="1818.6" r="9.3"/><circle cx="1109.9" cy="1818.6" r="10.1"/><circle cx="1133.8" cy="1818.8" r="18.2"/><circle cx="1079.1" cy="1818.8" r="17.7"/><circle cx="1001.3" cy="1818.8" r="7.3"/><circle cx="1149.4" cy="1818.8" r="8.8"/><circle cx="1014.6" cy="1818.8" r="9.8"/><circle cx="1128.8" cy="1818.9" r="17.2"/><circle cx="1160.2" cy="1818.9" r="9.8"/><circle cx="1156.8" cy="1818.9" r="17.8"/><circle cx="1091.9" cy="1819.1" r="8.3"/><circle cx="1123" cy="1819.1" r="11.6"/><circle cx="1077.9" cy="1819.3" r="11.8"/><circle cx="1080.6" cy="1819.5" r="16.1"/><circle cx="1084.5" cy="1819.5" r="14.5"/><circle cx="1116.6" cy="1819.6" r="10.4"/><circle cx="1153" cy="1819.8" r="19.4"/><circle cx="1219.4" cy="1819.8" r="14.5"/><circle cx="1104.7" cy="1819.9" r="7.9"/><circle cx="1325.1" cy="1820.1" r="11.8"/><circle cx="1282.5" cy="1820.2" r="19.5"/><circle cx="1153.4" cy="1820.2" r="14.1"/><circle cx="1033.1" cy="1820.4" r="13.2"/><circle cx="1211.8" cy="1820.6" r="15.3"/><circle cx="1070.6" cy="1820.7" r="19.3"/><circle cx="1126.1" cy="1820.9" r="18.8"/><circle cx="1275.4" cy="1820.9" r="15.4"/><circle cx="1148.1" cy="1820.9" r="14.4"/><circle cx="1008.2" cy="1821.1" r="7.7"/><circle cx="1242.9" cy="1821.1" r="9.1"/><circle cx="1111.9" cy="1821.2" r="8.1"/><circle cx="1135.2" cy="1821.2" r="14.1"/><circle cx="1242.3" cy="1821.2" r="14.7"/><circle cx="1074.8" cy="1821.3" r="19.4"/><circle cx="1179.4" cy="1821.3" r="10.2"/><circle cx="1218.8" cy="1821.4" r="27.3"/><circle cx="1024" cy="1821.4" r="6.6"/><circle cx="1075.5" cy="1821.4" r="13"/><circle cx="1103.6" cy="1821.5" r="12.3"/><circle cx="1076.8" cy="1821.5" r="9.2"/><circle cx="1084.2" cy="1821.5" r="10.8"/><circle cx="1139.8" cy="1821.5" r="9.9"/><circle cx="1199.5" cy="1821.5" r="11.4"/><circle cx="1067.9" cy="1821.6" r="9.7"/><circle cx="1087.8" cy="1821.7" r="9.9"/><circle cx="1108.6" cy="1821.7" r="14.4"/><circle cx="1024.2" cy="1821.7" r="14.9"/><circle cx="1272.8" cy="1821.7" r="18.4"/><circle cx="1146.1" cy="1821.8" r="10.5"/><circle cx="994.6" cy="1821.9" r="13.1"/><circle cx="1211.6" cy="1821.9" r="16"/><circle cx="1157.6" cy="1822" r="8.1"/><circle cx="1180" cy="1822" r="8.6"/><circle cx="1190.7" cy="1822.1" r="14.8"/><circle cx="1050.9" cy="1823.2" r="16.4"/><circle cx="1102.8" cy="1823.3" r="15.9"/><circle cx="1252" cy="1823.6" r="16.2"/><circle cx="1245.5" cy="1823.7" r="18.9"/><circle cx="1236.6" cy="1824.1" r="15.9"/><circle cx="1004.4" cy="1825" r="13.6"/><circle cx="1011.2" cy="1825.1" r="14.5"/><circle cx="1027" cy="1825.2" r="18.2"/><circle cx="1341.6" cy="1825.7" r="25"/><circle cx="1325.7" cy="1825.8" r="13"/><circle cx="1048.4" cy="1825.9" r="6.7"/><circle cx="1306.7" cy="1826.2" r="23.8"/><circle cx="1161.1" cy="1826.4" r="22.4"/><circle cx="1308.1" cy="1826.5" r="20"/><circle cx="1128.6" cy="1826.7" r="9"/><circle cx="987.6" cy="1827" r="14.6"/><circle cx="1246.7" cy="1827.1" r="23.9"/><circle cx="1006.8" cy="1827.2" r="7.4"/><circle cx="1163.4" cy="1827.3" r="10"/><circle cx="886" cy="1827.3" r="22.3"/><circle cx="1105.9" cy="1827.6" r="15.2"/><circle cx="1136.5" cy="1827.7" r="12.8"/><circle cx="975" cy="1828" r="9"/><circle cx="1218.1" cy="1829.2" r="21.9"/><circle cx="1314" cy="1829.4" r="18.2"/><circle cx="1265.7" cy="1829.7" r="22"/><circle cx="1321.7" cy="1830.1" r="12.2"/><circle cx="1046.9" cy="1830.2" r="11.1"/><circle cx="1239.5" cy="1830.3" r="23.7"/><circle cx="1354" cy="1830.4" r="20"/><circle cx="1056" cy="1830.4" r="12.1"/><circle cx="1172.8" cy="1830.5" r="10.5"/><circle cx="1208.4" cy="1830.6" r="8"/><circle cx="1181" cy="1831.1" r="8.9"/><circle cx="1166.3" cy="1831.2" r="9.3"/><circle cx="1096.5" cy="1831.2" r="16.9"/><circle cx="1125" cy="1831.6" r="15.3"/><circle cx="969" cy="1832" r="8.4"/><circle cx="1084.8" cy="1832.1" r="8.4"/><circle cx="1256.4" cy="1832.1" r="28.5"/><circle cx="949.7" cy="1833.2" r="7.7"/><circle cx="1255.9" cy="1833.4" r="11.4"/><circle cx="1134.5" cy="1833.5" r="16.6"/><circle cx="1270.4" cy="1833.8" r="19.9"/><circle cx="1224.2" cy="1833.9" r="10.3"/><circle cx="1223.1" cy="1834" r="14.4"/><circle cx="1185.9" cy="1834" r="14.7"/><circle cx="1061.7" cy="1834.2" r="18.5"/><circle cx="1188.2" cy="1834.7" r="16.8"/><circle cx="944.2" cy="1834.9" r="12.3"/><circle cx="1193.1" cy="1835.1" r="9.6"/><circle cx="1124.9" cy="1835.3" r="14.4"/><circle cx="1114.1" cy="1835.9" r="16.7"/><circle cx="945.9" cy="1836" r="12.7"/><circle cx="1211.9" cy="1836.5" r="25.1"/><circle cx="979.3" cy="1836.5" r="10.8"/><circle cx="1086.8" cy="1836.6" r="13"/><circle cx="1266.8" cy="1836.9" r="23.9"/><circle cx="992.2" cy="1837" r="16"/><circle cx="1076.5" cy="1837.2" r="7.1"/><circle cx="1336.4" cy="1837.3" r="19.1"/><circle cx="1017.8" cy="1837.6" r="6.9"/><circle cx="1078.2" cy="1837.6" r="10.8"/><circle cx="961.3" cy="1837.6" r="5.9"/><circle cx="1173.6" cy="1837.7" r="16.9"/><circle cx="1161.3" cy="1837.8" r="14.4"/><circle cx="1160.7" cy="1838" r="19.8"/><circle cx="1199.3" cy="1838.1" r="21.9"/><circle cx="1058.8" cy="1838.5" r="17.8"/><circle cx="1096" cy="1838.5" r="8.4"/><circle cx="1094.7" cy="1838.9" r="14.3"/><circle cx="1309.8" cy="1839.5" r="11.9"/><circle cx="1155.6" cy="1839.7" r="12.6"/><circle cx="1212.1" cy="1839.7" r="9"/><circle cx="1307.2" cy="1839.7" r="28.2"/><circle cx="1170.1" cy="1839.7" r="11"/><circle cx="1343.7" cy="1839.9" r="23.3"/><circle cx="1105.1" cy="1840.3" r="17.4"/><circle cx="1155.8" cy="1840.4" r="10.8"/><circle cx="1338.6" cy="1840.7" r="18.9"/><circle cx="1023.8" cy="1840.8" r="11.9"/><circle cx="1125.3" cy="1840.9" r="17.2"/><circle cx="1193.6" cy="1841.1" r="21.1"/><circle cx="1219.2" cy="1841.3" r="17.7"/><circle cx="1211" cy="1841.3" r="16"/><circle cx="1086.7" cy="1841.4" r="6.2"/><circle cx="1295.9" cy="1841.6" r="15.3"/><circle cx="1067.7" cy="1841.7" r="11.2"/><circle cx="1152.8" cy="1841.8" r="11.9"/><circle cx="1262.8" cy="1841.8" r="27.4"/><circle cx="967.2" cy="1841.8" r="5.4"/><circle cx="1241.7" cy="1842" r="18.3"/><circle cx="1344.9" cy="1842.1" r="27.9"/><circle cx="1092.1" cy="1842.2" r="17.1"/><circle cx="1291.4" cy="1842.2" r="60.1"/><circle cx="1283.3" cy="1842.2" r="59.8"/><circle cx="1322.4" cy="1842.2" r="57.2"/><circle cx="1299.5" cy="1842.2" r="56.1"/><circle cx="1284.7" cy="1842.2" r="55.8"/><circle cx="1283.9" cy="1842.2" r="54.7"/><circle cx="1296.6" cy="1842.2" r="50.8"/><circle cx="1260.1" cy="1842.2" r="50.3"/><circle cx="1299.4" cy="1842.2" r="44.4"/><circle cx="1273.1" cy="1842.2" r="43.5"/><circle cx="1226.8" cy="1842.2" r="39.5"/><circle cx="1278.3" cy="1842.2" r="36.7"/><circle cx="1319.3" cy="1842.2" r="36.5"/><circle cx="1301.3" cy="1842.2" r="33.8"/><circle cx="1334.7" cy="1842.2" r="32.7"/><circle cx="1270.4" cy="1842.2" r="31.7"/><circle cx="1273.3" cy="1842.2" r="31.4"/><circle cx="1302.4" cy="1842.2" r="31.2"/><circle cx="1298.8" cy="1842.2" r="30.5"/><circle cx="1307.8" cy="1842.2" r="30.1"/><circle cx="1325.9" cy="1842.3" r="20.7"/><circle cx="918.4" cy="1842.3" r="8.5"/><circle cx="1334.4" cy="1842.3" r="46.1"/><circle cx="1201.8" cy="1842.6" r="10.8"/><circle cx="923.9" cy="1842.8" r="11"/><circle cx="1190.7" cy="1842.8" r="9.4"/><circle cx="1069" cy="1842.8" r="11.3"/><circle cx="1134.2" cy="1843.1" r="16.8"/><circle cx="1069.2" cy="1843.3" r="11.9"/><circle cx="1335" cy="1843.3" r="13.2"/><circle cx="1298.6" cy="1843.8" r="24.6"/><circle cx="1262.6" cy="1844" r="51.2"/><circle cx="1150.3" cy="1844" r="16"/><circle cx="1188.5" cy="1844.2" r="14.4"/><circle cx="956.7" cy="1844.4" r="13.7"/><circle cx="1077.7" cy="1844.5" r="7.2"/><circle cx="1210.7" cy="1844.9" r="11.3"/><circle cx="1208.3" cy="1845.1" r="24"/><circle cx="974.5" cy="1845.2" r="9.9"/><circle cx="1311.5" cy="1845.3" r="35.7"/><circle cx="1241.7" cy="1845.7" r="32.3"/><circle cx="975.5" cy="1845.8" r="6.5"/><circle cx="1150.5" cy="1846.2" r="18.8"/><circle cx="1345" cy="1846.3" r="25.5"/><circle cx="1279.2" cy="1846.5" r="15.4"/><circle cx="1003.7" cy="1846.7" r="10.2"/><circle cx="980.8" cy="1846.9" r="12"/><circle cx="1249.5" cy="1847.3" r="39.8"/><circle cx="1157.2" cy="1847.5" r="11"/><circle cx="1031.4" cy="1847.7" r="14.4"/><circle cx="1033" cy="1847.7" r="10.3"/><circle cx="1103.4" cy="1847.8" r="13.8"/><circle cx="1228" cy="1848" r="28.1"/><circle cx="1317.7" cy="1848" r="17.6"/><circle cx="1325.6" cy="1848" r="20.9"/><circle cx="1344" cy="1848.2" r="23.8"/><circle cx="941.5" cy="1848.6" r="8.4"/><circle cx="1264.7" cy="1848.8" r="10.1"/><circle cx="1249.3" cy="1848.9" r="25.7"/><circle cx="922.1" cy="1848.9" r="5.3"/><circle cx="1170.5" cy="1849" r="10.1"/><circle cx="1103.4" cy="1849" r="14.2"/><circle cx="912.4" cy="1849.4" r="8.5"/><circle cx="1159.6" cy="1849.4" r="8.7"/><circle cx="1077.9" cy="1849.6" r="11.4"/><circle cx="1158.1" cy="1849.7" r="8.4"/><circle cx="1016.1" cy="1849.8" r="13.7"/><circle cx="1076.1" cy="1849.8" r="18"/><circle cx="1106.9" cy="1849.8" r="13"/><circle cx="1019.6" cy="1849.9" r="9.4"/><circle cx="1293.7" cy="1850" r="54.8"/><circle cx="940.2" cy="1850.1" r="12"/><circle cx="1080.6" cy="1850.2" r="6.9"/><circle cx="1219" cy="1850.2" r="18.2"/><circle cx="1121.7" cy="1850.2" r="8.8"/><circle cx="1335.8" cy="1850.3" r="26.5"/><circle cx="995.5" cy="1850.3" r="6.2"/><circle cx="1282.2" cy="1850.5" r="14.1"/><circle cx="1257.9" cy="1850.5" r="49"/><circle cx="878.1" cy="1850.6" r="14"/><circle cx="988" cy="1850.6" r="16.3"/><circle cx="912.8" cy="1850.9" r="9.4"/><circle cx="1335.1" cy="1851" r="12.4"/><circle cx="925.3" cy="1851" r="7"/><circle cx="1292.2" cy="1851" r="21.2"/><circle cx="1181.4" cy="1851.1" r="13.7"/><circle cx="1202.5" cy="1851.3" r="10.3"/><circle cx="1147.4" cy="1851.4" r="16.2"/><circle cx="1159.4" cy="1851.6" r="19.4"/><circle cx="1154.6" cy="1851.6" r="18.6"/><circle cx="1280.2" cy="1851.8" r="23.3"/><circle cx="917.3" cy="1851.8" r="12.3"/><circle cx="1163.8" cy="1851.8" r="17.1"/><circle cx="902.1" cy="1852.1" r="7.9"/><circle cx="1098.5" cy="1852.2" r="10.7"/><circle cx="1308.3" cy="1852.2" r="26.7"/><circle cx="1064.9" cy="1852.4" r="15.4"/><circle cx="1101.6" cy="1852.6" r="12.8"/><circle cx="1346.3" cy="1852.9" r="24.5"/><circle cx="1410.4" cy="1852.9" r="28.8"/><circle cx="1206.7" cy="1853" r="15.6"/><circle cx="1131.4" cy="1853.1" r="19.9"/><circle cx="913.5" cy="1853.2" r="8"/><circle cx="1297.4" cy="1853.3" r="24.8"/><circle cx="920.4" cy="1853.3" r="13.6"/><circle cx="1142" cy="1853.6" r="7.4"/><circle cx="1259.7" cy="1853.6" r="20.9"/><circle cx="1032.9" cy="1853.7" r="14.6"/><circle cx="1013.1" cy="1854" r="15.3"/><circle cx="1319.3" cy="1854.1" r="46.4"/><circle cx="1067.3" cy="1854.3" r="14.6"/><circle cx="1083.4" cy="1854.5" r="14.2"/><circle cx="942.7" cy="1854.6" r="13.1"/><circle cx="1135.9" cy="1855" r="11.3"/><circle cx="1123.4" cy="1855" r="17.3"/><circle cx="1186.1" cy="1855" r="13.4"/><circle cx="1145.6" cy="1855.2" r="10"/><circle cx="1313.1" cy="1855.5" r="35"/><circle cx="1076.1" cy="1855.6" r="8.5"/><circle cx="934.7" cy="1855.7" r="12.7"/><circle cx="1241.2" cy="1855.7" r="44.8"/><circle cx="1295.5" cy="1855.7" r="25.3"/><circle cx="1202.5" cy="1855.8" r="17.6"/><circle cx="1286.5" cy="1856" r="22.3"/><circle cx="1328.5" cy="1856.1" r="17.5"/><circle cx="1164.3" cy="1856.2" r="17"/><circle cx="1084.5" cy="1856.7" r="7.3"/><circle cx="920.4" cy="1856.7" r="11.8"/><circle cx="904.3" cy="1856.9" r="8.9"/><circle cx="919.6" cy="1856.9" r="12.2"/><circle cx="1145.3" cy="1857.1" r="16.4"/><circle cx="1315.8" cy="1857.1" r="24.4"/><circle cx="1142" cy="1857.3" r="7.9"/><circle cx="1070.4" cy="1857.3" r="14.7"/><circle cx="1028" cy="1857.4" r="12.4"/><circle cx="1057.5" cy="1857.4" r="7.3"/><circle cx="1004.3" cy="1857.5" r="14.5"/><circle cx="1250.5" cy="1857.6" r="25.2"/><circle cx="1018.1" cy="1857.7" r="13.6"/><circle cx="1002.3" cy="1857.8" r="14"/><circle cx="1088" cy="1857.8" r="18.3"/><circle cx="1295.5" cy="1857.8" r="24.3"/><circle cx="1277.1" cy="1857.9" r="22"/><circle cx="1245.8" cy="1857.9" r="11.3"/><circle cx="1183.7" cy="1858.1" r="22.7"/><circle cx="1067" cy="1858.2" r="13.6"/><circle cx="979" cy="1858.2" r="7.5"/><circle cx="1133" cy="1858.3" r="8.8"/><circle cx="1132.7" cy="1858.5" r="11.2"/><circle cx="1180.8" cy="1858.6" r="22.5"/><circle cx="1079.7" cy="1858.6" r="12.1"/><circle cx="1141.5" cy="1858.6" r="12.3"/><circle cx="915.5" cy="1858.7" r="9.3"/><circle cx="1006.2" cy="1858.9" r="10.7"/><circle cx="935" cy="1858.9" r="10.6"/><circle cx="1083.4" cy="1859" r="12.2"/><circle cx="1112.8" cy="1859" r="17.6"/><circle cx="1194.3" cy="1859.1" r="21"/><circle cx="1250" cy="1859.2" r="20.6"/><circle cx="1052.8" cy="1859.5" r="9"/><circle cx="1113.8" cy="1859.6" r="17.9"/><circle cx="1053.3" cy="1859.7" r="7"/><circle cx="1173.2" cy="1859.8" r="7"/><circle cx="1337.3" cy="1859.8" r="61.5"/><circle cx="945.8" cy="1860.1" r="5.5"/><circle cx="938.5" cy="1860.1" r="12.3"/><circle cx="1306.2" cy="1860.2" r="43.5"/><circle cx="1329.4" cy="1860.2" r="27"/><circle cx="909.4" cy="1860.2" r="8.1"/><circle cx="1285.1" cy="1860.5" r="43.8"/><circle cx="1227.7" cy="1860.5" r="26.1"/><circle cx="1300.3" cy="1860.7" r="25.2"/><circle cx="1327.5" cy="1860.7" r="58.3"/><circle cx="1241.1" cy="1860.8" r="59.5"/><circle cx="1056.3" cy="1860.9" r="18.6"/><circle cx="1248.6" cy="1861.2" r="23.7"/><circle cx="1314.6" cy="1861.4" r="50.6"/><circle cx="1083.2" cy="1861.5" r="16.7"/><circle cx="1198.5" cy="1861.9" r="15.6"/><circle cx="1172.2" cy="1861.9" r="12.2"/><circle cx="1078.3" cy="1862" r="17.4"/><circle cx="1307.5" cy="1862.1" r="15.1"/><circle cx="1070.7" cy="1862.1" r="8.6"/><circle cx="1126.7" cy="1862.1" r="10.4"/><circle cx="989.8" cy="1862.2" r="13.7"/><circle cx="1069.5" cy="1862.3" r="15.4"/><circle cx="1268.6" cy="1862.6" r="20.9"/><circle cx="1175.1" cy="1862.6" r="10.5"/><circle cx="1020.5" cy="1862.7" r="12"/><circle cx="988.5" cy="1862.8" r="18.3"/><circle cx="1128.1" cy="1862.8" r="10.1"/><circle cx="1065.9" cy="1862.8" r="7.8"/><circle cx="1156" cy="1863" r="18.9"/><circle cx="1193.3" cy="1863" r="19.8"/><circle cx="1345.7" cy="1863.2" r="18.1"/><circle cx="1175" cy="1863.2" r="11"/><circle cx="1032.3" cy="1863.3" r="8"/><circle cx="1013.4" cy="1863.4" r="12"/><circle cx="1331.8" cy="1863.4" r="20.5"/><circle cx="1104.7" cy="1863.4" r="16.2"/><circle cx="1175.7" cy="1863.4" r="15.8"/><circle cx="1180" cy="1863.4" r="9.1"/><circle cx="1152.4" cy="1863.5" r="20.7"/><circle cx="1150" cy="1863.6" r="14.4"/><circle cx="1073.6" cy="1863.6" r="14.9"/><circle cx="914.3" cy="1863.7" r="7.7"/><circle cx="966.8" cy="1863.7" r="13.8"/><circle cx="1267.5" cy="1863.9" r="21.3"/><circle cx="959.3" cy="1863.9" r="11.7"/><circle cx="1206.2" cy="1864" r="18.8"/><circle cx="917.8" cy="1864.1" r="9.8"/><circle cx="1154.2" cy="1864.2" r="11.4"/><circle cx="1192" cy="1864.4" r="8.5"/><circle cx="932.6" cy="1864.4" r="6.8"/><circle cx="1142.2" cy="1864.5" r="11.5"/><circle cx="1197" cy="1864.6" r="7.9"/><circle cx="1347.3" cy="1864.6" r="11.7"/><circle cx="1047.2" cy="1864.7" r="7.8"/><circle cx="1256.3" cy="1864.7" r="27.3"/><circle cx="1357.9" cy="1864.7" r="28.4"/><circle cx="1238.3" cy="1864.9" r="22.9"/><circle cx="1027" cy="1865.1" r="9.1"/><circle cx="1313.3" cy="1865.2" r="47.2"/><circle cx="1068.1" cy="1865.2" r="16.9"/><circle cx="1305.6" cy="1865.3" r="31.6"/><circle cx="1210.4" cy="1865.4" r="22.3"/><circle cx="1193" cy="1865.4" r="22.7"/><circle cx="929.3" cy="1865.4" r="5.2"/><circle cx="1277.4" cy="1865.4" r="31.7"/><circle cx="956.2" cy="1865.6" r="13.7"/><circle cx="1215.2" cy="1865.6" r="7.3"/><circle cx="1350.9" cy="1865.7" r="11"/><circle cx="1060.6" cy="1865.7" r="14.8"/><circle cx="938.9" cy="1865.7" r="9"/><circle cx="1025.5" cy="1865.8" r="12.2"/><circle cx="1352.1" cy="1865.9" r="30.1"/><circle cx="1069.6" cy="1865.9" r="7.8"/><circle cx="1114.7" cy="1865.9" r="12.3"/><circle cx="1347.4" cy="1866.1" r="24.9"/><circle cx="1291.9" cy="1866.2" r="19.9"/><circle cx="1057.8" cy="1866.2" r="9"/><circle cx="1227.4" cy="1866.2" r="25.7"/><circle cx="1314.3" cy="1866.4" r="29.7"/><circle cx="1100.9" cy="1866.6" r="12.9"/><circle cx="1248.5" cy="1866.6" r="23.5"/><circle cx="961.7" cy="1866.6" r="9.8"/><circle cx="1208.5" cy="1866.7" r="8.9"/><circle cx="1035.1" cy="1866.9" r="11.3"/><circle cx="1325.3" cy="1866.9" r="31.6"/><circle cx="951.4" cy="1867.2" r="8.2"/><circle cx="1032.1" cy="1867.2" r="18.8"/><circle cx="1288.6" cy="1867.3" r="16.9"/><circle cx="985.2" cy="1867.7" r="11.3"/><circle cx="989.5" cy="1867.8" r="9.9"/><circle cx="1049.6" cy="1867.8" r="6"/><circle cx="1307.7" cy="1867.9" r="52.2"/><circle cx="1250" cy="1868.1" r="50"/><circle cx="1077" cy="1868.1" r="15.5"/><circle cx="970.6" cy="1868.1" r="12.8"/><circle cx="1304" cy="1868.1" r="26.7"/><circle cx="1016.3" cy="1868.2" r="16"/><circle cx="1264.7" cy="1868.2" r="10.5"/><circle cx="1308" cy="1868.3" r="12.6"/><circle cx="1211" cy="1868.5" r="21.4"/><circle cx="1085" cy="1868.8" r="11.3"/><circle cx="1166.7" cy="1868.9" r="13.9"/><circle cx="1338.2" cy="1868.9" r="53.7"/><circle cx="1093.9" cy="1869.1" r="15.1"/><circle cx="878.1" cy="1869.2" r="13"/><circle cx="1095.4" cy="1869.3" r="10.2"/><circle cx="1111.3" cy="1869.4" r="8.6"/><circle cx="1337.1" cy="1869.4" r="19.1"/><circle cx="1263" cy="1869.6" r="54.4"/><circle cx="1321.9" cy="1869.6" r="17.3"/><circle cx="1098.6" cy="1869.7" r="7.8"/><circle cx="979" cy="1869.7" r="5"/><circle cx="1219.5" cy="1869.8" r="17.4"/><circle cx="1071.5" cy="1869.8" r="17.6"/><circle cx="1043" cy="1869.9" r="17.4"/><circle cx="948" cy="1870.2" r="6"/><circle cx="1234.5" cy="1870.3" r="24.4"/><circle cx="1286.5" cy="1870.3" r="28.1"/><circle cx="1263.9" cy="1870.4" r="60.5"/><circle cx="1232.4" cy="1870.5" r="11.5"/><circle cx="1085.1" cy="1870.7" r="6.4"/><circle cx="1021.7" cy="1870.7" r="13.2"/><circle cx="1113.4" cy="1870.8" r="10.3"/><circle cx="939.9" cy="1870.8" r="12.5"/><circle cx="1184" cy="1870.8" r="16.6"/><circle cx="1295.1" cy="1870.8" r="15.4"/><circle cx="1086.6" cy="1870.8" r="7.5"/><circle cx="1017.2" cy="1870.9" r="14.8"/><circle cx="954.5" cy="1870.9" r="8.7"/><circle cx="1112.6" cy="1871" r="9.1"/><circle cx="1356.2" cy="1871.1" r="18.4"/><circle cx="1317.6" cy="1871.2" r="19.7"/><circle cx="1020.8" cy="1871.2" r="13.3"/><circle cx="1273.9" cy="1871.3" r="16.4"/><circle cx="1165.3" cy="1871.4" r="18.2"/><circle cx="1062.9" cy="1871.4" r="10.7"/><circle cx="1091.7" cy="1871.6" r="13.3"/><circle cx="927.2" cy="1871.7" r="9.1"/><circle cx="1232.2" cy="1871.8" r="13.7"/><circle cx="1099.9" cy="1871.9" r="9.8"/><circle cx="1208.2" cy="1871.9" r="16.2"/><circle cx="1225.5" cy="1871.9" r="51.2"/><circle cx="1114.8" cy="1872" r="15.9"/><circle cx="904.1" cy="1872.1" r="9.1"/><circle cx="1342.4" cy="1872.1" r="40"/><circle cx="1009.9" cy="1872.2" r="6.7"/><circle cx="1021.2" cy="1872.2" r="15.9"/><circle cx="1089" cy="1872.3" r="16.8"/><circle cx="1130.2" cy="1872.3" r="18.5"/><circle cx="1003.8" cy="1872.4" r="11.6"/><circle cx="1346.1" cy="1872.5" r="22.9"/><circle cx="1289.8" cy="1872.6" r="22"/><circle cx="1152.8" cy="1872.6" r="14.1"/><circle cx="1275.7" cy="1872.6" r="13.5"/><circle cx="1174" cy="1872.8" r="14.5"/><circle cx="1223.8" cy="1872.8" r="8.7"/><circle cx="1138.7" cy="1873.2" r="12.1"/><circle cx="967.9" cy="1873.5" r="7.2"/><circle cx="1337.2" cy="1873.5" r="21.2"/><circle cx="1113.7" cy="1873.6" r="15.1"/><circle cx="932.2" cy="1873.6" r="6"/><circle cx="900.6" cy="1873.7" r="9.1"/><circle cx="1133.3" cy="1874" r="10.3"/><circle cx="997.5" cy="1874.2" r="8.2"/><circle cx="1354.9" cy="1874.2" r="13"/><circle cx="1000.5" cy="1874.3" r="18.4"/><circle cx="1022.7" cy="1874.3" r="10.5"/><circle cx="1143.1" cy="1874.4" r="17.7"/><circle cx="995.3" cy="1874.4" r="6.3"/><circle cx="895.4" cy="1874.4" r="10.9"/><circle cx="1110.9" cy="1874.6" r="14.8"/><circle cx="1283.2" cy="1874.6" r="24"/><circle cx="1202.1" cy="1874.7" r="17"/><circle cx="1117.1" cy="1874.7" r="18.6"/><circle cx="909.5" cy="1874.7" r="9.6"/><circle cx="1189.8" cy="1874.7" r="18.6"/><circle cx="1332.5" cy="1874.7" r="23.3"/><circle cx="1229.1" cy="1874.9" r="24.3"/><circle cx="1299.2" cy="1874.9" r="13.8"/><circle cx="1092.4" cy="1875" r="6.4"/><circle cx="1060.2" cy="1875.1" r="18"/><circle cx="1011.9" cy="1875.1" r="12"/><circle cx="1013.7" cy="1875.3" r="8.7"/><circle cx="1322.5" cy="1875.3" r="33"/><circle cx="1263.4" cy="1875.3" r="10.3"/><circle cx="1302.9" cy="1875.4" r="56.6"/><circle cx="1169.2" cy="1875.5" r="12.4"/><circle cx="1159.8" cy="1875.5" r="12.4"/><circle cx="1068" cy="1875.5" r="11.8"/><circle cx="1132.6" cy="1875.7" r="16.5"/><circle cx="1246" cy="1875.7" r="11.7"/><circle cx="961" cy="1875.7" r="7.5"/><circle cx="1020.7" cy="1875.7" r="8.7"/><circle cx="1271.1" cy="1875.8" r="24.4"/><circle cx="1039.7" cy="1875.8" r="15.3"/><circle cx="1078.5" cy="1875.9" r="6"/><circle cx="1234" cy="1875.9" r="56.7"/><circle cx="1184.1" cy="1876" r="15.8"/><circle cx="1167.1" cy="1876" r="13.8"/><circle cx="1250.9" cy="1876" r="23.9"/><circle cx="1267.7" cy="1876.1" r="24.1"/><circle cx="1052.6" cy="1876.1" r="10.3"/><circle cx="1029" cy="1876.2" r="16.4"/><circle cx="1076.4" cy="1876.2" r="8.3"/><circle cx="1183.5" cy="1876.2" r="22.5"/><circle cx="1308.2" cy="1876.2" r="45.4"/><circle cx="1270.8" cy="1876.5" r="31.5"/><circle cx="1223.2" cy="1876.6" r="7.4"/><circle cx="1242.8" cy="1876.8" r="46.9"/><circle cx="1346.7" cy="1876.8" r="11.1"/><circle cx="1272" cy="1877" r="11.3"/><circle cx="1040.2" cy="1877" r="10.4"/><circle cx="1021.1" cy="1877" r="11.2"/><circle cx="1215.3" cy="1877.1" r="14.3"/><circle cx="929" cy="1877.2" r="7.1"/><circle cx="1022.3" cy="1877.3" r="15.9"/><circle cx="1316.8" cy="1877.3" r="21.4"/><circle cx="1300.3" cy="1877.4" r="22.5"/><circle cx="1203.6" cy="1877.4" r="25.1"/><circle cx="1124.3" cy="1877.4" r="7.2"/><circle cx="1146.9" cy="1877.5" r="8"/><circle cx="1043.5" cy="1877.5" r="16.8"/><circle cx="1334" cy="1877.5" r="36.6"/><circle cx="1004.6" cy="1877.6" r="13.6"/><circle cx="1334.3" cy="1877.6" r="11.2"/><circle cx="1062.2" cy="1877.7" r="12.6"/><circle cx="1157" cy="1877.7" r="19.8"/><circle cx="893.1" cy="1877.8" r="7.5"/><circle cx="1149.6" cy="1877.8" r="10.3"/><circle cx="1293.3" cy="1877.9" r="58.5"/><circle cx="1341.3" cy="1878" r="28.2"/><circle cx="1343.7" cy="1878" r="29.6"/><circle cx="910.4" cy="1878" r="9.4"/><circle cx="1128.4" cy="1878.1" r="16.1"/><circle cx="1136.2" cy="1878.1" r="19"/><circle cx="1153.6" cy="1878.2" r="13.4"/><circle cx="1346.6" cy="1878.2" r="10.5"/><circle cx="1047.9" cy="1878.2" r="11.9"/><circle cx="932.4" cy="1878.3" r="5.3"/><circle cx="1260" cy="1878.4" r="26.3"/><circle cx="1296.6" cy="1878.7" r="24.5"/><circle cx="1240.2" cy="1878.7" r="24"/><circle cx="1280.5" cy="1878.7" r="56.7"/><circle cx="1136" cy="1879" r="8.8"/><circle cx="1352.5" cy="1879" r="17.1"/><circle cx="1253.5" cy="1879" r="53"/><circle cx="1047.3" cy="1879" r="12.3"/><circle cx="1313.5" cy="1879" r="53.1"/><circle cx="1196.7" cy="1879" r="13.5"/><circle cx="1150.4" cy="1879.1" r="20.6"/><circle cx="1041.6" cy="1879.1" r="15.5"/><circle cx="1282.2" cy="1879.1" r="10.5"/><circle cx="1072" cy="1879.1" r="7.2"/><circle cx="1121.9" cy="1879.2" r="10.8"/><circle cx="1245.5" cy="1879.2" r="22.6"/><circle cx="1035.4" cy="1879.2" r="15.6"/><circle cx="1175.4" cy="1879.2" r="9"/><circle cx="1258.5" cy="1879.3" r="31.9"/><circle cx="991.8" cy="1879.3" r="7.2"/><circle cx="1251.1" cy="1879.4" r="11.7"/><circle cx="1217.4" cy="1879.5" r="16.6"/><circle cx="1205.1" cy="1879.6" r="15.5"/><circle cx="1183.9" cy="1879.7" r="15.4"/><circle cx="1179.8" cy="1879.7" r="14.1"/><circle cx="1045.6" cy="1879.8" r="13.3"/><circle cx="1117.1" cy="1879.8" r="9"/><circle cx="1216.8" cy="1880.1" r="19.2"/><circle cx="1337.6" cy="1880.1" r="30.1"/><circle cx="1232.7" cy="1880.2" r="21.3"/><circle cx="1195.8" cy="1880.3" r="17.3"/><circle cx="1185" cy="1880.4" r="8.1"/><circle cx="1186.6" cy="1880.5" r="16.2"/><circle cx="1291.4" cy="1880.5" r="27"/><circle cx="1071.4" cy="1880.7" r="7.7"/><circle cx="1030.6" cy="1880.7" r="16.6"/><circle cx="1397.4" cy="1880.8" r="31.6"/><circle cx="935.7" cy="1880.9" r="5.5"/><circle cx="1117.2" cy="1881" r="12.2"/><circle cx="1279.9" cy="1881" r="37.7"/><circle cx="1090.2" cy="1881" r="15.1"/><circle cx="1294.8" cy="1881" r="14.5"/><circle cx="1278.5" cy="1881.1" r="21.1"/><circle cx="1146.3" cy="1881.1" r="29.8"/><circle cx="1017.8" cy="1881.2" r="11.9"/><circle cx="942.3" cy="1881.2" r="7.4"/><circle cx="1210.8" cy="1881.2" r="26.8"/><circle cx="1099.6" cy="1881.3" r="18.4"/><circle cx="901.6" cy="1881.3" r="7.6"/><circle cx="1153.2" cy="1881.4" r="19.5"/><circle cx="1190.9" cy="1881.4" r="28.7"/><circle cx="1265.6" cy="1881.4" r="12.2"/><circle cx="1240.4" cy="1881.4" r="20.2"/><circle cx="1304.9" cy="1881.5" r="21.1"/><circle cx="1310.3" cy="1881.6" r="56"/><circle cx="1213.9" cy="1881.6" r="12.3"/><circle cx="1099.1" cy="1881.7" r="23.3"/><circle cx="1350.5" cy="1881.8" r="17.1"/><circle cx="1062.7" cy="1881.9" r="6.2"/><circle cx="974.8" cy="1881.9" r="7.7"/><circle cx="1092.6" cy="1882.2" r="15"/><circle cx="1194.1" cy="1882.3" r="24.8"/><circle cx="1160.7" cy="1882.3" r="16.3"/><circle cx="1126" cy="1882.3" r="10.6"/><circle cx="911" cy="1882.4" r="6.4"/><circle cx="1268.5" cy="1882.4" r="24.1"/><circle cx="1169.8" cy="1882.5" r="19.1"/><circle cx="1085.1" cy="1882.7" r="22.4"/><circle cx="1253" cy="1882.8" r="47.5"/><circle cx="1114.3" cy="1882.8" r="11.8"/><circle cx="1300.4" cy="1882.9" r="26.5"/><circle cx="1009.8" cy="1882.9" r="16.9"/><circle cx="1256.3" cy="1882.9" r="39.4"/><circle cx="1016.4" cy="1883" r="6.4"/><circle cx="1019.6" cy="1883" r="15"/><circle cx="1036.1" cy="1883" r="16.6"/><circle cx="1008" cy="1883.1" r="8.9"/><circle cx="1105.6" cy="1883.1" r="10.4"/><circle cx="1201" cy="1883.2" r="9"/><circle cx="911.9" cy="1883.2" r="11.3"/><circle cx="1262.1" cy="1883.3" r="52.4"/><circle cx="1081.8" cy="1883.4" r="28.4"/><circle cx="1325.2" cy="1883.5" r="14.8"/><circle cx="901.6" cy="1883.5" r="9.4"/><circle cx="1213.3" cy="1883.5" r="19.8"/><circle cx="1175.8" cy="1883.6" r="19.8"/><circle cx="1223.9" cy="1883.7" r="20.5"/><circle cx="1241.5" cy="1883.7" r="24.2"/><circle cx="1219.6" cy="1883.9" r="14.1"/><circle cx="1099.1" cy="1883.9" r="12.2"/><circle cx="1191.8" cy="1884" r="12"/><circle cx="1189.6" cy="1884.1" r="23.7"/><circle cx="1317.6" cy="1884.1" r="35.2"/><circle cx="1258.1" cy="1884.2" r="10.7"/><circle cx="1304.4" cy="1884.3" r="20"/><circle cx="1141" cy="1884.3" r="12.3"/><circle cx="1099.7" cy="1884.4" r="8.9"/><circle cx="1098.5" cy="1884.4" r="16"/><circle cx="916.8" cy="1884.4" r="5.9"/><circle cx="1237.4" cy="1884.7" r="47.6"/><circle cx="1294.8" cy="1884.7" r="51.6"/><circle cx="1181.6" cy="1884.7" r="17.7"/><circle cx="1047.3" cy="1884.8" r="9.2"/><circle cx="1301.3" cy="1884.9" r="22.1"/><circle cx="1135" cy="1885" r="18.1"/><circle cx="1233.9" cy="1885.1" r="47.3"/><circle cx="1054.5" cy="1885.1" r="6.5"/><circle cx="1166.3" cy="1885.2" r="8"/><circle cx="1094.2" cy="1885.2" r="15.6"/><circle cx="1156" cy="1885.4" r="19.7"/><circle cx="1152.2" cy="1885.4" r="20.3"/><circle cx="966.8" cy="1885.4" r="8.1"/><circle cx="1013.9" cy="1885.4" r="9.4"/><circle cx="1111.8" cy="1885.5" r="16"/><circle cx="945.9" cy="1885.6" r="11.5"/><circle cx="1072" cy="1885.6" r="9.6"/><circle cx="1246.8" cy="1885.7" r="52.2"/><circle cx="1004.5" cy="1885.7" r="12.5"/><circle cx="1069" cy="1885.7" r="14"/><circle cx="988.3" cy="1885.7" r="7.8"/><circle cx="1073.9" cy="1885.7" r="13.3"/><circle cx="1044.5" cy="1885.7" r="10.1"/><circle cx="1075.3" cy="1885.9" r="16.1"/><circle cx="1066.9" cy="1885.9" r="10.6"/><circle cx="1119.3" cy="1886" r="14.1"/><circle cx="1110" cy="1886" r="9.5"/><circle cx="1151.2" cy="1886" r="10.4"/><circle cx="1346.1" cy="1886" r="18.6"/><circle cx="1209.7" cy="1886" r="19"/><circle cx="1136.3" cy="1886.1" r="18.2"/><circle cx="1088.7" cy="1886.1" r="8.6"/><circle cx="1083.8" cy="1886.1" r="18.3"/><circle cx="918.1" cy="1886.1" r="9.5"/><circle cx="1162.7" cy="1886.3" r="12"/><circle cx="1104.5" cy="1886.3" r="6"/><circle cx="1327.1" cy="1886.3" r="28.9"/><circle cx="1179" cy="1886.4" r="24.3"/><circle cx="1224" cy="1886.4" r="23.8"/><circle cx="1099.7" cy="1886.4" r="16"/><circle cx="970.1" cy="1886.4" r="7.7"/><circle cx="1164.3" cy="1886.5" r="22.8"/><circle cx="947.8" cy="1886.5" r="9"/><circle cx="930.6" cy="1886.5" r="8.2"/><circle cx="1099.9" cy="1886.5" r="29.9"/><circle cx="1110.3" cy="1886.6" r="9"/><circle cx="1261.4" cy="1886.7" r="12.2"/><circle cx="980.6" cy="1886.7" r="6"/><circle cx="1056.7" cy="1886.7" r="11.4"/><circle cx="997.8" cy="1886.7" r="13.1"/><circle cx="1194.3" cy="1886.8" r="12.2"/><circle cx="1319.2" cy="1886.8" r="14.7"/><circle cx="921.1" cy="1886.9" r="5.7"/><circle cx="1143.9" cy="1886.9" r="13.1"/><circle cx="1318.5" cy="1886.9" r="19.2"/><circle cx="1220.2" cy="1887" r="10.2"/><circle cx="1163.4" cy="1887" r="20.9"/><circle cx="954.8" cy="1887.1" r="9.1"/><circle cx="1011" cy="1887.1" r="15.3"/><circle cx="1290.6" cy="1887.1" r="29.5"/><circle cx="1210.1" cy="1887.2" r="7.7"/><circle cx="953.7" cy="1887.2" r="13.7"/><circle cx="1352.8" cy="1887.3" r="23"/><circle cx="1099.8" cy="1887.3" r="13.4"/><circle cx="1351" cy="1887.3" r="11.7"/><circle cx="1106.2" cy="1887.3" r="15.7"/><circle cx="1140.5" cy="1887.3" r="7.9"/><circle cx="1009.5" cy="1887.3" r="8.3"/><circle cx="1190.3" cy="1887.4" r="21.1"/><circle cx="1119.7" cy="1887.5" r="22.7"/><circle cx="962" cy="1887.6" r="5.7"/><circle cx="1112.4" cy="1887.7" r="13.5"/><circle cx="1139.9" cy="1887.7" r="9.9"/><circle cx="1136.8" cy="1887.7" r="21.3"/><circle cx="1219.2" cy="1887.8" r="10.9"/><circle cx="1152.5" cy="1887.9" r="21"/><circle cx="980.6" cy="1887.9" r="10.2"/><circle cx="1251.8" cy="1887.9" r="12.5"/><circle cx="1187.2" cy="1887.9" r="19.4"/><circle cx="1110.1" cy="1887.9" r="8.2"/><circle cx="935.3" cy="1888" r="11.5"/><circle cx="976.3" cy="1888" r="10"/><circle cx="953.6" cy="1888.1" r="9.8"/><circle cx="1021.5" cy="1888.1" r="17.4"/><circle cx="1333.8" cy="1888.2" r="27.1"/><circle cx="1093.3" cy="1888.2" r="16.1"/><circle cx="1122" cy="1888.2" r="14.6"/><circle cx="1124.6" cy="1888.3" r="16.6"/><circle cx="1332.5" cy="1888.4" r="17.1"/><circle cx="1255.2" cy="1888.5" r="17"/><circle cx="1068.2" cy="1888.5" r="14.1"/><circle cx="1235.2" cy="1888.6" r="17.7"/><circle cx="1252.2" cy="1888.6" r="30.3"/><circle cx="1124.5" cy="1888.6" r="19.1"/><circle cx="1214.3" cy="1888.6" r="9"/><circle cx="910" cy="1888.6" r="6.8"/><circle cx="973.6" cy="1888.7" r="12.4"/><circle cx="1151.7" cy="1888.7" r="11.3"/><circle cx="1260.5" cy="1888.8" r="17.9"/><circle cx="1154.8" cy="1888.8" r="18.3"/><circle cx="1292.2" cy="1888.9" r="13.4"/><circle cx="1006.8" cy="1888.9" r="18.6"/><circle cx="1328" cy="1888.9" r="20.3"/><circle cx="1290.6" cy="1888.9" r="25.8"/><circle cx="1350.7" cy="1889" r="13.3"/><circle cx="1174.3" cy="1889" r="25.5"/><circle cx="974.9" cy="1889.1" r="6.6"/><circle cx="1276.9" cy="1889.1" r="46.2"/><circle cx="904.7" cy="1889.1" r="7.2"/><circle cx="922.5" cy="1889.1" r="6.8"/><circle cx="1038.3" cy="1889.2" r="11.2"/><circle cx="1061.3" cy="1889.2" r="18.8"/><circle cx="1161.5" cy="1889.3" r="21"/><circle cx="931.5" cy="1889.3" r="13.1"/><circle cx="1208.7" cy="1889.4" r="19.7"/><circle cx="1115.3" cy="1889.4" r="26.1"/><circle cx="1280.3" cy="1889.4" r="14.3"/><circle cx="903.6" cy="1889.5" r="11.3"/><circle cx="1351.6" cy="1889.5" r="31.9"/><circle cx="1350.5" cy="1889.6" r="26.1"/><circle cx="1104.8" cy="1889.6" r="30.8"/><circle cx="1024.2" cy="1889.6" r="14"/><circle cx="1296.5" cy="1889.6" r="32.5"/><circle cx="1101.4" cy="1889.6" r="18.3"/><circle cx="1177.2" cy="1889.6" r="22"/><circle cx="1175.7" cy="1889.7" r="27.8"/><circle cx="951.2" cy="1889.7" r="12.6"/><circle cx="1103.4" cy="1889.8" r="11"/><circle cx="1201.4" cy="1889.8" r="15.1"/><circle cx="1337.5" cy="1889.8" r="44.3"/><circle cx="1291.2" cy="1889.9" r="16.9"/><circle cx="1190.6" cy="1889.9" r="22"/><circle cx="1347.9" cy="1889.9" r="26.7"/><circle cx="1318" cy="1890" r="52.3"/><circle cx="1214.4" cy="1890" r="8"/><circle cx="1343.5" cy="1890.1" r="26"/><circle cx="1263.8" cy="1890.2" r="16.7"/><circle cx="981.3" cy="1890.2" r="7"/><circle cx="950.4" cy="1890.3" r="10.6"/><circle cx="1181.4" cy="1890.3" r="23.3"/><circle cx="1166.3" cy="1890.4" r="22"/><circle cx="912.7" cy="1890.4" r="13.6"/><circle cx="947.8" cy="1890.4" r="9.5"/><circle cx="918.7" cy="1890.4" r="13"/><circle cx="1128.3" cy="1890.4" r="7.3"/><circle cx="1317.2" cy="1890.5" r="39.2"/><circle cx="1124.9" cy="1890.5" r="13.3"/><circle cx="1332.3" cy="1890.5" r="24.2"/><circle cx="1047.8" cy="1890.5" r="10.9"/><circle cx="1264.3" cy="1890.5" r="29.2"/><circle cx="1080.2" cy="1890.5" r="5.6"/><circle cx="1027.8" cy="1890.5" r="19.5"/><circle cx="1275.8" cy="1890.5" r="43.6"/><circle cx="1047.4" cy="1890.6" r="10.2"/><circle cx="930.3" cy="1890.6" r="6.4"/><circle cx="1124.1" cy="1890.6" r="6.3"/><circle cx="1321.5" cy="1890.6" r="21.1"/><circle cx="1082.2" cy="1890.6" r="14.3"/><circle cx="925.1" cy="1890.6" r="13.9"/><circle cx="1086" cy="1890.6" r="9.5"/><circle cx="1054.1" cy="1890.6" r="15.5"/><circle cx="1029.6" cy="1890.6" r="17.9"/><circle cx="1129.3" cy="1890.6" r="10.6"/><circle cx="1307.1" cy="1890.7" r="25.8"/><circle cx="1260.9" cy="1890.7" r="42"/><circle cx="1109.3" cy="1890.7" r="25"/><circle cx="1087.8" cy="1890.7" r="19"/><circle cx="947.8" cy="1890.7" r="14.5"/><circle cx="1178.1" cy="1890.7" r="7.7"/><circle cx="1199" cy="1890.7" r="18"/><circle cx="1241.6" cy="1890.7" r="43.3"/><circle cx="981.5" cy="1890.7" r="8.5"/><circle cx="1219.3" cy="1890.7" r="14.7"/><circle cx="1347.3" cy="1890.7" r="43.4"/><circle cx="985.6" cy="1890.7" r="9.2"/><circle cx="1113.3" cy="1890.7" r="11.3"/><circle cx="1286.1" cy="1890.7" r="42.1"/><circle cx="1259" cy="1890.7" r="41.6"/><circle cx="1264" cy="1890.8" r="16.2"/><circle cx="1148.6" cy="1890.8" r="17.5"/><circle cx="1175.5" cy="1890.8" r="16.4"/><circle cx="1029.5" cy="1890.8" r="11.6"/><circle cx="1130.5" cy="1890.8" r="12.8"/><circle cx="1210" cy="1890.8" r="36.6"/><circle cx="984.3" cy="1890.8" r="17.4"/><circle cx="1153.4" cy="1890.8" r="17.5"/><circle cx="1352.6" cy="1890.8" r="24.5"/><circle cx="1122.2" cy="1890.8" r="19.2"/><circle cx="953.1" cy="1890.8" r="16.9"/><circle cx="1333.6" cy="1890.8" r="22.3"/><circle cx="1034.2" cy="1890.9" r="14.5"/><circle cx="1181.3" cy="1890.9" r="6.3"/><circle cx="1253.6" cy="1890.9" r="9.1"/><circle cx="1094" cy="1890.9" r="11"/><circle cx="1178.2" cy="1890.9" r="7.4"/><circle cx="1096.3" cy="1890.9" r="19.2"/><circle cx="1079.6" cy="1890.9" r="5.2"/><circle cx="1322.6" cy="1890.9" r="32.1"/><circle cx="1314.7" cy="1890.9" r="42.8"/><circle cx="1025.1" cy="1890.9" r="16.2"/><circle cx="1020.3" cy="1890.9" r="19.8"/><circle cx="945.9" cy="1890.9" r="9.3"/><circle cx="1316.2" cy="1890.9" r="24.5"/><circle cx="1014.5" cy="1890.9" r="16.2"/><circle cx="954.5" cy="1890.9" r="15.3"/><circle cx="1023.8" cy="1890.9" r="14.5"/><circle cx="1188.6" cy="1890.9" r="15.3"/><circle cx="1348.5" cy="1890.9" r="27.4"/><circle cx="1152.4" cy="1891" r="19"/><circle cx="1123.2" cy="1891" r="18.3"/><circle cx="1138.5" cy="1891" r="19.4"/><circle cx="1064.3" cy="1891" r="13.8"/><circle cx="1120.6" cy="1891" r="12.8"/><circle cx="1033.3" cy="1891" r="13.8"/><circle cx="905.9" cy="1891" r="11.2"/><circle cx="956.3" cy="1891" r="11"/><circle cx="1084" cy="1891" r="17.8"/><circle cx="1149.1" cy="1891" r="11.4"/><circle cx="1093" cy="1891" r="6.3"/><circle cx="944.8" cy="1891" r="11.6"/><circle cx="1293.4" cy="1891" r="39.6"/><circle cx="1256.2" cy="1891" r="34.6"/><circle cx="1092.3" cy="1891" r="8.7"/><circle cx="1097.3" cy="1891" r="8.9"/><circle cx="1106.8" cy="1891" r="8.7"/><circle cx="1212.1" cy="1891" r="8.6"/><circle cx="963.3" cy="1891" r="7.8"/><circle cx="1186.6" cy="1891" r="7.3"/><circle cx="1039.9" cy="1891" r="7.2"/><circle cx="1020.7" cy="1891" r="6.7"/><circle cx="1148.3" cy="1891" r="6.7"/><circle cx="1148.3" cy="1891" r="6"/><circle cx="1167.5" cy="1891" r="6"/><circle cx="1180.2" cy="1891" r="5.9"/><circle cx="1059" cy="1891" r="5.3"/><circle cx="1059" cy="1891" r="5.1"/><circle cx="1078.1" cy="1891" r="4.6"/><circle cx="1122.8" cy="1891" r="4.3"/><circle cx="1122.8" cy="1891" r="4.2"/><circle cx="1001.6" cy="1891" r="3.7"/><circle cx="1059" cy="1891" r="3.2"/><circle cx="1060.3" cy="1891" r="2.6"/><circle cx="1059" cy="1891" r="2"/><circle cx="1122.8" cy="1891" r="1.2"/><circle cx="966.1" cy="1891.1" r="19.1"/><circle cx="1091.8" cy="1891.1" r="10.7"/><circle cx="1207.9" cy="1891.1" r="14.8"/><circle cx="987.6" cy="1891.1" r="13.7"/><circle cx="1307.2" cy="1891.1" r="10"/><circle cx="1124" cy="1891.1" r="14.3"/><circle cx="1059" cy="1891.1" r="7.2"/><circle cx="1323.8" cy="1891.1" r="39.8"/><circle cx="1140.8" cy="1891.1" r="11.6"/><circle cx="956.8" cy="1891.1" r="9.9"/><circle cx="1316.2" cy="1891.1" r="28.5"/><circle cx="1214.6" cy="1891.1" r="21.2"/><circle cx="1047.9" cy="1891.1" r="14.4"/><circle cx="1227.8" cy="1891.2" r="39.6"/><circle cx="1332" cy="1891.2" r="11.8"/><circle cx="1215.8" cy="1891.2" r="36.9"/><circle cx="1193.8" cy="1891.2" r="18.8"/><circle cx="1315.5" cy="1891.2" r="13.6"/><circle cx="1209.3" cy="1891.2" r="44.2"/><circle cx="1225.2" cy="1891.2" r="45"/><circle cx="1247.3" cy="1891.2" r="35.3"/><circle cx="1032.5" cy="1891.2" r="7.6"/><circle cx="1036.9" cy="1891.2" r="7.4"/><circle cx="1005.6" cy="1891.2" r="10.4"/><circle cx="1292.3" cy="1891.3" r="45.7"/><circle cx="1249.9" cy="1891.3" r="39.5"/><circle cx="1059.9" cy="1891.3" r="6.4"/><circle cx="983.6" cy="1891.3" r="18"/><circle cx="1169.8" cy="1891.3" r="16.9"/><circle cx="1039" cy="1891.3" r="12.9"/><circle cx="1313" cy="1891.3" r="14"/><circle cx="1145.7" cy="1891.3" r="17.5"/><circle cx="1061.5" cy="1891.3" r="10.7"/><circle cx="1338.2" cy="1891.3" r="14.7"/><circle cx="938.7" cy="1891.3" r="6.2"/><circle cx="940.4" cy="1891.3" r="8.4"/><circle cx="1085.6" cy="1891.3" r="15"/><circle cx="1113.5" cy="1891.3" r="9.1"/><circle cx="1018.7" cy="1891.3" r="5.3"/><circle cx="1202.5" cy="1891.4" r="12.9"/><circle cx="960.6" cy="1891.4" r="6.1"/><circle cx="1086.5" cy="1891.4" r="18.9"/><circle cx="1124.6" cy="1891.4" r="15.4"/><circle cx="1117.1" cy="1891.4" r="5.5"/><circle cx="1044.5" cy="1891.4" r="10"/><circle cx="1006.8" cy="1891.4" r="14.1"/><circle cx="1065.6" cy="1891.4" r="10.8"/><circle cx="1041.7" cy="1891.4" r="9.5"/><circle cx="1072.8" cy="1891.4" r="9.5"/><circle cx="1308.5" cy="1891.4" r="32.8"/><circle cx="1172.4" cy="1891.4" r="10.7"/><circle cx="986" cy="1891.4" r="13.1"/><circle cx="1183.3" cy="1891.4" r="12.9"/><circle cx="954.7" cy="1891.5" r="15"/><circle cx="1103.9" cy="1891.5" r="19.8"/><circle cx="1037.8" cy="1891.5" r="11.8"/><circle cx="1105.1" cy="1891.5" r="18.3"/><circle cx="1044.2" cy="1891.5" r="6.2"/><circle cx="1264.3" cy="1891.5" r="14.7"/><circle cx="1225.3" cy="1891.5" r="33"/><circle cx="964.8" cy="1891.5" r="13.2"/><circle cx="987.2" cy="1891.5" r="6.7"/><circle cx="1018.4" cy="1891.5" r="11.3"/><circle cx="944.5" cy="1891.5" r="20"/><circle cx="1250.8" cy="1891.6" r="34.7"/><circle cx="1318.4" cy="1891.6" r="32.7"/><circle cx="1155.5" cy="1891.6" r="11.2"/><circle cx="1272.9" cy="1891.6" r="28.4"/><circle cx="1324.4" cy="1891.6" r="17.5"/><circle cx="987.1" cy="1891.6" r="11.2"/><circle cx="1284.8" cy="1891.6" r="27.6"/><circle cx="1019.9" cy="1891.6" r="6"/><circle cx="1019.8" cy="1891.6" r="11.3"/><circle cx="1050.7" cy="1891.6" r="8.1"/><circle cx="1334.7" cy="1891.6" r="20.8"/><circle cx="1217.5" cy="1891.6" r="24.2"/><circle cx="1301.8" cy="1891.6" r="22.3"/><circle cx="1072.6" cy="1891.6" r="11.7"/><circle cx="1180.9" cy="1891.8" r="24"/><circle cx="1155.5" cy="1892" r="21.1"/><circle cx="1239.2" cy="1892" r="18.6"/><circle cx="1241.4" cy="1892.3" r="29.1"/><circle cx="1106" cy="1892.8" r="16"/><circle cx="1195.8" cy="1893" r="24.2"/><circle cx="1141" cy="1893.2" r="16.3"/><circle cx="1190.2" cy="1893.3" r="27.5"/><circle cx="1142.9" cy="1893.8" r="25.1"/></g>
<path d="M811.1 1816.6H1611.3" stroke="#f3a01e" stroke-width="1.7" fill="none"/>
<text x="1505.4" y="987.6" font-size="21.3" text-anchor="middle">1</text>
<text x="934" y="1255.2" font-size="21.3" text-anchor="middle">2</text>
<text x="1573.8" y="1293.3" font-size="21.3" text-anchor="middle">3</text>
<text x="1509.4" y="1340" font-size="21.3" text-anchor="middle">4</text>
<text x="1596.9" y="1407.1" font-size="21.3" text-anchor="middle">5</text>
<text x="1379.8" y="1377.5" font-size="21.3" text-anchor="middle">6</text>
<text x="1514.6" y="1413" font-size="21.3" text-anchor="middle">7</text>
<text x="1294.4" y="1473.6" font-size="21.3" text-anchor="middle">8</text>
<text x="1413.4" y="1536.5" font-size="21.3" text-anchor="middle">9</text>
<text x="1340.4" y="1545" font-size="21.3" text-anchor="middle">10</text>
<text x="1313.4" y="1572" font-size="21.3" text-anchor="middle">11</text>
<text x="1335.8" y="1603.6" font-size="21.3" text-anchor="middle">12</text>
<text x="1316.7" y="1627.2" font-size="21.3" text-anchor="middle">13</text>
<text x="1264.8" y="1635.8" font-size="21.3" text-anchor="middle">14</text>
<text x="1299" y="1647" font-size="21.3" text-anchor="middle">15</text>
<text x="803.2" y="1899.8" font-size="21.4" text-anchor="end">0</text>
<text x="803.2" y="1612.2" font-size="21.4" text-anchor="end">5</text>
<text x="803.2" y="1324.8" font-size="21.4" text-anchor="end">10</text>
<text x="803.2" y="1037.2" font-size="21.4" text-anchor="end">15</text>
<text x="867.6" y="1961" font-size="21.4" text-anchor="middle">−3</text>
<text x="1059" y="1961" font-size="21.4" text-anchor="middle">0</text>
<text x="1250.4" y="1961" font-size="21.4" text-anchor="middle">3</text>
<text x="1441.8" y="1961" font-size="21.4" text-anchor="middle">6</text>
<text class="b" font-size="22.65" text-anchor="middle" transform="translate(767.5 1438.4) rotate(-90)">−log (adj P value)</text>
<text class="b" font-size="23.4" text-anchor="middle" x="1211" y="1986.6">z–score</text>
<text class="b" font-size="19.4" x="748" y="1984">Anti-CD80/86</text>
<text class="b" font-size="19.4" x="1577.6" y="1984.1">Control</text>
<text x="812.3" y="2015.2" font-size="22.67">1. Inflammatory response</text>
<text x="812.3" y="2045" font-size="22.67">2. Extracellular matrix organization</text>
<text x="812.3" y="2074.8" font-size="22.67">3. Neutrophil activation involved in immune response</text>
<text x="812.3" y="2104.6" font-size="22.67">4. Neutrophil degranulation</text>
<text x="812.3" y="2134.4" font-size="22.67">5. Neutrophil mediated immunity</text>
<text x="812.3" y="2164.2" font-size="22.67">6. Cellular response to cytokine stimulus</text>
<text x="812.3" y="2194" font-size="22.67">7. Cytokine-mediated signaling pathway</text>
<text x="812.3" y="2223.8" font-size="22.67">8. Positive regulation of cytkine biosynthetic process</text>
<text x="1363.4" y="2019.8" font-size="22.65">9. T cell activation</text>
<text x="1353.5" y="2049.9" font-size="22.65">10. Positive regulation of lymphocyte proliferation</text>
<text x="1353.5" y="2080.1" font-size="22.65">11. Regulation of T cell activation</text>
<text x="1353.5" y="2110.2" font-size="22.65">12. Regulation of B cell activation</text>
<text x="1353.5" y="2140.4" font-size="22.65">13. Positive regulation of T cell activation</text>
<text x="1353.5" y="2170.6" font-size="22.65">14. Positive regulation of T cell proliferation</text>
<text x="1353.5" y="2200.7" font-size="22.65">15. Positive regulation of interferon-gamma production</text>
</g>
</svg></body></html>
